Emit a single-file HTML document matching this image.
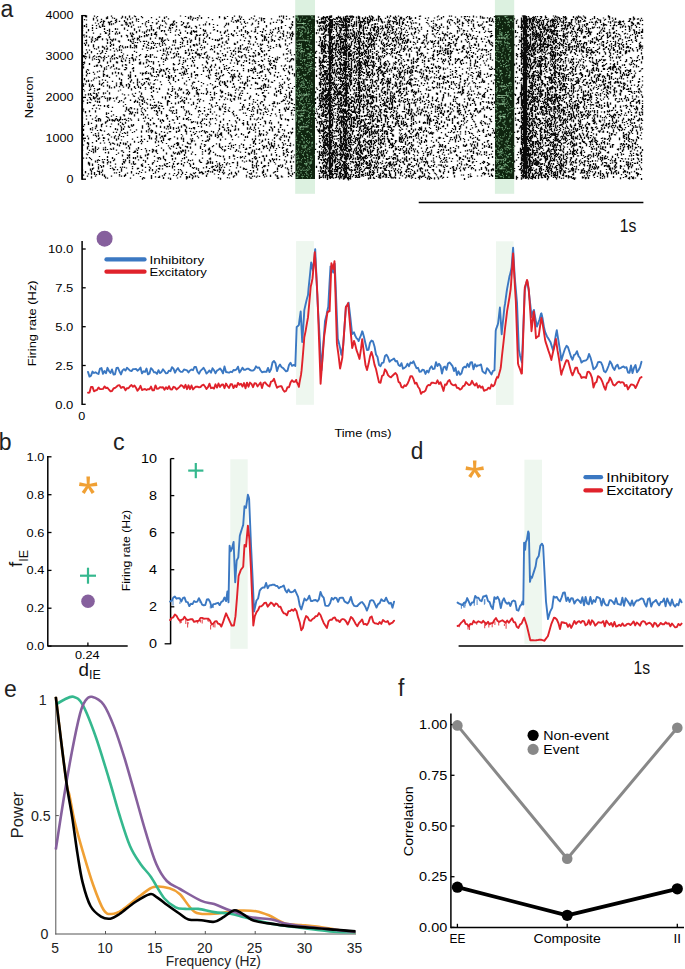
<!DOCTYPE html>
<html><head><meta charset="utf-8"><style>
html,body{margin:0;padding:0;background:#fff;width:685px;height:969px;overflow:hidden;position:relative}
text{font-family:"Liberation Sans",sans-serif}
</style></head><body>
<svg width="685" height="969" viewBox="0 0 685 969" style="position:absolute;left:0;top:0;font-family:'Liberation Sans', sans-serif">
<rect x="0" y="0" width="685" height="969" fill="#fff"/>
<text x="0.6" y="17" font-size="23" text-anchor="start" fill="#222">a</text>
<text x="-1.2" y="450.1" font-size="23" text-anchor="start" fill="#222">b</text>
<text x="113" y="450.4" font-size="23" text-anchor="start" fill="#222" textLength="11.6" lengthAdjust="spacingAndGlyphs">c</text>
<text x="410.8" y="459.3" font-size="23" text-anchor="start" fill="#222" textLength="12.6" lengthAdjust="spacingAndGlyphs">d</text>
<text x="4" y="696.7" font-size="23" text-anchor="start" fill="#222">e</text>
<text x="398" y="695.7" font-size="23" text-anchor="start" fill="#222">f</text>
<rect x="295.2" y="0" width="19.8" height="193.8" fill="#dcf1e0"/>
<rect x="494.9" y="0" width="19.3" height="193.8" fill="#dcf1e0"/>
<path d="M82 21.4v1.2m0 2.1v2.1m0 -0.2v1.2m0 -0.8v2.1m0 0.9v1.2m0 4.2v1.2m0 15v1.2m0 22v1.2m0 8.4v2.1m0 -0.6v1.2m0 10.8v1.2m0 3.4v1.2m0 5.5v1.2m0 7v1.2m0 31.2v1.2m0 18.5v1.2M83 34.5v1.2m0 19.3v1.2m0 5.9v1.2m0 0.7v1.2m0 1.1v2.1m0 14.8v1.2m0 0.3v2.1m0 2.1v1.2m0 10.5v1.2m0 6.8v1.2m0 0.6v1.2m0 14.2v1.2m0 1.8v2.1m0 2.9v2.1m0 2.4v1.2m0 4.9v1.2m0 11.9v1.2m0 15.9v1.2M84 19v1.2m0 4.7v2.1m0 7.4v1.2m0 0.8v1.2m0 5.1v1.2m0 11.7v2.1m0 3.9v2.1m0 14.4v2.1m0 10.2v1.2m0 32.5v1.2m0 15v1.2M85 16v1.2m0 22.7v1.2m0 2.9v2.1m0 7v1.2m0 -1v1.2m0 3.6v1.2m0 24.2v1.2m0 9.5v1.2m0 15.7v2.1m0 57.9v2.1M86 15.3v2.1m0 2v1.2m0 3.2v1.2m0 0.4v1.2m0 -0.4v1.2m0 4.4v1.2m0 -0.9v1.2m0 1.9v2.1m0 2.1v1.2m0 -0.8v1.2m0 0.6v2.1m0 5.5v1.2m0 5.9v1.2m0 13.1v1.2m0 -0v1.2m0 1.4v1.2m0 -1.1v2.1m0 3.6v2.1m0 32.9v1.2m0 2.1v1.2m0 33.7v1.2m0 2.9v1.2M87 51.6v1.2m0 -0.6v1.2m0 15.5v1.2m0 3v1.2m0 25.2v1.2m0 1.2v2.1m0 31.6v1.2m0 5.2v2.1m0 2.3v2.1m0 -1.2v2.1m0 -1v1.2m0 4.4v1.2m0 20.3v1.2M88 29.1v2.1m0 13.2v2.1m0 23v1.2m0 9.1v1.2m0 -0.3v1.2m0 11.3v2.1m0 -1.9v2.1m0 26.1v1.2m0 0v2.1m0 12.5v2.1m0 3.1v1.2m0 -0.1v1.2m0 0.5v1.2m0 -1v1.2m0 5.2v1.2m0 8.5v2.1m0 -0.6v1.2m0 8.9v1.2M89 36.6v1.2m0 11.8v1.2m0 3.6v1.2m0 0.6v1.2m0 0v1.2m0 4.3v2.1m0 7.8v1.2m0 9.4v1.2m0 -0.9v2.1m0 0v1.2m0 2.8v1.2m0 5.9v1.2m0 3.7v1.2m0 7.2v2.1m0 -1.6v1.2m0 37.8v1.2m0 6.2v1.2m0 4.1v1.2m0 -0.3v2.1m0 -0.8v1.2M90 87.4v1.2m0 0.3v1.2m0 3v2.1m0 2.4v2.1m0 -1v1.2m0 2.2v1.2m0 11.7v1.2m0 11.8v1.2m0 -0.1v1.2m0 27.6v1.2m0 9.4v1.2m0 -1.1v2.1M91 38.6v1.2m0 0.7v1.2m0 -0.1v1.2m0 8.3v2.1m0 27v1.2m0 4.2v1.2m0 7.9v1.2m0 3.4v1.2m0 22.3v1.2m0 7.9v1.2m0 17.7v1.2m0 7v1.2m0 10.1v2.1m0 0.3v2.1m0 1.5v2.1M92 24.7v1.2m0 1.2v2.1m0 0.7v1.2m0 5.3v2.1m0 1.1v1.2m0 16.6v1.2m0 0.7v1.2m0 23.5v2.1m0 -1.6v1.2m0 22.4v1.2m0 9.2v1.2m0 7.5v1.2m0 0.8v1.2m0 11.6v1.2m0 2.5v1.2m0 1.6v1.2m0 13.8v1.2m0 0.1v1.2m0 1.9v2.1M93 17.8v1.2m0 -0.7v2.1m0 12.2v1.2m0 10.5v2.1m0 -0.2v1.2m0 8.7v1.2m0 14.5v1.2m0 6.3v1.2m0 5.2v1.2m0 5.7v1.2m0 2.1v1.2m0 -0.4v2.1m0 -1v1.2m0 6v1.2m0 28.4v1.2m0 12.8v2.1m0 0.5v2.1m0 14.2v1.2M94 15.5v1.2m0 24.3v1.2m0 5.9v1.2m0 5.9v1.2m0 1.9v1.2m0 6.3v1.2m0 6.5v1.2m0 2.9v1.2m0 9.2v1.2m0 1v1.2m0 1.3v1.2m0 3.4v2.1m0 5.1v1.2m0 66.3v1.2m0 -0.6v2.1m0 -1v1.2M95 22.4v1.2m0 14.3v1.2m0 0.5v1.2m0 56.5v1.2m0 2v1.2m0 8.6v2.1m0 4.9v1.2m0 1.4v1.2m0 5.3v1.2m0 0.5v1.2m0 3.8v1.2m0 0.4v1.2m0 10.3v2.1m0 -0.9v2.1m0 0.2v1.2m0 0.2v1.2m0 -1.1v1.2m0 8v1.2m0 -1.1v2.1m0 12.9v1.2M96 17.3v1.2m0 6.6v1.2m0 1.5v1.2m0 10.2v1.2m0 8.2v1.2m0 6.7v1.2m0 1.2v1.2m0 4.6v2.1m0 10.6v1.2m0 14.5v2.1m0 0.3v2.1m0 9.9v1.2m0 6.8v1.2m0 3v2.1m0 2.7v2.1m0 -0.2v1.2m0 7.9v1.2m0 -0.6v1.2m0 2.7v2.1m0 31.9v1.2M97 15.9v1.2m0 2.3v2.1m0 15.4v1.2m0 0.1v2.1m0 -1.9v2.1m0 12.5v1.2m0 10.3v2.1m0 4.7v1.2m0 16.2v2.1m0 3.7v1.2m0 -0.3v1.2m0 1.6v1.2m0 1.3v2.1m0 27.1v1.2m0 17.8v1.2m0 9.6v1.2m0 0.6v1.2m0 7.8v1.2M98 23.3v1.2m0 -1.1v1.2m0 11.5v2.1m0 8.1v2.1m0 7.6v1.2m0 1.5v1.2m0 2.1v1.2m0 13v1.2m0 11.4v1.2m0 2.3v1.2m0 5.1v1.2m0 5v1.2m0 12.1v2.1m0 0.1v1.2m0 11v1.2m0 0.9v2.1m0 1.2v2.1m0 7.5v1.2m0 10.6v1.2m0 3.5v1.2m0 1v1.2m0 0.2v1.2m0 -0.4v1.2m0 1.3v1.2M99 25.4v2.1m0 8.3v2.1m0 12.6v1.2m0 4.1v1.2m0 2.5v1.2m0 -0.1v2.1m0 7.8v1.2m0 5.1v1.2m0 2.5v1.2m0 0.9v1.2m0 -1v2.1m0 3.1v2.1m0 7.3v2.1m0 1.3v2.1m0 5.3v1.2m0 8.6v1.2m0 18.3v1.2m0 17.2v1.2m0 2.8v1.2m0 9.7v2.1m0 0.1v2.1M100 21.7v1.2m0 3.8v1.2m0 5.6v1.2m0 1.4v1.2m0 15.8v1.2m0 1.9v1.2m0 7.3v1.2m0 39.1v1.2m0 12.6v2.1m0 -0.6v1.2m0 7.4v2.1m0 11.5v1.2m0 21.2v1.2M101 18.8v1.2m0 0.8v1.2m0 30.2v1.2m0 3.8v1.2m0 7v2.1m0 16.2v2.1m0 10.6v1.2m0 26.3v1.2m0 -0v2.1m0 2.8v1.2m0 34.7v2.1m0 3.7v1.2M102 23.7v2.1m0 -0.8v2.1m0 11.2v1.2m0 -0.5v1.2m0 5.5v2.1m0 2.1v2.1m0 -0.4v1.2m0 26.5v1.2m0 -1.2v1.2m0 2.6v1.2m0 11.6v1.2m0 26.4v1.2m0 9.8v1.2m0 23.3v1.2m0 1.2v1.2m0 7v2.1m0 -1.6v1.2m0 2.4v2.1M103 20.2v2.1m0 -1.4v1.2m0 -0.3v1.2m0 0.2v1.2m0 1v1.2m0 20v1.2m0 9.2v1.2m0 1.3v2.1m0 8.8v2.1m0 0.8v1.2m0 0v2.1m0 -0.7v1.2m0 5v1.2m0 2.3v1.2m0 5.5v2.1m0 42.5v2.1m0 1.1v1.2m0 6.1v1.2m0 0.4v1.2m0 -1.1v1.2m0 11v2.1m0 -1.8v1.2m0 2.2v2.1m0 -2v2.1M104 20.8v1.2m0 3.8v1.2m0 1.1v1.2m0 -0.4v1.2m0 0.8v1.2m0 15.2v2.1m0 6v2.1m0 0.8v1.2m0 7.7v1.2m0 -0.2v2.1m0 -1.8v1.2m0 4.3v1.2m0 21v1.2m0 7.6v2.1m0 23.5v1.2m0 5.8v1.2m0 3.6v1.2m0 15.3v1.2m0 14.5v2.1m0 -0.9v1.2M105 31.9v2.1m0 18.9v1.2m0 25.6v1.2m0 11.6v1.2m0 4.1v1.2m0 22.6v2.1m0 23.1v1.2m0 0.5v2.1m0 1.4v1.2m0 23.3v2.1m0 -1.9v1.2M106 17.2v2.1m0 13.3v1.2m0 4.6v1.2m0 5.9v1.2m0 1.8v1.2m0 -1.2v1.2m0 -1.1v1.2m0 1v1.2m0 4.9v1.2m0 8.1v1.2m0 1.2v1.2m0 5.5v1.2m0 35.8v1.2m0 -0.7v2.1m0 1.2v1.2m0 4v1.2m0 3.1v1.2M107 16.3v2.1m0 -0.6v1.2m0 10.9v1.2m0 8.1v2.1m0 0.6v2.1m0 3.5v1.2m0 -0.1v1.2m0 11.8v2.1m0 11v2.1m0 -1v1.2m0 4.6v1.2m0 1.7v2.1m0 3.9v1.2m0 5.9v2.1m0 0.6v1.2m0 3.7v2.1m0 9.4v1.2m0 1.8v2.1m0 12.1v1.2m0 13.8v1.2m0 5.9v2.1m0 0.9v2.1m0 1v1.2m0 0.1v1.2m0 12.9v1.2M108 21.5v1.2m0 -0.7v1.2m0 11.3v1.2m0 19.8v1.2m0 8.4v1.2m0 38.5v1.2m0 0.8v1.2m0 4.8v1.2m0 3.3v1.2m0 14.7v1.2m0 4.1v2.1m0 11v2.1m0 7.5v1.2M109 21.9v2.1m0 0.1v1.2m0 3.4v2.1m0 -0.6v2.1m0 0.4v2.1m0 1.4v2.1m0 38.5v1.2m0 7.4v2.1m0 -0.3v1.2m0 3.9v2.1m0 2.9v2.1m0 -1.1v1.2m0 -1v2.1m0 18.2v2.1m0 13.7v1.2m0 6v1.2M110 21.3v1.2m0 16.2v1.2m0 1.7v1.2m0 0v1.2m0 1v2.1m0 2.2v1.2m0 7.7v1.2m0 0.8v2.1m0 5.1v1.2m0 28.6v2.1m0 -1.5v1.2m0 27.1v1.2m0 15.9v2.1m0 2.9v1.2m0 11.8v2.1m0 1.9v1.2m0 1.5v1.2M111 15.6v1.2m0 4v1.2m0 1.2v2.1m0 14.3v1.2m0 3.3v1.2m0 11.3v1.2m0 8.4v1.2m0 19.9v1.2m0 22.2v1.2m0 3.7v1.2m0 2.6v1.2m0 2.8v1.2m0 11.8v1.2m0 11.2v1.2m0 25.5v1.2M112 17.2v1.2m0 12.5v1.2m0 7.5v2.1m0 13.2v2.1m0 1.3v1.2m0 12.8v2.1m0 6.3v1.2m0 24.9v1.2m0 11.1v1.2m0 -0.1v1.2m0 21.1v1.2m0 13.3v2.1m0 8.5v1.2M113 23.2v1.2m0 14.1v2.1m0 3.2v2.1m0 1.9v1.2m0 15.2v2.1m0 -0.6v1.2m0 30.9v1.2m0 15.3v1.2m0 4.2v1.2m0 10.8v1.2m0 9.8v1.2m0 3.7v2.1m0 10.3v1.2m0 7.2v2.1M114 17.8v1.2m0 31.6v1.2m0 1.9v2.1m0 1.8v1.2m0 -0.4v1.2m0 8.8v1.2m0 16.6v2.1m0 12.1v1.2m0 18.1v2.1m0 14.5v1.2m0 -0.8v2.1m0 4.8v1.2m0 13.7v2.1m0 -2.1v1.2m0 9.3v1.2m0 2.1v1.2M115 19.7v1.2m0 -0.9v1.2m0 0.9v1.2m0 4.7v2.1m0 2.6v2.1m0 3.6v2.1m0 -1.7v1.2m0 31.4v2.1m0 44.9v2.1m0 7.5v2.1m0 -1.4v1.2m0 5.3v1.2m0 27.1v1.2m0 1.8v1.2M116 18.7v1.2m0 0.4v2.1m0 8.8v1.2m0 -0.9v1.2m0 15.9v1.2m0 7.2v1.2m0 3v2.1m0 -1.3v1.2m0 4v2.1m0 -1.8v1.2m0 6.5v1.2m0 6.1v1.2m0 0.6v2.1m0 10.9v2.1m0 16.5v1.2m0 1v1.2m0 12.5v1.2m0 5.6v2.1m0 8.9v1.2m0 3.1v1.2m0 17.1v1.2M117 28.5v1.2m0 3.5v1.2m0 15.8v1.2m0 6.3v1.2m0 2.6v2.1m0 32.8v1.2m0 21.3v2.1m0 7.8v1.2m0 -0.8v1.2m0 13v1.2m0 -1v2.1m0 23.3v1.2M118 40.6v1.2m0 26.7v1.2m0 2.4v2.1m0 16.2v1.2m0 10.3v1.2m0 17.5v1.2m0 1.4v2.1m0 10.9v1.2m0 0.6v1.2m0 -1v1.2m0 13.2v1.2M119 20.8v1.2m0 9.8v2.1m0 -2.1v1.2m0 -0.4v1.2m0 6.6v1.2m0 -1v1.2m0 -0.4v1.2m0 3.4v1.2m0 -0.1v1.2m0 0.5v2.1m0 4.6v2.1m0 10.8v1.2m0 -1v1.2m0 7.9v2.1m0 -1.4v1.2m0 6.4v1.2m0 13v2.1m0 16.7v2.1m0 12.7v2.1m0 -1.4v1.2m0 8.8v2.1m0 25.2v1.2m0 0.9v1.2m0 0.2v1.2M120 45.1v1.2m0 9.7v1.2m0 24.7v2.1m0 -0.4v1.2m0 -0.5v1.2m0 3.9v1.2m0 25.9v2.1m0 -0.8v2.1m0 1.9v1.2m0 2.2v1.2m0 5v1.2m0 9.4v1.2m0 -0.5v1.2m0 22.9v1.2M121 17.5v1.2m0 5.8v1.2m0 9.5v2.1m0 12.2v1.2m0 1.1v1.2m0 5.4v1.2m0 0.3v2.1m0 10.6v2.1m0 -1.6v1.2m0 4.8v1.2m0 -0v1.2m0 0.5v1.2m0 0.1v2.1m0 -1.8v1.2m0 15.3v1.2m0 25.3v2.1m0 0.2v2.1m0 4.9v1.2m0 2.3v1.2m0 9.6v1.2m0 16.9v1.2m0 0.1v2.1m0 3.8v1.2M122 15.7v2.1m0 6.7v1.2m0 19.8v2.1m0 7.5v1.2m0 0.2v1.2m0 3.3v1.2m0 2.2v2.1m0 7.8v1.2m0 9.2v1.2m0 -0.8v1.2m0 7.1v1.2m0 24.5v1.2m0 2.4v2.1m0 8.1v1.2m0 16.1v1.2m0 3.1v2.1m0 6.3v2.1m0 1.6v1.2M123 47.4v1.2m0 4.8v1.2m0 3.7v1.2m0 27.1v1.2m0 13.8v1.2m0 2.7v1.2m0 7.5v1.2m0 8.6v1.2m0 2.8v2.1m0 5.9v1.2m0 5.2v2.1m0 -1v1.2m0 7.1v1.2m0 5.9v1.2m0 0.6v2.1M124 19.9v1.2m0 -0.3v1.2m0 5.6v2.1m0 39.4v1.2m0 23.9v1.2m0 3v1.2m0 14.9v2.1m0 2.2v1.2m0 -1.1v1.2m0 6.2v1.2m0 4.6v1.2m0 28v2.1m0 3.4v1.2m0 7v2.1M125 16.3v2.1m0 3.4v1.2m0 0.4v1.2m0 21.6v2.1m0 11.2v2.1m0 2.4v1.2m0 -1v1.2m0 1.5v1.2m0 1v1.2m0 26.9v1.2m0 -0.8v1.2m0 5.1v1.2m0 5.5v1.2m0 6.7v1.2m0 2v2.1m0 9v1.2m0 8.8v1.2m0 0.1v1.2m0 14v2.1m0 12.4v2.1M126 21.7v2.1m0 0.4v1.2m0 9.3v1.2m0 21.4v1.2m0 6v1.2m0 1.5v2.1m0 14.7v2.1m0 -0.7v1.2m0 20.2v1.2m0 -0.3v1.2m0 0.1v1.2m0 9.6v1.2m0 22.4v1.2m0 2.7v1.2m0 18.9v1.2M127 18.2v2.1m0 3.2v1.2m0 5v1.2m0 4.3v1.2m0 -0v1.2m0 8.3v2.1m0 6.8v1.2m0 75.5v2.1m0 -1.2v1.2m0 1.1v1.2m0 5.4v1.2m0 12.1v1.2m0 1.1v2.1m0 13.6v1.2M128 25v2.1m0 11.8v2.1m0 33.4v2.1m0 -1.4v1.2m0 1.8v1.2m0 4v1.2m0 2.2v2.1m0 5.6v1.2m0 13.2v2.1m0 6.8v1.2m0 1.3v1.2m0 4v2.1m0 17.5v2.1m0 8.2v1.2M129 15.6v2.1m0 4.5v1.2m0 34.7v1.2m0 0.6v1.2m0 0.3v2.1m0 13.1v1.2m0 6.3v2.1m0 -1.1v2.1m0 21.2v1.2m0 1.2v1.2m0 1.3v1.2m0 12.3v1.2m0 -1.2v1.2m0 18.7v1.2m0 -1.1v2.1m0 -1.4v2.1m0 -1.4v1.2m0 1.6v1.2m0 1.7v2.1m0 0.5v2.1m0 1.2v1.2m0 -1.1v1.2m0 0.1v2.1M130 18.6v1.2m0 2.7v2.1m0 7.9v2.1m0 4.9v1.2m0 -0v1.2m0 2.8v1.2m0 0.2v2.1m0 -1.6v1.2m0 23.6v2.1m0 0.8v2.1m0 -0.3v2.1m0 2.5v2.1m0 16.6v1.2m0 -0.8v1.2m0 6.1v1.2m0 2.9v1.2m0 0.1v1.2m0 4.6v1.2m0 9.9v1.2m0 12.8v2.1m0 32v1.2M131 25.7v2.1m0 7v2.1m0 4.4v1.2m0 14.7v1.2m0 20.9v1.2m0 -0.5v1.2m0 7.1v2.1m0 16.8v2.1m0 3.4v2.1m0 4.8v1.2m0 3.5v2.1m0 37v1.2m0 6.4v1.2m0 -0.7v2.1M132 17.4v1.2m0 2.6v2.1m0 9.2v2.1m0 0.9v2.1m0 1v1.2m0 2.9v1.2m0 3.1v1.2m0 5.9v2.1m0 0.9v2.1m0 4.7v1.2m0 2.9v1.2m0 24.4v1.2m0 16.7v2.1m0 11.8v1.2m0 -1.1v1.2m0 5.2v1.2m0 5.4v1.2m0 26.4v1.2m0 0.7v1.2M133 24.5v1.2m0 8.1v1.2m0 3.8v1.2m0 0.6v1.2m0 0.8v1.2m0 14.8v1.2m0 -0.4v2.1m0 5.5v2.1m0 0.6v2.1m0 10.5v1.2m0 11.7v1.2m0 27.6v2.1m0 25.8v1.2m0 3.9v2.1m0 1.9v1.2m0 0.1v2.1m0 10.2v1.2M134 15.6v1.2m0 11.4v1.2m0 0.1v1.2m0 7v1.2m0 5.6v2.1m0 -1.2v1.2m0 0.6v1.2m0 2.3v1.2m0 34.1v2.1m0 7.7v1.2m0 3.9v2.1m0 5.2v1.2m0 4.9v2.1m0 14.7v1.2m0 8.4v2.1m0 8v2.1m0 10.9v1.2M135 16.1v1.2m0 24.6v1.2m0 2.5v1.2m0 11.8v2.1m0 14.3v2.1m0 -1.4v1.2m0 10.9v1.2m0 3.8v1.2m0 5.8v2.1m0 10.1v1.2m0 37.3v2.1m0 4.5v2.1m0 4.1v1.2M136 18.2v1.2m0 -0.7v1.2m0 0.3v1.2m0 9.6v1.2m0 -0.2v1.2m0 11.8v2.1m0 -0v1.2m0 3.5v1.2m0 3.2v1.2m0 71.8v1.2m0 18v1.2m0 23.2v1.2M137 37.6v2.1m0 -0.4v1.2m0 1.6v1.2m0 35.3v1.2m0 -0.1v1.2m0 0.4v2.1m0 0.3v2.1m0 15v2.1m0 5.6v2.1m0 1v2.1m0 23.1v1.2m0 11.7v1.2m0 1v2.1m0 1.4v2.1m0 10.3v1.2m0 -0.6v1.2M138 18.7v1.2m0 1v1.2m0 4.5v1.2m0 10.2v1.2m0 46.6v2.1m0 9.6v1.2m0 19.7v1.2m0 0.2v1.2m0 20.8v1.2m0 4.1v2.1m0 10.1v1.2m0 -1.2v1.2m0 7.3v1.2m0 4.1v1.2M139 29.6v2.1m0 3.8v1.2m0 0v1.2m0 1.6v1.2m0 14.3v1.2m0 2.9v1.2m0 2v1.2m0 -0.3v1.2m0 17.2v1.2m0 8.5v1.2m0 6.5v1.2m0 2.1v1.2m0 0.8v1.2m0 65.5v1.2M140 26.2v1.2m0 13.7v1.2m0 11.8v1.2m0 6.3v2.1m0 -0.4v1.2m0 8.1v1.2m0 13v2.1m0 6.3v2.1m0 8.5v1.2m0 33.9v1.2m0 13.4v1.2m0 0.3v1.2m0 17.7v1.2M141 16v1.2m0 18.8v1.2m0 46.1v1.2m0 8.1v2.1m0 1.6v1.2m0 2v1.2m0 7.6v1.2m0 1.1v1.2m0 2.3v1.2m0 15.3v2.1m0 2.8v2.1m0 -1.4v1.2m0 1.5v1.2m0 -0.2v1.2m0 1.7v1.2m0 -1v1.2m0 4.7v1.2m0 6.9v1.2m0 -0.9v1.2m0 5.6v2.1m0 5.7v1.2M142 17v1.2m0 4.8v1.2m0 7.2v1.2m0 15.9v1.2m0 22.7v2.1m0 -1v2.1m0 3.1v1.2m0 4.8v1.2m0 10.3v1.2m0 2v2.1m0 -2.1v1.2m0 0.1v1.2m0 1v2.1m0 2.2v1.2m0 3.6v1.2m0 12.1v2.1m0 -0.7v2.1m0 12.3v1.2m0 21.1v1.2m0 0.4v2.1m0 2.4v1.2m0 7v2.1M143 40.7v1.2m0 3v1.2m0 -0.3v1.2m0 15.4v2.1m0 8.2v1.2m0 9.8v1.2m0 12.5v1.2m0 -0.1v1.2m0 13.7v2.1m0 2.3v1.2m0 40.8v1.2m0 16v1.2M144 31.6v2.1m0 -1v1.2m0 1.2v2.1m0 3.6v1.2m0 1v1.2m0 37.9v2.1m0 16v1.2m0 0.3v1.2m0 5.8v1.2m0 10.6v1.2m0 17.1v1.2m0 37.5v1.2M145 22.5v1.2m0 0.5v1.2m0 30.5v2.1m0 8.6v1.2m0 4.3v2.1m0 3.9v1.2m0 7.6v1.2m0 0.5v1.2m0 20.3v1.2m0 -1.1v1.2m0 4.9v2.1m0 29.7v1.2m0 5.1v2.1m0 3.7v1.2m0 0.2v1.2m0 4v1.2m0 3.5v1.2M146 21v1.2m0 3.8v1.2m0 3.2v2.1m0 1.5v2.1m0 -0.7v1.2m0 4.1v1.2m0 4.5v2.1m0 5.4v1.2m0 0.1v2.1m0 1.9v1.2m0 1.1v2.1m0 7.3v1.2m0 0.4v1.2m0 4.4v1.2m0 1.7v1.2m0 20v1.2m0 20v1.2m0 5.6v2.1m0 17.4v1.2m0 0.3v1.2M147 29.3v1.2m0 4.8v1.2m0 7.6v1.2m0 4.6v1.2m0 8.2v1.2m0 5.4v1.2m0 10.8v1.2m0 -0.4v1.2m0 18.8v1.2m0 3.6v1.2m0 2.9v1.2m0 5.4v1.2m0 6.8v1.2m0 17.4v1.2m0 11.7v2.1m0 1.4v2.1M148 20.1v1.2m0 0.5v1.2m0 -1.1v1.2m0 11v1.2m0 6.4v2.1m0 1.1v1.2m0 1.5v1.2m0 7v1.2m0 3.4v1.2m0 3.1v1.2m0 6.7v1.2m0 -1.1v1.2m0 3.5v2.1m0 3.1v2.1m0 33.1v1.2m0 3.7v1.2m0 -0.5v2.1m0 0.5v1.2m0 2v1.2m0 1v1.2m0 2.3v1.2m0 17.1v2.1m0 8.6v1.2M149 29.3v2.1m0 -1.5v1.2m0 29.9v1.2m0 17.1v1.2m0 3.7v1.2m0 42.3v1.2m0 -0.7v1.2m0 5.9v2.1m0 -0.6v1.2m0 -0.9v2.1m0 10.8v1.2m0 15.3v1.2m0 1.4v2.1M150 25v1.2m0 11.4v2.1m0 8.5v1.2m0 4.7v1.2m0 -0.6v1.2m0 0.1v2.1m0 7.8v1.2m0 5.5v2.1m0 -1.1v1.2m0 7.6v1.2m0 4.2v1.2m0 10.2v1.2m0 3.4v2.1m0 13.1v2.1m0 3.2v1.2m0 4.8v1.2m0 36v1.2M151 17.1v1.2m0 6.9v1.2m0 0.7v2.1m0 -0.1v1.2m0 2.8v1.2m0 -0.5v2.1m0 6.9v1.2m0 2.3v1.2m0 -0v1.2m0 12.4v1.2m0 5.9v1.2m0 5.1v2.1m0 9.5v2.1m0 0.1v1.2m0 2.2v1.2m0 2.1v1.2m0 11v2.1m0 20.3v2.1m0 0.4v1.2m0 4.2v2.1m0 35.3v2.1m0 -0.2v2.1M152 22v1.2m0 17.7v1.2m0 12.1v1.2m0 11.9v1.2m0 6.7v1.2m0 -1.1v1.2m0 19.2v2.1m0 -1.3v1.2m0 7.2v1.2m0 1.4v1.2m0 8.8v1.2m0 11.4v2.1m0 16.5v1.2m0 0.7v2.1m0 9.9v2.1m0 4.4v2.1M153 29.1v2.1m0 10.8v2.1m0 2.9v2.1m0 12.2v2.1m0 -0.1v1.2m0 3.3v2.1m0 0.3v1.2m0 0.3v1.2m0 10.7v1.2m0 1.6v1.2m0 -0.5v1.2m0 1.6v2.1m0 6.7v1.2m0 6.7v1.2m0 14.8v1.2m0 -0.5v1.2m0 24.8v2.1m0 10.6v1.2m0 9.7v1.2M154 33.6v1.2m0 -0.9v1.2m0 9.6v1.2m0 10.7v1.2m0 18.1v1.2m0 2.8v1.2m0 2.1v1.2m0 17.3v1.2m0 1.8v1.2m0 1.5v1.2m0 1.4v1.2m0 11.8v1.2m0 31.6v1.2m0 3.3v1.2M155 31.9v2.1m0 -0.1v1.2m0 2.4v1.2m0 4.4v1.2m0 34.7v1.2m0 24.6v1.2m0 0.8v1.2m0 23.5v1.2m0 -0.1v1.2m0 4.5v1.2m0 1.7v2.1m0 6.9v1.2m0 19.9v2.1m0 2.9v1.2M156 18.7v1.2m0 2.5v2.1m0 7v1.2m0 1v1.2m0 -1.1v1.2m0 0.3v1.2m0 10.3v1.2m0 8.8v1.2m0 12.9v2.1m0 3v1.2m0 10.8v1.2m0 15.4v2.1m0 3.2v2.1m0 1.5v1.2m0 10.4v1.2m0 -0.3v1.2m0 5.5v1.2m0 1.3v2.1m0 -0.8v2.1m0 0.9v1.2m0 5.2v1.2m0 2.5v2.1m0 -0.1v1.2m0 13v1.2m0 2.5v1.2M157 22.4v1.2m0 4v1.2m0 14.1v1.2m0 6.4v1.2m0 17.2v1.2m0 4v1.2m0 4.1v1.2m0 10.9v1.2m0 18.6v2.1m0 1.4v1.2m0 36.9v1.2m0 3.3v1.2m0 2.2v1.2M158 20.8v1.2m0 39.1v1.2m0 12v2.1m0 24.8v2.1m0 3.2v1.2m0 0.2v1.2m0 9.2v1.2m0 -1v1.2m0 21v1.2m0 -0.6v1.2m0 2.2v1.2m0 11.3v1.2m0 -1.1v2.1m0 8.6v1.2m0 1.8v1.2m0 4.5v1.2M159 16.5v1.2m0 8.4v2.1m0 0.1v1.2m0 7.8v2.1m0 3.3v1.2m0 0.4v1.2m0 18.8v2.1m0 -2v1.2m0 -0.2v1.2m0 4v1.2m0 0.2v1.2m0 14.5v1.2m0 0v1.2m0 14.8v1.2m0 1.6v1.2m0 0.7v1.2m0 -0.7v1.2m0 22.1v2.1m0 21.4v1.2m0 7v1.2m0 1.4v2.1m0 6v2.1M160 24.6v1.2m0 11.7v1.2m0 7.2v1.2m0 2.7v1.2m0 17.4v1.2m0 0.6v1.2m0 -0.6v1.2m0 9.2v1.2m0 20.2v1.2m0 15.6v2.1m0 -0.6v1.2m0 3.7v2.1m0 9.3v1.2m0 19.3v1.2m0 -1.2v2.1m0 5.6v1.2M161 29.9v2.1m0 6.5v2.1m0 0.1v1.2m0 15.3v2.1m0 9.8v2.1m0 12.9v1.2m0 17.6v1.2m0 1.5v1.2m0 4.2v2.1m0 0v1.2m0 7.9v1.2m0 7.6v1.2m0 3.6v1.2m0 3v2.1m0 5.5v1.2M162 19.8v1.2m0 -1v2.1m0 3v1.2m0 3.6v1.2m0 6v2.1m0 0.4v1.2m0 0.9v2.1m0 0.4v1.2m0 -0.5v1.2m0 8.7v1.2m0 18.8v2.1m0 19.6v1.2m0 -0.7v1.2m0 7.5v1.2m0 12v2.1m0 14.4v2.1m0 4.5v1.2m0 22.1v1.2m0 1.8v1.2m0 5.7v1.2M163 40.8v1.2m0 6.4v2.1m0 0.1v1.2m0 1.2v1.2m0 4.6v1.2m0 1.3v1.2m0 1.4v1.2m0 4.2v2.1m0 36.6v1.2m0 10.7v2.1m0 15.6v1.2m0 0v2.1m0 8.3v2.1m0 4.4v1.2m0 -0.2v2.1m0 18.2v2.1M164 16.8v2.1m0 1.7v1.2m0 8.1v1.2m0 -0v1.2m0 7.5v1.2m0 1.7v1.2m0 9.5v1.2m0 15.9v1.2m0 54.6v2.1m0 3.4v1.2m0 2v2.1m0 21.6v1.2m0 3.6v1.2m0 -0.1v1.2m0 7.9v1.2m0 -0.3v1.2M165 22.3v1.2m0 3v1.2m0 5.9v1.2m0 4.6v1.2m0 3.6v1.2m0 5v1.2m0 6.9v1.2m0 0.2v1.2m0 11.2v1.2m0 -0.5v2.1m0 21.1v2.1m0 -1.4v1.2m0 0.1v1.2m0 35v1.2m0 -0.1v1.2m0 22.4v2.1m0 3.7v1.2m0 6.7v1.2M166 16.2v1.2m0 6v1.2m0 9.6v1.2m0 12.2v2.1m0 4.8v1.2m0 1.1v2.1m0 9.2v2.1m0 6.5v1.2m0 36.4v1.2m0 -0.7v2.1m0 11.4v1.2m0 13.4v1.2m0 8.4v2.1m0 8.6v1.2m0 1.7v1.2M167 38.4v1.2m0 11.7v1.2m0 -0.9v2.1m0 4.7v1.2m0 8.1v1.2m0 23.4v2.1m0 -1.6v1.2m0 6.2v1.2m0 -0.5v2.1m0 -1.7v2.1m0 0.2v2.1m0 9.2v1.2m0 -1.2v1.2m0 1.4v2.1m0 5.8v2.1m0 5.1v1.2m0 29.3v1.2m0 1.8v1.2M168 18.2v1.2m0 10.2v1.2m0 8.9v1.2m0 7.1v1.2m0 4.8v1.2m0 15.5v1.2m0 3.2v1.2m0 -0.6v2.1m0 -0.4v1.2m0 1.1v1.2m0 7.5v2.1m0 -1.5v1.2m0 3v1.2m0 5.7v2.1m0 -2v1.2m0 24.6v1.2m0 1.2v1.2m0 9.2v1.2m0 5.2v1.2m0 31.1v1.2M169 26.8v2.1m0 17.6v1.2m0 21.2v1.2m0 2.5v1.2m0 2.1v1.2m0 -0.1v2.1m0 -1.1v1.2m0 2.5v1.2m0 13.2v2.1m0 2.7v1.2m0 7.4v1.2m0 10.1v1.2m0 1.6v2.1m0 5.4v1.2m0 6v2.1m0 6.8v1.2m0 13.5v1.2m0 2.6v1.2m0 6.4v1.2M170 24.2v2.1m0 -2.1v1.2m0 2.4v1.2m0 0.6v1.2m0 1v1.2m0 18.2v2.1m0 30v1.2m0 9.4v1.2m0 12.1v1.2m0 2v1.2m0 14.6v2.1m0 -0.5v1.2m0 2.1v1.2m0 5.7v1.2m0 9.1v1.2m0 -1.1v1.2m0 28.2v2.1M171 23.8v1.2m0 23.2v2.1m0 6.9v1.2m0 16.5v1.2m0 0.1v1.2m0 13.5v1.2m0 2.8v1.2m0 6.6v1.2m0 6.4v1.2m0 34.2v1.2m0 7.8v2.1M172 23.3v2.1m0 -0.7v1.2m0 1.1v1.2m0 16.4v1.2m0 40.1v1.2m0 0.6v1.2m0 0.4v2.1m0 15.2v1.2m0 3.8v2.1m0 -1.4v1.2m0 5.8v1.2m0 35.1v1.2m0 1.3v2.1m0 5.1v2.1m0 -0.1v1.2M173 20.7v1.2m0 0.2v1.2m0 1.2v1.2m0 14.3v1.2m0 -0.9v2.1m0 -2v1.2m0 11.5v1.2m0 2.9v1.2m0 4.7v2.1m0 2v1.2m0 -0.3v2.1m0 6.9v2.1m0 -0.2v2.1m0 25.4v1.2m0 2.3v1.2m0 8.4v1.2m0 6.1v2.1m0 -0.5v1.2m0 15.7v2.1m0 3.9v1.2m0 -0.4v1.2m0 9.3v2.1m0 -1.1v1.2m0 9.9v1.2M174 20.6v1.2m0 1.7v1.2m0 19.8v1.2m0 6.7v1.2m0 2.1v2.1m0 6.2v1.2m0 4.5v1.2m0 0.6v1.2m0 15.9v1.2m0 23.1v1.2m0 8.2v1.2m0 12.8v1.2m0 6.2v1.2m0 8.2v1.2m0 6.6v1.2m0 3.9v1.2m0 2v1.2m0 2.5v1.2M175 30.6v1.2m0 2.6v1.2m0 -1.1v1.2m0 3.9v2.1m0 0.3v1.2m0 4.3v2.1m0 19.7v1.2m0 4.5v2.1m0 3.9v1.2m0 9.2v2.1m0 -0.1v1.2m0 1.4v1.2m0 0.5v1.2m0 3.5v2.1m0 -2v1.2m0 48.6v1.2m0 3.9v1.2m0 -0.3v1.2M176 22v1.2m0 2.2v2.1m0 1.5v1.2m0 23.1v2.1m0 -0.2v1.2m0 52.9v2.1m0 0.6v1.2m0 -0.6v1.2m0 1.9v1.2m0 10.8v1.2m0 1.9v2.1m0 9.8v1.2m0 3.8v1.2m0 26.2v1.2M177 47.5v1.2m0 -1.1v1.2m0 2.2v1.2m0 16.9v1.2m0 23v2.1m0 0.8v1.2m0 19.6v2.1m0 -0.3v1.2m0 17.5v2.1m0 2.4v2.1m0 -0.9v2.1m0 -1.3v2.1m0 6.7v2.1m0 8v2.1m0 8.9v1.2m0 2.3v1.2M178 34.1v1.2m0 12.2v2.1m0 3.4v2.1m0 -1.4v1.2m0 1.3v1.2m0 6.4v1.2m0 13.9v2.1m0 8.6v1.2m0 4.4v1.2m0 5.2v2.1m0 22.9v2.1m0 2v1.2m0 10.7v1.2m0 -0.6v1.2m0 -0.2v1.2m0 6.1v2.1m0 9.2v1.2m0 5v1.2m0 1.2v1.2m0 0v1.2M179 29.6v1.2m0 4.1v1.2m0 23.3v2.1m0 1.3v1.2m0 8.8v1.2m0 13.2v2.1m0 26.7v1.2m0 5.6v1.2m0 5.3v2.1m0 15.1v1.2m0 4.9v2.1M180 15.4v1.2m0 15.2v2.1m0 7.9v1.2m0 0.9v1.2m0 1.1v2.1m0 7.9v2.1m0 14.4v1.2m0 15.4v1.2m0 7.3v1.2m0 2.1v1.2m0 44.7v2.1m0 1.4v1.2m0 17.4v1.2m0 5.9v1.2M181 21v1.2m0 2.4v1.2m0 11.8v1.2m0 29.4v1.2m0 5.1v1.2m0 12.5v2.1m0 6.1v1.2m0 2.7v1.2m0 4.5v2.1m0 17.3v1.2m0 -0.1v1.2m0 6.2v1.2m0 2.2v2.1m0 -1.9v1.2m0 12.4v2.1m0 7.1v1.2m0 -1.2v1.2m0 1.4v2.1m0 5.3v1.2m0 2.6v1.2M182 24v1.2m0 12.9v2.1m0 1.5v1.2m0 0.2v1.2m0 1.5v1.2m0 16.8v1.2m0 1.1v1.2m0 4.5v1.2m0 4.6v1.2m0 20.4v2.1m0 34.1v1.2m0 7.8v1.2m0 4v2.1m0 6.3v1.2m0 12.6v2.1m0 -1.3v1.2M183 22v2.1m0 15.9v1.2m0 16.3v1.2m0 1.3v1.2m0 0.9v1.2m0 3.1v2.1m0 4.2v1.2m0 0.3v1.2m0 16.3v2.1m0 7.5v1.2m0 3.6v1.2m0 0.1v1.2m0 9.2v2.1m0 4.5v1.2m0 12.1v1.2m0 -0.5v2.1m0 0.2v1.2m0 7.8v2.1m0 12.7v2.1M184 26v1.2m0 9.8v1.2m0 7.3v1.2m0 23.7v2.1m0 -0.3v2.1m0 8.2v2.1m0 12.4v1.2m0 1.9v1.2m0 0.5v2.1m0 5.4v1.2m0 13.4v2.1m0 -1.8v2.1m0 27.6v2.1m0 1.1v2.1m0 2.8v1.2M185 15.9v1.2m0 9.2v1.2m0 -0.4v1.2m0 2.3v1.2m0 4.9v1.2m0 12.1v1.2m0 0.6v2.1m0 5.9v1.2m0 -0.9v2.1m0 6v1.2m0 4.4v1.2m0 38.4v1.2m0 0.3v1.2m0 9.2v1.2m0 2.6v1.2m0 -0.5v1.2m0 -1.1v2.1m0 13.8v1.2m0 2.4v2.1m0 0.2v2.1m0 20.1v1.2M186 25.6v1.2m0 0.2v1.2m0 8.9v1.2m0 13.9v1.2m0 15.6v2.1m0 -0.1v1.2m0 8.3v1.2m0 2.7v1.2m0 3.7v1.2m0 -1.1v1.2m0 2.6v1.2m0 3.2v1.2m0 0v1.2m0 10.6v2.1m0 -1.5v2.1m0 4.6v2.1m0 6.5v2.1m0 2.1v2.1m0 0.5v1.2m0 11.8v1.2m0 9.1v1.2m0 14v1.2m0 2.9v2.1m0 -0.6v2.1M187 22.5v2.1m0 7.3v2.1m0 -1.4v1.2m0 6.5v2.1m0 -0.5v1.2m0 0.7v1.2m0 13.2v1.2m0 5.6v1.2m0 6.9v1.2m0 -1.2v1.2m0 15v1.2m0 1.4v2.1m0 24.1v1.2m0 22.4v2.1m0 2.3v2.1m0 13.3v1.2m0 13.7v2.1m0 -2v1.2M188 16.8v2.1m0 -1.5v1.2m0 3.7v1.2m0 3.3v1.2m0 20.7v1.2m0 0.2v1.2m0 3.6v1.2m0 11.8v1.2m0 7.8v1.2m0 12.6v1.2m0 2.2v1.2m0 6.9v1.2m0 7.1v2.1m0 4.3v1.2m0 1.2v1.2m0 22.6v1.2m0 6v1.2m0 7.7v1.2m0 -0.6v1.2M189 25.5v2.1m0 10.8v1.2m0 12.9v2.1m0 -0.5v1.2m0 23.8v1.2m0 11.7v2.1m0 18.6v2.1m0 13v1.2m0 14.4v1.2m0 18.5v1.2m0 11.5v2.1M190 15.7v2.1m0 0.5v1.2m0 12.7v2.1m0 -1.8v1.2m0 6.5v1.2m0 0.3v1.2m0 2.7v2.1m0 10.3v1.2m0 39.3v1.2m0 19.4v1.2m0 10.4v1.2m0 6.5v1.2m0 3.7v1.2m0 2.1v2.1m0 11.3v1.2m0 3.1v2.1m0 -1.6v2.1m0 6.7v1.2M191 16.4v1.2m0 9.9v1.2m0 1.9v1.2m0 0v1.2m0 0.3v1.2m0 -0.7v1.2m0 4.4v2.1m0 7.6v2.1m0 13.5v2.1m0 6v2.1m0 0.4v2.1m0 7.9v1.2m0 17.8v1.2m0 8.6v1.2m0 5.9v2.1m0 4.8v1.2m0 4.9v2.1m0 3.1v1.2m0 -0.2v2.1m0 10.8v1.2m0 -1v1.2m0 19.4v1.2m0 -0.9v1.2M192 18.7v2.1m0 32v1.2m0 1.9v2.1m0 1.9v2.1m0 20.4v2.1m0 2.9v2.1m0 32.3v1.2m0 14.9v1.2m0 0.4v2.1m0 10v1.2m0 6.8v1.2m0 6.3v1.2m0 6.7v1.2m0 1v2.1M193 17.5v1.2m0 11.2v2.1m0 12v2.1m0 3.8v1.2m0 6.6v1.2m0 3.2v1.2m0 18.3v1.2m0 3.8v1.2m0 13.9v1.2m0 0v2.1m0 16v1.2m0 4.8v1.2m0 -0.7v1.2m0 3v1.2m0 29.8v1.2m0 -0v1.2m0 2.7v1.2m0 3.6v1.2m0 2.4v1.2M194 30.7v2.1m0 -1.2v1.2m0 11.5v2.1m0 13.4v1.2m0 3.6v2.1m0 4.3v2.1m0 8.7v1.2m0 4.7v1.2m0 6.7v1.2m0 30.3v1.2m0 -0.9v2.1m0 4.2v1.2m0 5.5v1.2m0 25.3v1.2m0 4.9v1.2M195 17.7v1.2m0 6.9v1.2m0 4.1v1.2m0 4.2v2.1m0 -0.8v1.2m0 -0.3v1.2m0 11.8v2.1m0 2.5v1.2m0 17v1.2m0 -0.8v1.2m0 1.5v1.2m0 29.2v1.2m0 12.2v1.2m0 10.3v1.2m0 9.4v2.1m0 8.4v1.2m0 16.8v1.2m0 2v2.1M196 26.3v2.1m0 -1.5v1.2m0 2.4v2.1m0 1.5v2.1m0 -1.8v2.1m0 -2v1.2m0 7.8v2.1m0 5.8v1.2m0 0.2v1.2m0 20v1.2m0 11.7v2.1m0 1.1v1.2m0 0.3v1.2m0 0.5v1.2m0 11v2.1m0 23.4v1.2m0 35.4v2.1M197 17.1v1.2m0 1v1.2m0 14.3v1.2m0 8.6v1.2m0 2.9v2.1m0 2.6v2.1m0 11.5v2.1m0 5v2.1m0 12.8v1.2m0 1.6v2.1m0 -0.3v1.2m0 4.2v1.2m0 2.5v1.2m0 17.6v2.1m0 -0.5v1.2m0 11.4v1.2m0 38.5v1.2M198 17.4v1.2m0 34.7v2.1m0 25.4v1.2m0 11v2.1m0 0.3v1.2m0 2v1.2m0 10.5v2.1m0 4.1v1.2m0 8.2v1.2m0 10.2v1.2m0 29.8v1.2m0 0.2v1.2m0 -1.2v1.2m0 5.9v1.2M199 15.3v1.2m0 8v1.2m0 9.1v1.2m0 1.5v2.1m0 -2v1.2m0 0.7v2.1m0 0.9v2.1m0 8.8v1.2m0 -0.2v2.1m0 0.7v1.2m0 30.7v1.2m0 9.9v2.1m0 4.4v1.2m0 2v1.2m0 3.1v1.2m0 15.8v1.2m0 27.2v2.1m0 9.9v2.1M200 27.7v1.2m0 5.4v1.2m0 11.2v1.2m0 7.1v1.2m0 42.6v1.2m0 10.8v1.2m0 9.7v1.2m0 -0.4v1.2m0 22.1v1.2m0 -0.2v2.1m0 12.6v1.2m0 -1v1.2m0 9.1v1.2M201 16.9v2.1m0 25.7v1.2m0 3.2v1.2m0 2.9v1.2m0 -1.1v1.2m0 19.4v1.2m0 6.8v1.2m0 2.3v1.2m0 6.1v1.2m0 26.8v1.2m0 1.4v1.2m0 1.2v2.1m0 3v1.2m0 3.1v1.2m0 7v1.2m0 17.4v1.2m0 8.2v1.2m0 -1.1v1.2m0 -0.7v1.2M202 47.2v1.2m0 8.5v1.2m0 6.1v1.2m0 47.7v1.2m0 4.2v2.1m0 -0.9v1.2m0 9v1.2m0 8.8v1.2m0 -1.1v1.2m0 7.7v1.2m0 1.1v1.2m0 1.1v1.2m0 2.9v1.2m0 13v1.2m0 -0.6v2.1M203 24.2v1.2m0 3.5v1.2m0 0v1.2m0 2.5v2.1m0 3.5v2.1m0 0.2v1.2m0 14.4v1.2m0 8.8v1.2m0 1.3v2.1m0 11.2v1.2m0 8.8v1.2m0 5.9v1.2m0 65.9v1.2m0 4.6v1.2M204 30.5v1.2m0 -1.1v1.2m0 1v1.2m0 3.7v1.2m0 7.4v2.1m0 -1.9v1.2m0 5.1v2.1m0 52.2v1.2m0 1.6v1.2m0 -0.6v1.2m0 6.6v1.2m0 3.6v1.2m0 6v2.1m0 11.5v1.2m0 0.5v1.2m0 -0.9v1.2M205 23.3v1.2m0 -0.1v1.2m0 4.2v2.1m0 9v2.1m0 9.1v1.2m0 12.4v1.2m0 -0.3v1.2m0 46.6v1.2m0 16.2v1.2m0 -0.4v1.2m0 7v1.2m0 2.5v1.2m0 4.1v2.1m0 19.3v1.2M206 21.4v1.2m0 9.8v1.2m0 2.7v1.2m0 13.9v1.2m0 3.8v2.1m0 2.1v2.1m0 4.4v1.2m0 7.5v1.2m0 11v1.2m0 0.2v1.2m0 2.2v2.1m0 21v1.2m0 1.7v1.2m0 4v2.1m0 5v1.2m0 8.2v1.2m0 21.5v1.2m0 1.7v1.2m0 -0.2v1.2m0 6.5v2.1M207 34.3v2.1m0 -1.1v1.2m0 7v1.2m0 10v2.1m0 0.6v1.2m0 3.5v2.1m0 5.9v1.2m0 13.1v1.2m0 5.2v1.2m0 0v1.2m0 20.2v2.1m0 16.1v1.2m0 2.8v2.1m0 1.9v1.2m0 19.4v1.2m0 0.8v2.1m0 6.4v1.2m0 1.3v1.2M208 17v1.2m0 40.4v1.2m0 8.7v1.2m0 5.1v1.2m0 0.2v2.1m0 30.5v1.2m0 3.9v1.2m0 24.3v2.1m0 6.9v2.1m0 2.7v1.2m0 7.1v2.1m0 6.5v2.1M209 23.1v2.1m0 11.8v1.2m0 -0.3v1.2m0 17.4v1.2m0 12.3v2.1m0 -0.7v2.1m0 3.7v2.1m0 23.7v1.2m0 17.2v1.2m0 -0.6v1.2m0 2.2v1.2m0 7.1v1.2m0 1.4v1.2m0 0.5v2.1m0 7.4v1.2m0 0v1.2m0 1.9v1.2m0 -0.5v2.1m0 -1.4v1.2m0 3.8v1.2m0 8.5v1.2M210 32.5v1.2m0 15.4v1.2m0 15.7v2.1m0 6.2v1.2m0 -1.1v1.2m0 7.4v1.2m0 7.6v1.2m0 1v1.2m0 4.4v1.2m0 7.7v1.2m0 1.1v2.1m0 5.2v2.1m0 3.3v1.2m0 9.9v1.2m0 14.3v2.1m0 5.2v2.1m0 -1v1.2m0 1.1v2.1m0 -1.3v2.1m0 7.5v1.2M211 45.7v1.2m0 1.2v1.2m0 15.1v2.1m0 2.3v2.1m0 25.8v1.2m0 6.4v2.1m0 24.4v1.2m0 2.4v2.1m0 30v1.2M212 19.1v1.2m0 18.4v1.2m0 9.2v1.2m0 7.2v1.2m0 1.5v1.2m0 22.9v1.2m0 11.6v1.2m0 0.2v2.1m0 5.9v1.2m0 5.7v1.2m0 3.5v1.2m0 26.8v1.2m0 14.3v1.2m0 -0.9v2.1m0 1.7v1.2m0 0.2v1.2m0 2.4v2.1M213 23.9v1.2m0 1.6v1.2m0 1.5v1.2m0 29.1v1.2m0 26.5v2.1m0 41.5v1.2m0 -1v2.1m0 11.7v1.2m0 5.6v1.2m0 12.9v1.2m0 1.9v1.2M214 29.1v1.2m0 14.8v1.2m0 0.3v1.2m0 -0.4v1.2m0 2.1v2.1m0 13.7v1.2m0 19v1.2m0 3.9v1.2m0 0.1v1.2m0 -0.1v1.2m0 1.8v1.2m0 13v1.2m0 56.2v2.1m0 2.5v1.2M215 38.9v2.1m0 22.8v2.1m0 7.1v1.2m0 0.7v1.2m0 4.6v1.2m0 3.8v2.1m0 17.7v1.2m0 11.1v1.2m0 4.1v1.2m0 9.5v1.2m0 -0.1v2.1m0 16.5v2.1m0 9.4v1.2m0 3.5v1.2M216 57.7v1.2m0 10.5v1.2m0 1.6v2.1m0 1.3v1.2m0 1.5v1.2m0 13.4v1.2m0 7.8v2.1m0 10.5v1.2m0 3.7v1.2m0 22.7v1.2m0 16.6v1.2m0 4.4v1.2M217 24.7v1.2m0 4v2.1m0 7.2v2.1m0 5.4v1.2m0 4.5v2.1m0 3.7v1.2m0 18.6v1.2m0 6.7v1.2m0 17.8v1.2m0 26.3v1.2m0 1v1.2m0 1.2v1.2m0 16.8v1.2m0 7.2v1.2m0 0.7v1.2m0 -0.7v1.2m0 2.4v2.1M218 40.1v1.2m0 2.5v1.2m0 -0.4v1.2m0 7.4v1.2m0 2.2v1.2m0 14.7v2.1m0 4.4v1.2m0 50v1.2m0 3.9v2.1m0 36.5v1.2m0 2.1v1.2M219 16v2.1m0 -1.9v2.1m0 20.2v2.1m0 3.2v1.2m0 14.1v1.2m0 6.5v2.1m0 7.7v1.2m0 -0.1v1.2m0 2.9v1.2m0 -0.3v2.1m0 14.3v1.2m0 6.3v1.2m0 0.3v2.1m0 5.3v1.2m0 7.6v2.1m0 1.4v2.1m0 4v1.2m0 8.2v2.1m0 -1.1v1.2m0 -0.2v2.1m0 -1.5v1.2m0 8.1v1.2m0 6v2.1m0 -0.3v1.2m0 1.1v2.1m0 0.2v1.2m0 0.8v1.2m0 -0.5v1.2M220 31.2v2.1m0 16.9v1.2m0 5.6v1.2m0 2.3v2.1m0 13v1.2m0 3.8v1.2m0 2.9v1.2m0 3.6v2.1m0 4v1.2m0 11.5v2.1m0 10.4v1.2m0 -0.3v1.2m0 9.8v1.2m0 0.2v1.2m0 3.4v2.1m0 6v1.2m0 7.8v1.2m0 8v1.2m0 2.6v2.1m0 6.8v2.1M221 34.8v1.2m0 1.5v2.1m0 5.8v1.2m0 -1.1v2.1m0 22.4v1.2m0 -0.1v2.1m0 17.6v1.2m0 -0.5v2.1m0 3v1.2m0 34.4v2.1m0 -0.4v2.1m0 11.8v1.2m0 18v1.2M222 37.6v1.2m0 2.6v2.1m0 -0.9v1.2m0 9.3v1.2m0 4.6v2.1m0 14.1v1.2m0 4.9v2.1m0 7.4v2.1m0 -1v1.2m0 2.5v1.2m0 8.7v2.1m0 18.7v1.2m0 -0.9v1.2m0 8.7v1.2m0 8.7v1.2m0 1.6v1.2m0 13.6v1.2m0 0.3v1.2m0 5.1v1.2M223 55v1.2m0 7.9v1.2m0 8.6v1.2m0 -0.9v1.2m0 28.2v1.2m0 8.8v1.2m0 3.6v2.1m0 3.7v1.2m0 1.3v1.2m0 27.6v2.1m0 11.8v2.1m0 -1.9v1.2m0 2v1.2m0 -0.6v1.2M224 16.7v2.1m0 -1.4v2.1m0 6.7v1.2m0 4.4v2.1m0 10.5v1.2m0 2.6v1.2m0 9.3v1.2m0 6.2v1.2m0 0.5v2.1m0 11.2v2.1m0 -0.4v2.1m0 14.1v1.2m0 7.4v1.2m0 2.2v1.2m0 16.4v2.1m0 18.5v1.2m0 0.1v1.2m0 6.6v2.1m0 1.5v1.2m0 3.6v1.2m0 4.4v1.2M225 17.8v1.2m0 5.8v1.2m0 4.4v2.1m0 8.9v1.2m0 11.3v1.2m0 -0.4v2.1m0 -2v1.2m0 26.6v1.2m0 0.4v2.1m0 6.8v1.2m0 2.9v1.2m0 5.4v1.2m0 1.5v1.2m0 1.1v1.2m0 1.1v1.2m0 26.2v1.2m0 6v1.2m0 2.6v1.2M226 22.7v2.1m0 10.4v1.2m0 4.1v1.2m0 0.6v1.2m0 21.5v1.2m0 1.9v1.2m0 15.8v1.2m0 43.9v1.2m0 31.9v2.1M227 15.9v1.2m0 12.5v1.2m0 -0.6v1.2m0 11.3v1.2m0 3.7v1.2m0 2.8v1.2m0 5.9v1.2m0 10v1.2m0 9.1v2.1m0 3.6v2.1m0 10.5v1.2m0 23.3v1.2m0 0.2v1.2m0 1.7v1.2m0 33.8v1.2m0 13.6v1.2M228 22.7v1.2m0 0.2v1.2m0 8.4v1.2m0 1.1v1.2m0 1.1v2.1m0 27.3v1.2m0 3v1.2m0 19.2v1.2m0 0.5v2.1m0 13.3v2.1m0 -1.3v1.2m0 15.5v1.2m0 0.7v2.1m0 0.8v1.2m0 0.1v1.2m0 11.5v1.2m0 1v1.2m0 25.1v1.2M229 47.3v1.2m0 18.6v1.2m0 4.5v1.2m0 33.3v1.2m0 2.4v1.2m0 7.9v1.2m0 21.9v1.2m0 11.7v1.2m0 0.4v1.2m0 4.4v1.2m0 5.1v1.2m0 2.3v1.2m0 3.2v1.2M230 49.9v1.2m0 4.7v1.2m0 5.5v1.2m0 12.6v1.2m0 3.2v2.1m0 11v2.1m0 2.5v1.2m0 -0.1v1.2m0 29.1v2.1m0 -1.3v1.2m0 2.5v1.2m0 6.9v1.2m0 4.9v1.2m0 16.2v1.2M231 20.6v1.2m0 11.2v2.1m0 17.5v2.1m0 4.5v2.1m0 8.8v1.2m0 2.7v1.2m0 0.2v1.2m0 18v2.1m0 -2v1.2m0 4.8v1.2m0 22.5v1.2m0 9.7v2.1m0 7.4v2.1m0 -0.7v1.2m0 24.4v2.1m0 -1.4v2.1M232 17.1v1.2m0 0.3v1.2m0 14.9v1.2m0 20.9v1.2m0 11.4v1.2m0 5.1v1.2m0 -0.7v1.2m0 -0.4v2.1m0 -0.3v2.1m0 -0.9v1.2m0 5.6v1.2m0 24.1v1.2m0 12.5v1.2m0 12.1v1.2m0 21.8v1.2M233 21.5v1.2m0 11.5v2.1m0 -1.1v1.2m0 13.5v2.1m0 2.4v1.2m0 -0.7v1.2m0 9.8v1.2m0 7.2v1.2m0 1.1v2.1m0 4.3v2.1m0 13.1v1.2m0 11.4v1.2m0 1.2v2.1m0 29.5v1.2m0 1.1v1.2m0 6.3v2.1m0 5.3v1.2m0 12.5v2.1M234 15.6v1.2m0 13.3v1.2m0 -0.8v1.2m0 11.1v2.1m0 4.5v1.2m0 11.8v1.2m0 6.3v1.2m0 2.4v1.2m0 0.6v1.2m0 -0.7v1.2m0 8.7v2.1m0 7.8v1.2m0 1.1v1.2m0 -0.7v2.1m0 -1.2v1.2m0 14.9v1.2m0 13v1.2m0 24.7v1.2m0 1.5v1.2m0 15.8v1.2M235 20v1.2m0 22.3v1.2m0 2.8v1.2m0 2.4v1.2m0 0.9v1.2m0 3v1.2m0 17.7v1.2m0 12.2v1.2m0 1.3v1.2m0 2.8v1.2m0 22.8v1.2m0 -1.1v1.2m0 3.8v1.2m0 -0.1v1.2m0 0.7v2.1m0 4.4v1.2m0 8v1.2m0 5.6v1.2m0 19.7v2.1M236 20.7v2.1m0 9.8v1.2m0 25v2.1m0 27.3v1.2m0 25.4v1.2m0 5.5v2.1m0 10.1v1.2m0 14.1v2.1m0 16.1v1.2m0 4.6v1.2m0 -0.8v2.1M237 19.5v2.1m0 4.4v1.2m0 -0.2v2.1m0 5.8v1.2m0 5.1v2.1m0 17.3v2.1m0 0.2v2.1m0 5.1v1.2m0 -0.8v1.2m0 45.2v2.1m0 37.9v1.2m0 3.4v1.2m0 -0.1v2.1m0 0.3v1.2M238 19.6v2.1m0 25.6v2.1m0 1.2v2.1m0 -1v1.2m0 2.7v1.2m0 4.2v1.2m0 13v2.1m0 2.4v1.2m0 8.5v1.2m0 6.2v1.2m0 0.2v1.2m0 28.9v2.1m0 6v1.2m0 12.9v1.2m0 18.8v2.1m0 -1.7v1.2M239 15.6v2.1m0 12.9v1.2m0 18.9v1.2m0 4.7v1.2m0 2.4v1.2m0 11.4v2.1m0 1.7v1.2m0 8.6v2.1m0 5.2v2.1m0 13.6v1.2m0 8.1v2.1m0 24.4v1.2m0 1v1.2M240 18v2.1m0 1.4v1.2m0 16.8v1.2m0 -1.2v1.2m0 4.3v2.1m0 -1v1.2m0 0.3v2.1m0 1.5v1.2m0 25.9v1.2m0 2.7v1.2m0 3.3v1.2m0 4.6v1.2m0 3.5v1.2m0 -0.2v1.2m0 3.4v1.2m0 5.3v1.2m0 41v1.2m0 3.6v2.1m0 8.2v1.2M241 16.6v1.2m0 5.7v1.2m0 4.3v1.2m0 -0.8v2.1m0 2.4v2.1m0 15.7v1.2m0 2.9v1.2m0 -0.9v2.1m0 -1.7v1.2m0 6.5v2.1m0 9.5v1.2m0 13.4v1.2m0 3.3v1.2m0 36.8v2.1m0 8.6v1.2m0 12.1v1.2M242 44.3v1.2m0 9.7v1.2m0 25v2.1m0 -1.9v2.1m0 6.6v1.2m0 1.2v1.2m0 12v1.2m0 -0.8v2.1m0 0.4v1.2m0 12.8v1.2m0 32v1.2m0 3.1v1.2M243 18.9v1.2m0 6.3v2.1m0 5.6v1.2m0 0.8v1.2m0 11.2v1.2m0 12.2v1.2m0 1.9v1.2m0 1.9v1.2m0 0.7v1.2m0 15.9v1.2m0 15.8v2.1m0 6.3v1.2m0 6.2v1.2m0 1.1v1.2m0 -1v2.1m0 -0.1v1.2m0 8.7v1.2m0 8.5v2.1m0 0.7v1.2m0 19.6v2.1M244 20.8v2.1m0 17.2v1.2m0 7v1.2m0 4.5v1.2m0 5v1.2m0 21.6v2.1m0 -0.6v1.2m0 1.3v1.2m0 -0.6v1.2m0 -0.4v1.2m0 10.2v1.2m0 5.6v1.2m0 31.7v1.2m0 16.9v1.2m0 2.6v1.2m0 5.5v1.2M245 22.9v1.2m0 1.6v1.2m0 3.1v2.1m0 -1v1.2m0 -0.7v1.2m0 4.7v1.2m0 8.2v1.2m0 6.4v1.2m0 0.6v1.2m0 24.2v1.2m0 0.2v1.2m0 15.2v1.2m0 11.8v1.2m0 22.3v2.1m0 10.7v1.2m0 1.8v1.2m0 2.7v1.2m0 12v1.2M246 48.5v2.1m0 6.6v1.2m0 1.5v2.1m0 20.4v1.2m0 31.3v1.2m0 31.7v2.1m0 10.6v1.2m0 -1.2v1.2m0 7v1.2m0 4.9v1.2m0 0.3v1.2M247 22.3v1.2m0 7.4v1.2m0 0.2v2.1m0 12v2.1m0 27.8v2.1m0 0.6v2.1m0 -0.3v1.2m0 2.5v2.1m0 6.2v1.2m0 14.1v2.1m0 10.9v1.2m0 -1.1v2.1m0 -0.4v2.1m0 2.2v2.1m0 -0.7v1.2m0 6v2.1m0 33.6v1.2M248 32v1.2m0 7.3v1.2m0 -1.1v1.2m0 1.2v1.2m0 5.6v1.2m0 0.7v1.2m0 16v1.2m0 0v2.1m0 35.6v1.2m0 15.3v1.2m0 6.5v2.1m0 18.4v1.2m0 -0.9v1.2m0 -0.7v1.2m0 -1v1.2M249 18.7v1.2m0 15.7v1.2m0 3.6v2.1m0 3.9v1.2m0 7.7v1.2m0 2v2.1m0 1.3v2.1m0 11.8v1.2m0 3.2v1.2m0 15.9v2.1m0 3.7v1.2m0 0.4v1.2m0 4v1.2m0 17.3v1.2m0 1.3v2.1m0 13.9v1.2m0 -0.7v1.2m0 4.5v2.1m0 4.2v2.1m0 11.5v1.2m0 2v1.2M250 36.1v1.2m0 0.1v1.2m0 4.9v1.2m0 11v1.2m0 12.8v1.2m0 16.9v1.2m0 6.5v2.1m0 18.5v1.2m0 0.8v2.1m0 6.4v2.1m0 15.7v1.2m0 1.4v1.2m0 12.4v1.2m0 8.1v1.2m0 2.4v1.2m0 2.9v1.2M251 17.3v1.2m0 5.9v1.2m0 5v1.2m0 16.5v1.2m0 18.4v1.2m0 0.9v1.2m0 13v1.2m0 25.3v1.2m0 2.2v1.2m0 13.6v1.2m0 21.4v1.2m0 -1.1v2.1m0 18.9v2.1m0 2.9v1.2M252 22.7v2.1m0 30.7v1.2m0 3.5v1.2m0 2v1.2m0 4.6v2.1m0 5.6v2.1m0 24.6v1.2m0 2.5v1.2m0 -1.1v1.2m0 0.5v1.2m0 5.2v1.2m0 6.7v2.1m0 13.1v1.2m0 -0.8v1.2m0 9.4v2.1m0 6.4v1.2m0 1.5v2.1m0 0.9v1.2m0 -0.1v1.2m0 0.1v2.1m0 7.4v1.2M253 18.3v1.2m0 24.2v2.1m0 6.3v1.2m0 2.2v2.1m0 1.7v1.2m0 7.7v1.2m0 2.1v2.1m0 4.3v1.2m0 20v1.2m0 0.9v1.2m0 3.6v1.2m0 3.4v1.2m0 1.9v1.2m0 14.9v1.2m0 10.1v1.2m0 -0.4v2.1m0 1.8v1.2m0 20.3v1.2m0 1.4v2.1m0 -1.7v2.1M254 15.5v1.2m0 14.5v1.2m0 20.2v1.2m0 6.4v2.1m0 4.1v2.1m0 0.2v1.2m0 37.7v1.2m0 9.7v1.2m0 6.9v1.2m0 -1.1v2.1m0 11.3v2.1m0 -1v1.2m0 7.4v1.2m0 -0.1v1.2m0 -1v2.1m0 0.3v1.2m0 1.8v2.1m0 6.6v1.2m0 9.2v1.2M255 20.4v1.2m0 5.7v1.2m0 0.4v1.2m0 0.1v2.1m0 3.7v2.1m0 3.5v1.2m0 7.3v1.2m0 3.3v2.1m0 -1.3v1.2m0 4.6v1.2m0 -1.2v1.2m0 0.5v1.2m0 4.1v2.1m0 0.4v1.2m0 6v1.2m0 2.7v2.1m0 4.5v1.2m0 12.2v1.2m0 20.3v2.1m0 -1.4v2.1m0 3v1.2m0 1.2v1.2m0 2.9v1.2m0 1v2.1m0 3v2.1m0 -1.4v1.2m0 11.1v1.2m0 0.4v1.2m0 -0.2v1.2M256 19.4v1.2m0 17.3v2.1m0 42.5v1.2m0 9.3v2.1m0 24.3v1.2m0 28v1.2m0 3.4v1.2m0 2.8v2.1m0 3.3v2.1m0 0.4v1.2m0 -0.3v2.1m0 4.1v1.2m0 3.1v1.2M257 26.5v1.2m0 5.1v1.2m0 9.3v1.2m0 28v1.2m0 1.2v1.2m0 6.6v2.1m0 -1.4v1.2m0 3.5v1.2m0 10.5v1.2m0 2.7v1.2m0 4.3v1.2m0 -0.1v2.1m0 -0.8v2.1m0 4.8v1.2m0 40.6v2.1m0 5.9v1.2m0 -0.2v1.2m0 4.9v1.2M258 20.9v1.2m0 0.4v2.1m0 1.7v1.2m0 18.2v1.2m0 5.1v1.2m0 0.2v2.1m0 5.4v1.2m0 2.5v1.2m0 11.6v1.2m0 9.4v1.2m0 5.5v1.2m0 9.6v2.1m0 9.6v1.2m0 3.5v1.2m0 4.5v1.2m0 6.6v1.2m0 12.3v1.2m0 14.9v1.2M259 17.4v1.2m0 34.5v2.1m0 8.7v1.2m0 -0.7v1.2m0 6.7v1.2m0 3.5v2.1m0 8.6v1.2m0 19.7v1.2m0 20.2v2.1m0 0.3v1.2m0 -0.5v2.1m0 4v1.2m0 2.4v1.2m0 4.1v2.1m0 6.5v1.2m0 17.8v1.2m0 -1.1v1.2M260 30.9v1.2m0 11.3v2.1m0 1.9v1.2m0 0.1v1.2m0 15.8v1.2m0 4v1.2m0 -0.3v1.2m0 14.2v2.1m0 12.9v2.1m0 4.8v1.2m0 2.1v2.1m0 4.2v1.2m0 4.1v1.2m0 8.5v1.2m0 -1.1v2.1m0 -1.8v2.1m0 -1.9v1.2M261 17.5v2.1m0 -0.4v2.1m0 13v1.2m0 -0.7v1.2m0 8.6v1.2m0 1.9v1.2m0 1v2.1m0 4.1v1.2m0 2.4v1.2m0 4.1v2.1m0 -1.5v2.1m0 -0.1v1.2m0 2.5v1.2m0 2.7v1.2m0 9.1v1.2m0 1.4v2.1m0 10.9v1.2m0 7.3v1.2m0 22.5v1.2m0 6.9v1.2m0 8.8v1.2m0 9v1.2m0 -1v2.1M262 31v2.1m0 1.4v1.2m0 0.2v1.2m0 2.4v2.1m0 2.1v1.2m0 5.8v2.1m0 7.1v2.1m0 8.3v2.1m0 -1.1v1.2m0 7.6v1.2m0 10.6v2.1m0 7.3v1.2m0 14.2v2.1m0 21v2.1m0 2.8v1.2m0 9.6v1.2m0 10.4v1.2m0 2.9v2.1m0 -0.7v1.2M263 17.9v1.2m0 0.3v1.2m0 7.6v2.1m0 -1.6v1.2m0 34.4v1.2m0 12.4v1.2m0 5.4v2.1m0 0.1v2.1m0 3.3v1.2m0 1.7v1.2m0 7.9v2.1m0 6v1.2m0 0.6v1.2m0 10.4v1.2m0 3.2v1.2m0 2.6v2.1m0 10.2v1.2m0 0.3v1.2m0 -0.8v1.2m0 6v2.1m0 8.4v1.2m0 2.5v2.1m0 -0.5v2.1m0 0.8v2.1M264 18v1.2m0 1.7v2.1m0 12.4v1.2m0 0v2.1m0 0.1v2.1m0 9.3v1.2m0 2.7v2.1m0 2.3v1.2m0 6.5v1.2m0 1.3v1.2m0 13.4v2.1m0 -1.8v1.2m0 5.3v1.2m0 3.9v2.1m0 1.2v2.1m0 -2v2.1m0 -2v1.2m0 8.1v1.2m0 11.4v1.2m0 23.9v2.1m0 10v2.1m0 0.2v1.2m0 3.8v2.1m0 9v1.2M265 30v1.2m0 5.1v2.1m0 35.8v1.2m0 0.4v1.2m0 2v1.2m0 3.7v1.2m0 -0.5v1.2m0 -1v1.2m0 -0.3v2.1m0 7.9v2.1m0 8.8v1.2m0 0.7v1.2m0 1.4v1.2m0 8.5v1.2m0 0.1v2.1m0 14.3v2.1m0 24.6v1.2m0 7.1v1.2M266 25.1v2.1m0 -0.8v1.2m0 6.2v1.2m0 3.8v2.1m0 12.3v2.1m0 22.9v1.2m0 10.5v1.2m0 20.7v1.2m0 18.6v1.2m0 1.5v1.2m0 9.6v2.1m0 7.6v2.1m0 -1.2v1.2m0 18.6v1.2M267 44.9v1.2m0 22.1v1.2m0 -0.8v1.2m0 -0.7v1.2m0 16.5v1.2m0 20.5v1.2m0 4.2v1.2m0 17.4v1.2m0 14v1.2m0 20.1v1.2m0 -0v1.2M268 36.7v1.2m0 2.8v2.1m0 -0.6v1.2m0 3.2v1.2m0 2.3v1.2m0 6.7v1.2m0 1v1.2m0 8v2.1m0 8.1v1.2m0 -1v1.2m0 -0v1.2m0 2.3v1.2m0 0.9v1.2m0 4.7v1.2m0 16.8v1.2m0 27.1v1.2m0 1.2v1.2m0 0.1v1.2m0 18.5v1.2m0 -0.4v1.2m0 0.9v1.2M269 33.8v1.2m0 14.8v1.2m0 4.8v1.2m0 3.9v1.2m0 0.6v2.1m0 3.7v1.2m0 2v1.2m0 31.9v1.2m0 15.7v2.1m0 5.1v2.1m0 12.6v1.2m0 -0.8v1.2m0 4v2.1m0 8v1.2M270 22.4v2.1m0 5v1.2m0 1.1v1.2m0 12.8v1.2m0 0.8v1.2m0 10.8v1.2m0 0.4v1.2m0 1.2v2.1m0 6.5v1.2m0 -0.1v1.2m0 11.7v1.2m0 27.5v1.2m0 3.8v1.2m0 5.1v1.2m0 19v2.1m0 11.4v2.1m0 12.5v1.2m0 -0.2v1.2M271 18.3v1.2m0 13.4v1.2m0 2.1v1.2m0 1.1v1.2m0 0.8v1.2m0 21.4v1.2m0 2.6v1.2m0 13.5v1.2m0 30.3v1.2m0 8v2.1m0 2.4v1.2m0 -0.8v1.2m0 13.9v2.1m0 -0.1v2.1m0 7.2v2.1M272 31.2v1.2m0 -0.6v1.2m0 1.5v1.2m0 3.3v2.1m0 15.8v1.2m0 8.9v2.1m0 -1.3v1.2m0 12.7v1.2m0 20.1v1.2m0 4.4v2.1m0 17.5v2.1m0 -0v1.2m0 7.9v1.2m0 4.3v1.2m0 -1.1v2.1m0 10.8v2.1m0 -1.1v1.2M273 21.7v1.2m0 6.2v1.2m0 16.8v1.2m0 11.6v2.1m0 3v1.2m0 35.2v1.2m0 0.5v1.2m0 1.2v1.2m0 39v2.1m0 -0.6v1.2m0 11v2.1m0 10.8v1.2M274 40.1v1.2m0 -0.6v1.2m0 18.6v2.1m0 2.2v1.2m0 8.5v2.1m0 3.5v1.2m0 12v2.1m0 -0.8v1.2m0 5.4v1.2m0 -0.6v2.1m0 22.2v1.2m0 -0.5v1.2m0 6.5v1.2m0 1.3v2.1m0 1.6v1.2m0 0.8v2.1m0 0.4v1.2m0 12.4v1.2m0 1.9v1.2m0 8.5v1.2M275 27.5v1.2m0 -0.7v1.2m0 6.2v1.2m0 21.2v2.1m0 5.6v2.1m0 0.1v2.1m0 2v1.2m0 14.7v1.2m0 -0.7v1.2m0 16.9v1.2m0 6v1.2m0 19v1.2m0 15v1.2m0 0.8v1.2m0 10.3v1.2m0 6.5v1.2m0 1.9v1.2M276 21.8v1.2m0 20.9v1.2m0 0.5v1.2m0 12.6v1.2m0 1.2v1.2m0 27.7v1.2m0 -0.9v2.1m0 -1.3v1.2m0 1.6v2.1m0 18.7v1.2m0 18.6v1.2m0 11.6v1.2m0 4.9v2.1m0 -1.1v1.2m0 1.9v2.1m0 15.1v1.2M277 19.5v1.2m0 11.5v1.2m0 23.1v1.2m0 0.5v2.1m0 15.7v2.1m0 24.2v2.1m0 30.1v1.2m0 31.9v2.1m0 -0.5v1.2m0 0.5v1.2m0 3.2v2.1m0 0.3v1.2M278 26.9v2.1m0 -1v2.1m0 0.7v1.2m0 6.7v1.2m0 32.1v1.2m0 16.8v2.1m0 29.4v2.1m0 5.1v1.2m0 0.7v2.1m0 11.9v1.2m0 -0.4v1.2m0 18.4v2.1m0 10.5v1.2M279 15.8v1.2m0 -0.8v1.2m0 2v1.2m0 9.8v1.2m0 5.2v1.2m0 1.2v1.2m0 3.4v2.1m0 -0.4v1.2m0 10.3v1.2m0 24.2v1.2m0 1.6v1.2m0 0.5v1.2m0 14.7v1.2m0 5v2.1m0 0.6v1.2m0 18.6v1.2m0 5.5v1.2m0 7.5v1.2m0 7.6v1.2m0 2.1v1.2m0 5.4v1.2M280 32.4v1.2m0 2.6v2.1m0 7.3v2.1m0 27.9v1.2m0 7.4v1.2m0 3.6v1.2m0 0.5v1.2m0 0.2v2.1m0 -2.1v1.2m0 21v1.2m0 -0.8v2.1m0 0.4v1.2m0 5.7v2.1m0 0.5v1.2m0 8.6v1.2m0 0.8v2.1m0 23.9v1.2M281 15.5v1.2m0 3v1.2m0 0.4v2.1m0 2.6v1.2m0 -0.2v2.1m0 36.1v1.2m0 19.2v1.2m0 6.1v1.2m0 6.9v1.2m0 15.8v2.1m0 4.3v1.2m0 11v1.2m0 28.9v1.2m0 7.6v2.1M282 21v2.1m0 9.9v1.2m0 4.1v1.2m0 39.3v1.2m0 3.8v1.2m0 1.6v2.1m0 11.8v1.2m0 12.7v1.2m0 13.5v1.2m0 4.6v1.2m0 5.9v1.2m0 3.6v2.1m0 15.7v2.1m0 -1.9v2.1m0 9.5v1.2M283 15.6v2.1m0 -0.2v1.2m0 11.7v2.1m0 0.9v2.1m0 -0.7v1.2m0 -1.1v2.1m0 16.4v2.1m0 12.6v2.1m0 29v2.1m0 32v1.2m0 9.1v2.1m0 -1.7v1.2m0 1.7v1.2m0 2v1.2m0 0.9v2.1m0 0.3v1.2M284 65.6v1.2m0 3.2v1.2m0 10.4v1.2m0 -0.3v1.2m0 12.3v1.2m0 2.7v1.2m0 6.4v2.1m0 -1.1v1.2m0 19.7v1.2m0 -1.1v2.1m0 3.5v2.1m0 -0.9v1.2m0 2.5v1.2m0 12v1.2m0 5.2v1.2M285 24.9v1.2m0 13.4v2.1m0 1.7v2.1m0 12.9v1.2m0 5v1.2m0 9.2v1.2m0 17.6v1.2m0 3.3v1.2m0 3.8v1.2m0 4.9v1.2m0 0.1v1.2m0 6.5v1.2m0 -0.4v1.2m0 22.9v1.2m0 11.7v1.2m0 6.1v1.2m0 2.6v1.2M286 15.8v1.2m0 1.5v1.2m0 15.6v1.2m0 12.3v1.2m0 3.3v1.2m0 13.6v1.2m0 20.5v1.2m0 4.6v1.2m0 0.1v1.2m0 8.6v2.1m0 26.7v2.1m0 11.2v2.1m0 0.7v1.2m0 7.6v2.1m0 -0.6v1.2M287 31.6v2.1m0 3.7v1.2m0 6.7v1.2m0 1.4v1.2m0 4.2v1.2m0 3.1v1.2m0 1.7v1.2m0 15.6v1.2m0 -1.2v2.1m0 21.2v1.2m0 6.9v1.2m0 9v1.2m0 -0.7v1.2m0 4.2v1.2m0 18.9v1.2m0 2.4v1.2m0 1v1.2m0 2.2v1.2m0 -0.2v1.2m0 11.2v2.1M288 50.5v1.2m0 18.9v2.1m0 6.9v1.2m0 3.3v1.2m0 1.5v1.2m0 14.9v1.2m0 -0.9v1.2m0 3.4v2.1m0 9.2v2.1m0 10.7v2.1m0 4.9v2.1m0 -0.5v1.2m0 10.2v1.2m0 16.2v1.2m0 0.9v2.1m0 -0.3v1.2m0 1.6v1.2M289 18.3v1.2m0 7.3v1.2m0 4.4v1.2m0 3.4v1.2m0 5v1.2m0 16.6v1.2m0 3.2v2.1m0 -0.3v1.2m0 3.5v1.2m0 -0.6v2.1m0 3.9v1.2m0 7.8v1.2m0 3.1v2.1m0 0.2v1.2m0 0.3v1.2m0 -0.1v2.1m0 2.8v1.2m0 -0.8v1.2m0 3.2v1.2m0 28.6v2.1m0 6.6v1.2m0 27.1v1.2M290 27.5v2.1m0 4.5v1.2m0 -0.9v2.1m0 13.1v1.2m0 0.8v2.1m0 5.8v1.2m0 -0.4v1.2m0 21.4v1.2m0 10.6v1.2m0 35.5v1.2m0 10.2v1.2m0 0.4v2.1m0 -1.7v1.2m0 14.8v2.1m0 12v1.2M291 23.5v1.2m0 1.8v1.2m0 5.1v1.2m0 3.6v2.1m0 -1.5v2.1m0 1.8v1.2m0 11.1v1.2m0 2.6v2.1m0 5.3v2.1m0 22.5v1.2m0 0.2v1.2m0 -1v1.2m0 5.1v1.2m0 -0.7v2.1m0 2v1.2m0 6.1v1.2m0 0.8v2.1m0 0.3v1.2m0 16.5v1.2m0 -0.3v1.2m0 16.7v2.1m0 2.3v1.2m0 0.6v2.1m0 6v1.2m0 -1.1v2.1m0 0.6v1.2m0 1.2v1.2m0 3.9v1.2M292 20.9v2.1m0 0.8v2.1m0 5.3v1.2m0 0.1v2.1m0 0.2v2.1m0 21.2v1.2m0 9.2v2.1m0 2.4v1.2m0 13.6v1.2m0 10.2v1.2m0 2.6v1.2m0 5.4v1.2m0 8v1.2m0 7.7v2.1m0 2v1.2m0 17.3v1.2m0 21.3v2.1M293 16.3v1.2m0 16v1.2m0 23.7v2.1m0 46.4v1.2m0 6.3v1.2m0 28.8v1.2m0 10.8v1.2m0 3.7v1.2M294 54.1v1.2m0 18v2.1m0 -0.2v1.2m0 9.5v1.2m0 17v1.2m0 1.9v1.2m0 1.3v1.2m0 43.5v1.2m0 16.4v1.2M315 51.6v2.1m0 3.2v1.2m0 4.1v1.2m0 2.9v1.2m0 23.7v2.1m0 4.9v2.1m0 1.6v2.1m0 8.7v1.2m0 3.8v1.2m0 29.9v1.2M316 20.4v1.2m0 10.5v2.1m0 7.2v1.2m0 8.1v1.2m0 5.2v1.2m0 11.9v1.2m0 3.4v2.1m0 10.3v1.2m0 20.2v1.2m0 0.8v1.2m0 7.7v1.2m0 5.4v1.2m0 -0.8v1.2m0 15.7v1.2m0 21.2v2.1M317 20.3v1.2m0 -0.4v2.1m0 -0.7v1.2m0 5.8v1.2m0 58.1v1.2m0 6.7v2.1m0 13.6v2.1m0 -1.3v1.2m0 7v2.1m0 5.8v1.2m0 20.7v1.2M318 16.5v1.2m0 7.9v1.2m0 5.6v1.2m0 11.2v1.2m0 59.9v1.2m0 1.8v1.2m0 5.6v2.1m0 12v2.1m0 24.1v1.2m0 0.5v2.1m0 10.6v1.2M319 18.9v1.2m0 1.6v2.1m0 -0.7v1.2m0 1.8v1.2m0 1.2v1.2m0 -0.5v2.1m0 4.9v1.2m0 3.5v1.2m0 -1.1v1.2m0 1.2v1.2m0 0.4v1.2m0 6.2v1.2m0 3v1.2m0 0.8v1.2m0 -1.2v1.2m0 -0.5v2.1m0 -1.4v2.1m0 -0.9v2.1m0 1.6v1.2m0 -0.5v1.2m0 1.5v1.2m0 2.9v1.2m0 0.4v1.2m0 2.4v1.2m0 3.1v2.1m0 -0.5v2.1m0 4.4v1.2m0 2.4v1.2m0 -0.9v2.1m0 -1.7v1.2m0 -0.3v2.1m0 -2v2.1m0 -2.1v1.2m0 1.8v2.1m0 -0.4v1.2m0 1.6v1.2m0 -0.7v1.2m0 0.4v1.2m0 1.4v1.2m0 4.8v2.1m0 0.5v2.1m0 2.8v1.2m0 -0.8v1.2m0 -0.5v2.1m0 -1.4v1.2m0 -0.8v1.2m0 3.8v1.2m0 0.1v1.2m0 -1.1v2.1m0 -1.2v1.2m0 -1.2v1.2m0 -0.4v2.1m0 2.2v1.2m0 1.3v1.2m0 1.2v1.2m0 -0.3v1.2m0 3.3v2.1m0 2.7v1.2m0 -0.3v2.1m0 -0.2v2.1m0 -1.5v2.1m0 0.2v2.1m0 3.2v2.1m0 -1.2v1.2m0 9.2v1.2m0 0.8v2.1m0 -0.2v2.1M320 21.7v1.2m0 -0.3v1.2m0 1.1v1.2m0 -1.2v1.2m0 -0.8v1.2m0 1.3v1.2m0 7.8v1.2m0 -0.4v1.2m0 -0.6v1.2m0 -0.4v1.2m0 -1.2v2.1m0 5.1v1.2m0 10.2v1.2m0 1.6v1.2m0 -0.6v1.2m0 -1.2v1.2m0 0.4v1.2m0 -1.1v1.2m0 0.2v2.1m0 0.7v1.2m0 0.1v1.2m0 -0.8v1.2m0 0.5v1.2m0 0.9v1.2m0 -0v1.2m0 -0.3v1.2m0 2.7v2.1m0 0.2v1.2m0 0.3v1.2m0 -0.1v1.2m0 -0.7v2.1m0 -0.4v2.1m0 -2v1.2m0 -0.8v1.2m0 -0.4v1.2m0 1.5v1.2m0 -0.6v1.2m0 1.8v1.2m0 3.4v1.2m0 1.1v1.2m0 -0.4v2.1m0 -0.9v2.1m0 -2v2.1m0 0.4v2.1m0 -0.7v2.1m0 9.8v1.2m0 1.9v1.2m0 2v2.1m0 -1v2.1m0 3v1.2m0 1v1.2m0 4.3v1.2m0 3v1.2m0 1.6v1.2m0 7.9v1.2m0 -0.6v1.2m0 2.9v1.2m0 5.8v2.1m0 -0.8v1.2m0 1.2v2.1m0 -1.6v1.2m0 -0.5v1.2m0 4.8v1.2M321 17.4v1.2m0 -0.6v1.2m0 -0.4v1.2m0 0.5v2.1m0 -1.9v1.2m0 0.2v1.2m0 -1v1.2m0 4v2.1m0 -1.3v2.1m0 -1.8v2.1m0 2.9v1.2m0 6.9v1.2m0 -1v2.1m0 -0.6v2.1m0 -0.2v2.1m0 -1.8v1.2m0 0.9v2.1m0 -1.6v1.2m0 -0.2v2.1m0 -0.8v2.1m0 -1.7v1.2m0 0.9v1.2m0 7.3v2.1m0 1.3v1.2m0 2.1v1.2m0 2.3v2.1m0 3v1.2m0 0.9v1.2m0 1.2v1.2m0 1.1v1.2m0 7.4v2.1m0 -1.6v1.2m0 0.6v2.1m0 -1.8v1.2m0 0.1v1.2m0 0.2v2.1m0 0.6v1.2m0 -1.1v1.2m0 3.6v1.2m0 -0.8v1.2m0 -0.8v2.1m0 -0.8v1.2m0 1.2v1.2m0 -1v1.2m0 2.4v1.2m0 0.4v1.2m0 2.2v1.2m0 1v1.2m0 -0.2v2.1m0 -1v2.1m0 4.7v1.2m0 -0.1v1.2m0 3.2v1.2m0 9.7v1.2m0 1.3v1.2m0 1.6v2.1m0 -1.2v2.1m0 0.7v1.2m0 2.9v2.1m0 6.2v2.1m0 -1v1.2m0 1.7v2.1m0 3.3v1.2M322 17.2v2.1m0 1.7v1.2m0 -0.8v2.1m0 -1.4v1.2m0 2.1v1.2m0 -1v1.2m0 2.8v1.2m0 2.7v1.2m0 5.3v1.2m0 0.1v2.1m0 -0.9v1.2m0 -0.2v2.1m0 -0.7v2.1m0 -1.7v1.2m0 1.3v2.1m0 -1.4v2.1m0 -1.9v1.2m0 1.6v1.2m0 0.4v1.2m0 5v1.2m0 -0.2v1.2m0 -0.4v1.2m0 -0.4v1.2m0 1.1v1.2m0 -0.5v2.1m0 -1.6v1.2m0 -0.6v2.1m0 5.8v1.2m0 -0.4v2.1m0 -0.7v1.2m0 1.5v1.2m0 2.9v1.2m0 -0.8v1.2m0 2.9v1.2m0 -0.5v2.1m0 0.9v1.2m0 -0.1v1.2m0 0.2v1.2m0 0.5v2.1m0 0.8v1.2m0 -0.2v1.2m0 -0.8v1.2m0 0.5v1.2m0 1.3v1.2m0 -0.8v1.2m0 0.6v1.2m0 5v2.1m0 -0.5v1.2m0 0.2v1.2m0 -0.7v1.2m0 3.5v1.2m0 1.1v1.2m0 -0.4v1.2m0 4.8v1.2m0 -0.8v2.1m0 4.1v1.2m0 -1.1v2.1m0 1.2v2.1m0 5.3v1.2m0 3.4v1.2m0 0.6v1.2m0 -0.9v2.1m0 0.5v1.2m0 -0.3v1.2m0 4v1.2m0 -0.4v1.2m0 5.7v1.2m0 -0.7v1.2m0 -0.6v2.1m0 -1.5v1.2m0 2.5v1.2M323 16.1v2.1m0 -1.7v2.1m0 -0.9v2.1m0 0.9v2.1m0 -0.1v1.2m0 1.7v1.2m0 0.1v1.2m0 -0.3v1.2m0 -0.9v1.2m0 3.4v1.2m0 -0.9v1.2m0 -0.7v1.2m0 -0.9v1.2m0 1v1.2m0 -0.9v1.2m0 -1v1.2m0 -0.4v1.2m0 -1.1v1.2m0 6.5v2.1m0 -1.7v2.1m0 -0.9v1.2m0 1.1v2.1m0 -0.5v2.1m0 2v1.2m0 0v1.2m0 -1v2.1m0 -1.2v1.2m0 -0.9v1.2m0 -0.8v2.1m0 -1.9v1.2m0 -0.6v2.1m0 -1.4v2.1m0 -1.1v1.2m0 -0v1.2m0 2.4v1.2m0 -0.3v1.2m0 -0.3v1.2m0 -1.2v1.2m0 -0.8v1.2m0 -0v1.2m0 1.2v1.2m0 2.1v2.1m0 -0.2v1.2m0 1.3v1.2m0 0.4v1.2m0 -0.7v1.2m0 2.3v2.1m0 1.5v2.1m0 -1.1v1.2m0 -1.1v1.2m0 -0.3v1.2m0 0.4v2.1m0 -1.8v1.2m0 0v1.2m0 -0.7v1.2m0 2.1v1.2m0 0v1.2m0 -0.9v1.2m0 -0.8v2.1m0 0.6v1.2m0 0.6v1.2m0 -0.5v1.2m0 -0.8v1.2m0 1.8v1.2m0 0.4v1.2m0 -1.2v1.2m0 0v1.2m0 0v2.1m0 -0.5v1.2m0 0.4v2.1m0 -0.6v1.2m0 4.5v1.2m0 1.2v1.2m0 -0.5v1.2m0 -0.8v1.2m0 -0.3v1.2m0 -0.8v1.2m0 -0.3v2.1m0 -1.8v2.1m0 -2v1.2m0 -1v1.2m0 -0.1v2.1m0 0.1v1.2m0 -1.1v1.2m0 0.6v2.1m0 -0.1v1.2m0 -0.4v2.1m0 -0.6v2.1m0 2.3v1.2m0 0.3v1.2m0 -1v2.1m0 -0.9v1.2m0 -0.7v1.2m0 -1.1v1.2m0 -0.7v2.1m0 -1.9v2.1m0 1.3v2.1m0 -2.1v2.1m0 -0.7v1.2m0 -0.5v1.2m0 0.1v1.2m0 -1v1.2m0 -0.7v1.2m0 -1.2v1.2m0 0.5v1.2m0 0.1v1.2m0 1v1.2m0 -1.1v1.2m0 -0.8v1.2m0 -0.5v1.2m0 -1v1.2m0 0.7v1.2m0 1.7v2.1m0 -0.1v2.1m0 1v2.1m0 -1.4v1.2m0 -0.8v1.2m0 -1v1.2m0 0.6v1.2m0 -0.2v2.1m0 0.2v1.2m0 -0.9v1.2m0 -0.8v1.2M324 16.8v1.2m0 2.6v1.2m0 -0.2v1.2m0 -1.1v2.1m0 -1.6v1.2m0 -1.1v2.1m0 3.6v1.2m0 -0.7v2.1m0 0.7v1.2m0 -1.1v2.1m0 2.2v1.2m0 1.2v1.2m0 -0.5v1.2m0 0.4v1.2m0 -0.5v1.2m0 0.2v2.1m0 -1.1v1.2m0 -0.3v1.2m0 0.2v1.2m0 0.3v2.1m0 -1.9v1.2m0 0.9v2.1m0 -0.5v1.2m0 2.1v2.1m0 0.5v1.2m0 2.4v1.2m0 -0.1v1.2m0 3.1v1.2m0 2.6v1.2m0 -1v1.2m0 0.3v2.1m0 0.4v1.2m0 2v1.2m0 -0.2v2.1m0 -1v1.2m0 2v2.1m0 4.8v2.1m0 -0.5v1.2m0 2.6v1.2m0 1.6v1.2m0 0.2v1.2m0 -1.2v1.2m0 -0.7v1.2m0 2.9v2.1m0 -1.6v1.2m0 -0.5v2.1m0 4.5v1.2m0 1.6v1.2m0 3.8v1.2m0 0.4v1.2m0 -1v1.2m0 -0.9v1.2m0 3.8v2.1m0 -0.4v1.2m0 0.2v1.2m0 1.3v1.2m0 -0.5v1.2m0 -0.8v1.2m0 1.9v1.2m0 -0.8v1.2m0 -1.2v1.2m0 -0.9v1.2m0 1.2v1.2m0 -1.1v1.2m0 -0.5v2.1m0 -0.1v1.2m0 0.1v1.2m0 -1.1v1.2m0 0.2v1.2m0 -0v2.1m0 -1v2.1m0 2.1v1.2m0 -0v1.2m0 -0.4v1.2m0 4.4v2.1m0 -0.2v1.2m0 2.5v1.2m0 -0.3v1.2m0 4.5v1.2m0 0.4v1.2m0 -1.1v1.2M325 17.1v1.2m0 -0.9v2.1m0 -2v1.2m0 -0.8v1.2m0 -0.4v2.1m0 0.2v1.2m0 0.1v1.2m0 1.6v1.2m0 -0.8v2.1m0 -0.1v1.2m0 0.2v1.2m0 -0.1v2.1m0 -1.8v1.2m0 3v2.1m0 -0.9v1.2m0 -0.2v1.2m0 -0.5v1.2m0 1.1v2.1m0 1.9v1.2m0 -1v1.2m0 -0.5v2.1m0 -1.9v2.1m0 -0.2v2.1m0 -1.3v1.2m0 -0.9v1.2m0 1.7v1.2m0 -0v1.2m0 -0.6v1.2m0 1.3v2.1m0 -0.6v1.2m0 3.1v1.2m0 4v1.2m0 2.7v1.2m0 -0.6v2.1m0 -1.9v2.1m0 -0.2v1.2m0 -1.1v2.1m0 -1.3v2.1m0 -1.3v1.2m0 1.7v1.2m0 -1v1.2m0 1.7v1.2m0 -0.1v1.2m0 0.8v1.2m0 -0.9v2.1m0 -2v1.2m0 -1.1v1.2m0 1v1.2m0 -0.3v2.1m0 -0.9v1.2m0 -1.1v1.2m0 -0.4v1.2m0 -0.3v2.1m0 -0.7v1.2m0 1.7v2.1m0 -1.9v1.2m0 -0.5v2.1m0 -2v1.2m0 -0.5v1.2m0 -0.6v2.1m0 -1v2.1m0 0.7v1.2m0 -1.2v1.2m0 -0.7v2.1m0 0.5v1.2m0 -0.1v2.1m0 0.2v2.1m0 -2v1.2m0 -1.1v2.1m0 -1.5v1.2m0 1.1v2.1m0 1.9v1.2m0 -1.1v1.2m0 0v1.2m0 -0.8v2.1m0 -1v1.2m0 0.9v1.2m0 -1.2v1.2m0 0.6v1.2m0 2.8v1.2m0 1.2v2.1m0 -0.9v1.2m0 1.4v2.1m0 -2v2.1m0 -1.6v1.2m0 2.3v1.2m0 -0.9v1.2m0 1.3v1.2m0 0.2v2.1m0 0.3v2.1m0 -1.4v1.2m0 0.2v1.2m0 -0.3v1.2m0 1.4v1.2m0 -0.9v1.2m0 0v2.1m0 -0.7v1.2m0 0.8v2.1m0 -1.6v1.2m0 -0.9v1.2m0 0.5v2.1m0 1.1v2.1m0 -2v1.2m0 2.1v2.1m0 -1.9v1.2m0 -1v1.2m0 2.4v1.2m0 -0.6v1.2m0 -0.3v1.2m0 0.4v1.2m0 0.1v1.2m0 -1v1.2m0 -0.3v1.2m0 -1.2v1.2m0 -0.9v1.2m0 -0.6v2.1m0 -0.8v1.2m0 0.7v1.2m0 -0.9v1.2m0 -0.5v1.2m0 -0.1v1.2m0 -1.1v1.2M326 16.2v2.1m0 1.4v1.2m0 -1v1.2m0 3v1.2m0 -0.6v1.2m0 0.7v2.1m0 0.2v2.1m0 -1v1.2m0 3v1.2m0 5v1.2m0 2v1.2m0 7.9v1.2m0 -1.2v1.2m0 1.5v2.1m0 1.7v1.2m0 -1.1v1.2m0 -1.2v1.2m0 1.3v1.2m0 4.2v1.2m0 1.7v1.2m0 -0.4v1.2m0 0.3v2.1m0 0.8v2.1m0 -1.6v2.1m0 -0.6v1.2m0 -0.6v1.2m0 -0.3v1.2m0 -0.9v1.2m0 2v2.1m0 3.4v2.1m0 -0.7v1.2m0 -0.5v1.2m0 2.8v2.1m0 -2.1v1.2m0 -1v2.1m0 -0.1v1.2m0 -0.3v1.2m0 -0.4v1.2m0 0.4v2.1m0 -1.1v2.1m0 -1.7v1.2m0 0.8v1.2m0 -1.1v2.1m0 2.1v2.1m0 -1.6v1.2m0 -0.6v1.2m0 1.3v1.2m0 1.9v2.1m0 0.6v2.1m0 -1.4v1.2m0 1.1v1.2m0 0.2v2.1m0 -2v1.2m0 -0.8v1.2m0 -0.6v1.2m0 -1.1v2.1m0 2v2.1m0 -2.1v1.2m0 -0.2v2.1m0 -1.4v1.2m0 3v1.2m0 0.8v2.1m0 -1.2v2.1m0 0.2v2.1m0 -1.3v1.2m0 -0.6v2.1m0 1.7v2.1m0 -0.6v2.1m0 2.9v1.2m0 -0.8v1.2m0 1v1.2m0 -0.9v1.2m0 0.3v1.2m0 4.6v1.2m0 1.7v2.1m0 -0.2v1.2m0 -0.3v2.1m0 0.5v1.2m0 -0.6v1.2m0 2.3v2.1m0 -1.5v1.2m0 0.8v1.2m0 -0.9v1.2M327 16.1v2.1m0 2.6v1.2m0 3.2v1.2m0 -0.6v1.2m0 7.5v1.2m0 8.5v2.1m0 4.4v1.2m0 9v1.2m0 1.9v1.2m0 -1v1.2m0 4.3v1.2m0 -0v1.2m0 0.3v1.2m0 0.7v1.2m0 -1v1.2m0 -0.8v1.2m0 -0.7v1.2m0 -0.2v2.1m0 -1.8v1.2m0 -0.6v2.1m0 -2.1v2.1m0 -1.3v1.2m0 -0.5v1.2m0 2.3v2.1m0 -0.8v1.2m0 -1v1.2m0 0.8v1.2m0 2.7v1.2m0 1.7v2.1m0 -1.7v1.2m0 -0.1v2.1m0 -1.3v1.2m0 -0.5v1.2m0 -1.1v2.1m0 -1.3v2.1m0 0.4v1.2m0 0.5v1.2m0 2.1v1.2m0 1.1v1.2m0 -0.8v1.2m0 -1v2.1m0 -0.6v1.2m0 2.9v2.1m0 -0.9v1.2m0 2.4v1.2m0 1.3v1.2m0 -1v1.2m0 -0.7v1.2m0 3.3v1.2m0 -0.5v2.1m0 4.6v1.2m0 -0.8v1.2m0 -0.9v1.2m0 -0.6v1.2m0 0.2v1.2m0 -1.1v1.2m0 -0.6v1.2m0 1v1.2m0 0.1v1.2m0 -0.6v2.1m0 -1v1.2m0 -0.4v1.2m0 -1v1.2m0 -0.4v1.2m0 0.1v2.1m0 0.1v1.2m0 3.1v1.2m0 -1.1v1.2m0 -1.1v1.2m0 1.4v1.2m0 -0.1v1.2m0 2.5v2.1m0 0v2.1m0 -2v2.1m0 -1.4v1.2m0 -0.6v1.2m0 0.3v1.2m0 2.1v1.2m0 0.7v1.2m0 4.7v1.2m0 -0.5v2.1m0 -1v1.2m0 -0.9v1.2m0 -0v1.2m0 -1v2.1M328 17.9v2.1m0 3.3v1.2m0 -0.7v2.1m0 2v2.1m0 0.2v1.2m0 0.1v2.1m0 0.6v1.2m0 -0.9v1.2m0 5.5v1.2m0 3.4v1.2m0 -1.2v1.2m0 0v1.2m0 -0.3v1.2m0 0.2v1.2m0 0.6v1.2m0 0.3v1.2m0 2.1v1.2m0 -0.9v1.2m0 0.4v1.2m0 2.3v1.2m0 1.6v1.2m0 -0.9v1.2m0 1.8v1.2m0 -0.1v1.2m0 3.1v1.2m0 -0.1v1.2m0 4.1v1.2m0 -1.1v2.1m0 0.7v2.1m0 3.9v1.2m0 -0.8v1.2m0 -0.1v2.1m0 -1.6v1.2m0 0.4v1.2m0 0v2.1m0 -0.7v1.2m0 -1v2.1m0 -1.1v1.2m0 0.7v2.1m0 -0.6v2.1m0 1.6v2.1m0 -1v2.1m0 -0.3v1.2m0 2.7v1.2m0 -0.3v2.1m0 -1.6v1.2m0 0.6v1.2m0 6.7v1.2m0 3.9v1.2m0 0.1v1.2m0 -0.4v2.1m0 0.3v1.2m0 1.3v1.2m0 -1.1v2.1m0 1.6v1.2m0 3.5v1.2m0 -1.2v1.2m0 1.4v1.2m0 -0.9v1.2m0 -1.2v2.1m0 -0.6v1.2m0 0.6v2.1m0 -1.2v1.2m0 -1.1v1.2m0 3.1v2.1m0 2.4v1.2m0 -1v2.1m0 0.9v1.2m0 6v1.2m0 1.1v2.1m0 3v1.2M329 15.7v1.2m0 -1.2v2.1m0 -0.7v1.2m0 -1.1v1.2m0 -1.1v1.2m0 -0.3v1.2m0 -0.8v1.2m0 -1.2v1.2m0 -0.9v1.2m0 -1.2v2.1m0 -1.8v1.2m0 -0.4v1.2m0 -1.1v1.2m0 0.4v1.2m0 -0.7v1.2m0 -1.1v1.2m0 -0.9v2.1m0 -2.1v1.2m0 -0.9v2.1m0 -1.3v2.1m0 -2v2.1m0 -2v1.2m0 -1.1v1.2m0 -1.2v2.1m0 -1.9v1.2m0 -1.1v1.2m0 -0.5v1.2m0 -0.3v2.1m0 -2.1v1.2m0 -0.9v1.2m0 -1v1.2m0 0.1v1.2m0 -0.8v1.2m0 -0.9v1.2m0 -1.1v2.1m0 -1.7v1.2m0 -0.9v1.2m0 -0.9v1.2m0 0v2.1m0 -2v1.2m0 -1.2v1.2m0 -1.1v1.2m0 -0.7v1.2m0 -1.2v1.2m0 -0.9v1.2m0 -0.9v1.2m0 -0.7v1.2m0 -1.2v1.2m0 -1.2v1.2m0 -1.1v2.1m0 -1.7v1.2m0 -0.7v2.1m0 -1.7v2.1m0 -1.8v2.1m0 -2.1v1.2m0 -1v2.1m0 -1v1.2m0 -0.3v1.2m0 -0.5v1.2m0 -1v1.2m0 -0.5v2.1m0 -1.9v1.2m0 -0.5v1.2m0 -0.4v1.2m0 -0.8v1.2m0 0.1v2.1m0 -2v1.2m0 -0.5v2.1m0 -1.9v1.2m0 -0.9v1.2m0 -0.8v1.2m0 -1.1v1.2m0 -0.7v1.2m0 -0.8v1.2m0 -0.6v2.1m0 -1.8v2.1m0 -2.1v1.2m0 -0.8v1.2m0 -0.9v1.2m0 -0.1v1.2m0 -1.2v1.2m0 -0.8v1.2m0 -1.1v1.2m0 -0.9v2.1m0 -1.9v2.1m0 0v1.2m0 -0.6v2.1m0 -1.5v1.2m0 -0.8v1.2m0 -0.9v1.2m0 -0.9v1.2m0 -0.4v1.2m0 -0.3v1.2m0 -0.1v1.2m0 -1.1v1.2m0 -0.2v2.1m0 -1.2v1.2m0 -1.2v1.2m0 -1v2.1m0 -1.3v2.1m0 -1.5v2.1m0 -1.6v2.1m0 -2v1.2m0 -1v1.2m0 -0.1v1.2m0 -1v1.2m0 -0.8v1.2m0 -0.6v2.1m0 -1.7v1.2m0 -0.9v2.1m0 -1.9v1.2m0 -1.1v1.2m0 -0.3v2.1m0 -1v1.2m0 -1.2v2.1m0 -1.7v1.2m0 0v1.2m0 -0.7v1.2m0 -1.1v1.2m0 -1.1v2.1m0 -1.9v2.1m0 -1.9v2.1m0 -1.5v1.2m0 -1.1v1.2m0 -0.6v1.2m0 -1.1v2.1m0 -2v1.2m0 -0.5v2.1m0 -2v2.1m0 -2v1.2m0 -0.3v1.2m0 -0.9v1.2m0 -1v1.2m0 -0.9v1.2m0 -1v2.1m0 -1.8v1.2m0 -1.2v1.2m0 -0.4v1.2m0 -1v2.1m0 -2.1v1.2m0 -0.8v1.2m0 -0.1v1.2m0 -1.2v1.2m0 -1v2.1m0 -2v1.2m0 -1.1v1.2m0 -1.1v2.1m0 -1.8v1.2m0 -0.9v1.2m0 -0.9v2.1m0 -1.5v1.2m0 -1v1.2m0 -0.5v1.2m0 -1.2v1.2m0 -0.7v1.2m0 -0.8v1.2m0 -1.2v2.1m0 -1.8v1.2m0 -1v2.1m0 -2.1v1.2m0 -0.4v1.2m0 -0.7v1.2m0 -0.9v1.2m0 -1.1v1.2m0 -0.8v1.2m0 -1v1.2m0 -1v2.1m0 -2v1.2m0 -1.2v1.2m0 -0.8v1.2m0 -1v1.2m0 -0.7v1.2m0 -1v1.2m0 -1.1v1.2m0 -1.1v2.1m0 -2.1v1.2m0 -1.1v2.1m0 -0.6v2.1m0 -1.8v1.2m0 -1.2v1.2m0 -1.1v1.2m0 -1.1v2.1m0 -1.4v1.2m0 -1.1v2.1m0 -1v2.1m0 -1.9v2.1m0 -1.9v1.2m0 -1.1v2.1m0 -1.8v1.2m0 -0.4v1.2m0 -0.6v1.2m0 -1v2.1m0 -1.8v2.1m0 -1.9v1.2m0 -0.9v1.2m0 -1.2v1.2m0 -0.6v1.2m0 -1.1v2.1m0 -2v1.2m0 -1.2v2.1m0 -1.8v1.2m0 -0.4v1.2m0 -1v1.2m0 -0.8v1.2m0 -1v2.1m0 -1.8v1.2m0 -0.2v2.1m0 -1.6v1.2m0 -1v1.2m0 0.5v1.2m0 -0.7v1.2m0 -1.2v2.1m0 -2v1.2m0 -1v1.2m0 0v1.2m0 0v1.2m0 -1.2v1.2m0 -0.8v2.1m0 -1.5v2.1m0 -1.8v1.2m0 -1v1.2m0 -0.6v1.2m0 -1.2v1.2m0 -0.8v1.2m0 -0.2v1.2m0 -0.9v1.2m0 -1.1v1.2m0 -1.1v2.1m0 -2.1v1.2m0 -0.6v2.1m0 -1.8v1.2m0 -0.9v1.2m0 -1v2.1m0 -1.9v1.2m0 -0.7v1.2m0 -1v1.2m0 -0.5v2.1m0 -1.6v1.2m0 -1.2v1.2m0 -1.1v2.1m0 -2v2.1m0 -1.9v1.2m0 -1.1v2.1m0 -2v2.1m0 -1.5v1.2m0 -0.2v1.2m0 -0.9v1.2m0 -0.4v1.2m0 -0.3v1.2m0 -0.9v1.2m0 -1v2.1m0 -2.1v1.2m0 -0.9v1.2m0 -1.1v1.2m0 -1v1.2m0 -0v1.2m0 -1.2v1.2m0 -1.1v1.2m0 -1.1v1.2m0 0.1v2.1m0 -2.1v1.2m0 -0.8v1.2m0 -1.2v2.1m0 -1.8v1.2m0 -0.5v1.2m0 -1v1.2m0 -1.1v1.2m0 -1.1v2.1m0 -2v2.1m0 -1.4v2.1m0 -0.9v2.1m0 -2v1.2m0 -1.1v1.2m0 -1v1.2m0 -0.9v1.2m0 -1.2v1.2m0 -0.6v1.2m0 -1.1v1.2m0 -1.1v1.2m0 -0.8v1.2m0 -0.5v1.2m0 -0.9v1.2m0 -0.9v2.1m0 -1.2v1.2m0 -0.9v2.1m0 -2v2.1m0 -1.6v1.2m0 -1.1v1.2m0 -1v1.2m0 -1.2v1.2m0 -0.2v1.2m0 -1v1.2m0 -0.7v1.2m0 -0.8v1.2m0 -1v1.2m0 -1.1v1.2m0 -1.1v2.1m0 -1.9v1.2m0 -1.1v1.2m0 -1v2.1m0 -2.1v1.2m0 -1.2v1.2m0 -1v1.2m0 -1.1v1.2m0 -1.2v2.1m0 -1.9v1.2m0 -1v2.1m0 -2.1v1.2m0 -0.4v2.1m0 -1.6v1.2m0 -0.4v1.2m0 -0.6v1.2m0 -1v1.2m0 -1.1v2.1m0 -1.9v1.2m0 -0.8v2.1m0 -1.2v2.1m0 -2.1v2.1m0 -1.6v1.2m0 -1v1.2m0 -0.2v2.1m0 -1.5v1.2m0 0.1v1.2m0 -0.9v1.2m0 -1.2v1.2m0 -1.1v1.2m0 -1v1.2m0 -1.1v1.2m0 -0.8v1.2m0 -1.1v1.2m0 -1.1v2.1m0 -1.9v2.1m0 -1.4v1.2m0 -0.9v1.2m0 -1.1v1.2m0 -1.1v1.2m0 -0.9v1.2m0 0.1v1.2m0 -0.5v1.2m0 -0.4v1.2m0 -1.1v1.2m0 -0.3v2.1m0 -0.5v2.1m0 -1.5v1.2m0 -0.9v1.2m0 -1.1v1.2m0 -1v1.2m0 -0.9v1.2m0 -1.2v1.2m0 -0.9v1.2m0 -0.6v1.2m0 -0.9v1.2m0 -0.8v1.2m0 -0.4v1.2m0 -1v1.2m0 -1v1.2m0 -1.2v1.2m0 -0.5v1.2m0 -1.1v2.1m0 -1.9v1.2m0 -1v2.1m0 -1.5v1.2m0 -1.1v2.1m0 -1.5v2.1m0 -2v1.2m0 -1.2v2.1m0 -1.9v1.2m0 -0.7v1.2m0 -0.8v1.2m0 -1.2v1.2m0 -0.9v1.2m0 -0.2v2.1m0 -1.2v2.1m0 -1.2v1.2m0 -0.5v2.1m0 -2v1.2m0 -0.6v1.2m0 -1v1.2m0 -0.9v1.2m0 -1.1v2.1m0 -1.8v1.2m0 -1.1v1.2m0 -0.9v2.1m0 -2.1v1.2m0 -1.1v2.1m0 -1.7v1.2m0 -0.9v1.2m0 -0.9v1.2m0 -1.1v2.1m0 -2.1v1.2m0 -0.3v2.1m0 -1.9v1.2m0 -1.1v1.2m0 -0.8v1.2m0 -1v1.2m0 -1.2v1.2m0 -0.8v2.1m0 -2v1.2m0 -1.1v1.2m0 -1v1.2m0 -0.5v1.2m0 -1.1v1.2m0 -1.1v1.2m0 -0.9v2.1m0 -0.7v1.2m0 -1v1.2m0 -0.5v1.2m0 -1.1v1.2m0 -0.4v2.1m0 -1.9v1.2m0 -1v1.2m0 -0.9v1.2m0 -1v1.2m0 -0.8v1.2m0 -0.8v1.2m0 -1.2v1.2m0 -0.7v1.2m0 -0.6v1.2m0 -0.8v1.2m0 -1.1v1.2m0 0.2v1.2m0 -1v1.2m0 -0.1v2.1m0 -2.1v2.1m0 -0.6v1.2m0 -1.1v1.2m0 -0.8v1.2m0 -0.8v2.1m0 -1.5v1.2m0 -0.6v2.1m0 -2.1v1.2m0 -1.2v2.1m0 -1.7v1.2m0 -1.2v1.2m0 -1.1v2.1M330 15.5v2.1m0 -2v1.2m0 -1.1v2.1m0 -2v1.2m0 -1v1.2m0 -0.5v1.2m0 1.1v1.2m0 -0.9v1.2m0 -1.2v1.2m0 -0.5v1.2m0 -0.9v1.2m0 -0.8v1.2m0 -0.5v1.2m0 -0.8v2.1m0 -1.5v2.1m0 -1v2.1m0 -1.6v2.1m0 -1.7v1.2m0 -1.1v1.2m0 -1.1v2.1m0 -0.5v2.1m0 -1.4v1.2m0 0.8v1.2m0 -1.1v1.2m0 -1v1.2m0 -0.8v1.2m0 -0.1v2.1m0 -1.5v1.2m0 -1.1v1.2m0 -0.8v1.2m0 -0.4v1.2m0 -1.2v1.2m0 0v1.2m0 -0.7v2.1m0 -1.9v2.1m0 -1.8v1.2m0 0.6v2.1m0 -0.1v2.1m0 1.1v1.2m0 -0.7v2.1m0 -2v2.1m0 -1.8v1.2m0 0.2v2.1m0 -1.4v1.2m0 -0.8v2.1m0 -1v2.1m0 -1.8v1.2m0 -0.9v1.2m0 0.3v1.2m0 0.2v2.1m0 -2v1.2m0 -0.9v1.2m0 -1.2v1.2m0 -1.1v2.1m0 -1.9v1.2m0 -1.2v1.2m0 -0.1v2.1m0 -1.7v1.2m0 -0.2v2.1m0 -2v1.2m0 1.4v2.1m0 -1.7v1.2m0 -0.5v2.1m0 -2.1v1.2m0 -0.6v1.2m0 -0.9v1.2m0 -0.9v1.2m0 -1.1v1.2m0 -1.1v1.2m0 -0.7v2.1m0 -1.9v2.1m0 -1.2v2.1m0 -2.1v1.2m0 -0.8v1.2m0 -0.7v1.2m0 -0.9v1.2m0 -0.9v1.2m0 -1.1v2.1m0 -1.8v2.1m0 -2v1.2m0 -1v1.2m0 0.4v1.2m0 -1v2.1m0 -1.6v1.2m0 -0.8v1.2m0 -1v1.2m0 -0.3v1.2m0 -0.6v2.1m0 -1.4v1.2m0 -0.7v2.1m0 -1.2v2.1m0 -0.7v1.2m0 -0.9v1.2m0 -1.1v1.2m0 0.9v1.2m0 -1.2v1.2m0 -1.1v2.1m0 -0.8v1.2m0 0.1v1.2m0 -1.2v2.1m0 -2v1.2m0 -0.9v1.2m0 -1v1.2m0 0.6v1.2m0 -0.9v1.2m0 -0.7v2.1m0 -1.8v1.2m0 -0.9v2.1m0 -1.9v1.2m0 -0.9v1.2m0 -0.4v1.2m0 -1.1v2.1m0 -2.1v1.2m0 0.4v1.2m0 -1v1.2m0 -0.9v1.2m0 -1.1v1.2m0 -0.9v1.2m0 -1.2v1.2m0 -1.2v1.2m0 -1.1v1.2m0 0.4v1.2m0 -0.6v2.1m0 -2v1.2m0 -1v1.2m0 -1.1v2.1m0 -2v2.1m0 -2v1.2m0 -0.2v1.2m0 -0.3v1.2m0 -0.8v1.2m0 -0.7v1.2m0 -1.1v1.2m0 0.1v1.2m0 0.4v1.2m0 -1.1v1.2m0 -0.9v1.2m0 0.3v1.2m0 -1.1v1.2m0 -1v2.1m0 -1v1.2m0 -0.7v1.2m0 -0.8v1.2m0 0.1v1.2m0 -0.5v1.2m0 -1.1v2.1m0 -1.3v1.2m0 -0.2v2.1m0 -1.5v2.1m0 -1.5v1.2m0 -0.7v1.2m0 -0.9v1.2m0 0.2v1.2m0 -0.6v1.2m0 -1.1v2.1m0 -1.6v1.2m0 -1v1.2m0 -1.1v1.2m0 -0.8v1.2m0 -0.9v1.2m0 -1.1v1.2m0 -0.7v1.2m0 0v1.2m0 -0.3v1.2m0 -1.1v1.2m0 -1.2v1.2m0 -0.9v1.2m0 -1.1v1.2m0 -1.2v2.1m0 -0.8v1.2m0 -0.6v1.2m0 -0.9v1.2m0 -0.9v1.2m0 0.5v1.2m0 -1.2v1.2m0 -0.3v1.2m0 -0.8v1.2m0 -0.8v2.1m0 -1.1v2.1m0 -1.7v1.2m0 -1v1.2m0 -0.6v1.2m0 -0.8v1.2m0 -0.8v2.1m0 0.7v1.2m0 -0.5v2.1m0 -0.7v2.1m0 -1.8v2.1m0 -1.6v1.2m0 -1v1.2m0 -1.1v2.1m0 -1.9v1.2m0 0.1v1.2m0 -1.2v1.2m0 -0.6v1.2m0 -1.2v1.2m0 -1v1.2m0 -1.1v2.1m0 -2.1v1.2m0 0.5v1.2m0 1.3v2.1m0 -2v2.1m0 -1.9v1.2m0 -0.7v1.2m0 -0.2v1.2m0 -0.8v1.2m0 0.7v1.2m0 -0.3v1.2m0 0.6v1.2m0 0.3v1.2m0 0.2v1.2m0 -0.2v2.1m0 -2v1.2m0 -1.1v1.2m0 0.6v2.1m0 -1.4v1.2m0 0.1v1.2m0 -0.7v2.1m0 -1.6v2.1m0 -1.7v2.1m0 -0.3v1.2m0 -1.1v2.1m0 -2v1.2m0 -0.7v1.2m0 -0.9v1.2m0 0.2v1.2m0 0.5v1.2m0 -1.1v2.1m0 1.1v2.1m0 -1v2.1m0 -1v2.1m0 -1.9v1.2m0 -1v2.1m0 -1.8v1.2m0 -1.2v2.1m0 -0.4v1.2m0 -0.9v1.2m0 -1.1v1.2m0 -0.5v1.2m0 -0.9v1.2m0 -0v2.1m0 -1.9v1.2m0 -0.7v1.2m0 -1.1v2.1m0 -2.1v1.2m0 -1.1v1.2m0 0.2v1.2m0 -1.2v2.1m0 -1.9v1.2m0 -0.7v1.2m0 -0.7v1.2m0 -0.5v2.1m0 -1.8v2.1m0 -1.9v1.2m0 -1.1v1.2m0 -0.6v1.2m0 0.6v1.2m0 -0.5v1.2m0 -1v1.2m0 -0.9v1.2m0 -0.6v1.2m0 -0.6v2.1m0 -0.9v1.2m0 -0.9v1.2m0 -1.1v1.2m0 -1.2v1.2m0 -0.9v1.2m0 -1.2v1.2m0 -1.2v1.2m0 0.6v1.2m0 -0.4v1.2m0 -0.7v1.2m0 -0.6v1.2m0 -1v1.2M331 15.3v2.1m0 -1.4v1.2m0 -0.6v1.2m0 1.4v2.1m0 -0.2v1.2m0 -0.5v2.1m0 0.3v1.2m0 0v2.1m0 -0.4v1.2m0 0.2v1.2m0 -0.1v1.2m0 -0.2v1.2m0 -0.7v2.1m0 -1.4v1.2m0 3v2.1m0 -0.9v1.2m0 -0.8v2.1m0 -1.5v1.2m0 -0.1v2.1m0 -0.3v1.2m0 -0.7v2.1m0 2.1v1.2m0 1.7v1.2m0 -1.1v2.1m0 -1.7v1.2m0 0.4v1.2m0 0.1v2.1m0 -1.1v1.2m0 0.5v1.2m0 -0.7v1.2m0 -0.4v2.1m0 -1.2v1.2m0 -0.1v1.2m0 -1v1.2m0 -1v1.2m0 -0.9v2.1m0 1v2.1m0 -1.5v2.1m0 0.9v1.2m0 0.9v1.2m0 3.4v1.2m0 1.4v2.1m0 -1.4v1.2m0 -0.8v1.2m0 -0.4v1.2m0 1.4v1.2m0 -0.7v1.2m0 0.7v1.2m0 -0.3v1.2m0 0.8v2.1m0 -1.8v1.2m0 -0.5v1.2m0 0.6v1.2m0 -0.6v1.2m0 -0v1.2m0 3.3v1.2m0 0.9v1.2m0 -0.6v1.2m0 -0.2v1.2m0 -0.9v1.2m0 -1v1.2m0 1.6v2.1m0 1.6v1.2m0 -0.4v1.2m0 0.4v1.2m0 -1.2v1.2m0 1.4v1.2m0 -0.2v1.2m0 0.5v1.2m0 -1v1.2m0 -0.2v1.2m0 -0.8v1.2m0 1v2.1m0 1.3v1.2m0 -1v1.2m0 3.3v2.1m0 -0.3v1.2m0 -0.8v1.2m0 -0.4v1.2m0 3.6v2.1m0 -1.9v1.2m0 -0.9v1.2m0 -1.1v1.2m0 0.6v1.2m0 -1v1.2m0 -1.1v1.2m0 0.9v1.2m0 -0.9v1.2m0 1.5v2.1m0 0.1v1.2m0 0.5v1.2m0 0.7v1.2m0 -0.3v2.1m0 -0v1.2m0 2.9v1.2m0 -0.1v2.1m0 -0.4v1.2m0 0.6v2.1m0 3.6v2.1m0 -1.1v2.1m0 -2.1v2.1m0 -1.6v1.2m0 -0.6v1.2m0 -0.9v1.2m0 0.2v1.2m0 2v2.1m0 -1.8v2.1m0 -0.5v1.2m0 -0.6v1.2m0 0v1.2m0 -1v1.2m0 0.5v1.2m0 0.1v1.2m0 -1v1.2M332 19.1v1.2m0 -1.1v1.2m0 -0.4v2.1m0 -0.5v2.1m0 -1.8v1.2m0 -0.9v1.2m0 -0.2v2.1m0 -0.3v2.1m0 -2v2.1m0 -2.1v1.2m0 -0.1v2.1m0 -1.3v1.2m0 1.1v1.2m0 5.2v2.1m0 -1.3v1.2m0 0.3v1.2m0 -1.2v2.1m0 3.2v1.2m0 0.1v1.2m0 -0.9v1.2m0 -0.3v1.2m0 -0.4v2.1m0 -2v1.2m0 -0.7v1.2m0 -0.5v1.2m0 -1.1v1.2m0 -0.2v1.2m0 -0.7v2.1m0 -0.3v1.2m0 1.6v2.1m0 -2.1v2.1m0 -1.6v2.1m0 -0.7v1.2m0 -0.4v1.2m0 -0.9v2.1m0 -0.5v1.2m0 -0v2.1m0 -1.4v1.2m0 -1v1.2m0 -0.3v1.2m0 1v2.1m0 -1.5v1.2m0 1v1.2m0 0.7v2.1m0 -0.3v2.1m0 -0.6v1.2m0 3.6v1.2m0 -0.8v1.2m0 -0.3v2.1m0 -1.3v1.2m0 2.1v1.2m0 -0.6v2.1m0 -1.9v1.2m0 -0.5v1.2m0 2.2v1.2m0 -1v1.2m0 10v1.2m0 -0.1v1.2m0 0.9v2.1m0 1.4v1.2m0 1.2v1.2m0 0.4v1.2m0 -0.4v1.2m0 2v1.2m0 -0.7v1.2m0 0v1.2m0 2.2v1.2m0 -1.1v1.2m0 -1.1v2.1m0 -0.6v1.2m0 -0.7v2.1m0 -1.7v1.2m0 0.1v2.1m0 -1.1v2.1m0 -2.1v1.2m0 -0.3v1.2m0 0.1v1.2m0 2.3v1.2m0 -0.1v1.2m0 0.7v1.2m0 -1.1v1.2m0 0.3v1.2m0 0.4v1.2m0 0v2.1m0 -2.1v1.2m0 -0.9v2.1m0 -2v2.1m0 -1.8v1.2m0 0v1.2m0 -1.1v1.2m0 -1.1v1.2m0 0.4v1.2m0 4.3v1.2m0 3.6v1.2m0 0.6v1.2m0 -0.9v2.1m0 -2v2.1m0 -1.3v2.1m0 -2v1.2m0 -1.1v1.2m0 0.3v2.1m0 -1.9v1.2m0 1.1v1.2m0 -0.2v1.2m0 -0.4v1.2m0 -0.5v1.2m0 -1.2v1.2m0 -1.2v1.2m0 -0.9v1.2m0 -0.6v2.1m0 -1.4v1.2m0 0.2v1.2m0 -1v1.2m0 -0.2v1.2m0 -0.3v1.2m0 -0.8v1.2m0 1.5v1.2m0 -0.1v1.2m0 0.6v1.2m0 0.8v2.1m0 -1.8v1.2m0 -1.1v1.2m0 -1.1v2.1m0 -1.5v1.2m0 0.3v1.2m0 -0.7v2.1M333 18.3v1.2m0 4.8v1.2m0 5.4v1.2m0 1.8v1.2m0 1.6v2.1m0 4.3v2.1m0 -1.5v1.2m0 -0.9v1.2m0 3.1v1.2m0 2.5v1.2m0 1.8v1.2m0 1v2.1m0 4.8v1.2m0 -0.7v1.2m0 -0.7v1.2m0 5.8v2.1m0 -1.4v1.2m0 7.4v2.1m0 0.3v1.2m0 -0.6v1.2m0 -1v1.2m0 2.9v1.2m0 -0.6v1.2m0 2.7v1.2m0 -0.7v1.2m0 -0.8v1.2m0 1.7v1.2m0 0.9v1.2m0 -0.1v1.2m0 3.5v1.2m0 -0.4v1.2m0 4.6v1.2m0 1.9v1.2m0 0.4v2.1m0 -1.2v1.2m0 -0.3v1.2m0 10.8v1.2m0 4.9v1.2m0 3.7v1.2m0 -0.8v2.1m0 -1.1v1.2m0 -0.7v1.2m0 1v1.2m0 3.4v1.2m0 -0.1v2.1m0 -0.9v1.2m0 -0.3v2.1m0 1.6v1.2m0 2.4v1.2m0 -1.2v1.2m0 12.7v1.2m0 2.1v1.2m0 -1.1v1.2M334 18.7v1.2m0 1.1v1.2m0 1.9v1.2m0 -0.3v1.2m0 0.7v1.2m0 -0.5v1.2m0 7.2v1.2m0 -0.6v2.1m0 1.7v1.2m0 0.6v2.1m0 -1.2v1.2m0 3.8v2.1m0 6.8v1.2m0 5.4v1.2m0 -0.4v1.2m0 1.8v1.2m0 0.5v2.1m0 -0.4v1.2m0 -0.9v1.2m0 -0.3v1.2m0 4.3v1.2m0 0.7v2.1m0 1v1.2m0 -0.9v2.1m0 -1.8v1.2m0 1.7v1.2m0 -1v1.2m0 -0.5v1.2m0 1.9v2.1m0 -0.8v1.2m0 -0.2v1.2m0 0v1.2m0 0.8v1.2m0 1.1v1.2m0 1.1v1.2m0 1.5v1.2m0 1.2v1.2m0 2v1.2m0 -0.8v1.2m0 8.6v1.2m0 1.5v1.2m0 8.1v1.2m0 -1.2v1.2m0 0.7v1.2m0 1.8v1.2m0 1.8v1.2m0 4.3v1.2m0 1.2v2.1m0 1.7v1.2m0 -0.7v1.2m0 0.2v1.2m0 0.9v1.2m0 -0.4v1.2m0 2.6v1.2m0 -0.3v1.2m0 -0.2v1.2m0 0v1.2m0 -0.7v1.2m0 5.4v1.2m0 -1v1.2m0 0.3v1.2m0 0.8v1.2M335 18.8v1.2m0 2.2v1.2m0 -0.3v1.2m0 4.6v1.2m0 14.3v2.1m0 -2v2.1m0 0.5v2.1m0 0.5v1.2m0 0.7v1.2m0 -0.9v1.2m0 -0.2v2.1m0 -1.4v1.2m0 -1.1v1.2m0 0.6v1.2m0 2.7v2.1m0 -1.8v1.2m0 1.6v1.2m0 8.8v1.2m0 0.4v1.2m0 -0.3v1.2m0 8.1v2.1m0 0.8v1.2m0 -0.4v1.2m0 1.7v1.2m0 -0.2v1.2m0 0.4v1.2m0 1.3v1.2m0 0.4v1.2m0 -0.3v1.2m0 3.7v2.1m0 2.4v1.2m0 3.3v1.2m0 1.2v1.2m0 11.8v1.2m0 1.1v1.2m0 4.3v1.2m0 5.2v2.1m0 0.1v2.1m0 -0.4v1.2m0 -0.6v1.2m0 1.4v1.2m0 2.2v1.2m0 -0.7v1.2m0 1.4v1.2m0 0.3v2.1m0 -0.3v1.2m0 -0.6v1.2m0 -0.4v1.2m0 -0.2v1.2m0 2v1.2m0 -0.2v1.2m0 -0.6v1.2m0 -0.1v1.2m0 -0.8v1.2m0 -0.7v2.1m0 0.8v1.2m0 -1.2v1.2m0 0.8v1.2m0 2.9v1.2M336 16.9v2.1m0 1.8v1.2m0 1v1.2m0 -1.1v1.2m0 -0.8v1.2m0 0.9v1.2m0 -0.9v1.2m0 -1.2v2.1m0 -1.5v1.2m0 0.4v1.2m0 -0.4v1.2m0 0v1.2m0 -0.2v1.2m0 2v2.1m0 3.2v1.2m0 -0.5v2.1m0 0.6v1.2m0 0v1.2m0 -0.1v1.2m0 -0.9v2.1m0 0.9v1.2m0 -0.6v1.2m0 4v1.2m0 0.3v1.2m0 4.9v1.2m0 -0.1v2.1m0 0.2v1.2m0 3v1.2m0 -0.4v1.2m0 -0.9v1.2m0 0.6v1.2m0 2v2.1m0 1.8v1.2m0 3v1.2m0 1.1v1.2m0 -0.2v2.1m0 -1.3v2.1m0 -0.8v1.2m0 1v1.2m0 1.4v2.1m0 -1.5v1.2m0 7.7v2.1m0 13v1.2m0 1.4v2.1m0 -0.9v1.2m0 1.1v1.2m0 -0.9v1.2m0 -0v1.2m0 -0.7v1.2m0 -1v1.2m0 1.4v2.1m0 -0.5v1.2m0 3.3v1.2m0 1.6v1.2m0 2.7v1.2m0 -0.6v1.2m0 -0.3v1.2m0 -0.7v1.2m0 3.6v2.1m0 -0.4v2.1m0 0.7v1.2m0 0.1v1.2m0 1.1v1.2m0 5.4v1.2m0 0.9v1.2m0 -1.1v2.1m0 -1.4v1.2m0 1.1v1.2m0 -0.3v1.2m0 -0.4v1.2m0 -1.1v1.2m0 1.2v1.2m0 0.1v1.2m0 -0.9v2.1m0 -1v2.1M337 17.3v2.1m0 -1.7v1.2m0 -1.2v2.1m0 -2v1.2m0 -0.5v1.2m0 1.5v1.2m0 0.8v1.2m0 -0.3v1.2m0 6.9v2.1m0 0.6v1.2m0 1.4v1.2m0 1.3v2.1m0 0.3v1.2m0 -1.1v2.1m0 6.4v1.2m0 -1.1v1.2m0 -0.9v1.2m0 -0.8v1.2m0 2.4v2.1m0 -2v1.2m0 2.9v1.2m0 3.9v1.2m0 -0.1v1.2m0 1.1v2.1m0 1.7v1.2m0 0.4v1.2m0 10.1v1.2m0 3.5v1.2m0 -1v1.2m0 -0.7v1.2m0 -1.1v1.2m0 -0.8v1.2m0 0.5v1.2m0 0v2.1m0 -1.2v1.2m0 0.3v1.2m0 -0.9v1.2m0 -0.9v1.2m0 -0.1v1.2m0 2.9v1.2m0 0.5v1.2m0 3.5v1.2m0 -0.8v1.2m0 0.6v2.1m0 -1.2v1.2m0 0.4v1.2m0 1.7v2.1m0 1.1v1.2m0 0.5v1.2m0 1.3v2.1m0 -1.3v2.1m0 1.6v1.2m0 1.5v1.2m0 -0.8v1.2m0 6.3v1.2m0 5.5v2.1m0 0.6v2.1m0 1.8v1.2m0 0.4v1.2m0 0.1v2.1m0 1.9v2.1m0 0.3v1.2m0 1v1.2m0 1.6v1.2m0 -0.1v2.1m0 -0.3v2.1m0 -0.6v1.2m0 -1.1v2.1m0 -1.6v1.2m0 1.5v1.2M338 15.8v2.1m0 3v1.2m0 1.2v1.2m0 1v1.2m0 7.4v2.1m0 -1.9v2.1m0 -0v1.2m0 2.5v1.2m0 1.9v2.1m0 0.3v1.2m0 0.1v1.2m0 0.6v1.2m0 -0v1.2m0 1.5v1.2m0 -1.1v1.2m0 4v2.1m0 -1.4v1.2m0 -1.2v2.1m0 6.8v1.2m0 -0.8v1.2m0 2.2v1.2m0 -1.2v1.2m0 -0.9v2.1m0 -1.3v1.2m0 3v1.2m0 -0.1v1.2m0 1v1.2m0 2.4v1.2m0 3.5v1.2m0 1.8v1.2m0 -1.1v1.2m0 -0v1.2m0 -0.4v2.1m0 -1.6v1.2m0 3.1v1.2m0 0.2v2.1m0 -0.9v1.2m0 -1v1.2m0 -0.9v1.2m0 1.1v2.1m0 0.2v1.2m0 -1v2.1m0 -1.4v2.1m0 0.3v1.2m0 3.4v2.1m0 -2.1v1.2m0 0.5v1.2m0 0.9v2.1m0 -1.8v1.2m0 -1v2.1m0 -1.2v2.1m0 8.5v1.2m0 -1v1.2m0 -0.1v1.2m0 -0v1.2m0 1.6v1.2m0 1.9v1.2m0 1.2v1.2m0 4.3v1.2m0 6.9v1.2m0 4.2v1.2m0 1.6v1.2m0 2.7v1.2m0 0.8v1.2m0 -0.8v1.2m0 6.1v2.1M339 17v1.2m0 -1v1.2m0 -1.2v1.2m0 1.6v1.2m0 0.1v1.2m0 1.6v1.2m0 1.4v1.2m0 -0.3v1.2m0 1.4v1.2m0 1.1v1.2m0 0.2v1.2m0 -0.9v1.2m0 0.7v2.1m0 -0.3v2.1m0 5.7v1.2m0 2.6v1.2m0 0.3v2.1m0 -1.3v1.2m0 1.1v1.2m0 2.2v1.2m0 0.2v1.2m0 1.2v2.1m0 0.6v1.2m0 2.9v1.2m0 -0.9v1.2m0 2.3v1.2m0 -0.7v1.2m0 0v1.2m0 2.5v1.2m0 0.2v1.2m0 7v1.2m0 -0.1v1.2m0 1v2.1m0 -0.6v1.2m0 -0v1.2m0 -0.9v1.2m0 -0.4v1.2m0 5.9v1.2m0 1.8v1.2m0 1.1v1.2m0 0.2v1.2m0 1.8v1.2m0 -0.1v1.2m0 3.4v2.1m0 0.7v1.2m0 -0.9v1.2m0 1.2v1.2m0 -0.7v2.1m0 1.8v1.2m0 0.5v2.1m0 -1.2v1.2m0 3.5v1.2m0 3.5v1.2m0 4.2v1.2m0 -1.2v2.1m0 1.2v1.2m0 2.2v1.2m0 1.9v1.2m0 -0.4v1.2m0 3.6v1.2m0 0.9v2.1m0 0.9v1.2m0 -0.9v1.2m0 -1.1v1.2m0 -1v1.2m0 0.8v1.2m0 -0.3v1.2m0 2.8v2.1m0 -1.6v2.1m0 -0.9v1.2m0 0.6v1.2m0 0.8v2.1m0 -2.1v2.1M340 16.4v2.1m0 -1.9v1.2m0 -0.1v2.1m0 0.9v2.1m0 -1.3v1.2m0 1.6v1.2m0 1.8v1.2m0 -1.1v1.2m0 -0.8v1.2m0 -0.5v1.2m0 -0.1v2.1m0 -1.6v2.1m0 -1.5v2.1m0 -2v1.2m0 0.1v1.2m0 2.1v1.2m0 -0.7v1.2m0 -0.4v1.2m0 0.9v2.1m0 -1.4v1.2m0 -0.9v1.2m0 0.1v1.2m0 -0.1v2.1m0 -1.4v1.2m0 -0.4v1.2m0 0.3v1.2m0 0.2v1.2m0 0.1v1.2m0 -0.7v1.2m0 -1.1v1.2m0 -1.1v1.2m0 -0.7v1.2m0 1.3v1.2m0 -1v2.1m0 -0.3v1.2m0 -0.6v1.2m0 0.7v1.2m0 0.8v1.2m0 2.6v2.1m0 -0v1.2m0 -1.1v1.2m0 -1.1v1.2m0 -0.3v1.2m0 -0.1v1.2m0 -0.9v1.2m0 -1.1v2.1m0 -1.7v1.2m0 -0.5v2.1m0 -1.2v1.2m0 -0.7v1.2m0 -0.8v1.2m0 -1v2.1m0 -1.2v2.1m0 1.3v1.2m0 1.1v1.2m0 -0.7v1.2m0 0.2v1.2m0 0v1.2m0 -0.4v2.1m0 1.5v1.2m0 1.1v1.2m0 -0.4v1.2m0 -0.9v2.1m0 -1.7v1.2m0 1.6v1.2m0 -0v2.1m0 0.1v1.2m0 1.7v1.2m0 -0.8v1.2m0 -0.3v1.2m0 -0.5v1.2m0 -1v2.1m0 -1v1.2m0 1.2v2.1m0 -1.5v1.2m0 0.3v2.1m0 -1.7v1.2m0 2.2v1.2m0 -0.6v1.2m0 -1v1.2m0 -0.4v2.1m0 0.4v1.2m0 1.8v2.1m0 3.1v1.2m0 -0.3v2.1m0 4.6v1.2m0 0.6v2.1m0 -0.9v2.1m0 -1.7v1.2m0 0.8v1.2m0 -1.1v2.1m0 -0.9v1.2m0 -1.1v2.1m0 -1.9v2.1m0 -0.9v2.1m0 -2v2.1m0 -1.2v1.2m0 -0.6v2.1m0 -0.2v1.2m0 -0.4v1.2m0 -0.5v1.2m0 -0.4v1.2m0 1.2v1.2m0 -0.6v2.1m0 -0.6v2.1m0 -0.4v1.2m0 -0.3v1.2m0 1.7v2.1m0 -1.7v1.2m0 -1.1v1.2m0 0.1v1.2m0 -0.1v1.2m0 0.6v2.1m0 -2.1v2.1m0 -0.7v2.1m0 -1.7v1.2m0 -0.9v1.2m0 2.2v1.2m0 -0.9v1.2m0 -0.3v1.2m0 -0.6v1.2m0 1.8v2.1m0 1.1v2.1m0 -0.4v2.1m0 -0.9v1.2m0 -0.5v1.2m0 -0.8v2.1m0 -0.9v2.1m0 -1.8v1.2m0 -0.9v2.1M341 18.1v2.1m0 -2v1.2m0 -0.6v2.1m0 0.7v1.2m0 1v1.2m0 -0.7v2.1m0 1.1v1.2m0 -0.1v1.2m0 -0.3v1.2m0 2.7v1.2m0 1.1v1.2m0 -0.7v1.2m0 0.7v2.1m0 0.8v1.2m0 -0.6v1.2m0 -1.1v1.2m0 -0.6v1.2m0 4v1.2m0 -0.8v1.2m0 -0.9v2.1m0 -0.1v1.2m0 0.9v1.2m0 1.8v2.1m0 -0.9v1.2m0 -1v1.2m0 1v1.2m0 -0.3v1.2m0 -0.9v1.2m0 1.9v1.2m0 -0.8v1.2m0 -0.4v1.2m0 2.4v1.2m0 -0.3v2.1m0 2.5v1.2m0 2.2v2.1m0 -1.7v1.2m0 1.5v1.2m0 -0.6v1.2m0 2.4v1.2m0 -0.9v2.1m0 -1.2v2.1m0 -1.3v1.2m0 4v1.2m0 -0.1v1.2m0 0.4v1.2m0 -0.5v1.2m0 1.1v1.2m0 0.1v2.1m0 -0.8v1.2m0 0.6v1.2m0 -0.4v1.2m0 -1.1v1.2m0 -0.9v1.2m0 -1v1.2m0 0.7v2.1m0 -0.6v1.2m0 0.5v1.2m0 1.1v1.2m0 -0.6v2.1m0 -1.5v1.2m0 -0.7v1.2m0 2.2v1.2m0 -0.3v1.2m0 -0.2v1.2m0 -0.2v1.2m0 -0.9v2.1m0 -1.2v1.2m0 -0.1v1.2m0 -0.9v1.2m0 -0.7v2.1m0 -1.3v2.1m0 -0.6v1.2m0 -1v1.2m0 -0.1v1.2m0 -0.6v1.2m0 4.4v1.2m0 -0.9v2.1m0 2.5v1.2m0 -0.4v1.2m0 -0.5v1.2m0 -0.2v1.2m0 0.5v2.1m0 0.4v1.2m0 -0.7v1.2m0 0.6v2.1m0 -1.5v2.1m0 -0.6v1.2m0 0v1.2m0 -0.9v1.2m0 -0.5v2.1m0 1.9v1.2m0 -0.5v1.2m0 0.5v1.2m0 -0.3v1.2m0 -0.5v2.1m0 -2v1.2m0 1.3v1.2m0 4.4v2.1m0 -1.1v1.2m0 -0.7v1.2m0 0.8v1.2m0 -0.6v1.2m0 -0.6v1.2m0 1.4v1.2m0 2v1.2m0 0.1v1.2m0 -1.2v1.2M342 20.8v2.1m0 -1.3v1.2m0 1.3v1.2m0 -0.6v2.1m0 -1.6v1.2m0 0.5v1.2m0 8.2v1.2m0 0.5v2.1m0 1.1v2.1m0 1.4v1.2m0 0.1v2.1m0 -0.5v2.1m0 2.1v1.2m0 -0.9v1.2m0 10.6v1.2m0 -0.9v2.1m0 -1.5v1.2m0 4.7v1.2m0 0.9v1.2m0 0.3v1.2m0 -0.2v1.2m0 1.2v1.2m0 2.1v2.1m0 -0.8v1.2m0 -0.5v1.2m0 -0.6v1.2m0 -0v1.2m0 2.5v1.2m0 1.4v1.2m0 -1.2v1.2m0 -0.9v1.2m0 1.9v1.2m0 -0.5v1.2m0 7.8v2.1m0 2.6v2.1m0 0.3v2.1m0 2.4v1.2m0 -0.2v1.2m0 -0.6v1.2m0 1.6v1.2m0 0.2v1.2m0 1.4v1.2m0 1.1v1.2m0 8.8v1.2m0 5.3v2.1m0 0v1.2m0 -0.3v1.2m0 1.8v2.1m0 0.1v1.2m0 1.3v1.2m0 -0v2.1m0 -0.6v1.2m0 3.1v1.2m0 2.2v1.2m0 -1.2v2.1m0 1.1v1.2m0 5.3v1.2m0 -0.8v2.1M343 16.6v1.2m0 -1.1v1.2m0 -0.5v1.2m0 -0.5v2.1m0 -0.7v1.2m0 1.1v1.2m0 -0.2v1.2m0 -1v2.1m0 -2v2.1m0 -2v2.1m0 -1.5v2.1m0 0.2v2.1m0 -1.9v1.2m0 -0.4v1.2m0 1.7v1.2m0 2v1.2m0 -0.2v1.2m0 3v1.2m0 -0.5v1.2m0 0.6v1.2m0 -0.8v1.2m0 -0.8v2.1m0 -1.4v1.2m0 -0.7v1.2m0 -0.5v2.1m0 -0.3v1.2m0 0.3v2.1m0 -1.8v1.2m0 -0.7v1.2m0 -1.1v2.1m0 1.6v2.1m0 -1.5v1.2m0 0.1v2.1m0 -1.8v1.2m0 0v1.2m0 0.8v1.2m0 -1.1v1.2m0 -0.8v1.2m0 1.2v1.2m0 1.2v1.2m0 0.3v1.2m0 -0.6v1.2m0 -1v1.2m0 -1.2v1.2m0 1.1v2.1m0 -0.1v1.2m0 -0.9v1.2m0 -0.3v1.2m0 0.9v2.1m0 -1.1v1.2m0 2.9v2.1m0 -1.9v1.2m0 1.3v1.2m0 -0.2v1.2m0 0.8v1.2m0 -0.3v1.2m0 0.7v1.2m0 0.5v1.2m0 -0.6v1.2m0 -0.3v1.2m0 -0.8v1.2m0 -0.7v1.2m0 3.6v1.2m0 -0.7v1.2m0 -0.3v1.2m0 -0.1v2.1m0 1.7v2.1m0 0.3v1.2m0 -0.5v1.2m0 3v2.1m0 -0.4v2.1m0 -1.8v1.2m0 -0.6v1.2m0 0.7v1.2m0 -1.1v1.2m0 -0.6v1.2m0 -0.3v2.1m0 -0.7v1.2m0 -0.9v2.1m0 -0.2v2.1m0 -1.1v1.2m0 -1v1.2m0 0.5v1.2m0 -0.1v1.2m0 -0v1.2m0 -0.2v2.1m0 -1.4v1.2m0 0.5v1.2m0 0.3v2.1m0 -1.4v1.2m0 -1.1v2.1m0 -0.7v1.2m0 -0.9v2.1m0 -1.8v1.2m0 1.2v2.1m0 -0.8v1.2m0 -1v1.2m0 -0.1v1.2m0 0.9v1.2m0 -0.7v1.2m0 -0.5v1.2m0 0.2v1.2m0 -0.2v2.1m0 -1.4v1.2m0 -0.9v1.2m0 -0.6v1.2m0 -0.6v1.2m0 2.3v2.1m0 -1.3v1.2m0 -0.1v1.2m0 1v2.1m0 -1.4v2.1m0 -0.9v1.2m0 -0.4v1.2m0 -0.9v1.2m0 5.7v1.2m0 -0.1v1.2m0 -1.1v1.2m0 -1v2.1m0 0.5v1.2m0 -0.8v1.2m0 0.7v1.2m0 0.1v1.2m0 0.1v1.2m0 2.8v1.2m0 1v1.2m0 -1.1v1.2m0 0.1v2.1M344 18.3v1.2m0 0v1.2m0 -0.1v1.2m0 2.9v1.2m0 -0.9v1.2m0 0.7v1.2m0 1.1v2.1m0 -1.5v1.2m0 1.4v1.2m0 -0.9v1.2m0 0.9v1.2m0 0.4v1.2m0 1.3v1.2m0 -0.5v1.2m0 -0.8v2.1m0 -1.6v1.2m0 -1.1v1.2m0 3.9v2.1m0 -1.8v2.1m0 -1.9v1.2m0 -0.7v1.2m0 -1v1.2m0 0.1v2.1m0 -0.6v1.2m0 -0.1v2.1m0 -1.4v1.2m0 -0.3v2.1m0 -0.3v1.2m0 -1.1v1.2m0 -0.9v1.2m0 1.5v1.2m0 1.8v1.2m0 0.1v1.2m0 -1.2v2.1m0 -0.9v1.2m0 -0.7v1.2m0 -0.7v1.2m0 -0.8v1.2m0 -0v1.2m0 0.3v1.2m0 -1.1v1.2m0 -0.4v1.2m0 -0.9v1.2m0 -0.8v2.1m0 -0.6v2.1m0 -1.7v1.2m0 2.5v1.2m0 -1.1v1.2m0 0.6v1.2m0 -0.3v1.2m0 -0.9v1.2m0 -0.5v1.2m0 3.3v2.1m0 0.6v1.2m0 0.7v1.2m0 -0.5v2.1m0 -1.3v1.2m0 2.7v1.2m0 -1v1.2m0 -0.6v1.2m0 0.6v1.2m0 -0.6v1.2m0 1.7v2.1m0 -1.4v1.2m0 0.2v1.2m0 -0.6v1.2m0 2.2v2.1m0 2.4v1.2m0 -0.5v1.2m0 -0.8v1.2m0 -0.1v1.2m0 -1.1v1.2m0 -1.2v1.2m0 -0.2v1.2m0 2.5v1.2m0 0.3v1.2m0 -1.2v1.2m0 -0.3v2.1m0 0.7v2.1m0 -0.9v2.1m0 2v1.2m0 -0.5v1.2m0 0.1v1.2m0 -0.4v1.2m0 0.2v1.2m0 -1.1v2.1m0 -1.5v2.1m0 -1.9v1.2m0 -0.9v2.1m0 0.6v2.1m0 -0.2v2.1m0 0.2v1.2m0 -0.1v1.2m0 1.9v1.2m0 0.2v1.2m0 -1v1.2m0 -1.1v1.2m0 -1v1.2m0 -0.3v1.2m0 -0.6v1.2m0 1.1v1.2m0 -0.3v1.2m0 2.8v2.1m0 -1v1.2m0 -0.7v1.2m0 -1.1v1.2m0 0.5v1.2m0 -0.8v2.1m0 1.4v2.1m0 -1.3v2.1m0 -1.6v1.2m0 -0.2v2.1m0 -0.5v2.1m0 -0.2v2.1m0 0.4v1.2m0 -1.1v1.2m0 -0.5v1.2m0 -0.8v1.2m0 0.1v1.2m0 -1v1.2m0 0.2v1.2m0 0.7v1.2m0 -0.2v2.1m0 -0.4v1.2M345 15.9v2.1m0 -2v1.2m0 -0.6v2.1m0 -1.9v2.1m0 -1.7v2.1m0 -1.7v1.2m0 -0.7v1.2m0 -0.3v1.2m0 -0.5v1.2m0 -0.3v1.2m0 -0.6v1.2m0 -0.4v1.2m0 -0.6v1.2m0 -0.2v1.2m0 -0.3v1.2m0 0.1v1.2m0 -0.1v1.2m0 -1.1v1.2m0 0.3v1.2m0 -0.4v1.2m0 -1.1v1.2m0 -1.1v2.1m0 2.2v1.2m0 -0.6v1.2m0 -0.6v1.2m0 -0.6v1.2m0 -0.9v1.2m0 -0.6v1.2m0 0.3v1.2m0 -0.8v1.2m0 -0.4v1.2m0 -0.2v1.2m0 -1v2.1m0 -0.6v1.2m0 -0.7v1.2m0 -1v1.2m0 -0.2v2.1m0 -1.1v1.2m0 0.4v2.1m0 -1.9v1.2m0 0.4v1.2m0 -1.1v1.2m0 0.8v1.2m0 -0.5v1.2m0 -0.8v2.1m0 -1.7v1.2m0 -1.1v1.2m0 -0.8v1.2m0 -1.1v2.1m0 -1.5v2.1m0 -1.5v1.2m0 -0.7v1.2m0 -1.2v2.1m0 -1.3v1.2m0 1.8v1.2m0 -0.9v2.1m0 -2v2.1m0 -2v1.2m0 -1.2v1.2m0 1.3v2.1m0 -1.7v1.2m0 -1v1.2m0 -0.5v1.2m0 0.1v1.2m0 -0.8v2.1m0 -1.5v1.2m0 -0.8v1.2m0 -1.2v1.2m0 -0.8v1.2m0 -0.8v1.2m0 -0.4v2.1m0 -1.2v2.1m0 -0.7v1.2m0 -1.1v1.2m0 -0.9v1.2m0 -1.1v1.2m0 -1.1v2.1m0 -1.4v2.1m0 -0.1v1.2m0 -0.5v2.1m0 -1.8v1.2m0 0.2v1.2m0 -0.1v1.2m0 -1v1.2m0 0.5v1.2m0 -1.1v2.1m0 -1.7v2.1m0 -0.9v1.2m0 0.5v1.2m0 -1v1.2m0 -1.2v1.2m0 -1.1v1.2m0 -0.9v2.1m0 -2v2.1m0 -1.5v1.2m0 -0.9v1.2m0 0.4v1.2m0 -1v2.1m0 -0.7v1.2m0 0.6v1.2m0 -0.9v2.1m0 -1.6v1.2m0 -1.2v1.2m0 -0.4v2.1m0 -0.9v1.2m0 0.1v2.1m0 -1.9v1.2m0 -0.6v2.1m0 -1.3v1.2m0 -0.9v2.1m0 0v1.2m0 1v1.2m0 -0.4v2.1m0 -1.8v1.2m0 -0.2v1.2m0 -1v1.2m0 -1.1v2.1m0 -2v1.2m0 0.4v2.1m0 -0.5v1.2m0 -1v1.2m0 -1.1v1.2m0 -1.1v1.2m0 -0.9v1.2m0 -0.2v2.1m0 -1.6v1.2m0 -0.9v1.2m0 1.5v1.2m0 -1.2v1.2m0 -0.1v2.1m0 -2.1v1.2m0 0v1.2m0 -0.5v1.2m0 -1.1v1.2m0 -1v2.1m0 2v1.2m0 -0.5v1.2m0 1.3v1.2m0 -1v2.1m0 -1.7v2.1m0 1.3v1.2m0 -1v2.1m0 -1.9v1.2m0 -0.8v2.1m0 -1.9v1.2m0 -0.8v2.1m0 1.3v1.2m0 -0.8v1.2m0 -1.2v2.1m0 -1.4v2.1m0 -2.1v1.2m0 -1v1.2m0 -0.6v1.2m0 -0.4v2.1m0 -1.6v2.1m0 -1.5v1.2m0 -0.6v1.2m0 -0.4v1.2m0 -0.2v1.2m0 0v1.2m0 -0.3v2.1m0 -1.5v1.2m0 -0.4v1.2m0 0.3v1.2m0 0v1.2m0 -0.6v2.1m0 -1.9v2.1m0 0.2v2.1m0 -1.5v1.2m0 -0.3v2.1m0 -0.9v2.1m0 -1.6v1.2m0 -1.2v1.2m0 -0.8v2.1m0 -0.4v2.1m0 -1.9v1.2m0 2.3v2.1m0 -2v1.2m0 1.2v1.2m0 -0.6v2.1m0 -2.1v2.1m0 -1v1.2m0 -0.3v1.2m0 -0.9v1.2m0 -1v2.1m0 -1.3v1.2m0 -0.7v1.2m0 0.8v2.1m0 -1.7v1.2m0 1v1.2m0 -0.7v1.2m0 -1.1v1.2m0 -0.9v1.2m0 -0.4v1.2m0 0.1v1.2m0 -1.1v1.2m0 0v1.2m0 -0.5v1.2m0 0.3v1.2m0 -0.8v1.2m0 -1.2v1.2m0 -0.1v2.1m0 -1.7v2.1m0 -1.7v1.2m0 0v1.2m0 -1.2v1.2m0 -1v2.1m0 -0.8v2.1m0 -1.7v2.1m0 -1.8v2.1m0 -1.7v1.2M346 15.5v2.1m0 -1.9v1.2m0 1.3v1.2m0 0.1v1.2m0 -0.8v2.1m0 -2.1v2.1m0 -1.1v1.2m0 0.7v2.1m0 -1.5v1.2m0 -0.3v2.1m0 -1.5v2.1m0 -1.8v1.2m0 0.4v1.2m0 -0.4v1.2m0 -0.3v2.1m0 -2v1.2m0 -0.7v1.2m0 -0.9v1.2m0 -0.5v1.2m0 -0.2v2.1m0 -0.4v1.2m0 -0.4v2.1m0 -1.8v2.1m0 -2v2.1m0 -0.6v2.1m0 -1.5v1.2m0 -1.2v1.2m0 1.4v2.1m0 -1.9v2.1m0 -1.8v2.1m0 -1.6v1.2m0 -0.7v1.2m0 -0.5v1.2m0 1.9v1.2m0 -1v1.2m0 0.2v1.2m0 -1v1.2m0 -1v1.2m0 -0.4v1.2m0 -0.4v1.2m0 -1v1.2m0 -0.4v2.1m0 -1.2v1.2m0 -0.9v1.2m0 -0.5v1.2m0 -0.5v1.2m0 0.3v1.2m0 -1v1.2m0 -1.1v1.2m0 -0.7v1.2m0 -0.3v1.2m0 -0v2.1m0 0.2v2.1m0 -1.9v2.1m0 -1.8v1.2m0 1.3v1.2m0 -0.8v1.2m0 -0.7v2.1m0 -1v1.2m0 -0.7v2.1m0 -1.9v1.2m0 -0.4v1.2m0 -1.1v1.2m0 1v1.2m0 -0.8v1.2m0 -1.2v1.2m0 0.1v1.2m0 -0.5v1.2m0 0.8v1.2m0 2v2.1m0 0.3v2.1m0 -2v1.2m0 2.3v1.2m0 0.7v1.2m0 -0.8v1.2m0 -0.5v2.1m0 -0v1.2m0 -0.5v1.2m0 -1.1v2.1m0 -1.2v1.2m0 -0.6v2.1m0 -1.9v1.2m0 -1.2v1.2m0 -0.9v2.1m0 -0.9v1.2m0 -0.5v2.1m0 -2v1.2m0 -0.4v1.2m0 -0.5v2.1m0 -1v1.2m0 -0.9v2.1m0 -1.8v1.2m0 -0.7v1.2m0 -1v1.2m0 -1.1v2.1m0 -1.8v1.2m0 -0.5v1.2m0 -0.5v1.2m0 -1.2v1.2m0 -1.1v1.2m0 -1.1v1.2m0 -0.5v2.1m0 -1.9v1.2m0 -0v1.2m0 -0.8v2.1m0 0.3v1.2m0 -0.4v2.1m0 -1.5v1.2m0 -0.9v1.2m0 -0.9v2.1m0 -2v1.2m0 0.5v1.2m0 -0.8v1.2m0 4.3v1.2m0 -0.6v2.1m0 -1.7v1.2m0 -1v1.2m0 -0.6v1.2m0 -0.5v1.2m0 -1.1v1.2m0 -0.6v1.2m0 -0.8v1.2m0 -0.4v1.2m0 -0.4v1.2m0 -0.3v1.2m0 1.9v2.1m0 -0.9v1.2m0 -0.4v1.2m0 -0.6v2.1m0 -0.3v1.2m0 0.9v2.1m0 -1.9v1.2m0 -0.5v1.2m0 -0.4v1.2m0 -0.6v1.2m0 -0.5v2.1m0 -0.4v1.2m0 0.3v2.1m0 -1.6v1.2m0 3.1v1.2m0 0.7v2.1m0 -1.8v2.1m0 -1.2v1.2m0 0.2v1.2m0 -0.1v2.1m0 -0.5v1.2m0 -0.5v1.2m0 0.3v1.2m0 -0.2v1.2m0 0.6v1.2m0 -0.3v1.2m0 1.8v2.1m0 0.2v2.1m0 -0.6v1.2m0 -0.3v2.1m0 -1.6v1.2m0 0.6v1.2m0 1.3v1.2m0 0.7v2.1m0 -2v1.2m0 0.4v2.1m0 -2.1v1.2m0 1v1.2m0 -1.2v2.1m0 -0.2v1.2m0 0.3v2.1m0 -1.7v2.1m0 -2v1.2m0 -1.2v2.1m0 -0.8v1.2m0 -0.7v1.2m0 -1v1.2m0 -1v2.1m0 -0.5v1.2M347 15.5v2.1m0 0.3v1.2m0 1.5v2.1m0 2.8v1.2m0 0.5v1.2m0 0.4v1.2m0 -1.1v2.1m0 2.8v1.2m0 -0.4v1.2m0 0.4v1.2m0 -1.2v1.2m0 -0v1.2m0 -1.2v1.2m0 3.8v1.2m0 -1v1.2m0 1.6v1.2m0 0.5v1.2m0 0.9v2.1m0 -1.4v1.2m0 10v1.2m0 3.5v2.1m0 6v2.1m0 -0.4v1.2m0 0.6v2.1m0 -2v1.2m0 0.1v1.2m0 3.1v1.2m0 -0.9v1.2m0 0.5v1.2m0 -0.8v1.2m0 0.6v2.1m0 -2v1.2m0 -0.5v1.2m0 0.4v1.2m0 -0.7v1.2m0 -0.3v2.1m0 -1.4v2.1m0 3.2v1.2m0 1.5v1.2m0 0.6v1.2m0 0.3v1.2m0 5.5v1.2m0 -0.3v1.2m0 1.4v1.2m0 1.8v1.2m0 1v1.2m0 -0.5v1.2m0 -0.2v1.2m0 3.1v2.1m0 -2v1.2m0 0.2v1.2m0 3.2v1.2m0 0.5v1.2m0 0.1v1.2m0 0.6v1.2m0 1.6v2.1m0 4.3v1.2m0 1.4v1.2m0 -0.5v1.2m0 -1.1v1.2m0 2.1v1.2m0 0.6v2.1m0 -0v2.1m0 -1.4v1.2m0 0.5v2.1m0 4.2v1.2m0 1.9v2.1m0 -1.9v1.2m0 3.9v2.1m0 2.8v2.1m0 -2v2.1M348 17.7v1.2m0 -0.4v1.2m0 -0.6v1.2m0 0.7v2.1m0 -1.8v1.2m0 -1.1v1.2m0 1.3v2.1m0 -2.1v2.1m0 0.2v1.2m0 1.8v2.1m0 -1.8v1.2m0 -0.3v1.2m0 0.8v2.1m0 1.2v1.2m0 -0.8v1.2m0 -0.8v2.1m0 -1.5v1.2m0 6.1v1.2m0 0.1v1.2m0 1v2.1m0 -2v1.2m0 2.5v2.1m0 -2.1v2.1m0 -1.4v1.2m0 0.2v1.2m0 0.1v1.2m0 -0.9v1.2m0 -0.1v1.2m0 0.3v1.2m0 -0.1v1.2m0 0.7v1.2m0 -0.6v1.2m0 0.4v1.2m0 -0.9v2.1m0 -1v2.1m0 0.8v1.2m0 -1v2.1m0 -1.8v2.1m0 1.1v2.1m0 2v1.2m0 5.8v1.2m0 -0.9v2.1m0 -0v1.2m0 -0.3v1.2m0 5.5v1.2m0 -0.7v1.2m0 2v1.2m0 -0.1v1.2m0 1.4v1.2m0 -0.4v1.2m0 1.7v2.1m0 -0.1v1.2m0 -0.2v2.1m0 0.5v2.1m0 -1.3v1.2m0 1v1.2m0 -0.5v1.2m0 -0.5v2.1m0 1.1v1.2m0 -0.1v1.2m0 0.1v1.2m0 6.9v1.2m0 -0.6v1.2m0 1.8v2.1m0 4v2.1m0 -2v1.2m0 1.7v1.2m0 -0.2v1.2m0 -0.7v1.2m0 -0.7v1.2m0 -1v2.1m0 -2.1v1.2m0 2v1.2m0 2.3v1.2m0 -0.3v1.2m0 -0.2v1.2m0 1.9v1.2m0 -0.6v1.2m0 -0.6v1.2m0 -0.3v1.2m0 -1v1.2m0 -1.1v1.2m0 -1v1.2m0 5.3v1.2m0 0.9v1.2m0 0.1v1.2m0 -1.1v2.1m0 -1.1v2.1m0 4.3v2.1m0 0.7v1.2m0 -0.2v2.1m0 -1.3v2.1M349 15.8v1.2m0 1.3v2.1m0 -1.5v1.2m0 0.3v1.2m0 -0.8v1.2m0 -0v1.2m0 1.3v1.2m0 -0.8v1.2m0 -1.1v1.2m0 -0.7v1.2m0 7.7v1.2m0 1.3v1.2m0 1v1.2m0 -1v1.2m0 -1.1v1.2m0 2.9v1.2m0 0.7v2.1m0 -1.9v1.2m0 -0.3v1.2m0 0.1v2.1m0 1.3v1.2m0 -0.3v1.2m0 -1.1v1.2m0 -0.9v1.2m0 -0.5v1.2m0 -0.4v2.1m0 -1.2v2.1m0 2.8v1.2m0 2.4v1.2m0 1.1v1.2m0 1v1.2m0 -0.2v1.2m0 0.8v1.2m0 1.2v2.1m0 -2v1.2m0 1.5v1.2m0 1.1v1.2m0 -0.9v2.1m0 -1.9v1.2m0 0.5v1.2m0 4v1.2m0 -0.6v1.2m0 -1v1.2m0 -0.7v2.1m0 8.7v1.2m0 -0.6v1.2m0 2.7v1.2m0 0.5v2.1m0 0.3v1.2m0 -1v1.2m0 -1.1v1.2m0 0.4v1.2m0 -0.3v1.2m0 2.3v1.2m0 1.4v1.2m0 -0.9v1.2m0 0.9v2.1m0 0.9v1.2m0 -1.2v1.2m0 0.3v1.2m0 0.2v1.2m0 2.3v1.2m0 4.6v1.2m0 0.8v1.2m0 0.5v2.1m0 -1.7v2.1m0 -1.7v1.2m0 3.4v1.2m0 0.4v1.2m0 0.8v1.2m0 2.2v2.1m0 -0.3v1.2m0 0.2v1.2m0 4.6v2.1m0 8.4v2.1m0 5.4v1.2m0 0.6v1.2M350 15.5v2.1m0 -1.5v2.1m0 10.9v2.1m0 1.4v1.2m0 2v2.1m0 -0.4v1.2m0 -0.6v1.2m0 5.9v2.1m0 -1.4v1.2m0 -1.2v2.1m0 1.5v1.2m0 0.2v1.2m0 1v1.2m0 -1.1v2.1m0 -0.6v2.1m0 1.2v1.2m0 9v1.2m0 -0.2v1.2m0 -0.9v2.1m0 -1.2v1.2m0 0.6v1.2m0 0.7v1.2m0 -0.9v1.2m0 -0.4v1.2m0 -0.9v1.2m0 -0.7v1.2m0 -0.4v2.1m0 0.6v1.2m0 -0.9v1.2m0 -0.5v2.1m0 -1.2v2.1m0 0.2v2.1m0 3.5v2.1m0 -1.8v1.2m0 3.2v1.2m0 3.5v1.2m0 2.1v2.1m0 5.8v1.2m0 2.3v1.2m0 0v1.2m0 0.1v2.1m0 -1v1.2m0 6.3v2.1m0 -1.7v1.2m0 -0.4v1.2m0 0.3v1.2m0 0.1v1.2m0 0.6v1.2m0 2.3v1.2m0 -0.1v1.2m0 0.4v1.2m0 -0.9v2.1m0 0.1v2.1m0 -0.1v2.1m0 -1.7v1.2m0 1.5v1.2m0 0.2v1.2m0 0v1.2m0 0.7v1.2m0 -0.7v1.2m0 -0.7v1.2m0 -1.1v1.2m0 -1.1v1.2m0 2.6v1.2m0 -0.6v1.2m0 -0.8v2.1m0 -1.9v1.2m0 -1v2.1m0 -0.2v1.2m0 -0.2v1.2m0 1.8v1.2m0 -1.1v1.2m0 1.1v1.2m0 5.1v1.2m0 3.4v2.1m0 -2v1.2m0 0.8v2.1m0 -0.1v1.2M351 15.6v2.1m0 1.9v2.1m0 1.2v1.2m0 -1.1v1.2m0 -0.9v1.2m0 0.6v1.2m0 6.2v2.1m0 3.7v1.2m0 1.7v1.2m0 -0.1v1.2m0 0.1v2.1m0 -1.9v1.2m0 5.3v1.2m0 2.3v1.2m0 0.1v1.2m0 1.5v2.1m0 -0.9v1.2m0 0.6v2.1m0 0v2.1m0 -0.1v1.2m0 -0.8v2.1m0 -1.6v2.1m0 0.3v1.2m0 -0.2v1.2m0 -0.5v1.2m0 0.9v1.2m0 -1.1v1.2m0 -0.3v1.2m0 -0.6v1.2m0 0.4v2.1m0 2.1v1.2m0 -0.6v1.2m0 0.3v2.1m0 -0.6v2.1m0 11.1v2.1m0 -1v1.2m0 1.2v2.1m0 -0v1.2m0 -1.2v2.1m0 -1.2v1.2m0 1.8v1.2m0 -1.1v2.1m0 -2v2.1m0 1.3v1.2m0 0.2v1.2m0 1.9v2.1m0 1.7v1.2m0 -0.1v2.1m0 -0.6v1.2m0 -0.5v1.2m0 -0.5v1.2m0 0v2.1m0 -1.5v2.1m0 -0v1.2m0 1v2.1m0 0v1.2m0 4.7v2.1m0 1.6v1.2m0 -1.2v1.2m0 1.3v1.2m0 0.5v1.2m0 2.9v1.2m0 -0.5v1.2m0 -0.9v1.2m0 0.7v1.2m0 2.6v1.2m0 0.3v2.1m0 3.2v1.2m0 4.4v1.2m0 1.1v1.2m0 -1v1.2m0 0.2v2.1m0 0.8v1.2M352 15.6v2.1m0 -1.7v1.2m0 1v1.2m0 -0.5v1.2m0 5.3v1.2m0 -0.2v1.2m0 1.6v1.2m0 3.1v1.2m0 0.3v2.1m0 3.7v1.2m0 10.5v1.2m0 6.1v1.2m0 -1.2v1.2m0 -1.1v1.2m0 7.2v1.2m0 18.1v1.2m0 7.7v1.2m0 2.3v2.1m0 3.8v1.2m0 3.9v2.1m0 3.8v1.2m0 7.6v1.2m0 3.7v1.2m0 -0.4v2.1m0 -0.8v2.1m0 5v1.2m0 3.4v1.2m0 8.6v1.2m0 3.3v1.2m0 0.8v1.2m0 -0.3v1.2m0 6.9v1.2m0 5.1v1.2M353 15.9v2.1m0 6.2v1.2m0 -0.5v2.1m0 1.1v1.2m0 0.9v2.1m0 -1.6v2.1m0 1.5v1.2m0 -0.2v1.2m0 2.7v1.2m0 7.7v1.2m0 2.2v1.2m0 2.3v2.1m0 -0.2v1.2m0 0.3v1.2m0 -0.5v1.2m0 9.9v2.1m0 -1.9v2.1m0 -2v1.2m0 -0.9v1.2m0 -0v1.2m0 4.4v1.2m0 0.7v1.2m0 4.9v1.2m0 -1.1v1.2m0 2.4v1.2m0 3.1v1.2m0 2.4v1.2m0 2.4v1.2m0 1.6v1.2m0 -0.1v2.1m0 -1.7v1.2m0 -0.6v1.2m0 -0.8v1.2m0 3.3v2.1m0 -0.9v1.2m0 3.8v1.2m0 -0.7v1.2m0 -1.1v1.2m0 -0.8v2.1m0 -1.6v2.1m0 0.9v1.2m0 -1.1v1.2m0 -1v2.1m0 -1.5v2.1m0 0.8v2.1m0 -1.8v1.2m0 0.2v1.2m0 1.8v1.2m0 -0.3v1.2m0 6v1.2m0 2.4v1.2m0 1.4v1.2m0 5.4v2.1m0 -0.5v1.2m0 -0.6v1.2m0 1.1v1.2m0 1v2.1m0 1.9v2.1m0 10.6v1.2m0 -0.6v1.2M354 21.2v1.2m0 -1.1v2.1m0 -0.7v2.1m0 -2v2.1m0 0.5v1.2m0 4.7v2.1m0 -0.1v2.1m0 -1.2v1.2m0 0.4v1.2m0 -0.1v2.1m0 2.7v2.1m0 -1.9v1.2m0 1.6v2.1m0 0.6v2.1m0 2.1v1.2m0 -0.4v1.2m0 -1.1v1.2m0 0.3v1.2m0 3.3v1.2m0 0.7v1.2m0 -0.6v1.2m0 -0.2v1.2m0 2v2.1m0 -0.2v1.2m0 1.5v1.2m0 3.9v1.2m0 2.6v1.2m0 -0.9v1.2m0 2.8v1.2m0 0.8v2.1m0 2.4v1.2m0 -0.7v1.2m0 1.1v1.2m0 4.7v1.2m0 -1v2.1m0 0.3v2.1m0 3.4v1.2m0 -1.2v1.2m0 -0.2v2.1m0 -1.9v2.1m0 -1.5v2.1m0 -0.6v2.1m0 -0.8v2.1m0 3.6v1.2m0 0v2.1m0 -0.7v2.1m0 1.1v1.2m0 1.9v2.1m0 7.6v1.2m0 -0.6v1.2m0 -0.9v1.2m0 -1.1v1.2m0 3.8v2.1m0 -1.9v1.2m0 6v1.2m0 -0.6v1.2m0 -0.8v1.2m0 14.4v1.2m0 2.4v1.2m0 -0.2v1.2M355 36.6v1.2m0 0.1v1.2m0 -0.1v1.2m0 -0.2v1.2m0 0.1v1.2m0 -0.7v1.2m0 3.1v1.2m0 3.6v1.2m0 7.4v1.2m0 3.7v2.1m0 -0.1v1.2m0 4v2.1m0 4v1.2m0 2.2v1.2m0 0.2v1.2m0 8.8v1.2m0 0.5v2.1m0 -0.1v1.2m0 5.2v1.2m0 4.8v1.2m0 0.6v1.2m0 0.2v2.1m0 5.1v1.2m0 -0.5v1.2m0 2.3v1.2m0 13.4v2.1m0 -1.2v1.2m0 -0v1.2m0 -0.3v1.2m0 -1v1.2m0 0.7v1.2m0 3.4v1.2m0 1.9v1.2m0 0.6v1.2m0 4v2.1m0 1.1v1.2m0 -0.2v1.2m0 1.3v1.2m0 0.9v1.2m0 -0.6v1.2m0 0.5v2.1m0 1v2.1m0 -1.5v1.2m0 1.5v1.2m0 0.4v1.2M356 16.5v2.1m0 0.8v1.2m0 0.3v1.2m0 -0.4v2.1m0 -0.2v2.1m0 -1.1v2.1m0 1.4v1.2m0 3v2.1m0 -2v1.2m0 0.7v2.1m0 -2v1.2m0 1.4v1.2m0 5.4v1.2m0 1.9v1.2m0 1.1v1.2m0 2.4v1.2m0 -0.1v1.2m0 1.9v2.1m0 2.3v1.2m0 4.2v1.2m0 -0.5v1.2m0 -0.1v1.2m0 -0.7v1.2m0 0.2v1.2m0 -0.5v2.1m0 -1.9v1.2m0 2.2v1.2m0 2.6v2.1m0 -2v1.2m0 0.1v1.2m0 6v1.2m0 -0.1v2.1m0 -0.7v1.2m0 1.3v1.2m0 0.5v2.1m0 -1.6v1.2m0 0.4v1.2m0 1.9v2.1m0 -1.4v2.1m0 -1.1v2.1m0 3.5v1.2m0 -0.3v1.2m0 -0.7v1.2m0 2.6v1.2m0 1.3v2.1m0 -0.7v2.1m0 -0.3v2.1m0 7.6v1.2m0 2v1.2m0 5.7v1.2m0 0.7v1.2m0 6.5v2.1m0 -1.8v2.1m0 -0.1v2.1m0 0.8v1.2m0 -0.4v1.2m0 -0.7v2.1m0 6.7v2.1m0 -1.2v2.1m0 -0.7v2.1m0 0.2v1.2m0 3.3v1.2m0 -0.9v1.2m0 2.4v1.2m0 -0.4v1.2m0 -0.6v1.2M357 30.3v1.2m0 4.1v1.2m0 2v1.2m0 0.7v1.2m0 5.5v2.1m0 -0.3v1.2m0 -1.2v2.1m0 -1.5v1.2m0 2v1.2m0 2.4v2.1m0 1.8v1.2m0 1.4v2.1m0 0v1.2m0 3.2v1.2m0 11.1v1.2m0 0.1v1.2m0 -0.9v1.2m0 -0.7v1.2m0 10.7v1.2m0 -0.8v1.2m0 0.7v2.1m0 3.7v1.2m0 -1.1v2.1m0 5.6v1.2m0 2.2v2.1m0 0.2v1.2m0 2v1.2m0 -1.1v2.1m0 0.4v2.1m0 -1v1.2m0 -0.5v2.1m0 -1.9v1.2m0 7.5v2.1m0 1.7v1.2m0 0.1v2.1m0 -2.1v1.2m0 4.1v2.1m0 4.7v1.2m0 -0.8v1.2m0 -0.2v2.1m0 1v2.1m0 -1.1v2.1m0 0.1v1.2m0 3.6v1.2m0 0.2v1.2m0 1v2.1m0 -1.2v2.1m0 -1.9v1.2m0 2.2v1.2m0 3.7v1.2M358 15.8v1.2m0 -1.1v1.2m0 -0.1v2.1m0 1.3v1.2m0 0.4v1.2m0 7.9v2.1m0 -0.9v1.2m0 -0.8v1.2m0 -0.8v1.2m0 -0.7v1.2m0 2.3v1.2m0 -0.3v1.2m0 0.9v2.1m0 -1.7v2.1m0 -0v1.2m0 -0.2v1.2m0 1.8v1.2m0 -0.9v2.1m0 -1.1v1.2m0 1.6v1.2m0 -0.2v1.2m0 0.3v1.2m0 1.9v1.2m0 2.6v1.2m0 0.4v1.2m0 -1.2v1.2m0 0.6v1.2m0 0.6v1.2m0 1.1v1.2m0 -1.2v2.1m0 1.7v2.1m0 -1.2v1.2m0 0.4v1.2m0 0.2v1.2m0 0.4v2.1m0 -1.9v1.2m0 1.2v2.1m0 0.2v1.2m0 -0.2v1.2m0 -1.1v1.2m0 -0.4v2.1m0 0.3v2.1m0 -1.4v1.2m0 -0.8v2.1m0 0.2v1.2m0 -0.8v1.2m0 1v1.2m0 0.7v1.2m0 -0.2v2.1m0 1.3v1.2m0 -0.4v2.1m0 -0.2v1.2m0 -0.6v1.2m0 5.4v1.2m0 -0.5v1.2m0 0.8v1.2m0 0.5v1.2m0 3.9v1.2m0 -1.1v1.2m0 1.1v2.1m0 -2v2.1m0 -1.8v1.2m0 1.2v1.2m0 6.6v1.2m0 1.5v2.1m0 -1.4v2.1m0 1.2v2.1m0 1.7v2.1m0 -1.3v1.2m0 -0.5v2.1m0 2.3v1.2m0 -0.7v1.2m0 2.2v1.2m0 0.4v1.2m0 -1v2.1m0 -1.8v2.1m0 1.9v2.1m0 -1.7v1.2m0 -0.2v1.2m0 -0.7v1.2m0 0.6v1.2m0 1.9v2.1m0 -0.1v1.2m0 -1.1v1.2m0 4.1v1.2m0 1.5v1.2m0 -0.2v1.2m0 -1.2v1.2m0 0.5v1.2M359 16.2v1.2m0 -1.2v1.2m0 -0.8v1.2m0 -1.1v1.2m0 -0.7v2.1m0 -1v2.1m0 -1.9v2.1m0 -0.9v1.2m0 -1.2v1.2m0 0.7v1.2m0 0.9v2.1m0 -1.2v1.2m0 -0.5v1.2m0 -0.3v2.1m0 -0.6v1.2m0 -0v1.2m0 0.2v2.1m0 2.4v1.2m0 -0.9v1.2m0 -1.2v1.2m0 0.3v2.1m0 -1.3v1.2m0 -0.5v1.2m0 1.3v1.2m0 0.3v1.2m0 -1v1.2m0 -0.9v1.2m0 -0.3v1.2m0 -0.5v1.2m0 -1.1v2.1m0 -0.3v1.2m0 0v2.1m0 -1.8v1.2m0 -0.8v1.2m0 0.5v1.2m0 -0.1v1.2m0 -0.3v1.2m0 -0.9v1.2m0 -0.5v1.2m0 -0.2v1.2m0 -0.7v2.1m0 1.6v1.2m0 -0.3v2.1m0 -0.4v1.2m0 -0v1.2m0 -0.8v2.1m0 0v2.1m0 -1.9v2.1m0 -1.7v1.2m0 1v1.2m0 -0.8v2.1m0 -1.2v1.2m0 -0.7v2.1m0 -2v2.1m0 -2.1v1.2m0 -0.7v1.2m0 0.2v2.1m0 -1.2v2.1m0 -1.6v1.2m0 -0.4v1.2m0 -0.9v2.1m0 -1.6v1.2m0 -0.5v1.2m0 -0.8v2.1m0 -1.2v1.2m0 0.7v1.2m0 2.4v1.2m0 -0.9v2.1m0 -1.7v1.2m0 0v1.2m0 -0.4v2.1m0 -0.7v2.1m0 -1.6v1.2m0 -0.9v2.1m0 -2.1v1.2m0 0.8v1.2m0 0.7v2.1m0 -1.5v1.2m0 -1v1.2m0 0v2.1m0 0.5v2.1m0 -1.6v1.2m0 -0.9v1.2m0 -0.7v1.2m0 -0.9v1.2m0 -1.1v2.1m0 -1.8v1.2m0 -0.4v2.1m0 -1.7v1.2m0 2.9v1.2m0 -0.7v1.2m0 -0.2v2.1m0 -1.9v2.1m0 -1.6v1.2m0 0.2v1.2m0 -0.5v2.1m0 -1.7v2.1m0 -1.4v2.1m0 -1.8v1.2m0 -0.4v2.1m0 -1.9v2.1m0 -1.8v1.2m0 -1.2v1.2m0 0.8v2.1m0 -1.3v1.2m0 -1.1v2.1m0 0.7v1.2m0 -1v2.1m0 -0.8v1.2m0 -1v1.2m0 0.5v1.2m0 0.4v1.2m0 2.6v1.2m0 1.9v1.2m0 -0.9v1.2m0 0.2v1.2m0 -1v2.1m0 -2v1.2m0 -0.5v1.2m0 -0.6v1.2m0 -1.2v1.2m0 1.1v1.2m0 3.8v1.2m0 -0.7v1.2m0 0.3v2.1m0 -1.9v2.1m0 -2v2.1m0 -1.6v2.1m0 -1v1.2m0 -1v2.1m0 -1.4v1.2m0 -1.2v1.2m0 -1.1v1.2m0 -0v1.2m0 -1.2v2.1m0 -1.8v2.1m0 -1.6v2.1m0 -2v1.2m0 -1v1.2m0 3.3v2.1m0 3.2v2.1m0 0.4v2.1m0 2.2v2.1m0 -1.9v1.2m0 0.2v2.1m0 0.4v1.2m0 1.1v2.1m0 0.4v1.2m0 0.2v1.2m0 -1.1v2.1m0 -0.9v2.1m0 -1.5v1.2m0 -1.2v1.2m0 1v1.2m0 -0.6v2.1m0 -1.4v1.2M360 20.7v2.1m0 -0.2v2.1m0 -1.7v1.2m0 0.9v1.2m0 -0.2v2.1m0 3.6v1.2m0 -0v2.1m0 3v1.2m0 -0.4v2.1m0 -1.1v1.2m0 -0.1v1.2m0 4.5v1.2m0 -1.1v1.2m0 0.1v1.2m0 3.6v1.2m0 1.6v1.2m0 1v1.2m0 2.5v2.1m0 -0.4v1.2m0 -0.7v2.1m0 -1.3v1.2m0 0.3v2.1m0 -0.8v1.2m0 -1.1v1.2m0 1.4v1.2m0 0.7v1.2m0 -0.9v1.2m0 1.3v1.2m0 1.2v2.1m0 -1.9v2.1m0 -1.2v1.2m0 6.9v2.1m0 0.2v1.2m0 -0.6v1.2m0 -1v2.1m0 3.9v2.1m0 -1.7v1.2m0 2.4v1.2m0 -1v2.1m0 -0.7v2.1m0 -1v1.2m0 -1v1.2m0 1.9v1.2m0 2.8v1.2m0 -0.4v1.2m0 9.2v1.2m0 -0.1v1.2m0 0v1.2m0 -0.9v1.2m0 1.1v1.2m0 -1v1.2m0 0.3v2.1m0 4.9v2.1m0 -0.8v2.1m0 -0.5v1.2m0 3.2v1.2m0 1.8v1.2m0 -0.9v1.2m0 -0.3v2.1m0 -1v2.1m0 -1.8v2.1m0 0.2v1.2m0 -0.3v1.2m0 -0.5v1.2m0 -0.3v1.2m0 1.3v1.2m0 -0.1v1.2m0 -0.5v2.1m0 -1.2v1.2m0 -0.9v1.2m0 0.8v1.2m0 6.1v1.2m0 0.9v1.2m0 -0.8v1.2M361 21.1v1.2m0 -0.7v1.2m0 1.8v1.2m0 -0.2v1.2m0 -0.9v1.2m0 0.3v1.2m0 3.4v2.1m0 1.8v1.2m0 4.5v1.2m0 1.9v1.2m0 2.6v1.2m0 2v1.2m0 -0.9v1.2m0 0.2v1.2m0 -1v2.1m0 -0.9v1.2m0 5v2.1m0 1.4v1.2m0 -0.4v1.2m0 -1v1.2m0 0.9v2.1m0 1.1v1.2m0 1.9v1.2m0 -0.8v1.2m0 5.6v2.1m0 1.7v1.2m0 3.7v1.2m0 -1.1v2.1m0 2.6v1.2m0 -1.1v1.2m0 -0.1v1.2m0 0.9v1.2m0 0.1v1.2m0 -0.7v1.2m0 -0.3v1.2m0 2v1.2m0 10.5v1.2m0 -0.7v1.2m0 1.8v1.2m0 -0.1v2.1m0 -1.2v2.1m0 2.4v1.2m0 3.1v2.1m0 2.6v1.2m0 8.6v1.2m0 0.7v1.2m0 2v1.2m0 -1.1v2.1m0 -0.1v2.1m0 -0.8v1.2m0 2v1.2m0 1.2v1.2m0 -0.3v1.2m0 2.1v1.2m0 -0v2.1m0 2.6v1.2m0 -1.1v1.2m0 1.1v1.2m0 1.9v1.2m0 0.2v1.2M362 17.2v2.1m0 1.8v2.1m0 6.3v1.2m0 12.2v1.2m0 -0.8v2.1m0 6.8v2.1m0 -1.8v1.2m0 -0.1v1.2m0 -0.1v1.2m0 1.4v2.1m0 -1.1v1.2m0 3.1v1.2m0 3.5v1.2m0 2.5v2.1m0 5.3v1.2m0 3.4v1.2m0 3.4v1.2m0 -0v1.2m0 16v2.1m0 7.7v1.2m0 2.6v1.2m0 4.4v1.2m0 9.1v2.1m0 7.3v2.1m0 5.6v2.1m0 2.4v2.1m0 3.9v1.2m0 6.7v2.1m0 0.7v1.2m0 -0.8v2.1m0 -1.3v1.2M363 19.1v1.2m0 -0.3v2.1m0 -1.9v1.2m0 3.6v1.2m0 0.4v1.2m0 -0.6v2.1m0 -0.1v2.1m0 -1.4v1.2m0 -1v2.1m0 -1.7v1.2m0 -0.4v1.2m0 -0.9v1.2m0 -0.3v1.2m0 0.1v1.2m0 1.1v1.2m0 -0.9v1.2m0 3v2.1m0 0.4v1.2m0 0.7v2.1m0 -2v2.1m0 -0.1v1.2m0 -0.3v1.2m0 2.6v1.2m0 6.6v1.2m0 2.8v1.2m0 4.1v1.2m0 2.2v1.2m0 1.6v1.2m0 3v1.2m0 -0.6v2.1m0 -0.7v2.1m0 -0.2v1.2m0 1.5v1.2m0 2.3v1.2m0 -1v1.2m0 2.8v2.1m0 -0.2v1.2m0 -0.1v1.2m0 -0.3v1.2m0 1v1.2m0 2.9v1.2m0 0.2v1.2m0 0v2.1m0 -1.8v1.2m0 0v1.2m0 -0.4v1.2m0 0.6v2.1m0 -1.5v2.1m0 -1.5v1.2m0 6.4v2.1m0 3.6v2.1m0 1.4v2.1m0 0.4v1.2m0 0.5v1.2m0 -0.9v1.2m0 -0.9v2.1m0 4.6v2.1m0 -0.1v1.2m0 4.7v2.1m0 -1.4v2.1m0 -0.2v1.2m0 4.9v2.1m0 -0.2v2.1m0 -1.2v1.2m0 -0.2v1.2m0 0.3v1.2m0 0.4v1.2m0 1.3v1.2m0 3.1v1.2m0 2.2v1.2m0 0.6v1.2M364 18v1.2m0 0.5v2.1m0 0.6v1.2m0 -0.4v1.2m0 -0.7v1.2m0 8.4v2.1m0 1.4v2.1m0 3.7v1.2m0 5.8v2.1m0 -1.8v1.2m0 1.9v2.1m0 1.1v1.2m0 3.3v2.1m0 -1.8v2.1m0 -1.3v1.2m0 -0.3v1.2m0 -0.4v1.2m0 -0.6v1.2m0 6.6v2.1m0 -2v1.2m0 6v1.2m0 1v1.2m0 1v1.2m0 0.4v2.1m0 2.7v1.2m0 4.1v1.2m0 4.7v1.2m0 1.3v1.2m0 0.7v1.2m0 8.1v2.1m0 4.5v2.1m0 -2v1.2m0 0.9v2.1m0 0.8v1.2m0 -0v1.2m0 3.8v1.2m0 4.3v1.2m0 0.5v1.2m0 3.3v1.2m0 2v1.2m0 -0.7v1.2m0 -0.6v1.2m0 6.3v1.2m0 -0.7v1.2m0 -0.8v1.2m0 1.6v1.2m0 -0.4v1.2m0 6.7v2.1M365 16.4v1.2m0 -0.6v2.1m0 -1.7v1.2m0 2.4v1.2m0 0.6v1.2m0 2.5v1.2m0 0.1v1.2m0 15.2v1.2m0 -1.1v2.1m0 -0.9v1.2m0 3.3v1.2m0 -1.1v2.1m0 -1.6v1.2m0 0.4v1.2m0 1.7v1.2m0 2.8v2.1m0 -1.1v1.2m0 0.7v1.2m0 -1v2.1m0 -0.2v1.2m0 -1v2.1m0 0.2v1.2m0 10.8v1.2m0 5.4v2.1m0 -0.8v1.2m0 0.3v1.2m0 -0.1v1.2m0 5.4v2.1m0 -1.9v1.2m0 -0.7v2.1m0 6.6v1.2m0 8.8v1.2m0 2v2.1m0 2.8v2.1m0 0.3v1.2m0 0.1v1.2m0 -0.6v1.2m0 1.4v1.2m0 -0.4v2.1m0 0.1v1.2m0 -0.5v1.2m0 4.3v1.2m0 0.5v1.2m0 1.3v1.2m0 -0.5v1.2m0 -1.2v1.2m0 0.8v1.2m0 0.8v1.2m0 -0.3v1.2m0 -0.8v1.2m0 4.3v1.2m0 -0.3v1.2m0 -0.2v1.2m0 -0v1.2m0 3.3v1.2m0 3.9v1.2m0 3.5v2.1m0 0.4v1.2M366 30v1.2m0 2.4v1.2m0 2.9v1.2m0 1v1.2m0 -0.2v1.2m0 3v2.1m0 1.9v1.2m0 0.8v1.2m0 0.3v1.2m0 -0.7v1.2m0 2v1.2m0 2.2v1.2m0 0.2v1.2m0 -0.9v1.2m0 -1.1v2.1m0 1.3v1.2m0 2.5v2.1m0 -0.2v2.1m0 1.2v1.2m0 -1.1v1.2m0 1.4v1.2m0 1v2.1m0 10.5v2.1m0 -0.2v1.2m0 5v1.2m0 -0.4v1.2m0 -0.8v1.2m0 1.7v1.2m0 2.7v2.1m0 4.9v2.1m0 2.2v1.2m0 5.1v1.2m0 1.4v1.2m0 0.6v1.2m0 0.9v2.1m0 -2v1.2m0 -0.8v2.1m0 7.6v1.2m0 3.5v1.2m0 7.2v2.1m0 1v1.2m0 1.9v2.1m0 -0.1v2.1m0 1.5v2.1M367 17v1.2m0 -1.1v2.1m0 0.1v1.2m0 0.2v1.2m0 -0.5v1.2m0 -0.9v1.2m0 -0.3v1.2m0 3v2.1m0 -1.2v1.2m0 5.3v1.2m0 1.7v2.1m0 3.2v1.2m0 -1.2v1.2m0 2.9v1.2m0 -0.5v1.2m0 0.2v1.2m0 5.7v2.1m0 -1.4v1.2m0 -0.5v2.1m0 2.2v2.1m0 -1.5v2.1m0 -1.6v1.2m0 0.2v1.2m0 -1.1v2.1m0 -0.9v1.2m0 -0.9v1.2m0 -0.7v1.2m0 5v1.2m0 -0.8v2.1m0 0.2v1.2m0 0.6v1.2m0 1.6v1.2m0 3.5v2.1m0 1.3v1.2m0 0.3v1.2m0 -1v1.2m0 -0.7v1.2m0 3v1.2m0 -0.3v1.2m0 0.4v1.2m0 -0.9v1.2m0 1.6v1.2m0 -0.4v1.2m0 0.4v2.1m0 -0v1.2m0 0.3v2.1m0 -1.5v1.2m0 1.5v2.1m0 -1.9v1.2m0 1.6v2.1m0 0.1v1.2m0 0.2v1.2m0 6.6v1.2m0 2.5v2.1m0 -1v1.2m0 -0.3v1.2m0 0.8v1.2m0 -1v2.1m0 2.3v2.1m0 3.7v1.2m0 -1.1v2.1m0 -0.9v1.2m0 2.8v1.2m0 1v2.1m0 -0.9v2.1m0 -0.9v1.2m0 4.7v1.2m0 3.8v1.2m0 -0.7v1.2m0 -0.4v1.2m0 0.6v1.2m0 0.7v1.2m0 -1.2v2.1m0 3.1v1.2m0 -0.7v2.1m0 -0.9v1.2m0 -0.6v1.2M368 19v1.2m0 1.2v2.1m0 -0.3v1.2m0 -0.4v2.1m0 6.2v2.1m0 4.4v1.2m0 0.1v1.2m0 -0v1.2m0 1.3v1.2m0 1v2.1m0 1.7v2.1m0 -1v1.2m0 -0v2.1m0 -0.6v1.2m0 -1.2v1.2m0 0.9v1.2m0 -0v2.1m0 -0.6v1.2m0 0.5v2.1m0 -2v1.2m0 3.5v1.2m0 0.6v1.2m0 -0.9v1.2m0 3.2v1.2m0 -1v2.1m0 0.3v2.1m0 10.2v1.2m0 1.5v1.2m0 -0.5v1.2m0 4.6v1.2m0 2.7v2.1m0 -0.2v1.2m0 -0.8v2.1m0 5.2v1.2m0 1.3v1.2m0 3.2v1.2m0 1.8v1.2m0 1.9v2.1m0 2.1v1.2m0 1.2v2.1m0 -1.8v2.1m0 -1.2v1.2m0 9.2v2.1m0 -1.7v1.2m0 1.3v1.2m0 -0.5v1.2m0 5.8v2.1m0 -1.3v1.2m0 0.2v1.2m0 0.8v1.2m0 8.5v1.2m0 1.1v1.2m0 -0.1v1.2m0 5.6v1.2m0 1.3v2.1M369 15.6v2.1m0 2.5v2.1m0 -0.5v1.2m0 9.1v1.2m0 -1v1.2m0 -0.4v2.1m0 2v2.1m0 -1.2v2.1m0 3.4v1.2m0 -0.9v1.2m0 -0.9v2.1m0 -0.6v1.2m0 8.2v1.2m0 2v1.2m0 5.2v1.2m0 2.2v1.2m0 -0.9v1.2m0 1.3v2.1m0 2.3v1.2m0 -0.9v1.2m0 -0.5v1.2m0 -0.4v1.2m0 7v1.2m0 1.3v1.2m0 -0.3v2.1m0 -1v2.1m0 -1.4v2.1m0 1.4v1.2m0 0.5v1.2m0 6v1.2m0 -1.1v1.2m0 6v1.2m0 -0.7v1.2m0 1.7v1.2m0 1v2.1m0 -0.6v1.2m0 4.1v2.1m0 4.1v1.2m0 0.9v2.1m0 -0.5v2.1m0 -0.4v2.1m0 0.2v1.2m0 2v1.2m0 2.5v2.1m0 0.9v1.2m0 -0.6v1.2m0 -0.3v1.2m0 5.8v1.2m0 3.8v2.1m0 -2v1.2m0 1.4v2.1m0 -1.8v1.2m0 0.7v1.2m0 0.4v1.2m0 -0.6v2.1m0 1.2v2.1m0 -0.6v2.1m0 -2v1.2m0 0.1v2.1m0 -1v1.2m0 1.9v1.2M370 17.6v2.1m0 -0.8v1.2m0 -0.5v2.1m0 -1.1v1.2m0 6.5v2.1m0 -0v1.2m0 1.3v1.2m0 -0.8v1.2m0 0.5v1.2m0 -0v2.1m0 -1.2v1.2m0 0.1v1.2m0 3.1v1.2m0 0.3v1.2m0 -1.1v1.2m0 3.4v1.2m0 -0.2v1.2m0 -0.6v1.2m0 -0.6v1.2m0 -0.8v1.2m0 2.8v1.2m0 0.3v1.2m0 3.9v1.2m0 -1.2v1.2m0 1.2v1.2m0 8.2v1.2m0 -0.4v1.2m0 3.3v2.1m0 -1.6v1.2m0 1.1v1.2m0 3.8v1.2m0 5.6v1.2m0 -0.8v1.2m0 0.5v1.2m0 -0.3v1.2m0 0.1v1.2m0 3.1v1.2m0 -1v1.2m0 -1v1.2m0 -1.1v1.2m0 -0.7v1.2m0 -1.1v1.2m0 0.5v1.2m0 -1.1v2.1m0 -1.6v1.2m0 7.4v1.2m0 -1.1v1.2m0 -0.1v2.1m0 1.1v1.2m0 -0.7v1.2m0 -1.1v1.2m0 0.8v1.2m0 -0.4v1.2m0 -0.5v1.2m0 4v1.2m0 5.3v1.2m0 4.2v1.2m0 -0.2v2.1m0 2.5v2.1m0 1.6v2.1m0 -0.1v2.1m0 -1.1v1.2m0 -0.5v2.1m0 1.4v1.2m0 4.6v2.1m0 -0v1.2m0 0.7v1.2m0 -0.6v1.2m0 0.3v1.2m0 -0.7v1.2m0 0.6v2.1m0 -0.9v1.2m0 2v1.2m0 -0.9v2.1m0 -0.7v2.1M371 15.5v1.2m0 2v1.2m0 4.7v1.2m0 0.8v1.2m0 4.3v1.2m0 0.5v1.2m0 2.4v2.1m0 -0.8v2.1m0 0.2v2.1m0 0.6v1.2m0 0v2.1m0 -0.3v1.2m0 11.9v1.2m0 0v1.2m0 2.4v1.2m0 3.5v1.2m0 2.3v1.2m0 4.7v1.2m0 4.7v1.2m0 -1v2.1m0 -0.1v1.2m0 -0.1v1.2m0 6.5v2.1m0 -1.3v2.1m0 -1.8v1.2m0 3.4v1.2m0 -0.7v2.1m0 -1.9v1.2m0 -0.9v1.2m0 -1.2v2.1m0 -2v1.2m0 2.5v1.2m0 3.5v2.1m0 -2.1v1.2m0 1.2v1.2m0 0.8v1.2m0 -0.7v1.2m0 8.9v2.1m0 -0.9v1.2m0 -0.2v1.2m0 0.2v1.2m0 -0.1v1.2m0 -0.3v2.1m0 -1.9v2.1m0 0.2v1.2m0 -1v1.2m0 4.1v2.1m0 -1.1v1.2m0 -0.2v2.1m0 -0.6v1.2m0 -0.1v1.2m0 0.8v1.2m0 4.4v1.2m0 1.3v1.2m0 0.3v1.2m0 1.9v1.2m0 -0.8v2.1m0 -0.9v1.2m0 2.8v2.1m0 -1.9v2.1m0 -1.2v1.2m0 7.2v1.2M372 16v2.1m0 -0.2v2.1m0 -1.5v1.2m0 0.3v1.2m0 2.7v1.2m0 -1.1v1.2m0 1.9v1.2m0 6.6v1.2m0 -1.2v1.2m0 2.8v2.1m0 -1.7v2.1m0 2.7v1.2m0 3.3v1.2m0 1.2v1.2m0 0.8v2.1m0 -1.9v1.2m0 1.4v2.1m0 -1.9v1.2m0 0.3v1.2m0 2.5v1.2m0 -0.9v1.2m0 2.2v2.1m0 -1.4v2.1m0 -1.9v1.2m0 -0.6v1.2m0 1.6v1.2m0 -0.1v1.2m0 0v2.1m0 -0.7v1.2m0 -0.6v1.2m0 -0.9v1.2m0 1.3v1.2m0 1.7v2.1m0 -1v1.2m0 -1.1v2.1m0 -0.6v1.2m0 -1v2.1m0 6.1v2.1m0 -0.6v1.2m0 1.9v1.2m0 0v2.1m0 -0.6v2.1m0 -0.1v1.2m0 1.2v2.1m0 2.4v2.1m0 -1.7v2.1m0 -0.6v1.2m0 1.2v1.2m0 3.1v1.2m0 -0.9v1.2m0 0.4v1.2m0 -0.5v1.2m0 0.4v2.1m0 -1.6v1.2m0 -0v1.2m0 1.2v1.2m0 0.9v2.1m0 3.6v1.2m0 0.8v1.2m0 1.3v1.2m0 0.6v1.2m0 11v1.2m0 -0.4v1.2m0 -0.7v1.2m0 2.6v1.2m0 -1.2v1.2m0 4.8v1.2m0 -0.7v1.2m0 -0.7v1.2m0 7v1.2m0 0.6v1.2m0 1v2.1M373 17.2v1.2m0 9.2v1.2m0 -1.1v1.2m0 0.1v2.1m0 -1.6v1.2m0 5.1v2.1m0 -1.7v1.2m0 -0.9v1.2m0 -0.9v2.1m0 -1.8v1.2m0 -1v2.1m0 -1.7v1.2m0 0.8v1.2m0 -0.3v1.2m0 1.1v2.1m0 0.2v1.2m0 -0.9v1.2m0 9.2v2.1m0 -1.8v1.2m0 -0.6v1.2m0 -0.3v1.2m0 1.8v2.1m0 -0.5v1.2m0 -0v2.1m0 0.1v1.2m0 -0.3v2.1m0 6.1v1.2m0 8.4v2.1m0 5.8v1.2m0 1.7v2.1m0 -0.6v1.2m0 1.7v1.2m0 -1.1v2.1m0 -0.5v1.2m0 3.7v1.2m0 5v2.1m0 -0.8v1.2m0 -0.3v1.2m0 0v1.2m0 2.5v1.2m0 0v1.2m0 2.9v1.2m0 -0.2v1.2m0 4.6v1.2m0 -1v2.1m0 3.4v1.2m0 1.5v1.2m0 2.1v1.2m0 -0.1v1.2m0 0.7v2.1m0 -0.5v1.2m0 0.6v1.2m0 6.4v1.2m0 8.4v1.2m0 -0.4v1.2m0 1.8v2.1m0 -0.7v2.1m0 -1.5v1.2m0 -0.9v2.1m0 1.6v2.1M374 19.7v1.2m0 2.6v1.2m0 0.8v1.2m0 -0.8v1.2m0 -0.3v1.2m0 0.1v2.1m0 -1.5v2.1m0 -1.5v2.1m0 -1.4v1.2m0 2.1v1.2m0 -0.4v1.2m0 1.6v2.1m0 2.6v1.2m0 0.4v2.1m0 -1v1.2m0 1.1v2.1m0 -2v2.1m0 -0.3v1.2m0 -0.9v1.2m0 2.2v1.2m0 8v1.2m0 2v1.2m0 -1.1v2.1m0 -1.9v1.2m0 -1v1.2m0 6.5v1.2m0 0.1v1.2m0 5.9v1.2m0 3v1.2m0 -0.7v1.2m0 3.6v1.2m0 -1.2v1.2m0 4.8v1.2m0 -0.9v1.2m0 7.3v2.1m0 -0.5v1.2m0 0.4v1.2m0 9.3v1.2m0 -0.9v1.2m0 5.7v1.2m0 1.9v2.1m0 -2v2.1m0 -1.8v1.2m0 -0v1.2m0 1.1v1.2m0 1.2v1.2m0 3.9v2.1m0 -0.2v1.2m0 4.1v1.2m0 4.8v1.2m0 -1v1.2m0 1.9v1.2m0 3.2v1.2m0 1.3v1.2m0 -0.1v2.1m0 1.9v1.2m0 1.7v1.2m0 4.2v1.2M375 23v2.1m0 0.9v2.1m0 5.3v1.2m0 0.3v1.2m0 3.9v1.2m0 21.9v1.2m0 16v1.2m0 0.1v1.2m0 5.3v1.2m0 7.1v1.2m0 7.1v1.2m0 4.6v1.2m0 1.6v1.2m0 3.6v1.2m0 4.2v1.2m0 4.7v1.2m0 0.7v2.1m0 -0.9v1.2m0 2v1.2m0 2.7v1.2m0 1.1v1.2m0 1.6v1.2m0 9.2v1.2m0 4.1v1.2m0 0.7v1.2m0 2.9v1.2m0 -0.3v1.2M376 18.7v2.1m0 9.3v2.1m0 -1.3v2.1m0 0.4v1.2m0 2.6v2.1m0 -1.8v1.2m0 1.1v1.2m0 2.6v1.2m0 6v1.2m0 1.1v2.1m0 -0.4v1.2m0 1.2v1.2m0 0.1v1.2m0 6.2v1.2m0 2.1v2.1m0 8.4v1.2m0 1.7v2.1m0 2.8v1.2m0 -0.3v1.2m0 0.6v1.2m0 -1.2v1.2m0 2.3v1.2m0 1.7v1.2m0 -0.6v1.2m0 0.1v2.1m0 -0.4v2.1m0 -1.3v1.2m0 3.1v1.2m0 -0.9v1.2m0 2.9v2.1m0 -1.7v2.1m0 3.5v1.2m0 7.4v1.2m0 0.4v2.1m0 3.2v1.2m0 0.5v1.2m0 -1.1v1.2m0 5.2v1.2m0 -0.7v2.1m0 12.5v1.2m0 1.4v2.1m0 -1.1v1.2m0 3.4v2.1m0 1.3v1.2m0 -0.8v1.2m0 -0.5v1.2m0 7.3v1.2M377 23.3v1.2m0 1.5v1.2m0 0.2v1.2m0 0.3v1.2m0 1.5v1.2m0 1.5v2.1m0 -1.6v1.2m0 -0.9v1.2m0 -0.5v1.2m0 13.4v1.2m0 1.9v1.2m0 14.3v1.2m0 1.5v1.2m0 -0.9v1.2m0 -1v2.1m0 1.8v1.2m0 2.9v1.2m0 4.1v1.2m0 18.8v1.2m0 9.3v1.2m0 -0.7v1.2m0 0.6v2.1m0 -1.1v1.2m0 0.1v2.1m0 2.4v2.1m0 -1v1.2m0 3.1v1.2m0 -1.1v1.2m0 -0.5v2.1m0 13.4v1.2m0 0.8v2.1m0 0v2.1m0 0.4v1.2m0 -0.6v2.1m0 -0.8v1.2m0 4.1v1.2m0 -0.8v2.1m0 2.2v1.2m0 1.9v1.2m0 -1v2.1m0 -0.3v1.2m0 0.2v1.2M378 15.6v2.1m0 -0.3v2.1m0 -0.4v1.2m0 0.2v1.2m0 5.2v2.1m0 -2v2.1m0 0.1v1.2m0 -0.6v2.1m0 0.7v1.2m0 -0.5v1.2m0 11v1.2m0 -1.2v1.2m0 5.1v1.2m0 2.5v2.1m0 -1.6v1.2m0 1.1v2.1m0 -1v1.2m0 0.2v1.2m0 5v1.2m0 -0.5v2.1m0 -0.6v1.2m0 0.7v1.2m0 1.5v2.1m0 -0.5v1.2m0 0.7v1.2m0 -0.2v2.1m0 -1.1v1.2m0 4.8v1.2m0 -0.7v1.2m0 0.4v1.2m0 -0v1.2m0 16.4v2.1m0 3.9v1.2m0 0.6v1.2m0 4.4v2.1m0 3.4v1.2m0 0.2v1.2m0 -1.1v1.2m0 1.3v1.2m0 -0.1v1.2m0 1.8v1.2m0 0.4v1.2m0 0.6v1.2m0 -0.5v2.1m0 -1.3v1.2m0 0.2v2.1m0 0.9v2.1m0 3.6v1.2m0 -0.4v1.2m0 3v1.2m0 1.8v2.1m0 -0.5v2.1m0 2.5v2.1m0 -2v1.2m0 3.3v1.2m0 -1.2v1.2m0 6v1.2m0 1.2v1.2M379 15.9v1.2m0 -0.9v1.2m0 18.3v1.2m0 2.3v2.1m0 15.2v1.2m0 -0v1.2m0 7.4v2.1m0 -0.4v1.2m0 0.7v1.2m0 22.1v2.1m0 0.2v2.1m0 1.9v1.2m0 7.9v1.2m0 0.8v1.2m0 2.9v1.2m0 4.2v2.1m0 16.1v1.2m0 4.4v1.2m0 6.1v1.2m0 3.4v1.2m0 -0.6v1.2m0 -0.8v2.1m0 -1.6v1.2m0 16.2v1.2m0 -0v1.2m0 -0.8v2.1M380 18.1v2.1m0 -2.1v2.1m0 5.3v1.2m0 1.9v1.2m0 3.3v1.2m0 2v1.2m0 -0.5v1.2m0 9.1v1.2m0 -0.3v1.2m0 6.4v1.2m0 1.6v2.1m0 -1.9v1.2m0 1.6v1.2m0 -0.2v2.1m0 -0.6v1.2m0 0.9v2.1m0 0.6v1.2m0 -0.1v1.2m0 1.4v1.2m0 8.1v2.1m0 11.4v1.2m0 5.2v1.2m0 0.9v2.1m0 3.3v2.1m0 0.2v1.2m0 0.8v1.2m0 0.3v2.1m0 0.2v1.2m0 10.6v1.2m0 0.5v1.2m0 4.3v1.2m0 1.4v2.1m0 0.3v2.1m0 -0.7v1.2m0 0.5v1.2m0 0.7v2.1m0 -1.9v1.2m0 4.4v1.2m0 8.6v1.2m0 3.7v1.2m0 -0.2v1.2m0 3.6v1.2m0 -0.8v1.2m0 -0.4v1.2m0 -0v1.2m0 0.4v2.1M381 19.2v1.2m0 -0.5v1.2m0 -0.9v1.2m0 0v1.2m0 5.1v1.2m0 2.5v1.2m0 8.1v1.2m0 -0.5v2.1m0 -0.5v1.2m0 12.1v1.2m0 7.7v1.2m0 0v1.2m0 2.8v1.2m0 -0.2v2.1m0 -2v1.2m0 6.2v1.2m0 0.3v2.1m0 -1.5v1.2m0 -0.7v1.2m0 6.9v1.2m0 -0.8v1.2m0 0.2v1.2m0 4.8v2.1m0 6.5v1.2m0 1.8v1.2m0 2v1.2m0 4.4v2.1m0 -0v1.2m0 0.7v1.2m0 1.8v1.2m0 4v1.2m0 3.8v1.2m0 3.3v1.2m0 0.5v2.1m0 -1.8v2.1m0 2.6v1.2m0 -0.7v1.2m0 2.3v1.2m0 -1.1v2.1m0 -0.9v1.2m0 0.9v2.1m0 -1.6v2.1m0 7.2v1.2m0 2.7v1.2M382 21.3v2.1m0 2.2v2.1m0 -1v2.1m0 -1.4v1.2m0 0.9v1.2m0 8.7v1.2m0 3.2v1.2m0 2.5v2.1m0 0.9v1.2m0 -0.5v2.1m0 -1.8v1.2m0 2.5v1.2m0 14.2v2.1m0 -1.9v1.2m0 1.7v2.1m0 2.1v2.1m0 -1.6v1.2m0 -0.3v2.1m0 -1.9v2.1m0 2v2.1m0 1.9v1.2m0 -0.3v1.2m0 1.9v1.2m0 1.9v1.2m0 4v1.2m0 2.5v1.2m0 21.9v2.1m0 -1.1v1.2m0 -0.4v1.2m0 -0.1v2.1m0 1.2v1.2m0 -1.2v2.1m0 0.8v1.2m0 0.9v2.1m0 3.1v1.2m0 10v2.1m0 4.2v1.2m0 0.9v1.2m0 6.7v1.2m0 0.7v1.2m0 -0.8v1.2m0 2.1v1.2M383 28v1.2m0 4.6v1.2m0 -0.6v1.2m0 -0.6v1.2m0 6.1v1.2m0 -0.7v1.2m0 1.1v1.2m0 1.6v1.2m0 0.3v2.1m0 5.6v1.2m0 5.2v1.2m0 2.5v1.2m0 4.2v2.1m0 -0.5v2.1m0 -0.5v1.2m0 0.9v1.2m0 2.8v1.2m0 -0.6v2.1m0 2.6v1.2m0 4.5v1.2m0 5v2.1m0 1.9v1.2m0 -1v1.2m0 0.6v1.2m0 7.9v1.2m0 8.4v1.2m0 -1v1.2m0 -1.2v1.2m0 -0.1v1.2m0 0v1.2m0 10.2v1.2m0 3.6v1.2m0 0v1.2m0 5.2v2.1m0 0.3v2.1m0 2.8v1.2m0 7.1v1.2m0 0.7v1.2m0 2.6v2.1m0 1.8v1.2m0 -0.5v1.2M384 21.5v1.2m0 8.8v1.2m0 -0.2v2.1m0 -1.6v1.2m0 -0.6v2.1m0 -2.1v2.1m0 2v1.2m0 5.1v1.2m0 -0.7v1.2m0 -0.5v1.2m0 -0.9v2.1m0 1.7v1.2m0 0v1.2m0 1.2v1.2m0 0.8v2.1m0 4.9v2.1m0 -0.8v1.2m0 -1.1v1.2m0 0.3v1.2m0 0.8v1.2m0 -0.6v1.2m0 -0.9v1.2m0 2.5v1.2m0 0.1v1.2m0 2.4v1.2m0 1.8v1.2m0 6.3v1.2m0 2.7v1.2m0 0v2.1m0 3.1v1.2m0 3v2.1m0 0.2v1.2m0 -0.8v2.1m0 3.3v2.1m0 -1v2.1m0 1.8v2.1m0 7v2.1m0 0.3v1.2m0 3.4v2.1m0 -0.9v1.2m0 -0.7v2.1m0 1.5v1.2m0 0.6v2.1m0 0.5v2.1m0 12.4v1.2m0 -0.9v2.1m0 8.2v1.2m0 1.2v2.1m0 -1.1v2.1m0 -1.8v1.2m0 3.1v1.2m0 -0.8v1.2M385 17.7v1.2m0 5.6v2.1m0 -0.6v2.1m0 5.7v1.2m0 2v1.2m0 -1.1v1.2m0 -0v1.2m0 10.9v1.2m0 9.3v1.2m0 0.5v2.1m0 0.6v1.2m0 4.4v1.2m0 0.6v1.2m0 8.8v1.2m0 7v2.1m0 0.4v2.1m0 7v1.2m0 0.8v2.1m0 1.4v1.2m0 -0.4v1.2m0 0.8v1.2m0 3.1v2.1m0 0.3v1.2m0 0.1v1.2m0 -0.3v1.2m0 -0.4v2.1m0 7.6v1.2m0 -0.3v1.2m0 11.1v1.2m0 0.8v1.2m0 -1.1v1.2m0 2.1v2.1m0 11.6v1.2m0 4.1v2.1m0 -0.2v1.2m0 2.9v1.2m0 -0.5v1.2m0 0.9v1.2M386 26.8v1.2m0 -0.8v1.2m0 5.1v1.2m0 0.6v1.2m0 2.5v1.2m0 2.9v2.1m0 0.7v1.2m0 1.4v1.2m0 2.4v1.2m0 0.8v1.2m0 8.1v2.1m0 3.8v2.1m0 -1.1v1.2m0 8.9v2.1m0 16.3v2.1m0 -0.8v1.2m0 0.2v1.2m0 2v2.1m0 1.6v1.2m0 1.1v2.1m0 -1.9v2.1m0 1.5v1.2m0 -0.9v1.2m0 -1v2.1m0 13.2v2.1m0 0.6v2.1m0 16.9v1.2m0 -0.7v1.2m0 4.2v2.1m0 1.8v1.2m0 2.2v1.2m0 -0.5v2.1m0 -2.1v1.2m0 2.6v1.2m0 2.9v2.1m0 -0.2v2.1M387 15.7v1.2m0 -0.2v1.2m0 3.5v1.2m0 1v1.2m0 -0.6v1.2m0 0.8v2.1m0 1.4v1.2m0 0.3v2.1m0 -1.5v1.2m0 2.4v1.2m0 -1.2v1.2m0 1v1.2m0 -1v1.2m0 -1.1v1.2m0 3.4v1.2m0 1v1.2m0 2.6v1.2m0 2.8v1.2m0 -0.6v1.2m0 5.9v1.2m0 6v2.1m0 -1.8v2.1m0 0.6v2.1m0 5.3v2.1m0 0.7v1.2m0 -0.6v1.2m0 -1.1v1.2m0 0.8v2.1m0 0v2.1m0 -1.6v1.2m0 1.4v1.2m0 0.5v1.2m0 0.6v1.2m0 0.1v1.2m0 1.9v1.2m0 -0.7v2.1m0 2v2.1m0 2.3v2.1m0 4.1v1.2m0 4v2.1m0 2.6v2.1m0 -0.9v1.2m0 0.1v1.2m0 1.1v1.2m0 3.8v1.2m0 -0.1v2.1m0 -0.6v1.2m0 0.6v1.2m0 0.5v2.1m0 11v1.2m0 6.9v1.2m0 -1.1v1.2m0 4.7v1.2M388 19.4v2.1m0 0.5v1.2m0 4.9v2.1m0 1.3v1.2m0 3.6v1.2m0 2v1.2m0 -0.7v2.1m0 2.8v1.2m0 15.2v1.2m0 3.2v1.2m0 11.3v1.2m0 0.6v2.1m0 -0.4v1.2m0 0.2v1.2m0 4.2v1.2m0 -0.9v1.2m0 -0.9v1.2m0 7.8v1.2m0 1.2v1.2m0 5.7v1.2m0 -1v1.2m0 10v1.2m0 1.1v1.2m0 3.3v2.1m0 1v1.2m0 8.6v1.2m0 -0.5v1.2m0 0.1v2.1m0 15.5v1.2m0 3.2v1.2m0 -0.6v1.2m0 5.6v1.2m0 5.8v1.2M389 17.2v1.2m0 2v1.2m0 -0.3v2.1m0 0.5v1.2m0 0.8v1.2m0 -0.3v1.2m0 4.1v1.2m0 0.8v1.2m0 8.8v1.2m0 0.5v1.2m0 5.9v1.2m0 9v2.1m0 4.3v2.1m0 2.1v1.2m0 6.1v2.1m0 0v1.2m0 1.4v2.1m0 1.4v1.2m0 12.6v1.2m0 -0.2v1.2m0 1.6v2.1m0 -1.1v2.1m0 16.1v2.1m0 11.7v2.1m0 -0.2v1.2m0 2.1v1.2m0 0.9v1.2m0 7.9v1.2m0 0.5v1.2m0 2.7v1.2m0 -0.8v2.1m0 -1.3v2.1m0 -0.6v1.2m0 0.4v1.2m0 3.3v1.2m0 -0.6v1.2m0 0.1v2.1m0 -1.5v1.2m0 0.5v1.2M390 15.3v1.2m0 -0.6v1.2m0 3.2v1.2m0 2.7v1.2m0 4.8v1.2m0 5.3v2.1m0 5v1.2m0 3.8v1.2m0 4.2v1.2m0 12.9v1.2m0 8.3v2.1m0 0v1.2m0 0.4v2.1m0 -1.5v1.2m0 8.1v1.2m0 0.1v1.2m0 0.3v2.1m0 -1.9v2.1m0 0.3v2.1m0 -0.9v2.1m0 -1.4v1.2m0 -0.7v2.1m0 -0.2v1.2m0 6.1v1.2m0 2.4v1.2m0 2.3v1.2m0 -0.1v1.2m0 7.3v1.2m0 0.5v1.2m0 1.9v1.2m0 1.6v1.2m0 8.8v2.1m0 -1.1v1.2m0 16.4v2.1m0 -0.1v2.1m0 -0.9v1.2m0 7.8v1.2m0 -0.6v2.1m0 -0.7v2.1M391 25.6v1.2m0 0.6v1.2m0 4.2v1.2m0 8.8v1.2m0 4.1v1.2m0 1.4v2.1m0 0.3v1.2m0 15.5v1.2m0 0.4v1.2m0 18.7v1.2m0 2.9v1.2m0 1.7v1.2m0 2.2v1.2m0 0v1.2m0 -0.6v1.2m0 2.2v1.2m0 -0.1v2.1m0 0.8v1.2m0 2.5v1.2m0 11.8v2.1m0 -1.5v2.1m0 -1.1v1.2m0 0.5v1.2m0 0.7v1.2m0 4v2.1m0 3.4v2.1m0 -1v1.2m0 1.2v1.2m0 -1v1.2m0 7.8v1.2m0 6.8v2.1m0 1.1v1.2m0 1.5v1.2m0 5.1v2.1M392 20.7v1.2m0 4.6v1.2m0 0.2v2.1m0 -1.4v1.2m0 -0.6v1.2m0 -0.7v1.2m0 0.8v1.2m0 -1.2v1.2m0 -0.4v1.2m0 4.2v2.1m0 -0.6v2.1m0 3.2v1.2m0 2.1v2.1m0 -0.9v2.1m0 0.8v1.2m0 2.1v2.1m0 9v2.1m0 -0.7v1.2m0 14.6v1.2m0 2.4v2.1m0 3.2v1.2m0 1.7v1.2m0 0.4v1.2m0 0.6v2.1m0 -0.2v2.1m0 0.3v1.2m0 -0.8v2.1m0 -0.3v1.2m0 -0.3v2.1m0 -1v1.2m0 5.5v1.2m0 0.3v1.2m0 4.5v2.1m0 6.1v2.1m0 2.2v2.1m0 -0.5v1.2m0 2.1v1.2m0 2.7v2.1m0 -0.8v2.1m0 -0.1v2.1m0 10v1.2m0 4.4v1.2m0 1.6v1.2m0 9.6v1.2M393 16.7v2.1m0 -1.9v1.2m0 3.2v2.1m0 -0.4v1.2m0 1.8v1.2m0 1.7v1.2m0 1.4v1.2m0 5.1v1.2m0 1.1v2.1m0 20.2v1.2m0 0.8v1.2m0 7.8v2.1m0 0.4v1.2m0 -0.3v1.2m0 8.4v1.2m0 6.9v1.2m0 0.6v1.2m0 0.3v1.2m0 10.5v1.2m0 1.3v1.2m0 1.9v1.2m0 0.8v2.1m0 6.8v1.2m0 2.1v1.2m0 4.1v2.1m0 -1.8v1.2m0 8.7v2.1m0 3.4v1.2m0 -0.2v1.2m0 1.9v1.2m0 1.5v2.1m0 -1.3v2.1m0 1.6v1.2m0 -0.6v1.2m0 1v1.2m0 2.6v1.2m0 7.9v1.2M394 17.6v1.2m0 -0.6v1.2m0 1.7v1.2m0 11v1.2m0 2.6v1.2m0 5.6v1.2m0 -0.2v2.1m0 -0.9v1.2m0 1.3v1.2m0 0.1v1.2m0 1.6v1.2m0 8.9v1.2m0 2.7v1.2m0 -0v1.2m0 -0.2v1.2m0 4.6v1.2m0 8.7v1.2m0 7v2.1m0 0.9v2.1m0 2.2v2.1m0 -1.4v1.2m0 4.7v2.1m0 -0.9v1.2m0 1.1v2.1m0 13.8v1.2m0 15.8v1.2m0 8.8v2.1m0 -1.3v1.2m0 1.9v1.2m0 6v1.2m0 -0.2v1.2m0 3.7v1.2m0 -0.4v1.2m0 4.4v1.2M395 15.7v2.1m0 1v1.2m0 1.2v1.2m0 8.7v1.2m0 -0.6v1.2m0 1.5v2.1m0 -1.3v1.2m0 -1.2v1.2m0 2.3v1.2m0 -1v1.2m0 -0.1v1.2m0 3.5v1.2m0 -0.8v1.2m0 1.2v1.2m0 7.6v1.2m0 -1.1v1.2m0 -0.8v2.1m0 2.3v2.1m0 0.5v1.2m0 1.7v2.1m0 -1.9v1.2m0 0.5v1.2m0 8.5v1.2m0 2.1v2.1m0 0.8v1.2m0 -0.8v2.1m0 11v1.2m0 1.8v2.1m0 -2.1v1.2m0 5v1.2m0 9.3v2.1m0 2.8v2.1m0 -0v1.2m0 14.1v2.1m0 -0.6v1.2m0 -0.9v1.2m0 3.2v1.2m0 -1.1v1.2m0 0.5v1.2m0 -0.9v2.1m0 2.9v2.1m0 1.9v2.1m0 2v1.2m0 1.4v1.2m0 2.9v1.2m0 -0.2v1.2m0 1.7v2.1m0 -0.2v2.1m0 -1.6v1.2m0 -0.6v1.2m0 0.9v1.2m0 -0.8v1.2M396 17.3v1.2m0 1v2.1m0 0.6v1.2m0 0.4v1.2m0 3.2v1.2m0 0.2v1.2m0 2.8v1.2m0 2.3v1.2m0 2.2v1.2m0 -1v2.1m0 0.6v1.2m0 7.5v2.1m0 3.6v1.2m0 3.1v1.2m0 10.9v2.1m0 -0.2v1.2m0 5.3v2.1m0 -0.2v2.1m0 4.2v2.1m0 -2.1v1.2m0 18.6v1.2m0 1v1.2m0 -0.6v1.2m0 -0.6v1.2m0 0.4v2.1m0 1.2v1.2m0 1.2v1.2m0 0.8v1.2m0 15.7v1.2m0 6.4v2.1m0 -2v1.2m0 6.3v1.2m0 4.6v1.2m0 0.5v2.1M397 22v2.1m0 -1.8v1.2m0 -0.6v1.2m0 -1.1v1.2m0 -1v1.2m0 11.9v2.1m0 -0.4v1.2m0 -1.1v1.2m0 11.6v2.1m0 -1.2v1.2m0 14.6v1.2m0 2v1.2m0 4.7v1.2m0 1.1v1.2m0 6.4v2.1m0 2.4v1.2m0 12.9v2.1m0 0.8v1.2m0 2.9v1.2m0 2.3v1.2m0 -0.9v1.2m0 0.4v1.2m0 0.8v2.1m0 -1.5v1.2m0 -1.1v1.2m0 0.7v1.2m0 31.5v2.1m0 -0.6v1.2m0 0.7v1.2m0 -0.5v1.2m0 -0v1.2m0 8.6v1.2M398 15.5v1.2m0 10.5v1.2m0 4.6v1.2m0 4.7v1.2m0 -0.6v1.2m0 0.9v2.1m0 2.8v1.2m0 6.4v1.2m0 3.9v2.1m0 -1.6v2.1m0 7.5v1.2m0 2v1.2m0 4.5v1.2m0 10.3v2.1m0 2.9v1.2m0 -0.6v1.2m0 4v1.2m0 14.1v1.2m0 3v1.2m0 -0.3v1.2m0 0.6v2.1m0 0.4v1.2m0 19.7v1.2m0 -1v1.2m0 1.5v1.2m0 9.3v1.2m0 7.8v1.2m0 1.5v1.2m0 -0.9v2.1M399 18.8v2.1m0 -1.8v2.1m0 -0.1v1.2m0 -0.5v2.1m0 0.3v1.2m0 -0.6v1.2m0 5.2v1.2m0 5v1.2m0 4.9v2.1m0 5.2v2.1m0 -1.5v1.2m0 1.7v1.2m0 3.4v1.2m0 3.3v2.1m0 5.3v1.2m0 0.2v1.2m0 -0.2v1.2m0 -0.3v2.1m0 -0.5v2.1m0 4.5v2.1m0 1.5v1.2m0 1.5v2.1m0 0.9v2.1m0 5v1.2m0 0.3v2.1m0 1.5v1.2m0 -0.7v1.2m0 -0.4v1.2m0 8.1v2.1m0 -2v2.1m0 -1.1v1.2m0 -0.7v1.2m0 -0.9v1.2m0 0.4v1.2m0 -1.2v1.2m0 5.8v1.2m0 -0.2v1.2m0 2.2v1.2m0 1.9v1.2m0 3v1.2m0 -0.9v2.1m0 -0.3v1.2m0 -0.1v1.2m0 -0.1v1.2m0 7.8v1.2m0 1.7v1.2m0 6.7v1.2m0 2.5v2.1m0 -0.6v1.2m0 10.4v1.2M400 16.7v1.2m0 0.2v1.2m0 8.2v1.2m0 4.3v1.2m0 -0.7v1.2m0 -0.5v1.2m0 -0.8v2.1m0 -0.2v2.1m0 0.4v1.2m0 3v1.2m0 5.1v1.2m0 4.1v1.2m0 0.4v1.2m0 4.8v1.2m0 3.4v1.2m0 -0.2v1.2m0 2.5v2.1m0 -0.3v2.1m0 1.2v1.2m0 2.5v2.1m0 -1.2v1.2m0 -1v1.2m0 0.4v1.2m0 0.5v2.1m0 0.7v2.1m0 1.3v2.1m0 2v1.2m0 5v1.2m0 24.3v1.2m0 2v1.2m0 3v1.2m0 1.4v2.1m0 0.1v1.2m0 1.2v1.2m0 5.2v1.2m0 -0.5v2.1m0 8.5v1.2m0 1.3v1.2m0 6.4v1.2m0 1.4v1.2m0 -0.1v1.2m0 0.4v1.2M401 16.8v1.2m0 -0.2v1.2m0 -0.7v1.2m0 6.2v1.2m0 1.3v1.2m0 0.1v1.2m0 0.9v1.2m0 -0.8v2.1m0 -1.7v2.1m0 3.2v2.1m0 5.3v1.2m0 0.2v1.2m0 0.5v1.2m0 5.5v1.2m0 1.5v1.2m0 1.6v1.2m0 0.7v2.1m0 7.1v1.2m0 -1v1.2m0 3.4v1.2m0 3v1.2m0 11.5v2.1m0 2v1.2m0 1.5v1.2m0 14.6v1.2m0 3.5v1.2m0 -0.3v1.2m0 -1v1.2m0 -0.9v1.2m0 -1.1v2.1m0 -0.4v1.2m0 3.5v1.2m0 3.5v1.2m0 1.9v1.2m0 0.8v1.2m0 -0.1v1.2m0 0.2v2.1m0 3.1v1.2m0 19.9v1.2m0 2.9v2.1m0 -1.9v1.2M402 21.3v2.1m0 -0.6v2.1m0 14.2v1.2m0 0.6v2.1m0 -0.5v1.2m0 21.4v1.2m0 3.4v2.1m0 5.3v2.1m0 -2v2.1m0 3.4v1.2m0 0.4v1.2m0 7.4v1.2m0 3v1.2m0 12.8v1.2m0 5.1v2.1m0 3.9v1.2m0 4.1v1.2m0 5.3v1.2m0 0.5v1.2m0 -0.2v1.2m0 2.3v1.2m0 -0.9v1.2m0 5.4v1.2m0 8v1.2m0 2.5v1.2m0 12.9v1.2m0 -1.2v1.2M403 18.2v1.2m0 0.5v1.2m0 0.8v2.1m0 4.9v1.2m0 4.3v2.1m0 1.5v1.2m0 0.8v1.2m0 6.7v2.1m0 0.7v1.2m0 7.2v1.2m0 5.8v2.1m0 7.9v1.2m0 10.5v1.2m0 -0.3v1.2m0 1.2v1.2m0 8v2.1m0 8.6v1.2m0 5.7v1.2m0 1.3v1.2m0 -1v2.1m0 -0.2v2.1m0 0.7v1.2m0 12.7v2.1m0 4.6v2.1m0 2v1.2m0 0.9v1.2m0 7.7v2.1m0 -0.7v1.2M404 18.4v1.2m0 -0.9v1.2m0 -0.9v1.2m0 7.3v1.2m0 5.4v1.2m0 1.6v2.1m0 -1.4v1.2m0 3.2v2.1m0 2.2v2.1m0 -1.9v2.1m0 0.1v2.1m0 10v1.2m0 2.7v1.2m0 4.3v1.2m0 0.6v1.2m0 -0.7v1.2m0 0.5v1.2m0 2.1v1.2m0 0.5v1.2m0 -0.9v1.2m0 2.8v1.2m0 3.1v1.2m0 0.2v1.2m0 4.6v1.2m0 2.4v1.2m0 2.2v1.2m0 1.2v1.2m0 0.6v1.2m0 -0.6v2.1m0 -1.3v2.1m0 1.3v1.2m0 11.8v1.2m0 -0.9v1.2m0 -0.6v1.2m0 7.8v1.2m0 3v1.2m0 6.7v1.2m0 4.1v2.1m0 0.6v1.2m0 2.2v1.2m0 0.1v2.1m0 -1.3v1.2m0 2.7v1.2m0 -0.9v1.2m0 8.6v1.2M405 24.2v1.2m0 6.1v1.2m0 7v2.1m0 3.1v1.2m0 2.2v1.2m0 19.6v1.2m0 1.4v1.2m0 21.7v1.2m0 2.9v1.2m0 1.1v1.2m0 11.8v1.2m0 -0.3v2.1m0 -0.6v2.1m0 3.2v1.2m0 1v1.2m0 7.6v2.1m0 0.6v1.2m0 -1.2v1.2m0 -0.1v1.2m0 3.6v1.2m0 -0.2v2.1m0 -1.4v2.1m0 5.4v1.2m0 6.7v1.2m0 11.2v1.2m0 5.2v1.2M406 17.1v1.2m0 6.6v1.2m0 3.6v1.2m0 4.3v1.2m0 5v1.2m0 -0.1v1.2m0 9.6v2.1m0 8.6v1.2m0 17.5v2.1m0 2v1.2m0 -0.1v1.2m0 -1v2.1m0 1.2v2.1m0 -1.5v1.2m0 -1.1v1.2m0 0.2v1.2m0 13.9v1.2m0 -0.7v1.2m0 1.9v1.2m0 9.6v2.1m0 0.5v1.2m0 -1.2v1.2m0 1.6v1.2m0 4.9v2.1m0 11.1v1.2m0 -0.5v1.2m0 -0.3v2.1m0 0.7v1.2m0 -0.6v1.2m0 2.2v2.1m0 0.2v2.1m0 -0.8v2.1m0 7.5v2.1m0 0.1v1.2m0 2.2v1.2m0 0.2v1.2m0 -1.1v1.2M407 15.9v1.2m0 3.8v2.1m0 -1.3v1.2m0 8.9v1.2m0 2.2v1.2m0 2.3v2.1m0 -0.1v1.2m0 -1v2.1m0 2.6v2.1m0 11.5v2.1m0 6.5v1.2m0 0.7v2.1m0 0v1.2m0 0.1v1.2m0 6.8v1.2m0 -0.6v2.1m0 -1.4v1.2m0 10v1.2m0 3.3v1.2m0 -0.6v1.2m0 -0.8v2.1m0 2.6v1.2m0 8v1.2m0 4.5v1.2m0 5.3v2.1m0 9.4v1.2m0 0.2v1.2m0 0.7v1.2m0 3.4v1.2m0 14.8v1.2m0 3.4v1.2m0 -0.4v2.1m0 0.4v1.2M408 25.3v1.2m0 7.4v1.2m0 3.6v1.2m0 0.1v1.2m0 8.2v2.1m0 -1.7v1.2m0 8.2v2.1m0 4.5v1.2m0 0.5v1.2m0 11.6v1.2m0 1.4v1.2m0 6.7v1.2m0 9.3v1.2m0 0.2v1.2m0 5.1v1.2m0 -0.2v1.2m0 -1.1v2.1m0 -0.3v1.2m0 -1.1v2.1m0 -0.8v1.2m0 4v1.2m0 10.9v1.2m0 -1.1v1.2m0 11.4v1.2m0 5.7v1.2m0 0.1v2.1m0 9.8v2.1m0 2.4v1.2m0 -0.5v1.2m0 1.3v1.2m0 2.2v1.2m0 -0.8v2.1M409 16v1.2m0 -1.1v1.2m0 -0.9v2.1m0 -0v1.2m0 7.8v2.1m0 18.7v1.2m0 3.9v2.1m0 -0.2v1.2m0 -0.2v1.2m0 9.6v1.2m0 -1.1v1.2m0 2.4v2.1m0 3.6v1.2m0 1.1v1.2m0 1.9v2.1m0 -0.2v1.2m0 14v1.2m0 2.8v1.2m0 0.1v2.1m0 0.1v1.2m0 -0.4v1.2m0 0.8v2.1m0 3.5v1.2m0 13.9v2.1m0 -1.6v1.2m0 -0.1v1.2m0 3.3v2.1m0 3.8v1.2m0 -1.2v2.1m0 3.6v2.1m0 2.5v2.1m0 3.7v2.1m0 3.4v2.1m0 2.6v1.2m0 5.5v1.2m0 -0.5v1.2m0 -0.7v1.2M410 17.7v2.1m0 1.7v1.2m0 18.1v2.1m0 5v2.1m0 19.6v1.2m0 0.4v1.2m0 0.4v1.2m0 1.3v1.2m0 2.1v2.1m0 0.8v1.2m0 0.1v1.2m0 -0.6v1.2m0 -0.2v1.2m0 27.2v2.1m0 -0.8v1.2m0 9.7v1.2m0 6.8v1.2m0 1.9v1.2m0 8.8v1.2m0 16.4v1.2m0 6.4v1.2m0 0.6v1.2M411 17.6v1.2m0 3.7v2.1m0 1.2v1.2m0 0.4v1.2m0 4v2.1m0 12.1v1.2m0 2.6v1.2m0 7.7v2.1m0 0.5v2.1m0 2.3v1.2m0 1v1.2m0 0.5v1.2m0 0.7v1.2m0 0.9v1.2m0 2.7v2.1m0 3v1.2m0 0.5v2.1m0 -1.7v1.2m0 3.1v1.2m0 0.3v1.2m0 9.7v1.2m0 5.1v1.2m0 -1.2v2.1m0 0.1v2.1m0 0.4v1.2m0 1.9v2.1m0 0.2v1.2m0 0.8v1.2m0 1.3v2.1m0 0.3v1.2m0 1.1v1.2m0 -1v2.1m0 3.3v1.2m0 1.5v2.1m0 3.9v1.2m0 0.4v2.1m0 1.1v2.1m0 0.7v1.2m0 -0.8v1.2m0 6v1.2m0 3.3v1.2m0 2.9v1.2m0 1.8v1.2m0 5.2v1.2m0 -1v1.2m0 0.8v1.2M412 20v1.2m0 7.1v1.2m0 4.9v1.2m0 29.9v1.2m0 -0.2v1.2m0 2.1v2.1m0 0v1.2m0 1.5v1.2m0 3.3v1.2m0 8.8v2.1m0 -0.6v1.2m0 6.7v2.1m0 8.8v1.2m0 4.2v1.2m0 0.1v1.2m0 14.5v1.2m0 11.6v2.1m0 18.8v1.2m0 3.2v1.2m0 3.3v1.2m0 1.2v1.2M413 22.5v1.2m0 12.6v1.2m0 0.4v1.2m0 2.5v1.2m0 1.2v1.2m0 12.3v2.1m0 -0.7v1.2m0 0.5v2.1m0 -0.7v2.1m0 1.5v2.1m0 0.2v1.2m0 15.4v1.2m0 6v1.2m0 1.3v2.1m0 6.2v1.2m0 8.7v1.2m0 2.7v1.2m0 0.8v1.2m0 -0.6v2.1m0 1.1v1.2m0 -0.3v2.1m0 4.3v1.2m0 -1v2.1m0 4.1v1.2m0 1.8v1.2m0 -0.5v2.1m0 -1.7v1.2m0 3.5v1.2m0 2.4v1.2m0 -0.3v1.2m0 3.6v1.2m0 3.1v1.2m0 6.9v1.2m0 5.9v2.1M414 27.3v1.2m0 3.6v2.1m0 -1.7v2.1m0 7.3v1.2m0 4.5v1.2m0 28.7v1.2m0 5.5v1.2m0 5.4v1.2m0 0.4v1.2m0 2.6v1.2m0 2.7v1.2m0 0.4v2.1m0 9.5v2.1m0 34.9v2.1m0 2.8v1.2m0 1.3v1.2m0 0v2.1m0 3.9v1.2m0 4.7v2.1m0 -0.1v1.2M415 17v2.1m0 3.1v1.2m0 4.7v2.1m0 0.8v2.1m0 10.2v1.2m0 16.5v1.2m0 7.9v1.2m0 -0.5v1.2m0 6.4v1.2m0 1.5v1.2m0 1.7v1.2m0 6.5v2.1m0 -1v2.1m0 4v1.2m0 2.1v1.2m0 0.7v2.1m0 -0.8v1.2m0 7.8v1.2m0 5.4v1.2m0 6.2v2.1m0 -1.3v1.2m0 3.8v1.2m0 -0.4v1.2m0 -0.7v1.2m0 11.8v1.2m0 10.2v1.2m0 11.6v1.2m0 3.8v1.2M416 22.4v1.2m0 12.8v2.1m0 -1.4v1.2m0 8.4v2.1m0 2.7v1.2m0 6.5v1.2m0 1.3v1.2m0 3.6v2.1m0 1.6v1.2m0 6.8v1.2m0 12v2.1m0 7.9v1.2m0 8.9v1.2m0 2.3v1.2m0 6.4v1.2m0 8.9v1.2m0 -0.8v2.1m0 -1.4v2.1m0 -1.1v1.2m0 1.6v1.2m0 24.3v2.1M417 27.1v1.2m0 12v1.2m0 0.3v1.2m0 4.5v1.2m0 2.9v2.1m0 -0.3v2.1m0 -0.4v1.2m0 1.7v2.1m0 0.4v1.2m0 3.4v1.2m0 4.9v1.2m0 11.6v2.1m0 12.1v2.1m0 -1.7v2.1m0 -1.6v1.2m0 7.2v2.1m0 -1v1.2m0 0.4v1.2m0 20.4v2.1m0 7.5v1.2m0 7.7v2.1m0 2.4v1.2m0 2.8v2.1m0 0.1v1.2m0 7.4v2.1M418 29.5v1.2m0 1.7v1.2m0 4.7v1.2m0 10v1.2m0 7v2.1m0 5.2v1.2m0 14.1v1.2m0 -1.1v1.2m0 6.6v1.2m0 0.5v2.1m0 -0.6v1.2m0 17.8v1.2m0 1.1v2.1m0 14.2v1.2m0 3v1.2m0 -1.2v2.1m0 0.3v1.2m0 0.7v1.2m0 7v1.2m0 5.4v1.2m0 10.7v1.2m0 -0.6v2.1m0 -0.9v1.2m0 9.5v1.2M419 15.8v1.2m0 1.6v1.2m0 3.5v2.1m0 5.1v1.2m0 6.2v2.1m0 8.2v2.1m0 -0.1v1.2m0 2.5v1.2m0 16.1v2.1m0 12.2v1.2m0 10.7v1.2m0 1.2v1.2m0 5.4v1.2m0 1.1v1.2m0 10.9v2.1m0 4.1v2.1m0 0.4v1.2m0 8.6v1.2m0 1.7v1.2m0 19.2v1.2m0 4.5v1.2m0 5.9v2.1m0 -1.3v1.2m0 -0.5v1.2m0 -0.8v2.1M420 15.6v1.2m0 29.4v2.1m0 4.8v1.2m0 2v1.2m0 11.8v1.2m0 1v1.2m0 3.1v1.2m0 14.1v1.2m0 4.1v1.2m0 0.5v2.1m0 1.5v1.2m0 -0.7v1.2m0 9.2v1.2m0 -0.4v2.1m0 12v1.2m0 -0.7v2.1m0 1.8v1.2m0 10.1v1.2m0 -0.9v1.2m0 12.6v2.1m0 8.2v2.1m0 -0.2v2.1m0 3.9v1.2M421 26.7v1.2m0 0.6v1.2m0 12.9v1.2m0 8.7v2.1m0 -0.1v1.2m0 13.1v1.2m0 -0.6v1.2m0 1.8v1.2m0 -0.8v1.2m0 -0.8v1.2m0 3.2v1.2m0 3.4v2.1m0 -1.9v1.2m0 9.9v1.2m0 14.8v1.2m0 0.8v2.1m0 -1.9v1.2m0 13.7v1.2m0 0.1v2.1m0 -1.4v2.1m0 6.1v2.1m0 1.2v2.1m0 -1.8v1.2m0 -0.6v1.2m0 -0.4v1.2m0 4.5v1.2m0 10.4v1.2m0 1.1v1.2m0 4.7v1.2m0 -0.8v1.2m0 2.5v1.2m0 3.6v1.2m0 -0.5v1.2M422 41.8v2.1m0 8.9v1.2m0 5.6v1.2m0 -1.1v1.2m0 0.8v1.2m0 12.9v2.1m0 -2.1v1.2m0 23.2v2.1m0 6.2v1.2m0 -0.2v1.2m0 40v1.2m0 4.8v2.1m0 0.4v1.2m0 7.8v1.2m0 1.9v1.2m0 -0.4v2.1m0 1.5v1.2M423 34.7v1.2m0 4.4v1.2m0 0.6v1.2m0 11.2v2.1m0 13.8v1.2m0 1.1v1.2m0 -0.5v2.1m0 9.4v1.2m0 9.6v2.1m0 -0.5v1.2m0 12.3v1.2m0 9.9v2.1m0 6.7v2.1m0 1.7v1.2m0 17v1.2m0 0.8v1.2m0 5.4v1.2m0 13v1.2M424 35.6v1.2m0 -0.2v1.2m0 1.4v1.2m0 3v1.2m0 2.1v1.2m0 9.7v1.2m0 1.3v2.1m0 1.3v1.2m0 1v1.2m0 -0.9v1.2m0 10.1v1.2m0 0.9v1.2m0 2.5v1.2m0 16.6v1.2m0 -1.1v1.2m0 1.7v1.2m0 1.1v2.1m0 -1.1v1.2m0 5.8v2.1m0 5.3v1.2m0 -0.4v1.2m0 6.4v1.2m0 9.9v1.2m0 -0.6v1.2m0 18v1.2m0 2v2.1m0 -1.6v1.2m0 7.4v1.2m0 -0.2v2.1M425 17.8v1.2m0 26.4v2.1m0 8.4v2.1m0 -1.8v1.2m0 11.9v1.2m0 9.7v1.2m0 11.6v1.2m0 8.7v1.2m0 -0.9v1.2m0 6.1v2.1m0 9.5v1.2m0 -0.8v1.2m0 3.9v1.2m0 -0.3v1.2m0 9.3v2.1m0 10.1v1.2m0 5.2v1.2m0 -0.1v1.2m0 1.5v1.2m0 -1.1v2.1m0 5.8v2.1m0 5.3v1.2M426 21.9v1.2m0 11.5v2.1m0 0.2v1.2m0 -0.6v2.1m0 0.6v1.2m0 25.6v1.2m0 1.6v1.2m0 -0.7v1.2m0 -0.8v1.2m0 3.1v2.1m0 -0.2v2.1m0 -2v2.1m0 -1.6v2.1m0 8.7v1.2m0 -0.3v1.2m0 9.1v1.2m0 10v1.2m0 2.3v1.2m0 14.6v2.1m0 2.7v2.1m0 -1.8v2.1m0 2.9v2.1m0 2.5v1.2m0 2.5v2.1m0 -1v1.2m0 9.9v2.1M427 19.7v1.2m0 1.5v1.2m0 6.4v2.1m0 1.2v1.2m0 7.9v2.1m0 4v1.2m0 2.9v1.2m0 12.2v2.1m0 7.3v2.1m0 0.9v1.2m0 2.6v2.1m0 12.4v1.2m0 8.4v2.1m0 6.7v1.2m0 -0.4v1.2m0 0.5v1.2m0 0.2v2.1m0 0.1v2.1m0 -0.2v1.2m0 22.7v2.1m0 -1.2v1.2m0 2.8v1.2m0 0.5v2.1m0 -0.2v1.2m0 4.6v1.2m0 -0.1v2.1m0 -1.4v1.2m0 4.9v2.1m0 6.2v2.1M428 17.2v1.2m0 -1.2v1.2m0 5v1.2m0 16.9v1.2m0 6.2v1.2m0 8.1v1.2m0 0.5v2.1m0 5v2.1m0 -1.8v1.2m0 9.9v2.1m0 6.1v1.2m0 1.7v1.2m0 2.8v2.1m0 -0.5v2.1m0 2.8v1.2m0 0.7v1.2m0 1.2v1.2m0 6.7v1.2m0 2.8v1.2m0 0v2.1m0 12.1v1.2m0 19.3v1.2m0 0.8v1.2m0 9.6v2.1m0 5v1.2m0 -1.2v1.2m0 2.4v1.2m0 -0.6v1.2M429 25.4v1.2m0 33.8v1.2m0 8.1v2.1m0 0.8v1.2m0 15.9v1.2m0 10.4v1.2m0 12v2.1m0 2.4v2.1m0 0.2v2.1m0 -0.1v2.1m0 -1.8v1.2m0 2.1v1.2m0 5v1.2m0 16.9v1.2m0 14.2v1.2m0 5.3v1.2m0 2v1.2m0 0.5v2.1M430 40.2v1.2m0 16.1v1.2m0 12.2v1.2m0 5.2v1.2m0 11v1.2m0 16.7v1.2m0 9.1v2.1m0 -0.2v2.1m0 -2v2.1m0 6.1v1.2m0 2.8v1.2m0 -1.2v2.1m0 12.8v1.2m0 5.1v2.1m0 11.6v1.2m0 9.1v1.2M431 20.8v1.2m0 4.3v1.2m0 13.5v2.1m0 4.7v1.2m0 14.5v1.2m0 -1v1.2m0 2.8v1.2m0 7.5v1.2m0 25.4v2.1m0 -0.6v1.2m0 5v1.2m0 0.8v1.2m0 6.6v1.2m0 9.8v1.2m0 0.3v1.2m0 6.1v1.2m0 8.1v2.1m0 0.6v1.2m0 7.1v1.2m0 3.3v1.2m0 11.4v1.2M432 27.6v1.2m0 1v2.1m0 1.7v1.2m0 5.8v1.2m0 -0v1.2m0 11.7v1.2m0 1.2v2.1m0 -1.6v1.2m0 8.1v2.1m0 1.6v2.1m0 9.3v2.1m0 2.4v1.2m0 8.9v2.1m0 -1.2v1.2m0 -0.4v1.2m0 0.5v1.2m0 4.6v2.1m0 24.4v2.1m0 -0.8v1.2m0 2v1.2m0 8.5v1.2m0 21.4v1.2M433 20.2v1.2m0 1.3v1.2m0 1.5v1.2m0 0.3v2.1m0 4.5v1.2m0 8.7v2.1m0 0.8v1.2m0 3.5v1.2m0 1.2v2.1m0 -0.3v2.1m0 1.1v2.1m0 -1.9v1.2m0 3.7v1.2m0 -0.2v1.2m0 14.9v1.2m0 5.3v2.1m0 14.6v1.2m0 14v2.1m0 11.1v1.2m0 8.3v1.2m0 2.4v1.2m0 8.2v1.2m0 1.7v1.2m0 0.7v1.2m0 0.8v1.2m0 2.3v2.1m0 1.9v1.2m0 0v1.2M434 17.4v1.2m0 10.3v1.2m0 5.1v1.2m0 4.5v1.2m0 0.7v1.2m0 5.6v2.1m0 7v1.2m0 13.1v1.2m0 2.2v1.2m0 -0.4v1.2m0 2.7v1.2m0 4.8v1.2m0 27.4v1.2m0 8v1.2m0 18.7v1.2m0 -0.6v1.2m0 14.9v1.2m0 1.1v1.2m0 7.4v1.2m0 3.7v2.1M435 23.5v1.2m0 0.7v1.2m0 2.6v1.2m0 6v1.2m0 2.5v1.2m0 4.5v1.2m0 18.7v2.1m0 32.1v1.2m0 4.4v2.1m0 1v1.2m0 0.8v2.1m0 3.1v1.2m0 5.2v2.1m0 48.8v1.2M436 24.1v2.1m0 6.8v1.2m0 32.5v1.2m0 -0.3v1.2m0 2v1.2m0 2.5v1.2m0 1.3v1.2m0 8.1v1.2m0 4.9v2.1m0 4.6v1.2m0 -1.1v1.2m0 0.1v1.2m0 14.7v1.2m0 2.2v1.2m0 0.9v1.2m0 2.3v1.2m0 0.1v1.2m0 1.1v1.2m0 9.1v2.1m0 -1.7v1.2m0 15.2v1.2m0 9.1v1.2m0 6.6v1.2M437 16.2v1.2m0 2v1.2m0 6.4v1.2m0 1.7v1.2m0 0.8v1.2m0 9.4v1.2m0 6.4v2.1m0 -1.2v2.1m0 1v2.1m0 4.6v1.2m0 20.3v2.1m0 -1.2v2.1m0 -1v1.2m0 1.8v1.2m0 4.3v2.1m0 2.3v2.1m0 -1.2v1.2m0 7v2.1m0 0.5v1.2m0 0.7v1.2m0 5.8v1.2m0 1.7v2.1m0 -0.2v1.2m0 6.6v1.2m0 20.1v1.2m0 23.5v1.2M438 15.4v1.2m0 13.4v1.2m0 5.9v1.2m0 2.1v1.2m0 -0.5v1.2m0 -0v1.2m0 -1.1v2.1m0 1.3v1.2m0 -1.2v1.2m0 6.8v1.2m0 3.1v1.2m0 6.2v2.1m0 -1.9v2.1m0 2.1v1.2m0 0.1v2.1m0 3.8v1.2m0 22.7v1.2m0 2.1v1.2m0 1.3v2.1m0 4.4v2.1m0 0.5v1.2m0 1.1v1.2m0 7.1v1.2m0 -0.2v1.2m0 -0.7v2.1m0 7.3v1.2m0 3.2v1.2m0 5.9v1.2m0 0.9v1.2m0 0v1.2m0 11v1.2m0 11.9v1.2m0 -1.2v2.1M439 18.7v1.2m0 5.8v1.2m0 0.5v2.1m0 4.2v1.2m0 15.6v1.2m0 -0.4v1.2m0 0.4v1.2m0 11.8v1.2m0 0.9v1.2m0 7.1v1.2m0 0.4v2.1m0 -1.9v1.2m0 3.5v2.1m0 0.3v1.2m0 0.6v1.2m0 16.1v1.2m0 0.9v2.1m0 1.9v1.2m0 11.4v2.1m0 11.7v2.1m0 4.6v1.2m0 0.7v2.1m0 7.8v1.2m0 0.2v1.2m0 6.5v1.2m0 3.6v2.1m0 -0.7v1.2M440 26.9v1.2m0 9.1v2.1m0 -0.5v2.1m0 4.7v2.1m0 -1.4v2.1m0 1.4v2.1m0 14.8v2.1m0 6v2.1m0 13.4v2.1m0 15.8v1.2m0 2.3v2.1m0 -2v2.1m0 13.9v1.2m0 8.2v1.2m0 5.8v1.2m0 0.1v1.2m0 3.6v1.2m0 6.6v1.2m0 2v1.2m0 2v1.2m0 4.8v2.1m0 3.6v1.2M441 17.1v2.1m0 4.3v1.2m0 -1.1v2.1m0 -1.4v1.2m0 -0.7v1.2m0 27v1.2m0 3.5v2.1m0 23.1v1.2m0 18.5v2.1m0 0.4v1.2m0 3.7v1.2m0 0.4v2.1m0 2.9v1.2m0 2.7v1.2m0 0v1.2m0 9.2v1.2m0 12.4v1.2m0 2v1.2m0 -0.8v1.2m0 9.5v1.2m0 3.1v2.1m0 8.6v2.1m0 -2.1v2.1M442 31.4v1.2m0 0.2v1.2m0 4.7v1.2m0 0.1v1.2m0 6.3v1.2m0 0.8v1.2m0 10v2.1m0 14.7v2.1m0 6.7v2.1m0 9.1v1.2m0 0.4v2.1m0 -1.1v1.2m0 5.8v2.1m0 4.3v1.2m0 11.4v1.2m0 16.7v2.1m0 0.2v1.2m0 -1.1v1.2m0 6v1.2m0 7v1.2m0 14.6v1.2M443 16v1.2m0 -0.9v1.2m0 9v1.2m0 5.3v1.2m0 3.1v1.2m0 4.3v1.2m0 7.6v1.2m0 1.3v1.2m0 3.6v2.1m0 2.1v1.2m0 3.1v2.1m0 -0.5v1.2m0 5.5v1.2m0 0.4v2.1m0 1.9v2.1m0 -0.3v1.2m0 9.7v2.1m0 -0.3v1.2m0 -0.5v2.1m0 -1.4v1.2m0 -1v1.2m0 14.3v1.2m0 -0.3v2.1m0 9.2v2.1m0 10.5v1.2m0 9.9v1.2m0 -0.5v1.2m0 1.1v1.2m0 5.8v1.2m0 5.5v2.1m0 4.2v1.2m0 -0v1.2m0 2.6v1.2M444 34.3v2.1m0 1v1.2m0 11.1v1.2m0 3.7v1.2m0 4.9v1.2m0 10.6v1.2m0 2.2v2.1m0 -1.9v2.1m0 -1.8v1.2m0 1.7v1.2m0 11.8v1.2m0 11.1v1.2m0 4.8v2.1m0 8.8v2.1m0 -1.3v1.2m0 17.4v1.2m0 4.1v1.2m0 7.2v1.2m0 1.2v2.1m0 2.5v1.2m0 4.3v1.2m0 0.6v1.2m0 0.4v1.2M445 33.2v2.1m0 3.7v2.1m0 3.5v1.2m0 -0.5v1.2m0 1.5v2.1m0 0.2v1.2m0 0.4v2.1m0 4.5v1.2m0 -0.1v1.2m0 7.7v1.2m0 7v1.2m0 4.1v1.2m0 4.4v2.1m0 2.8v1.2m0 9.7v1.2m0 -0.2v2.1m0 21.6v1.2m0 4.1v2.1m0 9.4v1.2m0 -0.2v1.2m0 0v1.2m0 11.4v1.2m0 3.6v1.2M446 34.2v1.2m0 13.1v1.2m0 32.5v1.2m0 33.6v1.2m0 0.4v1.2m0 15.7v1.2m0 13.1v1.2m0 6.1v1.2m0 1v1.2m0 0.7v1.2m0 3.5v1.2M447 20.6v2.1m0 3v2.1m0 0.5v1.2m0 2.1v1.2m0 1.6v2.1m0 8.7v1.2m0 1.8v1.2m0 0.9v2.1m0 0.2v2.1m0 12.7v1.2m0 6.8v2.1m0 2.5v2.1m0 28.2v2.1m0 -2v2.1m0 6.9v1.2m0 3.2v2.1m0 -0.5v1.2m0 9.1v1.2m0 24.5v1.2m0 3v1.2m0 10v1.2M448 19.2v1.2m0 -1.2v1.2m0 7.4v1.2m0 12.9v1.2m0 0.3v2.1m0 -0.5v1.2m0 1.8v1.2m0 1.2v1.2m0 1v2.1m0 1.3v1.2m0 3.2v2.1m0 13.3v1.2m0 4v2.1m0 -1.2v1.2m0 5.8v1.2m0 2.7v2.1m0 0.4v1.2m0 9.9v1.2m0 2.4v2.1m0 3.5v2.1m0 1.7v1.2m0 11.1v1.2m0 9.8v1.2m0 5v1.2m0 -0.4v1.2m0 2.7v1.2m0 16v2.1M449 15.5v1.2m0 4.8v2.1m0 -0.8v1.2m0 9.4v1.2m0 2.5v2.1m0 2.8v1.2m0 0.2v1.2m0 -0.9v1.2m0 12.9v1.2m0 3.7v2.1m0 -0.8v1.2m0 19.7v2.1m0 -0.3v1.2m0 25.9v1.2m0 3.8v2.1m0 19.6v1.2m0 15.8v1.2M450 19.1v1.2m0 4.1v1.2m0 6.9v1.2m0 9.2v1.2m0 1.1v1.2m0 -0.2v2.1m0 1.7v2.1m0 0.5v2.1m0 0.8v1.2m0 -0.9v2.1m0 1.1v2.1m0 7.8v1.2m0 1.3v1.2m0 1.8v1.2m0 -0.7v1.2m0 1.5v1.2m0 16.5v1.2m0 6v2.1m0 -0.5v1.2m0 2v2.1m0 3.1v2.1m0 -1.1v1.2m0 17.2v1.2m0 4.1v1.2m0 0.7v1.2m0 7v1.2m0 -0.4v1.2m0 1.2v1.2m0 0.6v1.2m0 14.3v1.2M451 15.5v1.2m0 2.5v1.2m0 12.5v1.2m0 5v1.2m0 2.6v1.2m0 7.2v2.1m0 -0.8v1.2m0 27.5v2.1m0 0.3v1.2m0 2.8v1.2m0 22.3v1.2m0 17.5v2.1m0 4.9v1.2m0 14.1v1.2m0 7.4v1.2M452 20.1v1.2m0 14.3v1.2m0 0.1v1.2m0 12.7v1.2m0 11.7v1.2m0 -0.9v1.2m0 5.5v1.2m0 1.4v2.1m0 28.6v2.1m0 2.4v1.2m0 8.3v1.2m0 0.1v2.1m0 -1.6v1.2m0 0.7v1.2m0 0v1.2m0 3.8v1.2m0 9.9v1.2m0 17.8v1.2m0 7.2v1.2m0 -0.6v1.2M453 41.3v2.1m0 4.8v1.2m0 27.2v1.2m0 -0.9v1.2m0 3v2.1m0 5.4v1.2m0 8.9v2.1m0 0.1v1.2m0 8.2v1.2m0 17.4v1.2m0 1.9v1.2m0 -1.1v1.2m0 13.6v1.2m0 2.3v1.2m0 14.5v1.2m0 0.1v2.1m0 -0.3v2.1m0 0.4v1.2m0 0.1v1.2M454 22v1.2m0 11.6v2.1m0 7.5v1.2m0 37.7v1.2m0 7.7v1.2m0 2.4v2.1m0 8.1v1.2m0 8.2v1.2m0 -0.3v2.1m0 6.5v2.1m0 4.6v1.2m0 3.8v2.1m0 11.7v2.1m0 17.1v1.2m0 1.4v1.2m0 1.8v1.2m0 -0.2v1.2M455 16.5v1.2m0 5.6v1.2m0 14.1v1.2m0 3.5v1.2m0 0.1v2.1m0 11.3v2.1m0 0.3v1.2m0 0.4v2.1m0 2.9v1.2m0 1.7v1.2m0 0.6v1.2m0 -1.1v1.2m0 3v2.1m0 -1.2v1.2m0 6.5v1.2m0 12.7v1.2m0 1v1.2m0 14.6v1.2m0 8.6v1.2m0 -1.1v1.2m0 -0.6v2.1m0 -0v1.2m0 8.8v2.1m0 0.1v1.2m0 5.6v1.2m0 0.5v2.1m0 18v1.2M456 38.8v1.2m0 0v1.2m0 -1v1.2m0 1.4v1.2m0 4.8v1.2m0 -0.7v1.2m0 10.4v1.2m0 7.8v2.1m0 1.4v1.2m0 8.3v1.2m0 2.7v1.2m0 9v1.2m0 4.4v1.2m0 30.8v2.1m0 -0.1v2.1m0 6.5v1.2m0 7.6v2.1m0 11.1v1.2m0 0.1v1.2M457 18.2v2.1m0 0.5v1.2m0 0v1.2m0 2.6v1.2m0 2.9v2.1m0 0.2v1.2m0 4.3v2.1m0 9.2v2.1m0 7.8v2.1m0 15.8v1.2m0 14.4v1.2m0 3.5v1.2m0 4.9v1.2m0 1.9v1.2m0 -0.3v2.1m0 1v2.1m0 4.9v1.2m0 3.4v2.1m0 7.1v1.2m0 22.9v1.2m0 4v1.2m0 2.7v2.1M458 21.4v1.2m0 3.9v2.1m0 7.4v2.1m0 14.5v1.2m0 4.1v1.2m0 -1v1.2m0 -0.4v1.2m0 24.3v1.2m0 2.4v1.2m0 2v1.2m0 -0.4v1.2m0 10.8v1.2m0 4.5v1.2m0 -0.3v2.1m0 0.7v1.2m0 6.9v1.2m0 0.6v1.2m0 9.9v1.2m0 5.1v1.2m0 4.1v1.2m0 0.2v1.2M459 19.6v2.1m0 2.1v1.2m0 3.2v1.2m0 0.8v1.2m0 17.3v1.2m0 8.7v1.2m0 6.9v1.2m0 6.9v1.2m0 6.4v1.2m0 0.6v1.2m0 -0v1.2m0 0.1v2.1m0 3.3v1.2m0 9.9v1.2m0 0.2v2.1m0 -1.2v1.2m0 1.2v1.2m0 0.3v2.1m0 1.7v2.1m0 10.6v1.2m0 0.8v2.1m0 5.7v2.1m0 18.9v2.1m0 -1v1.2m0 0.1v1.2m0 2.4v1.2m0 3.9v1.2M460 60.6v2.1m0 -1.6v2.1m0 -0.8v1.2m0 11.5v2.1m0 0.9v2.1m0 1.1v1.2m0 8.6v2.1m0 16.8v1.2m0 0.7v1.2m0 -0.7v1.2m0 11.6v2.1m0 0.1v1.2m0 2.7v1.2m0 0.9v1.2m0 3.2v1.2m0 -0.5v2.1m0 11.2v1.2m0 3.9v2.1m0 7.4v1.2m0 1.9v2.1M461 16.3v1.2m0 10.7v1.2m0 4.3v2.1m0 4.6v2.1m0 8.7v1.2m0 7.5v1.2m0 1.8v2.1m0 28.4v2.1m0 18.6v1.2m0 4.9v1.2m0 -0.7v1.2m0 2.1v1.2m0 36.1v1.2m0 0.8v2.1m0 9v1.2M462 21.8v1.2m0 0.1v1.2m0 0.2v2.1m0 6.6v1.2m0 12.2v2.1m0 1.5v2.1m0 6.8v2.1m0 7.4v1.2m0 3.4v1.2m0 11.8v2.1m0 0.3v2.1m0 -2v2.1m0 -0.8v2.1m0 0.2v1.2m0 -0.4v1.2m0 10.3v1.2m0 53v1.2M463 22.8v1.2m0 5.7v1.2m0 0.5v1.2m0 12.4v2.1m0 -0.4v1.2m0 0.4v1.2m0 13.3v1.2m0 24.9v1.2m0 -0.4v1.2m0 0.6v2.1m0 -1.5v1.2m0 -0.9v1.2m0 12.1v2.1m0 6.8v1.2m0 -0.4v1.2m0 1.2v1.2m0 1.6v1.2m0 2.6v1.2m0 12.3v1.2m0 5.2v2.1m0 9.2v1.2m0 2.3v1.2m0 7.1v2.1m0 5v1.2M464 16v1.2m0 0.5v1.2m0 11.1v1.2m0 2.5v1.2m0 10.4v1.2m0 2.2v1.2m0 7.1v1.2m0 21.5v2.1m0 1.3v1.2m0 -0.7v1.2m0 1v1.2m0 11.5v1.2m0 1.6v1.2m0 6v1.2m0 -0.6v1.2m0 7v1.2m0 -0.3v2.1m0 2.2v1.2m0 15.4v1.2m0 0.7v1.2m0 3.3v1.2m0 17.7v1.2m0 3v2.1m0 7.3v2.1M465 16.1v1.2m0 2v1.2m0 18.6v1.2m0 15.9v1.2m0 22.6v1.2m0 1.1v1.2m0 22.2v1.2m0 3.8v2.1m0 -1.3v2.1m0 17.1v2.1m0 0.7v1.2m0 10.3v2.1m0 3.2v1.2m0 4.1v2.1m0 9.6v1.2M466 19.6v1.2m0 12.1v1.2m0 -0.3v2.1m0 4.5v1.2m0 9v2.1m0 -1v1.2m0 2.3v2.1m0 -1.6v1.2m0 5.3v1.2m0 7.9v2.1m0 32.7v2.1m0 7.9v1.2m0 4.2v1.2m0 3.9v1.2m0 -0.5v1.2m0 15.3v2.1m0 17.4v2.1M467 15.9v1.2m0 3.9v1.2m0 8.3v1.2m0 3.6v2.1m0 0v1.2m0 3.1v1.2m0 4.6v1.2m0 3.5v2.1m0 2.1v2.1m0 9.2v1.2m0 9v2.1m0 -0.9v1.2m0 -0.7v1.2m0 4.6v1.2m0 6.1v1.2m0 1.3v1.2m0 5.8v1.2m0 -1v2.1m0 0.1v1.2m0 8.1v1.2m0 5v1.2m0 28.5v1.2m0 -0.7v1.2m0 1.7v1.2m0 2.8v2.1m0 4.8v1.2M468 19.1v2.1m0 -0.9v1.2m0 1v1.2m0 1.4v1.2m0 9.4v1.2m0 1.9v1.2m0 0.9v1.2m0 8.8v2.1m0 20.3v1.2m0 1.7v1.2m0 -1.1v1.2m0 6v1.2m0 6v1.2m0 -0.5v1.2m0 1.9v1.2m0 1.8v2.1m0 10.6v1.2m0 19.5v1.2m0 7.5v1.2m0 19.1v2.1m0 4.8v1.2m0 6v1.2m0 1.4v1.2M469 16.3v1.2m0 2.1v1.2m0 12.8v1.2m0 7.8v1.2m0 0.6v1.2m0 0.6v1.2m0 6.8v1.2m0 1.7v1.2m0 -0.5v1.2m0 8.4v1.2m0 0.8v1.2m0 11.8v1.2m0 9.9v1.2m0 3.7v1.2m0 -0.6v2.1m0 8.6v1.2m0 21.2v1.2m0 -0.5v1.2m0 15.3v1.2m0 7v1.2m0 1v1.2m0 -0v1.2m0 3.2v1.2M470 34.3v1.2m0 -1v2.1m0 10.4v2.1m0 0.7v1.2m0 8.6v2.1m0 0.9v2.1m0 0.3v1.2m0 8.3v1.2m0 10.7v1.2m0 1v1.2m0 7.6v1.2m0 5.2v2.1m0 6.7v2.1m0 14v1.2m0 6.3v2.1m0 4.9v1.2m0 6.6v1.2m0 12.8v1.2m0 7.2v1.2m0 0.6v2.1M471 20.8v1.2m0 0.4v1.2m0 4.5v1.2m0 -0.6v1.2m0 8.9v1.2m0 5.1v1.2m0 5.6v1.2m0 2.6v1.2m0 10.6v1.2m0 3.2v1.2m0 1.3v1.2m0 14.9v1.2m0 2.3v2.1m0 17.7v1.2m0 1.5v1.2m0 -0.7v1.2m0 6.7v1.2m0 6.7v1.2m0 10.6v2.1m0 2.8v1.2m0 0.2v1.2m0 2.9v1.2m0 -0.5v2.1m0 9.5v2.1m0 6.5v1.2M472 19.1v1.2m0 -0.9v1.2m0 9.6v1.2m0 5.2v1.2m0 -0.8v2.1m0 16v1.2m0 -0.5v2.1m0 -1.7v1.2m0 14.5v1.2m0 2.7v1.2m0 0.7v1.2m0 1.6v1.2m0 18.1v1.2m0 1.9v1.2m0 11v1.2m0 -1.1v2.1m0 1.5v1.2m0 7.2v1.2m0 4.9v1.2m0 3.5v1.2m0 4.4v1.2m0 10.2v1.2m0 1.3v2.1m0 -1.3v1.2m0 2v2.1m0 3.3v1.2M473 15.4v2.1m0 2.8v1.2m0 1.9v2.1m0 -0.4v2.1m0 7.7v1.2m0 10.8v1.2m0 3.8v2.1m0 18.9v1.2m0 8.1v1.2m0 7.1v1.2m0 6.9v1.2m0 -0.7v2.1m0 12.2v1.2m0 5.9v1.2m0 13.2v1.2m0 1.3v1.2m0 2.3v2.1m0 4.3v2.1m0 1.4v1.2m0 0.1v1.2m0 -0.5v1.2m0 7.2v1.2m0 5.6v1.2M474 27.7v1.2m0 8.5v1.2m0 4.9v1.2m0 -0.5v1.2m0 18v1.2m0 0.1v2.1m0 15.1v1.2m0 10.2v1.2m0 6.6v1.2m0 0.3v1.2m0 6.1v2.1m0 -1.8v1.2m0 -0.7v1.2m0 9.4v1.2m0 21.8v2.1m0 1.2v1.2m0 9.9v1.2m0 5v1.2M475 38.2v1.2m0 4.4v2.1m0 -1.5v1.2m0 8v1.2m0 4.7v1.2m0 -0.3v2.1m0 -0v1.2m0 4.3v1.2m0 13.9v1.2m0 1.2v2.1m0 16.2v2.1m0 2.1v2.1m0 -1.5v2.1m0 4.4v1.2m0 7.1v2.1m0 0.9v1.2m0 9.2v1.2m0 3.2v1.2m0 4.2v1.2m0 21.4v2.1M476 16.4v1.2m0 13.3v1.2m0 5.6v2.1m0 0.9v2.1m0 4.9v1.2m0 16.5v1.2m0 -0.8v1.2m0 4.7v1.2m0 4.9v1.2m0 -0.5v1.2m0 17.2v1.2m0 9.9v1.2m0 -1.1v2.1m0 15.8v1.2m0 20.5v1.2m0 3.7v1.2m0 7.1v1.2M477 21.6v1.2m0 13v1.2m0 13.7v1.2m0 4.2v2.1m0 -2v2.1m0 2.6v2.1m0 3.1v1.2m0 7.9v2.1m0 8.7v1.2m0 0.9v1.2m0 4.9v1.2m0 15.1v2.1m0 18.8v1.2m0 4.9v2.1m0 -0.8v1.2m0 2.6v1.2m0 -0.6v1.2m0 0v2.1m0 6.1v2.1m0 -0.4v1.2m0 19.9v1.2M478 24.1v2.1m0 17.2v2.1m0 0v1.2m0 2.7v1.2m0 20.7v1.2m0 1.1v2.1m0 -1v2.1m0 14.9v2.1m0 3.4v1.2m0 14v1.2m0 15.6v2.1m0 -2.1v2.1m0 8.3v1.2m0 9v1.2M479 25.5v1.2m0 4.5v2.1m0 15.2v1.2m0 9.2v1.2m0 7.2v1.2m0 3.7v1.2m0 -1.2v1.2m0 1.9v2.1m0 -0.9v1.2m0 4.3v1.2m0 3.1v1.2m0 -0.9v1.2m0 5.7v1.2m0 16v2.1m0 17.9v1.2m0 3v1.2m0 3.4v1.2m0 12.5v1.2m0 14.9v1.2M480 15.7v1.2m0 0.3v1.2m0 6.1v1.2m0 29.7v1.2m0 1.1v1.2m0 5.5v1.2m0 4.7v1.2m0 0.6v1.2m0 0v2.1m0 1.1v1.2m0 8.7v1.2m0 6v1.2m0 7.1v2.1m0 -0v1.2m0 4.7v1.2m0 -0v1.2m0 9.4v1.2m0 -0.6v1.2m0 27.7v1.2m0 10.6v1.2M481 24.6v1.2m0 12v2.1m0 9.7v1.2m0 2.3v1.2m0 27.2v1.2m0 15.7v1.2m0 8.8v1.2m0 10.6v1.2m0 1.1v2.1m0 29.7v1.2m0 11.6v2.1m0 -1.2v1.2m0 -0.4v1.2m0 5.3v1.2M482 16.4v1.2m0 -0v1.2m0 4.4v1.2m0 2.4v1.2m0 13.1v1.2m0 6.3v2.1m0 5.1v2.1m0 20.7v2.1m0 -1v2.1m0 13.3v2.1m0 3.7v1.2m0 6.1v1.2m0 15.5v1.2m0 4.1v1.2m0 11.8v2.1m0 2.4v1.2m0 13v1.2m0 10v1.2M483 17.6v1.2m0 2.6v1.2m0 4.7v2.1m0 -0.7v1.2m0 24.6v1.2m0 4.5v1.2m0 18.9v1.2m0 0.3v1.2m0 10.9v1.2m0 0.4v2.1m0 -2v1.2m0 4.5v1.2m0 3.8v1.2m0 0.2v1.2m0 12v1.2m0 6.7v2.1m0 0.4v1.2m0 -0.6v1.2m0 27.7v1.2m0 0.5v1.2m0 -1v1.2m0 8.1v1.2m0 -0.8v1.2M484 17.4v1.2m0 7.7v1.2m0 4.4v1.2m0 5.3v1.2m0 9.4v1.2m0 12.4v1.2m0 9.9v1.2m0 5.7v2.1m0 10v2.1m0 -0.6v1.2m0 0.4v2.1m0 11.3v1.2m0 4v2.1m0 0.1v1.2m0 4.4v1.2m0 18.4v1.2m0 2v1.2m0 -0.5v2.1m0 3.4v2.1m0 0.5v1.2m0 6v2.1m0 9.3v2.1m0 -0.4v1.2M485 30.6v1.2m0 4.1v1.2m0 7.6v2.1m0 2.6v1.2m0 14v1.2m0 22.3v1.2m0 2.6v1.2m0 29.4v2.1m0 11.2v1.2m0 -1.1v1.2m0 29.3v2.1m0 4.5v1.2M486 20.9v2.1m0 18.7v1.2m0 6v1.2m0 -0.4v1.2m0 0.6v1.2m0 1.8v1.2m0 4.5v1.2m0 15.4v1.2m0 23.5v1.2m0 4.5v1.2m0 7.5v2.1m0 16.3v1.2m0 0.2v1.2m0 8.6v1.2m0 4.6v2.1m0 1.4v1.2m0 11.4v1.2m0 -1v1.2m0 -0.4v1.2m0 -0.9v2.1M487 17.3v1.2m0 2.9v1.2m0 13.9v1.2m0 20.8v1.2m0 13v2.1m0 14.6v1.2m0 -0.8v2.1m0 13.8v1.2m0 -0.2v2.1m0 14.7v1.2m0 5.3v1.2m0 9.1v2.1m0 19.6v1.2m0 1.7v1.2M488 28.4v1.2m0 1.1v1.2m0 7.7v2.1m0 9.3v1.2m0 1.6v1.2m0 9.5v2.1m0 9.2v1.2m0 6.3v1.2m0 2.3v1.2m0 9.2v1.2m0 2.6v1.2m0 -0.5v2.1m0 -1.3v1.2m0 22.1v2.1m0 5.4v1.2m0 -0.7v1.2m0 5.1v1.2m0 2.3v1.2m0 1.8v1.2m0 9.2v2.1m0 3.9v2.1m0 -0.9v1.2m0 4.2v2.1m0 1v2.1M489 17.9v2.1m0 -0.3v2.1m0 2.5v1.2m0 5.7v1.2m0 7.8v2.1m0 -0.8v2.1m0 24.7v1.2m0 32.9v1.2m0 3.3v2.1m0 9.2v1.2m0 3.9v1.2m0 10.3v1.2m0 8.9v2.1m0 -0.2v1.2m0 6v1.2m0 8.3v1.2m0 11.1v1.2M490 17.3v1.2m0 5.9v1.2m0 -1.1v1.2m0 5.3v1.2m0 3.2v2.1m0 6.1v1.2m0 5v1.2m0 2.2v1.2m0 0.8v1.2m0 0.6v1.2m0 0.4v1.2m0 9v1.2m0 4.5v1.2m0 -0.2v1.2m0 12.1v1.2m0 4v1.2m0 13.9v1.2m0 8.4v1.2m0 0.4v1.2m0 12.3v2.1m0 -0.8v1.2M491 20.7v1.2m0 2.9v1.2m0 4.7v1.2m0 1.1v1.2m0 0.7v2.1m0 4.8v1.2m0 1.2v1.2m0 3.6v1.2m0 16.3v1.2m0 -1.1v1.2m0 0.9v1.2m0 4.1v1.2m0 5.3v1.2m0 7.3v1.2m0 11.4v2.1m0 5v1.2m0 5.8v1.2m0 4.1v1.2m0 20.8v2.1m0 1.5v2.1m0 4.8v1.2m0 14.4v2.1m0 2.3v1.2m0 -0.8v2.1M492 18.3v2.1m0 -1.2v2.1m0 13.6v1.2m0 6.5v1.2m0 0.9v2.1m0 12.8v1.2m0 7.2v1.2m0 28.2v1.2m0 -0.3v1.2m0 2.6v1.2m0 0.8v1.2m0 22.6v1.2m0 3.1v1.2m0 17.4v1.2m0 4v2.1m0 10.1v2.1m0 4.7v2.1M493 21.2v1.2m0 59.8v2.1m0 9.7v1.2m0 11.7v1.2m0 21.4v2.1m0 32.6v1.2m0 3.2v2.1M494 16v1.2m0 51.5v1.2m0 4.6v1.2m0 3.7v1.2m0 20.7v1.2m0 0.1v1.2m0 28v2.1m0 2.8v1.2M514 18.3v1.2m0 24.7v1.2m0 18.2v1.2m0 -1.1v2.1m0 27.7v1.2m0 13v1.2m0 22.8v1.2m0 12.6v1.2m0 13.8v2.1m0 5.3v1.2m0 1.1v1.2M515 30.1v2.1m0 -1.2v2.1m0 3.3v1.2m0 39.3v1.2m0 2.3v2.1m0 11.4v2.1m0 17v2.1m0 2.5v1.2m0 0.8v1.2M516 20.5v2.1m0 0.2v1.2m0 11.8v1.2m0 8.2v1.2m0 6.6v1.2m0 0.3v1.2m0 -0.8v1.2m0 2.4v1.2m0 2.8v2.1m0 6.5v2.1m0 13.9v2.1m0 13.9v1.2m0 19.4v2.1m0 11.1v1.2m0 21.5v1.2m0 14.9v2.1m0 -0.2v2.1M517 19.4v1.2m0 11.4v1.2m0 20.7v1.2m0 0.3v1.2m0 -0.6v1.2m0 10.1v1.2m0 8.2v1.2m0 4.3v2.1m0 -1.9v1.2m0 14.6v2.1m0 1.7v1.2m0 4.6v1.2m0 10.3v1.2m0 10v2.1m0 -1v1.2m0 4.8v2.1m0 1.9v1.2m0 11.3v1.2m0 21.8v1.2M518 25.6v2.1m0 16.3v1.2m0 2.8v2.1m0 47v1.2m0 -0.9v2.1m0 -0.3v1.2m0 -0.6v2.1m0 -0.8v1.2m0 -0.7v2.1m0 -1.2v1.2m0 9.1v1.2m0 5v2.1m0 9.4v1.2m0 6.3v1.2m0 -0.5v1.2m0 11.9v1.2m0 4v1.2m0 7.7v1.2M519 36.4v1.2m0 2v1.2m0 0.7v1.2m0 22.3v2.1m0 1.3v2.1m0 -1.7v2.1m0 11.5v1.2m0 12.9v1.2m0 13.9v1.2m0 -1v2.1m0 7v1.2m0 5.4v1.2m0 8.6v1.2m0 30.5v1.2M520 26.7v1.2m0 12v2.1m0 11v1.2m0 1.9v1.2m0 22.5v1.2m0 10.9v1.2m0 -0.3v2.1m0 0.5v1.2m0 10.6v1.2m0 17.2v2.1m0 20v2.1m0 -0v2.1m0 0.4v2.1m0 8.6v2.1m0 -1.8v1.2m0 3.8v2.1M521 17.4v2.1m0 -1.5v2.1m0 -1.9v2.1m0 -1.5v1.2m0 -1.2v2.1m0 -1.7v2.1m0 -2v1.2m0 -1.2v1.2m0 -0.6v1.2m0 -0.4v1.2m0 -1.1v1.2m0 -1.2v2.1m0 -2v1.2m0 -1.1v1.2m0 -0.7v2.1m0 -1.9v2.1m0 -1.1v2.1m0 -1.3v1.2m0 -0.9v1.2m0 -0.8v1.2m0 -0.6v1.2m0 0.1v1.2m0 -0.9v1.2m0 -1.1v1.2m0 -1.2v1.2m0 -1.1v1.2m0 -0.1v1.2m0 -0.9v2.1m0 -2.1v1.2m0 1.9v1.2m0 0.9v1.2m0 -0.3v2.1m0 0.4v1.2m0 -0.8v2.1m0 -1.6v1.2m0 -1v2.1m0 -1.9v2.1m0 -1.9v1.2m0 -0.8v1.2m0 -0.9v1.2m0 -0v2.1m0 -1.7v1.2m0 0.6v1.2m0 0.5v2.1m0 -1.7v2.1m0 -2.1v1.2m0 -0.3v1.2m0 -0.4v1.2m0 -1.1v1.2m0 -1.2v1.2m0 -1.1v1.2m0 -1.1v1.2m0 -0.6v1.2m0 0.4v2.1m0 -1.7v1.2m0 0.4v1.2m0 -1.2v1.2m0 0.1v1.2m0 -1.1v2.1m0 -1.9v1.2m0 -0v1.2m0 -0.1v1.2m0 -0.4v1.2m0 -0.2v2.1m0 -1.7v1.2m0 -1.1v1.2m0 -0.6v1.2m0 0.2v2.1m0 -1.3v1.2m0 -0.3v1.2m0 -1.1v1.2m0 0.4v1.2m0 -0.4v1.2m0 -0.3v1.2m0 2.8v1.2m0 -0.4v1.2m0 -0.9v1.2m0 -1.1v2.1m0 -2v1.2m0 -0.6v1.2m0 -0.2v1.2m0 0.7v1.2m0 -1.2v1.2m0 -1.1v1.2m0 3.6v2.1m0 0v1.2m0 1.6v1.2m0 0.4v2.1m0 -1.2v1.2m0 -0.1v1.2m0 -0.3v1.2m0 -0.8v1.2m0 -0.8v1.2m0 -0.9v1.2m0 -0.5v1.2m0 -1.1v1.2m0 -1.1v1.2m0 -0.2v1.2m0 -0.5v1.2m0 -1.2v1.2m0 -0.3v1.2m0 -0.7v1.2m0 -0.6v1.2m0 0.1v1.2m0 -0.8v1.2m0 -0.6v1.2m0 -0.6v1.2m0 -1v2.1m0 -1.6v2.1m0 -1.8v1.2m0 -0.8v2.1m0 -1.5v2.1m0 -1.5v1.2m0 -0.3v2.1m0 -1.9v1.2m0 -0v1.2m0 -1v1.2m0 -1.2v1.2m0 -0.9v1.2m0 -1v1.2m0 -0.8v2.1m0 -0.7v1.2m0 -1.1v1.2m0 -0.7v1.2m0 -1v1.2m0 0.2v1.2m0 1.2v1.2m0 0.3v1.2m0 -1.2v1.2m0 -1.1v1.2m0 1.3v1.2m0 -1.1v2.1m0 -2v1.2m0 -1v1.2m0 -0.7v1.2m0 -0.6v1.2m0 0.5v1.2m0 -1.1v1.2m0 -0.6v1.2m0 -1.1v1.2m0 -1.1v1.2m0 -0.1v1.2m0 -0.5v1.2m0 -0.6v1.2m0 -1.1v1.2m0 1v1.2m0 -0.7v1.2m0 -0.9v2.1m0 -1.9v1.2m0 -0.9v1.2m0 2v2.1m0 -0.7v1.2m0 -0.1v1.2m0 -0.1v2.1m0 -1.9v1.2m0 -1.2v1.2m0 -0.5v2.1m0 -1.8v1.2m0 0.2v1.2m0 -1.1v2.1m0 -1.3v2.1m0 0.3v1.2m0 -1.1v1.2m0 -0.8v1.2m0 -0.8v1.2m0 -0.6v1.2m0 -0.8v1.2m0 -0.8v1.2m0 0v1.2m0 -0.9v1.2m0 -1.1v1.2m0 -0.1v1.2m0 0.3v2.1m0 -2v2.1m0 -2v1.2m0 -0.8v1.2m0 -0.8v1.2m0 -0.3v2.1m0 -1.7v1.2m0 4.5v2.1m0 -1v1.2m0 -0.8v2.1m0 -1.4v1.2m0 -1.1v1.2m0 -0.9v2.1m0 -1.4v1.2m0 -1.2v1.2m0 -0.6v1.2m0 0.6v1.2m0 0.5v2.1m0 -1.5v1.2m0 -0.8v1.2m0 -1.1v2.1m0 -0.5v1.2m0 -0.9v2.1m0 -1.7v1.2m0 1.1v1.2m0 -0.7v1.2m0 -0.1v1.2m0 0.8v2.1m0 -1.4v1.2m0 -1v1.2m0 -0.9v1.2m0 -0.6v1.2m0 -1v1.2m0 -1.2v1.2m0 -1.1v1.2m0 0.8v1.2m0 0.3v1.2m0 -0.7v1.2m0 -0.2v1.2m0 1.2v1.2m0 0.9v1.2m0 -0.7v2.1M522 15.4v1.2m0 3.7v2.1m0 1.8v1.2m0 -0.7v1.2m0 -1.1v1.2m0 -0.6v1.2m0 -0.1v2.1m0 2v1.2m0 5.6v2.1m0 -1.7v1.2m0 -0.4v1.2m0 3.1v1.2m0 -0.7v1.2m0 2.4v1.2m0 1.8v1.2m0 -0.8v1.2m0 0.2v1.2m0 -0.5v1.2m0 0.6v2.1m0 -1v2.1m0 0.5v1.2m0 4.1v1.2m0 1.8v1.2m0 -0.7v1.2m0 5.3v2.1m0 -1.6v1.2m0 2.7v1.2m0 6.3v1.2m0 0.3v1.2m0 -0.5v1.2m0 -0.6v1.2m0 -0.7v2.1m0 -1.2v1.2m0 2.5v1.2m0 0v1.2m0 -1.2v1.2m0 -0.8v1.2m0 3.4v2.1m0 0.2v1.2m0 -0.8v2.1m0 -1.8v2.1m0 0.2v1.2m0 -0.2v2.1m0 -1.4v1.2m0 -0.2v1.2m0 2.3v2.1m0 2v1.2m0 0.8v2.1m0 -0.5v1.2m0 -0.2v1.2m0 1.3v2.1m0 -1v2.1m0 -1.9v1.2m0 0.3v1.2m0 0.2v1.2m0 0.2v1.2m0 -1v2.1m0 3.8v1.2m0 1v1.2m0 -1.2v1.2m0 1v1.2m0 -0.5v2.1m0 -1.9v2.1m0 0.3v1.2m0 -0.8v1.2m0 0.3v1.2m0 -0.6v1.2m0 -0.3v2.1m0 -0v1.2m0 -0.9v1.2m0 -0.1v1.2m0 -0.7v1.2m0 1.9v1.2m0 0.9v1.2m0 -0.8v2.1m0 -1.2v2.1m0 0.4v1.2m0 -1.1v2.1m0 -1v2.1m0 -0.9v1.2m0 1v1.2m0 1.5v1.2m0 3v1.2m0 -0.6v2.1m0 -0.6v1.2m0 1.7v2.1m0 -0.7v1.2m0 0.5v1.2M523 15.3v1.2m0 -0.5v2.1m0 -1.7v1.2m0 -0.9v1.2m0 -0.5v2.1m0 -1.5v1.2m0 0v1.2m0 -0.5v2.1m0 -1.9v2.1m0 -0.1v2.1m0 -0.6v1.2m0 1.6v2.1m0 -1.8v1.2m0 -1.2v1.2m0 -0.3v2.1m0 -1.9v1.2m0 -0.9v1.2m0 -1.2v1.2m0 -1v1.2m0 -1.2v1.2m0 -0.7v1.2m0 -1.2v2.1m0 -2v2.1m0 -0.3v1.2m0 -1.1v2.1m0 -0.8v1.2m0 -1v1.2m0 -1.2v1.2m0 -0.6v1.2m0 -1.2v1.2m0 -1.2v1.2m0 -1v1.2m0 -0.8v1.2m0 -1v2.1m0 -1.9v1.2m0 -0.3v2.1m0 -1.8v1.2m0 -1v2.1m0 -1.8v2.1m0 -1.9v1.2m0 -0.3v1.2m0 -0.2v2.1m0 -1.6v1.2m0 -0.6v2.1m0 -2.1v1.2m0 -1.2v2.1m0 -1.9v2.1m0 -1.4v1.2m0 -0.3v1.2m0 0.5v1.2m0 -0.9v1.2m0 -1v1.2m0 -0.9v2.1m0 -1.9v1.2m0 -1.2v1.2m0 -0.8v1.2m0 -1v2.1m0 -1.8v2.1m0 -1.6v1.2m0 -0.7v2.1m0 -1.3v1.2m0 0.2v2.1m0 -1.7v1.2m0 -0.9v2.1m0 -1v1.2m0 1.1v1.2m0 -0.5v1.2m0 -1.2v1.2m0 -0.9v1.2m0 -1.1v2.1m0 -1.2v1.2m0 -1v1.2m0 -1.2v1.2m0 -0.9v1.2m0 -1.2v2.1m0 -0.9v1.2m0 -0.8v1.2m0 -0.7v1.2m0 -0.7v1.2m0 -0.9v2.1m0 -2v1.2m0 -0.4v1.2m0 -1.2v2.1m0 -1.8v1.2m0 -0.5v1.2m0 -0.8v2.1m0 -1.7v1.2m0 -0.8v2.1m0 -2v1.2m0 -1v2.1m0 -1.4v1.2m0 -1v1.2m0 -0.8v2.1m0 -2.1v1.2m0 -0.6v2.1m0 -1.7v1.2m0 -1.2v1.2m0 -0.2v2.1m0 -2v2.1m0 -1.5v1.2m0 -0.8v2.1m0 -1.5v1.2m0 -1.2v2.1m0 -1.4v1.2m0 -1v1.2m0 -0.5v1.2m0 0.1v1.2m0 -1.1v1.2m0 -0.1v1.2m0 -1.1v1.2m0 -0.8v2.1m0 -2.1v1.2m0 -0.5v2.1m0 -1.6v1.2m0 -1.2v1.2m0 -0.3v1.2m0 -0.5v2.1m0 -1.9v1.2m0 -0.8v1.2m0 -0.5v2.1m0 -2v2.1m0 -2.1v2.1m0 -1.7v1.2m0 -0.9v1.2m0 -1v1.2m0 -1.1v1.2m0 -0.9v1.2m0 -0.5v1.2m0 -0.8v1.2m0 -0.7v1.2m0 -0.4v1.2m0 -0.9v1.2m0 -1v1.2m0 -1v2.1m0 -2.1v1.2m0 -1v1.2m0 -1v1.2m0 0.5v2.1m0 -1.7v1.2m0 -0.8v1.2m0 0v1.2m0 -1.1v2.1m0 -0.4v1.2m0 -0.3v2.1m0 -1.9v1.2m0 -0.2v1.2m0 -0.3v2.1m0 -1.5v1.2m0 -1v1.2m0 -1.1v1.2m0 -0.1v1.2m0 -0.4v1.2m0 -0.1v1.2m0 -1v1.2m0 -1.1v1.2m0 -1v1.2m0 -0.4v1.2m0 -0.3v1.2m0 -1v1.2m0 -0.9v1.2m0 -1.1v1.2m0 0.3v1.2m0 -0.9v1.2m0 -0.3v1.2m0 -0.7v1.2m0 -1.1v1.2m0 -1.2v1.2m0 -1.2v1.2m0 -1.2v2.1m0 -2v1.2m0 -0.7v1.2m0 -1.2v2.1m0 -2.1v1.2m0 0.3v1.2m0 -0.9v1.2m0 -0.5v1.2m0 0.1v2.1m0 -1.5v1.2m0 0.8v2.1m0 -1.8v2.1m0 -2.1v2.1m0 -2.1v2.1m0 -1.9v2.1m0 -0.5v1.2m0 -1.1v1.2m0 -0.3v1.2m0 -0.5v1.2m0 -1v1.2m0 -0.9v1.2m0 -0.8v2.1m0 -1.8v2.1m0 -1.8v1.2m0 -1.1v1.2m0 -0.5v2.1m0 -2.1v1.2m0 -0.9v1.2m0 -0.8v2.1m0 -1.9v1.2m0 -1.2v2.1m0 -1.5v1.2m0 -0.6v1.2m0 -1.2v1.2m0 -0.3v2.1m0 -1.6v2.1m0 -1.5v1.2m0 -1v1.2m0 -0.6v1.2m0 -1v1.2m0 -0.9v2.1m0 -1.5v1.2m0 -1.2v1.2m0 0.2v1.2m0 -0.8v1.2m0 -0.1v2.1m0 -2v1.2m0 -0.9v2.1m0 -2v1.2m0 -0.6v2.1m0 -2v1.2m0 -1v1.2m0 -0.5v1.2m0 -1v1.2m0 -0.6v1.2m0 -1.1v1.2m0 -1.1v1.2m0 -0.8v1.2m0 -1.1v1.2m0 -0.5v1.2m0 -0.6v1.2m0 -1.2v1.2m0 -0.4v1.2m0 -0.2v1.2m0 -1.1v1.2m0 -1.1v2.1m0 -1v1.2m0 -1v1.2m0 -1.1v1.2m0 -1.1v2.1m0 -2v1.2m0 -1.1v2.1m0 -2v1.2m0 -1v2.1m0 -1.7v1.2m0 -1v2.1m0 -2v2.1m0 -2v1.2m0 -1.1v1.2m0 -0.4v1.2m0 -1.2v1.2m0 -0.8v1.2m0 -0.6v2.1m0 -1.6v1.2m0 -0.3v1.2m0 -0.9v1.2m0 -0.9v1.2m0 -1.2v2.1m0 -1.8v1.2m0 -0.6v1.2m0 -1.1v1.2m0 -1.1v1.2m0 -1.1v1.2m0 -0.8v1.2m0 -0.6v2.1m0 -2v1.2m0 -0.7v1.2m0 -0.9v2.1m0 -1.7v1.2m0 -0.1v2.1m0 -1.3v2.1m0 -2v2.1m0 -1.3v1.2m0 -0.9v1.2m0 -1.2v2.1m0 -1.9v1.2m0 -0.5v1.2m0 -0.3v1.2m0 -1.2v2.1m0 -1.7v1.2m0 0v1.2m0 2.8v1.2m0 -0.1v1.2m0 -0.9v2.1m0 -0.9v2.1m0 -2v1.2m0 -1.1v2.1m0 -1.5v1.2m0 -1.1v1.2m0 -1.2v1.2m0 -1.1v1.2m0 -1.1v1.2m0 -0.5v2.1m0 -1.9v1.2m0 -1v2.1m0 -2v2.1m0 -1.2v1.2m0 -0.7v2.1m0 -2v2.1m0 -2v2.1m0 -2.1v1.2m0 -0.7v1.2m0 -1v1.2m0 -1v1.2m0 -0.4v2.1m0 -2.1v1.2m0 -1v2.1m0 -2.1v1.2m0 -1v2.1m0 -1.8v1.2m0 -0v1.2m0 -0.8v1.2m0 -1v1.2m0 -0.6v1.2m0 -0.1v1.2m0 -0.6v1.2m0 -1v2.1m0 -1.8v2.1m0 -1.4v1.2m0 0.5v1.2m0 -1.1v1.2m0 -0.2v2.1m0 -1.5v1.2m0 -0.8v1.2m0 -0.7v2.1m0 -2v1.2m0 -0.9v1.2m0 -0.9v1.2m0 -0.6v1.2m0 -0.6v1.2m0 -0.8v1.2m0 -1.1v1.2m0 -0.9v1.2m0 0.4v1.2m0 -0.9v2.1m0 -1.7v2.1m0 -1.3v1.2m0 -1.2v1.2m0 -0.7v1.2m0 -1v1.2m0 -1v2.1m0 -2.1v1.2m0 -0.2v1.2m0 0.1v1.2m0 -0.7v1.2m0 -0.9v1.2m0 -0.3v2.1m0 -2v1.2m0 -0.2v1.2M524 15.3v1.2m0 -0.7v1.2m0 -0.9v1.2m0 -0.3v2.1m0 -0.1v2.1m0 -1.7v1.2m0 -1.1v1.2m0 -1v2.1m0 -2.1v1.2m0 -0.8v1.2m0 -0.9v1.2m0 -0.9v1.2m0 -1.2v1.2m0 -0.7v1.2m0 -0.9v2.1m0 -1.6v2.1m0 -2v1.2m0 -0.4v2.1m0 -1.7v2.1m0 -1.9v1.2m0 -1.2v1.2m0 -0.8v1.2m0 -0.5v1.2m0 -0.8v1.2m0 -1.2v1.2m0 -1v1.2m0 -1v2.1m0 -1.8v1.2m0 0.1v1.2m0 -1.2v1.2m0 -0.9v1.2m0 -1.2v1.2m0 -0.7v1.2m0 -1.1v1.2m0 -0.9v2.1m0 -1.6v1.2m0 -1.1v1.2m0 -1v1.2m0 -0.9v1.2m0 -1.1v1.2m0 -1.2v1.2m0 -0.3v1.2m0 -0.8v1.2m0 -1v2.1m0 -1.9v1.2m0 -0.4v1.2m0 -1v1.2m0 -0.9v2.1m0 -2v2.1m0 -1.4v1.2m0 -0.8v1.2m0 -0.8v1.2m0 -1v1.2m0 1.4v1.2m0 -1v1.2m0 -1.1v2.1m0 -2v1.2m0 -1.2v2.1m0 -1.9v2.1m0 -2.1v2.1m0 -1.6v1.2m0 -1.2v1.2m0 -1.1v1.2m0 -0.5v1.2m0 -1.1v1.2m0 -1v2.1m0 -2v1.2m0 -0.4v2.1m0 -1.8v2.1m0 -1.6v1.2m0 -1.1v1.2m0 -1.1v2.1m0 -1.3v1.2m0 -1.1v1.2m0 -0.7v1.2m0 -0.2v1.2m0 -0.6v2.1m0 -2.1v2.1m0 -1.6v1.2m0 -1.1v2.1m0 -1.5v1.2m0 -1.2v1.2m0 -1v1.2m0 0.2v1.2m0 -1.2v1.2m0 -1.1v1.2m0 -0.2v1.2m0 -1.1v1.2m0 -1.2v1.2m0 -0.5v1.2m0 -0.7v1.2m0 -1.2v1.2m0 -1.1v1.2m0 -0.6v1.2m0 -0.9v1.2m0 -0.9v1.2m0 -0.8v1.2m0 -0.5v2.1m0 -1.2v1.2m0 -0.5v1.2m0 -1.1v2.1m0 -1.8v1.2m0 -1.2v1.2m0 -0.9v1.2m0 -0.6v1.2m0 -0.8v1.2m0 -1v1.2m0 -1v1.2m0 -1v1.2m0 -1v1.2m0 -1v1.2m0 -1.1v1.2m0 -0.5v1.2m0 -0.8v1.2m0 -0.7v1.2m0 -0.9v2.1m0 -2v2.1m0 -1.7v2.1m0 -0.8v1.2m0 -0.5v1.2m0 -0.3v1.2m0 -1.1v1.2m0 -0.6v1.2m0 -1.1v2.1m0 -1.7v1.2m0 -1.1v1.2m0 -1.1v1.2m0 -0.7v1.2m0 -0.6v1.2m0 -0.8v1.2m0 -1.1v2.1m0 -1.3v1.2m0 -0.7v1.2m0 -0.3v1.2m0 -0.3v1.2m0 -1.2v1.2m0 -0.4v2.1m0 -1.6v2.1m0 -1.5v1.2m0 -0.7v1.2m0 0.5v1.2m0 -1v2.1m0 -1.6v1.2m0 -1.1v1.2m0 -1.1v1.2m0 -1.1v1.2m0 -1.2v2.1m0 -1.7v1.2m0 -0.7v1.2m0 -0.4v1.2m0 -0.8v1.2m0 -1v1.2m0 -0.9v2.1m0 -2.1v1.2m0 -0.7v2.1m0 -1.9v2.1m0 -1.7v2.1m0 -1.8v1.2m0 -1v1.2m0 -1.1v1.2m0 -1.2v2.1m0 -1.7v1.2m0 -1.1v1.2m0 -0.9v1.2m0 -1.1v1.2m0 -0.5v1.2m0 -1v1.2m0 -1.2v1.2m0 -0.5v1.2m0 -0.2v1.2m0 -0.7v1.2m0 -1.2v1.2m0 -1v1.2m0 -0.7v1.2m0 -1v1.2m0 -0.3v1.2m0 0v2.1m0 -1.9v1.2m0 -0.4v2.1m0 -2v1.2m0 -1.1v1.2m0 -1.1v2.1m0 -2.1v1.2m0 -1.2v2.1m0 -1.6v1.2m0 -0.7v1.2m0 -0.8v1.2m0 -1v1.2m0 -1.1v1.2m0 -0.9v2.1m0 -1.6v1.2m0 -1v1.2m0 -0.9v1.2m0 -1.1v1.2m0 -0.6v1.2m0 -0.8v1.2m0 -0.9v1.2m0 -1v1.2m0 0.2v1.2m0 -1.1v1.2m0 -0.4v1.2m0 -1v1.2m0 -1.2v1.2m0 -0.7v1.2m0 -1v2.1m0 -1.9v1.2m0 -0.8v1.2m0 -1.1v1.2m0 -1v1.2m0 -0v1.2m0 -1v1.2m0 -0.9v1.2m0 -1.1v2.1m0 -1.7v1.2m0 -0.8v2.1m0 -2v1.2m0 0.1v1.2m0 -0.5v1.2m0 -1.1v1.2m0 -1.1v1.2m0 -1v1.2m0 -0.9v2.1m0 -2.1v1.2m0 -1.1v2.1m0 -2v2.1m0 -2v1.2m0 -0.8v1.2m0 -1.1v1.2m0 -0.6v2.1m0 -1.8v1.2m0 -0.6v2.1m0 -2v1.2m0 0.1v1.2m0 -1.2v1.2m0 -0.6v2.1m0 -0.1v1.2m0 -0.5v1.2m0 -0.7v2.1m0 -1.8v1.2m0 -0.2v1.2m0 -0.8v1.2m0 -1.2v1.2m0 -1.1v1.2m0 -1.1v1.2m0 -0.9v1.2m0 -0.4v1.2m0 -1v1.2m0 -1v1.2m0 -0.8v2.1m0 -2.1v1.2m0 -1v1.2m0 -1.2v1.2m0 -1.1v1.2m0 -0.7v1.2m0 -0.6v1.2m0 -1.1v1.2m0 -0.8v2.1m0 -1.2v1.2m0 -0.6v2.1m0 -2v1.2m0 -0.9v1.2m0 -1.1v1.2m0 -1.2v1.2m0 -0.8v2.1m0 -1.9v2.1m0 -1.9v1.2m0 -1.1v1.2m0 -1.2v1.2m0 -0.8v1.2m0 0.2v2.1m0 -1.8v1.2m0 -1.2v1.2m0 -1.2v1.2m0 -1.1v1.2m0 -0.2v2.1m0 -1.5v1.2m0 -0.5v1.2m0 -1v1.2m0 -1.1v1.2m0 -0.9v2.1m0 -2v1.2m0 -0.9v1.2m0 -0.8v1.2m0 0.3v1.2m0 -0.7v2.1m0 -1.7v2.1m0 -0.8v1.2m0 -1.2v1.2m0 -0.7v1.2m0 -1.1v1.2m0 -1.2v2.1m0 -1.9v2.1m0 -1v1.2m0 -0.6v1.2m0 -1.1v2.1m0 -2.1v1.2m0 -1.1v1.2m0 -1.1v1.2m0 -1.2v1.2m0 -0.3v1.2m0 -1.2v1.2m0 -0.8v1.2m0 -0.9v1.2m0 -0.5v1.2m0 -0.8v1.2m0 -0.6v1.2m0 -1.1v2.1m0 -1.5v2.1m0 -2v1.2m0 -0.8v1.2m0 -0.8v1.2m0 -0.9v1.2m0 -0.4v1.2m0 -0.4v1.2m0 -0.9v1.2m0 -0.9v2.1m0 -2v2.1m0 -2v1.2m0 -1v1.2m0 -0.7v1.2m0 -1.2v1.2m0 -1.1v2.1m0 -2v1.2m0 -0.5v1.2m0 -0.9v1.2m0 -0.9v2.1m0 -1v1.2m0 -1.1v2.1m0 -2.1v1.2m0 -1.2v2.1m0 -2v2.1m0 -1.9v2.1m0 -1.9v1.2m0 -1v1.2m0 -1.1v1.2m0 -1.1v1.2m0 -1v1.2m0 -1.1v1.2m0 -1.2v2.1m0 -2.1v1.2m0 -1.1v2.1m0 -2v1.2m0 -0.7v2.1m0 -2v2.1m0 -2.1v1.2m0 -0.9v1.2m0 -0.9v1.2m0 -0.1v1.2m0 -0.6v2.1m0 -1.3v1.2m0 -0.5v2.1m0 -1.9v1.2m0 -1v2.1m0 -2v1.2m0 0.2v1.2m0 -0.5v1.2m0 -1.2v1.2m0 -0.5v1.2m0 -0.3v2.1m0 -2.1v2.1m0 -1.8v1.2m0 -0.7v1.2m0 -0.6v2.1m0 -1.8v1.2m0 -1v2.1m0 -1.4v1.2m0 -1.2v1.2m0 -0.9v1.2m0 -1.2v1.2m0 0.1v1.2m0 -1v1.2m0 -0.7v1.2m0 -1v1.2m0 -0.8v1.2m0 -0.6v2.1m0 -1.8v1.2m0 -1.1v2.1m0 -1.8v1.2m0 -0.7v2.1m0 -2v1.2m0 -1.1v1.2m0 -0.8v1.2m0 -0.8v1.2m0 -1.2v2.1m0 -1.9v2.1m0 -1.9v1.2m0 -1.2v2.1m0 -2v1.2m0 -0.8v2.1m0 -1.5v2.1m0 -1.9v1.2m0 -0.9v1.2m0 -0.2v1.2m0 -1v1.2m0 -1.2v1.2m0 -0.8v1.2m0 -1.1v2.1m0 -1.3v1.2m0 -1.1v1.2m0 -0.3v1.2m0 -0.4v1.2m0 -0.8v2.1m0 -1.8v2.1m0 -1.2v1.2m0 -1.1v2.1m0 -1.6v1.2m0 -1.1v2.1m0 -1.8v1.2m0 -0.8v1.2m0 -0.5v1.2m0 -0.6v1.2m0 -1v1.2m0 -1.2v1.2m0 -0.7v1.2m0 -1.1v1.2m0 -1.1v1.2m0 -1v2.1m0 -1.9v2.1m0 -1.9v1.2m0 -1.1v1.2m0 -1v2.1m0 -2v2.1m0 -2v2.1m0 -2.1v1.2m0 -1v2.1m0 -1.3v2.1m0 -1.3v2.1m0 -1.8v1.2m0 -0.6v1.2m0 -0.6v1.2m0 -1.1v1.2m0 0.6v2.1m0 -1.2v1.2m0 -0.7v1.2m0 -1.2v1.2M525 15.4v2.1m0 -1.8v1.2m0 -0.6v1.2m0 -0.9v2.1m0 -1.8v2.1m0 -1.8v1.2m0 -1v1.2m0 0.6v1.2m0 -1.2v1.2m0 -1.1v1.2m0 -0.7v2.1m0 -2.1v1.2m0 -0.7v1.2m0 -0.5v2.1m0 -1.9v1.2m0 -0.8v1.2m0 -1.1v1.2m0 -0.9v1.2m0 -1v1.2m0 -0.5v2.1m0 -1.5v1.2m0 -1.2v1.2m0 -1.1v1.2m0 -1.2v1.2m0 -0.2v1.2m0 -0.5v1.2m0 -1.1v1.2m0 -1.1v1.2m0 -1.1v1.2m0 -0.9v1.2m0 -1.2v1.2m0 -0.4v1.2m0 -0.9v1.2m0 -0.9v1.2m0 -0.5v1.2m0 -0.8v1.2m0 -0.4v1.2m0 -1.1v1.2m0 -1v1.2m0 -0.7v2.1m0 -2v2.1m0 -1.8v1.2m0 -1.1v1.2m0 -0.8v1.2m0 -0.4v2.1m0 -2v1.2m0 -0.7v2.1m0 -1.9v1.2m0 -0.8v1.2m0 -1.1v1.2m0 -1.2v1.2m0 -1.2v1.2m0 -1.1v1.2m0 -0.6v1.2m0 -0.1v1.2m0 -0.6v1.2m0 -0.6v2.1m0 -1.3v1.2m0 -1.1v1.2m0 -1.1v1.2m0 -0.5v2.1m0 -1.6v1.2m0 0.5v1.2m0 -1v1.2m0 -1v1.2m0 -0.7v2.1m0 -1.7v1.2m0 -0.6v1.2m0 -0.9v2.1m0 -2v1.2m0 -1v1.2m0 -0.9v2.1m0 -2v1.2m0 -0.6v1.2m0 -0.8v1.2m0 -0.8v2.1m0 -1.5v1.2m0 -0.6v1.2m0 -1v1.2m0 0.1v1.2m0 -1.1v1.2m0 -0.8v1.2m0 -0.9v1.2m0 -1.1v2.1m0 -0.7v2.1m0 -2v1.2m0 -1.1v2.1m0 -1.7v2.1m0 -2v1.2m0 -1v1.2m0 -0.8v1.2m0 0.1v1.2m0 -1.1v1.2m0 -0.7v1.2m0 -0.6v2.1m0 -2.1v1.2m0 -0.5v1.2m0 -1.1v1.2m0 -1v1.2m0 -1v1.2m0 -0.8v1.2m0 -1.1v1.2m0 -1.1v1.2m0 -0.5v2.1m0 -1.9v1.2m0 -0.9v1.2m0 -0.5v1.2m0 -0.9v2.1m0 -2v1.2m0 -1.1v1.2m0 -1.2v1.2m0 -1.1v2.1m0 -2v1.2m0 -1.2v2.1m0 -1.6v1.2m0 -0.5v1.2m0 -0.2v1.2m0 -0.8v1.2m0 -0.3v2.1m0 -2v1.2m0 -0.6v1.2m0 -1v2.1m0 -1.7v1.2m0 -0.5v1.2m0 -0.8v1.2m0 -0.8v1.2m0 -1v2.1m0 -1.8v1.2m0 -1.1v2.1m0 -1.4v1.2m0 -1.2v1.2m0 -1.1v1.2m0 -0.4v1.2m0 -1.1v1.2m0 -1.2v2.1m0 -1.1v2.1m0 -2v2.1m0 -1.4v1.2m0 -0.7v1.2m0 -1v1.2m0 -1.1v1.2m0 -0.9v2.1m0 -1.7v1.2m0 -0.8v2.1m0 -1.9v1.2m0 -0.6v1.2m0 -0.8v1.2m0 -1.2v1.2m0 -1v1.2m0 -1v1.2m0 -1.1v1.2m0 -1v2.1m0 -1.6v1.2m0 -1.1v2.1m0 -2v2.1m0 -1.2v1.2m0 -0.6v2.1m0 -1.8v2.1m0 -1.5v2.1m0 -1.9v1.2m0 -1.1v1.2m0 -1.1v2.1m0 -0.9v2.1m0 -1.9v1.2m0 -1v2.1m0 -1.6v1.2m0 -0.9v2.1m0 -2v1.2m0 -0.5v1.2m0 -1v2.1m0 -1.9v2.1m0 -1.9v1.2m0 -1v1.2m0 -1.1v1.2m0 -1v1.2m0 -0.8v1.2m0 -0.8v1.2m0 -0.7v2.1m0 -1.4v1.2m0 -1.1v1.2m0 -0.5v1.2m0 -0.8v2.1m0 -2v1.2m0 -1v1.2m0 -0.6v1.2m0 -0.9v1.2m0 -0.4v1.2m0 -1.1v2.1m0 -2v2.1m0 -1.6v1.2m0 -0.4v1.2m0 -1.1v2.1m0 -1.9v1.2m0 -1.1v1.2m0 -1v1.2m0 -0.4v2.1m0 -1.9v1.2m0 -0.8v1.2m0 -0.6v1.2m0 -0.4v2.1m0 -1.8v1.2m0 -0.9v1.2m0 -1.1v2.1m0 -1.7v1.2m0 -1.2v1.2m0 -0.7v2.1m0 -1.6v1.2m0 -0.3v2.1m0 -1.8v1.2m0 -0.8v2.1m0 -1.2v1.2m0 -1.1v2.1m0 -1.6v2.1m0 -2v1.2m0 -0.1v1.2m0 -0.9v2.1m0 -1.4v1.2m0 -0.2v1.2m0 -1.1v1.2m0 -1.1v1.2m0 -0.4v1.2m0 -1.1v1.2m0 -1.1v1.2m0 -1v1.2m0 -0.3v2.1m0 -1.5v1.2m0 -0.6v1.2m0 -1v1.2m0 -0.7v1.2m0 -1.1v1.2m0 0v1.2m0 -1.1v1.2m0 -1.1v1.2m0 -1.1v1.2m0 0.1v1.2m0 -0.9v2.1m0 -2v1.2m0 0v1.2m0 -0.9v1.2m0 -0.7v1.2m0 -0.5v1.2m0 -1.1v1.2m0 -1.1v1.2m0 -1.2v2.1m0 -1.9v1.2m0 -1.2v2.1m0 -2v1.2m0 -1v1.2m0 0v2.1m0 -1.5v2.1m0 -2v1.2m0 -1.1v1.2m0 -1v1.2m0 -0.1v2.1m0 -1.9v1.2m0 -1.1v2.1m0 -1.9v1.2m0 -1.2v1.2m0 -0.7v2.1m0 -2.1v1.2m0 -1v1.2m0 -1v2.1m0 -2v1.2m0 -0.8v1.2m0 -1v1.2m0 -0.8v1.2m0 -0.5v2.1m0 -1.7v1.2m0 -0.9v2.1m0 -1.4v2.1m0 -2v2.1m0 -1.7v1.2m0 -0.7v1.2m0 -1.1v1.2m0 -0.5v1.2m0 -0.3v1.2m0 -0.7v2.1m0 -2v2.1m0 -1.6v1.2m0 -0.9v1.2m0 -0.5v2.1m0 -0.8v1.2m0 -1.2v1.2m0 -1.1v1.2m0 -1.1v1.2m0 -1v1.2m0 -0.9v1.2m0 -1v1.2m0 -1.2v1.2m0 -0.2v1.2m0 -1v1.2m0 -0v2.1m0 -1.8v1.2m0 -1.1v1.2m0 -0.8v2.1m0 -1.6v1.2m0 -0.8v1.2m0 -0.9v1.2m0 -1v1.2m0 -0.9v2.1m0 -2v1.2m0 -1v1.2m0 -0.7v1.2m0 -0.6v1.2m0 -1v1.2m0 -1.2v1.2m0 -1v1.2m0 -0.9v1.2m0 -0.7v2.1m0 -1.7v1.2m0 -0.9v1.2m0 -1v1.2m0 -1.1v2.1m0 -1.4v1.2m0 -1.1v1.2m0 -0.9v2.1m0 -2.1v2.1m0 -1.7v1.2m0 -0.8v2.1m0 -1.9v1.2m0 -1.2v1.2m0 -0.1v1.2m0 -1.1v2.1m0 -0.9v1.2m0 -1.1v2.1m0 -1.1v1.2m0 -0.5v1.2m0 -0.5v1.2m0 -0.9v1.2m0 -1.1v1.2m0 -0.8v2.1m0 -1.8v2.1m0 -1.7v1.2m0 -0.8v1.2m0 -1v1.2m0 -1.1v2.1m0 -1.9v1.2m0 -0.4v1.2m0 -0.8v1.2m0 -1.2v1.2m0 -1.2v1.2m0 -0.9v1.2m0 -0.7v2.1m0 -1.3v1.2m0 -0.7v1.2m0 -0.8v1.2m0 -1.2v1.2m0 -1v1.2m0 -0.9v2.1m0 -2v1.2m0 -0.8v2.1m0 -1.9v1.2m0 -1.2v2.1m0 -1.7v1.2m0 -0.9v2.1m0 -1.5v1.2m0 -1.2v1.2m0 -0.6v1.2m0 -1v1.2m0 -0.8v1.2m0 -1.1v1.2m0 -0.9v2.1m0 -1.3v1.2m0 -1v2.1m0 -1.9v1.2m0 -1v1.2m0 -0.8v1.2m0 -0.9v1.2m0 -0.7v1.2m0 -0.7v1.2m0 -1.1v1.2m0 -0.8v1.2m0 -0.8v2.1m0 -2v1.2m0 -0.4v2.1m0 -1.9v1.2m0 -1.1v1.2m0 -0.7v1.2m0 -0.1v1.2m0 -1.2v1.2m0 -0.6v1.2m0 -1.1v1.2m0 -1.2v1.2m0 -0.7v1.2m0 -1.2v1.2m0 -1.1v1.2m0 -1.1v2.1m0 -1.6v2.1m0 -1.1v1.2m0 -1v1.2m0 -0.4v1.2m0 -1v1.2m0 -0.6v1.2m0 -1.1v1.2m0 -1.1v1.2m0 -1v2.1m0 -1.7v1.2m0 -0.8v1.2m0 -1.1v2.1m0 -2v1.2m0 -1.1v1.2m0 -0.8v1.2m0 -0.6v1.2m0 -1.1v1.2m0 -1.2v2.1m0 -1.9v1.2m0 -1.1v1.2m0 -0.7v2.1m0 -1.9v1.2m0 -1.2v1.2m0 -1.1v1.2m0 -0.4v1.2m0 -1v2.1m0 -0.9v1.2m0 -0.9v1.2m0 -1.1v2.1m0 1.2v2.1m0 -1.9v1.2m0 -1v2.1m0 -0.9v1.2m0 -0.5v1.2m0 -0.9v2.1m0 -2v2.1m0 -1.5v2.1m0 -1.8v1.2m0 -1.1v1.2m0 -1.1v1.2m0 -0.7v1.2m0 -1v1.2m0 -1.2v1.2m0 -0.1v2.1m0 -1.5v1.2m0 -1v2.1m0 -2v1.2M526 16.1v2.1m0 -1.1v1.2m0 -1.1v1.2m0 0.2v1.2m0 -1.1v1.2m0 -0.8v1.2m0 -1.1v2.1m0 -2.1v1.2m0 -0.9v1.2m0 -1.2v1.2m0 -1v1.2m0 -0.9v2.1m0 -1.3v1.2m0 -0.7v1.2m0 -0.6v1.2m0 -0.8v2.1m0 -2.1v2.1m0 -2v1.2m0 -0.8v1.2m0 -0.3v1.2m0 -0.4v2.1m0 -1.7v1.2m0 -1v2.1m0 -1.8v1.2m0 -1.1v2.1m0 -2v1.2m0 -1.1v1.2m0 -0.7v1.2m0 -0.7v1.2m0 1.4v1.2m0 -1.1v1.2m0 -0.4v1.2m0 -1v1.2m0 -1.2v1.2m0 -1.1v1.2m0 -1.1v1.2m0 -1v1.2m0 -1v1.2m0 -1.2v1.2m0 -1.2v2.1m0 -1.9v1.2m0 -1v1.2m0 -1.1v1.2m0 -0.8v1.2m0 -1v1.2m0 -1.1v1.2m0 -1.2v2.1m0 -1.3v1.2m0 -0.9v1.2m0 -1.1v2.1m0 -1.7v2.1m0 -1.8v1.2m0 -1v1.2m0 -1v1.2m0 -0.8v1.2m0 -1.1v1.2m0 -0.3v1.2m0 -0.8v2.1m0 -2v1.2m0 -1.2v1.2m0 -0.8v1.2m0 -1.2v2.1m0 -2.1v1.2m0 -1v1.2m0 -1.2v1.2m0 -0.8v1.2m0 -1.2v2.1m0 -1v1.2m0 -1.2v1.2m0 -1.1v2.1m0 -1.9v1.2m0 -1.2v1.2m0 -0.6v1.2m0 -0.7v1.2m0 -0.9v2.1m0 -1.9v1.2m0 -1.2v1.2m0 -0.5v2.1m0 -1.3v2.1m0 -2v1.2m0 -0.8v1.2m0 -1.1v1.2m0 0.2v1.2m0 -1.1v1.2m0 -0.2v2.1m0 -2.1v1.2m0 -1.1v1.2m0 -1.2v1.2m0 -1v1.2m0 -1v1.2m0 -0.8v1.2m0 -0.8v1.2m0 -0.8v1.2m0 -0.9v1.2m0 -1.2v2.1m0 -1.8v1.2m0 -0.9v1.2m0 -1.1v1.2m0 -1.1v1.2m0 -1.1v2.1m0 -2.1v2.1m0 -0.9v1.2m0 -1.1v1.2m0 -1.1v2.1m0 -1.2v1.2m0 -0.9v2.1m0 -1.9v2.1m0 -2v1.2m0 -1.2v2.1m0 -2.1v1.2m0 -0.7v1.2m0 -0.5v1.2m0 -0.8v1.2m0 0.8v2.1m0 -1.7v1.2m0 -0.5v2.1m0 -0.8v1.2m0 0.3v1.2m0 -1.1v2.1m0 -1.5v2.1m0 -1.9v1.2m0 -0.6v1.2m0 -1.2v2.1m0 -1.9v1.2m0 -1.2v1.2m0 -1.1v1.2m0 -0.9v1.2m0 -0.8v2.1m0 -2.1v1.2m0 -1.1v2.1m0 -1.9v2.1m0 -1.9v1.2m0 -0.7v2.1m0 -1.9v1.2m0 -0.7v1.2m0 0.2v1.2m0 -1.1v1.2m0 -0.8v1.2m0 -0.8v2.1m0 -1.3v2.1m0 -1.4v2.1m0 -1.9v2.1m0 -2v2.1m0 -2v1.2m0 -0.1v1.2m0 -0.8v1.2m0 -0.8v1.2m0 -0.5v1.2m0 -1.2v1.2m0 -1.2v1.2m0 -1.2v1.2m0 -1.1v1.2m0 -1v1.2m0 -1.2v1.2m0 -1v1.2m0 -0.9v1.2m0 0.6v1.2m0 -1.1v1.2m0 -1v1.2m0 -1.1v1.2m0 -0.6v2.1m0 -1v1.2m0 -1v1.2m0 -1.1v1.2m0 -1.1v1.2m0 -1v1.2m0 -1v1.2m0 -1v2.1m0 -1.9v1.2m0 -1.1v1.2m0 -0.7v1.2m0 -1.1v1.2m0 -0.9v1.2m0 -1.1v1.2m0 -1.1v2.1m0 -1.6v1.2m0 -1v1.2m0 -0.5v2.1m0 -2v1.2m0 -1.1v1.2m0 -0.7v1.2m0 -0.9v2.1m0 -0.7v1.2m0 -1.2v1.2m0 -0.9v1.2m0 -0.7v1.2m0 -0.8v2.1m0 -1.9v1.2m0 -1.1v1.2m0 -1.1v1.2m0 -0.6v1.2m0 -0.1v1.2m0 -0.9v1.2m0 -0.9v1.2m0 -1.1v1.2m0 -1.1v1.2m0 0v1.2m0 -0.9v2.1m0 -1.7v1.2m0 -1v1.2m0 -0.9v1.2m0 -0.9v1.2m0 -1.2v1.2m0 -1v1.2m0 -0.9v2.1m0 -1.8v1.2m0 -1.1v2.1m0 -2v1.2m0 -0.8v1.2m0 -1.1v1.2m0 -0.3v1.2m0 -1v1.2m0 -1.1v1.2m0 -1v2.1m0 -2v1.2m0 -1v1.2m0 -0.5v1.2m0 -1.1v2.1m0 -2.1v1.2m0 0.4v1.2m0 -0.9v1.2m0 -0.8v1.2m0 -1.1v1.2m0 -0.5v1.2m0 -0.9v1.2m0 -0.4v2.1m0 -1.8v2.1m0 -1.8v1.2m0 -1.1v1.2m0 -1.1v1.2m0 -0.7v1.2m0 -0.8v2.1m0 -1.4v1.2m0 -0.1v1.2m0 -0.8v1.2m0 -0.8v2.1m0 -2v2.1m0 -1.8v2.1m0 -1.4v1.2m0 -0.9v1.2m0 -0.7v2.1m0 -1.8v1.2m0 -0.6v1.2m0 -1.1v2.1m0 -1.3v2.1m0 -1.5v1.2m0 -1v2.1m0 -2v1.2m0 -1v2.1m0 -2v1.2m0 -0.6v1.2m0 -1v1.2m0 -0.3v2.1m0 -1.8v1.2m0 -1.1v2.1m0 -1.9v1.2m0 -0.8v1.2m0 -0.7v1.2m0 -0.9v1.2m0 0.4v1.2m0 -0.1v2.1m0 -1.7v1.2m0 -1.1v1.2m0 -0.9v1.2m0 -1.2v1.2m0 -0.7v1.2m0 -0.9v1.2m0 -0.9v1.2m0 -0.7v2.1m0 -1.5v2.1m0 -1.8v2.1m0 -2.1v1.2m0 -0.8v1.2m0 -1v1.2m0 -0.8v2.1m0 -1.4v2.1m0 -1.6v1.2m0 -0.1v1.2m0 -0.4v1.2m0 -0.6v2.1m0 -1.9v1.2m0 -0.7v1.2m0 -1.2v1.2m0 -1v2.1m0 -2v1.2m0 -0.4v1.2m0 -0.8v2.1m0 -1.5v1.2m0 -0.7v1.2m0 -1.2v1.2m0 -1.1v1.2m0 -1v1.2m0 -1.2v1.2m0 -1.2v2.1m0 -1.6v1.2m0 -1.2v1.2m0 -0.8v1.2m0 -0.6v1.2m0 -0.6v1.2m0 -1.2v1.2m0 -1v1.2m0 -0.7v1.2m0 0.2v1.2m0 -1.1v1.2m0 -1.1v1.2m0 -0.3v2.1m0 -2v2.1m0 -1.7v1.2m0 -1v1.2m0 -0.6v1.2m0 -1v1.2m0 0v1.2m0 -0.9v2.1m0 -1.8v1.2m0 -1.1v2.1m0 -1.9v2.1m0 -2v1.2m0 -1.1v2.1m0 -1.7v1.2m0 -0.9v2.1m0 -1.4v1.2m0 -1.2v1.2m0 -1v1.2m0 -0v1.2m0 -1.2v1.2m0 0.5v1.2m0 -0.7v1.2m0 -1.1v2.1m0 -2v1.2m0 -1.1v1.2m0 -0.8v1.2m0 -0.4v1.2m0 -1.1v1.2m0 -1.1v1.2m0 -0.7v2.1m0 -1.7v1.2m0 -0.8v2.1m0 -1.7v2.1m0 -1.1v2.1m0 -2.1v1.2m0 -0.8v1.2m0 -1.1v1.2m0 -0.4v2.1m0 -1.7v1.2m0 -1.1v1.2m0 -0.9v1.2m0 -0.9v1.2m0 -1v2.1m0 -1.8v2.1m0 -1.6v2.1m0 -1.8v2.1m0 -1.4v1.2m0 -0.7v1.2m0 -1.2v1.2m0 -1.1v1.2m0 -0.9v1.2m0 -0.1v1.2m0 -0.8v1.2m0 -1v2.1m0 -1.4v1.2m0 -1.1v1.2m0 -1v1.2m0 -0.5v2.1m0 -1.3v1.2m0 -1.1v1.2m0 -1.2v1.2m0 -0.2v2.1m0 -1.2v1.2m0 -1.1v1.2m0 -1v1.2m0 -0.2v1.2m0 -1v2.1m0 -1.9v1.2m0 -1.2v1.2m0 -1.2v1.2m0 -1.2v2.1m0 -1.9v2.1m0 -1.6v1.2m0 -0.9v1.2m0 -1.1v1.2m0 0.2v1.2m0 -1.1v1.2m0 -1v1.2m0 -0.8v1.2m0 -0.6v1.2m0 -0.8v1.2m0 -1.2v1.2m0 -0.7v2.1m0 -1.9v1.2m0 -0.9v2.1m0 -1.9v1.2m0 -1.2v2.1m0 -1.7v1.2m0 -1.2v1.2m0 -1.2v1.2m0 -1.1v2.1m0 -1.4v1.2m0 -0.4v1.2m0 -0.2v2.1m0 -2v1.2m0 -0.8v1.2m0 -0.6v1.2m0 -1.1v1.2m0 -1.1v1.2m0 -0.7v1.2m0 -1.1v1.2m0 -0.8v1.2m0 -0.7v1.2m0 -1.1v1.2m0 -0.7v1.2m0 -1.1v2.1m0 -0.9v1.2m0 -0.8v2.1m0 -1.8v2.1m0 -1.8v1.2m0 -0.9v2.1m0 -1.9v2.1m0 -2v1.2m0 -1.1v1.2m0 -0.6v1.2m0 -0.7v1.2m0 -0.9v1.2m0 -0.9v1.2m0 -0.9v1.2m0 -1.1v1.2m0 -1v1.2m0 -0.7v2.1m0 -1.1v1.2m0 -1.1v1.2m0 -0.6v1.2m0 -0.8v1.2m0 -0.2v1.2m0 -0v2.1m0 -1.8v1.2m0 -0.7v2.1M527 18.4v2.1m0 0.1v1.2m0 0.9v1.2m0 -0.5v1.2m0 0.7v2.1m0 -0.5v1.2m0 -0.1v1.2m0 4.6v1.2m0 -1.2v2.1m0 -0.7v1.2m0 -0.5v1.2m0 2.6v1.2m0 0.4v1.2m0 0.5v1.2m0 -0.1v1.2m0 -0.5v1.2m0 -0.5v2.1m0 -1v2.1m0 -1.5v1.2m0 0.6v1.2m0 -0.9v2.1m0 -1.7v1.2m0 -1.1v1.2m0 0.9v1.2m0 0.9v1.2m0 1.5v1.2m0 -0.7v1.2m0 -0.8v2.1m0 -1.6v1.2m0 3.1v1.2m0 -0.5v2.1m0 -1.7v2.1m0 -0v1.2m0 -0.4v1.2m0 2.4v1.2m0 -1.1v1.2m0 -0.7v1.2m0 -1.1v1.2m0 -0.8v1.2m0 0.4v1.2m0 -0.6v1.2m0 1v2.1m0 -1.9v1.2m0 -1v1.2m0 1.2v1.2m0 11.5v1.2m0 3v1.2m0 2v1.2m0 -0.6v1.2m0 -0.3v1.2m0 1.1v2.1m0 3.4v1.2m0 0.2v1.2m0 2.2v2.1m0 -1.5v1.2m0 -0.4v1.2m0 1.1v1.2m0 -1.1v1.2m0 0.3v2.1m0 0.6v2.1m0 0.4v2.1m0 -1.8v2.1m0 2.3v1.2m0 -0.9v1.2m0 1.9v1.2m0 3.4v2.1m0 -1.7v1.2m0 -0.8v2.1m0 -1.3v2.1m0 -1.5v2.1m0 2.7v1.2m0 1v1.2m0 0.3v1.2m0 -0v1.2m0 -0.6v1.2m0 0.1v1.2m0 -0.7v2.1m0 -1.7v1.2m0 1.3v2.1m0 -0.9v2.1m0 0.4v1.2m0 0.6v1.2m0 1v1.2m0 -0.9v1.2m0 -0.4v1.2m0 -1v2.1m0 -1.5v1.2m0 -0.3v1.2m0 0.1v2.1m0 -1.4v2.1m0 -1v1.2m0 -1.1v2.1m0 3.3v1.2m0 3.3v1.2m0 -0.9v1.2M528 16.1v1.2m0 1.2v1.2m0 6.2v1.2m0 -0.4v1.2m0 3v1.2m0 -1v1.2m0 1.7v1.2m0 -1v2.1m0 -1.9v1.2m0 -0.4v1.2m0 5.4v2.1m0 1.3v1.2m0 0.2v2.1m0 -0.7v2.1m0 1.4v1.2m0 -1.2v1.2m0 0.2v1.2m0 -0.5v1.2m0 -0.9v1.2m0 4.1v2.1m0 -1.6v2.1m0 -1v1.2m0 -0.6v1.2m0 1.2v1.2m0 1.4v2.1m0 4.6v1.2m0 -0.3v1.2m0 0.5v2.1m0 8.1v1.2m0 2.2v1.2m0 -0.9v2.1m0 -1.7v1.2m0 -0.9v1.2m0 0.5v1.2m0 1.1v2.1m0 -0.1v2.1m0 -2v1.2m0 1.7v1.2m0 3.4v2.1m0 -0.5v2.1m0 0.2v1.2m0 -0.5v1.2m0 4.6v1.2m0 0.4v1.2m0 3.6v2.1m0 1.8v1.2m0 -1.1v2.1m0 -1.3v1.2m0 1.2v1.2m0 -1.2v2.1m0 -2.1v2.1m0 3v2.1m0 0.1v1.2m0 -0.7v1.2m0 1.9v2.1m0 -2v2.1m0 -1v1.2m0 -1.2v2.1m0 4.6v1.2m0 -0.7v1.2m0 -1.2v2.1m0 0v1.2m0 -0.2v2.1m0 -1.6v2.1m0 -1v1.2m0 -1.2v1.2m0 -0.6v1.2m0 -0.3v2.1m0 -1.1v1.2m0 -0.9v1.2m0 -1.1v1.2m0 -0.5v1.2m0 1.6v2.1m0 -1.2v1.2m0 5v1.2m0 -0.5v1.2m0 -0.1v1.2m0 0.6v1.2m0 -0.8v1.2m0 -0.1v2.1m0 -1.7v1.2m0 0.4v1.2m0 0.6v2.1m0 -1.5v1.2m0 1.4v2.1m0 -2v1.2M529 17.5v1.2m0 -0.2v2.1m0 -0.7v1.2m0 -1.2v1.2m0 -0.3v1.2m0 -1v1.2m0 0.1v2.1m0 -1.6v1.2m0 -0.8v1.2m0 0.7v1.2m0 1.6v1.2m0 -0.6v1.2m0 -0.4v1.2m0 4.1v1.2m0 1.5v1.2m0 5.6v1.2m0 -1v1.2m0 -0.5v1.2m0 -0.8v1.2m0 -0.1v1.2m0 -0.6v1.2m0 -0.3v1.2m0 0.9v1.2m0 1.9v1.2m0 0.2v1.2m0 0.9v2.1m0 -1.4v1.2m0 -0.1v1.2m0 -0.8v1.2m0 3.3v2.1m0 -0.4v1.2m0 4.4v1.2m0 0.2v1.2m0 1.4v2.1m0 -1v1.2m0 -0.7v1.2m0 0.4v1.2m0 0.4v1.2m0 -0.1v1.2m0 -0.4v2.1m0 2.5v1.2m0 -0.8v1.2m0 2.6v2.1m0 -0.2v1.2m0 -1.2v2.1m0 1.5v2.1m0 -1.3v1.2m0 3.7v2.1m0 -1v1.2m0 -1.2v1.2m0 -0.9v2.1m0 7.4v1.2m0 -1v1.2m0 -0.6v1.2m0 -0.8v2.1m0 -1.3v1.2m0 1.5v1.2m0 -0.5v1.2m0 -0.8v1.2m0 -0.2v2.1m0 -1.5v1.2m0 -1.1v1.2m0 -1.2v1.2m0 1.4v2.1m0 0.6v1.2m0 -0.7v1.2m0 -0.9v1.2m0 -0.1v1.2m0 0.7v1.2m0 -0.6v2.1m0 0.6v1.2m0 -1v2.1m0 -1v1.2m0 2.3v2.1m0 0.8v1.2m0 0.5v2.1m0 1.2v1.2m0 1.4v2.1m0 -1.4v1.2m0 -0.2v1.2m0 2.8v2.1m0 -0.3v1.2m0 -1v1.2m0 -1.2v2.1m0 -0.3v1.2m0 -0.1v1.2m0 -0.4v1.2m0 -0.2v2.1m0 -1.6v1.2m0 -0.7v2.1m0 -0.3v2.1m0 -0.7v1.2m0 -0.2v1.2m0 -0.4v1.2m0 0.8v1.2m0 -0.8v2.1m0 -0.3v1.2m0 1.7v1.2m0 -1.1v1.2m0 -1v1.2m0 -0.2v2.1m0 -0.7v1.2m0 -0.1v1.2M530 18.3v1.2m0 -0.5v2.1m0 -0.5v2.1m0 3.7v1.2m0 1.5v1.2m0 -1.1v2.1m0 -1.8v1.2m0 2.5v1.2m0 -1.1v2.1m0 -1.9v1.2m0 1.4v2.1m0 -1.4v1.2m0 -0.9v1.2m0 -0.6v2.1m0 -0.2v1.2m0 -0.6v1.2m0 -0.5v2.1m0 -0.4v2.1m0 -0.7v1.2m0 0.2v1.2m0 -1.1v1.2m0 3.3v1.2m0 -0.8v2.1m0 -1.1v1.2m0 1.6v1.2m0 3v2.1m0 -1.2v2.1m0 -1.7v1.2m0 -0.3v2.1m0 2v1.2m0 -1v2.1m0 -1.9v2.1m0 -0.8v1.2m0 -1v1.2m0 -0.2v1.2m0 -0.6v1.2m0 -0.6v1.2m0 0.2v1.2m0 6.3v1.2m0 3.3v1.2m0 1.3v1.2m0 -0.7v1.2m0 -0.9v1.2m0 0.3v1.2m0 -0.9v2.1m0 -2v2.1m0 1.2v1.2m0 1.1v1.2m0 1.4v1.2m0 2.9v2.1m0 0.5v1.2m0 -0.1v1.2m0 -0.6v1.2m0 2.2v1.2m0 0.2v1.2m0 -0.6v1.2m0 0.1v1.2m0 6.3v2.1m0 4.5v1.2m0 -1.1v1.2m0 -1.1v1.2m0 -0.8v1.2m0 3.3v2.1m0 -1.2v1.2m0 -1.1v1.2m0 -0.6v2.1m0 -2v2.1m0 -1.5v1.2m0 -1.1v1.2m0 2.5v1.2m0 -1.2v1.2m0 -1v1.2m0 -0.2v1.2m0 -0.4v1.2m0 -0.8v2.1m0 -2v2.1m0 -1.2v2.1m0 -1.8v2.1m0 1.8v2.1m0 0.4v1.2m0 1.7v1.2m0 -0.8v1.2m0 -0.8v1.2m0 1.5v2.1m0 -0v1.2m0 -0.9v1.2m0 0.2v1.2m0 2v2.1m0 -0.6v1.2m0 -0.7v1.2m0 0.5v1.2m0 -1.1v1.2m0 1.1v2.1m0 -1.6v1.2m0 0.2v1.2m0 -0.7v2.1m0 -1.3v2.1m0 -1.6v2.1m0 -0.6v1.2m0 -0.7v2.1m0 4.1v1.2M531 18v1.2m0 3.4v1.2m0 -0.5v2.1m0 1.4v1.2m0 -0.9v2.1m0 -1.9v1.2m0 16.9v1.2m0 0.2v2.1m0 -0v1.2m0 -0.9v1.2m0 2.4v1.2m0 -0.8v2.1m0 -1.7v2.1m0 -1.2v1.2m0 -0.9v2.1m0 6.2v1.2m0 -0.2v1.2m0 -1.1v1.2m0 1.8v2.1m0 5.4v2.1m0 -1.1v2.1m0 3.7v1.2m0 -1v1.2m0 -0.4v1.2m0 -0.3v1.2m0 0.1v2.1m0 -1.7v1.2m0 0.6v1.2m0 -0.5v1.2m0 -0.6v1.2m0 1.7v1.2m0 0.7v1.2m0 -0.1v1.2m0 1.5v1.2m0 0.7v1.2m0 0.8v2.1m0 -1.1v1.2m0 4.1v1.2m0 0.1v1.2m0 -1v1.2m0 -0v2.1m0 -0.3v1.2m0 0.4v1.2m0 0.8v1.2m0 -0.7v1.2m0 1.3v1.2m0 2.2v1.2m0 -0.7v2.1m0 -1.2v2.1m0 -1.3v2.1m0 4.7v1.2m0 3.2v2.1m0 0.3v1.2m0 -0.3v1.2m0 0.9v1.2m0 -0.9v1.2m0 2v1.2m0 -1v1.2m0 0.5v2.1m0 6.2v1.2m0 1.5v1.2m0 2.8v1.2m0 -0.9v1.2m0 1.1v1.2m0 0.5v1.2m0 0.9v1.2m0 0.1v1.2m0 0.1v1.2m0 -1.1v1.2m0 5.1v1.2m0 0.4v1.2M532 17.1v1.2m0 0.8v1.2m0 -0.9v2.1m0 -0.2v1.2m0 0.7v2.1m0 -0.5v2.1m0 -1.9v1.2m0 0.1v2.1m0 -2v1.2m0 0.1v1.2m0 -0.3v1.2m0 -0.9v1.2m0 0.9v2.1m0 -0.6v1.2m0 -0.1v1.2m0 -0.9v1.2m0 0.2v1.2m0 0.9v2.1m0 -1.9v1.2m0 -0.1v2.1m0 2.7v1.2m0 -0.8v1.2m0 -0.4v1.2m0 0.7v1.2m0 -1v1.2m0 0.1v2.1m0 -2v1.2m0 1v1.2m0 3.3v2.1m0 5.3v1.2m0 2.5v1.2m0 0.1v1.2m0 -0.1v1.2m0 3.4v1.2m0 0.4v2.1m0 0.8v2.1m0 -1.3v1.2m0 0.3v1.2m0 1.3v1.2m0 -0.3v1.2m0 -0.8v1.2m0 -0.6v1.2m0 0.1v2.1m0 -1.7v1.2m0 -1v2.1m0 -1.3v1.2m0 -0.7v2.1m0 0.2v1.2m0 1.7v1.2m0 0.2v2.1m0 -1.6v1.2m0 0.4v2.1m0 -1.3v1.2m0 -0.2v1.2m0 1v1.2m0 0.3v1.2m0 1.4v1.2m0 -0.3v2.1m0 -1.9v1.2m0 -1.2v1.2m0 -1.1v1.2m0 -0.6v2.1m0 -2v2.1m0 -2.1v1.2m0 -1.1v1.2m0 -1.1v1.2m0 -0.9v2.1m0 -1.5v1.2m0 -1.2v1.2m0 -0.9v1.2m0 -0.6v1.2m0 -0.4v1.2m0 -0.2v1.2m0 1.2v2.1m0 -1.6v1.2m0 0.6v1.2m0 -1v1.2m0 -0.7v2.1m0 1.1v1.2m0 0.5v1.2m0 -0.9v1.2m0 1.1v1.2m0 -1.2v1.2m0 -0.2v1.2m0 -0.9v1.2m0 0v1.2m0 1.1v1.2m0 -1.2v2.1m0 -1.8v1.2m0 -0.5v1.2m0 0.1v1.2m0 0.7v2.1m0 -2v2.1m0 -2v1.2m0 1.3v2.1m0 -0.5v1.2m0 -0.5v1.2m0 -0.9v1.2m0 2.7v1.2m0 -0.1v1.2m0 -0.6v1.2m0 -1.1v1.2m0 -0.1v1.2m0 -0.7v1.2m0 -0.8v1.2m0 2.2v2.1m0 -0.7v1.2m0 0v1.2m0 -0v2.1m0 -0.1v1.2m0 1.3v2.1m0 -1.3v1.2m0 -1v1.2m0 3v1.2m0 -0.2v1.2m0 -0.4v2.1m0 -1.6v2.1m0 2.9v2.1m0 1.7v1.2m0 -0.4v2.1m0 -2v1.2m0 -0.3v1.2m0 -0v2.1m0 -1.5v1.2m0 -0.4v1.2m0 -1.1v1.2m0 -0.4v1.2m0 -1.1v1.2M533 16.3v1.2m0 -0.7v2.1m0 -0.8v1.2m0 -0.5v2.1m0 -1.7v1.2m0 -1.2v1.2m0 -0.6v2.1m0 0.7v1.2m0 -1v1.2m0 -0.9v1.2m0 2.2v2.1m0 -1.2v1.2m0 0.9v2.1m0 0.4v1.2m0 0.2v1.2m0 -1.1v1.2m0 -0.7v1.2m0 0.5v1.2m0 0.6v1.2m0 -1.1v1.2m0 4v1.2m0 -0.6v2.1m0 -0.3v2.1m0 -0.9v1.2m0 1.2v2.1m0 0.7v2.1m0 -1.7v1.2m0 -0.3v1.2m0 0.1v1.2m0 1v1.2m0 1.8v1.2m0 0.6v2.1m0 1.9v2.1m0 3.8v1.2m0 -0.4v1.2m0 0v1.2m0 -1.1v1.2m0 0.3v2.1m0 -0.9v2.1m0 -0.4v2.1m0 -1.5v1.2m0 -1v2.1m0 -2.1v1.2m0 1.3v1.2m0 3.2v1.2m0 4.4v2.1m0 -1.6v2.1m0 -1.9v2.1m0 -0.2v1.2m0 1.5v1.2m0 0v1.2m0 0.2v1.2m0 0.2v2.1m0 -1.5v1.2m0 -0.8v1.2m0 2.2v1.2m0 12.1v1.2m0 0.5v1.2m0 0.3v1.2m0 4.2v1.2m0 -0.4v1.2m0 0.5v1.2m0 0.1v1.2m0 2.8v1.2m0 5.6v2.1m0 -1.4v2.1m0 -1v1.2m0 0.2v1.2m0 -0.1v2.1m0 -1.9v1.2m0 -0.1v1.2m0 1.8v1.2m0 0.3v2.1m0 5.6v2.1m0 -0.1v1.2m0 0.1v1.2m0 4v1.2m0 5.6v2.1m0 -1.2v2.1m0 -1.4v2.1M534 16.9v1.2m0 0.1v1.2m0 -0.7v2.1m0 3.2v1.2m0 0.5v2.1m0 -1.7v1.2m0 5.2v2.1m0 -1.9v1.2m0 0.9v1.2m0 -0.8v1.2m0 2.6v1.2m0 1.2v1.2m0 0.3v1.2m0 0.3v2.1m0 0.8v1.2m0 -1.2v1.2m0 -0.4v2.1m0 1.4v1.2m0 -0.1v2.1m0 -1.3v2.1m0 -1.6v1.2m0 2.1v1.2m0 0.4v1.2m0 -0.9v2.1m0 -1.5v2.1m0 0.2v1.2m0 0.9v1.2m0 5.7v1.2m0 -0.9v1.2m0 2v1.2m0 -0.7v2.1m0 5.4v1.2m0 -0.4v1.2m0 -0.5v2.1m0 2.8v1.2m0 6.2v2.1m0 -1.4v2.1m0 -1.1v2.1m0 0.1v2.1m0 0.5v2.1m0 0.6v1.2m0 -0.9v1.2m0 3v1.2m0 -0.4v1.2m0 5.9v1.2m0 -0.9v1.2m0 0.9v1.2m0 -0.1v1.2m0 -1v2.1m0 1v1.2m0 5.8v1.2m0 2.1v2.1m0 12.7v1.2m0 1.4v2.1m0 -0.5v2.1m0 -1.5v1.2m0 4v1.2m0 -0.8v1.2m0 1.1v2.1m0 -1.3v1.2m0 -0.9v1.2m0 5.1v1.2m0 2v1.2m0 -1.1v1.2m0 2.6v1.2M535 15.9v1.2m0 0.3v1.2m0 2.7v1.2m0 4.1v2.1m0 -1.3v1.2m0 0.7v1.2m0 0.7v1.2m0 1.3v1.2m0 -1.2v1.2m0 0.6v2.1m0 -2.1v1.2m0 0.6v1.2m0 -0.9v2.1m0 -0.7v1.2m0 1.1v2.1m0 0.1v1.2m0 -1.1v1.2m0 2.2v1.2m0 0.1v1.2m0 -1.1v1.2m0 0.1v1.2m0 -1.1v1.2m0 -0.5v1.2m0 2.1v1.2m0 1.8v2.1m0 -1.6v1.2m0 -0.1v2.1m0 0.6v1.2m0 -1v2.1m0 -0.3v1.2m0 2.9v1.2m0 -0.7v1.2m0 1.3v2.1m0 2.1v1.2m0 2.9v2.1m0 0.3v2.1m0 -1.8v1.2m0 1.5v1.2m0 0.6v1.2m0 1.8v1.2m0 0.5v1.2m0 2.1v1.2m0 -1v1.2m0 1.1v2.1m0 -1.4v1.2m0 0.2v1.2m0 0.5v1.2m0 4.2v2.1m0 -1v2.1m0 0v1.2m0 -0.4v1.2m0 0.2v1.2m0 1.4v2.1m0 0.2v2.1m0 -1.6v2.1m0 3.5v1.2m0 0.3v1.2m0 5.6v1.2m0 0.9v2.1m0 -0.7v1.2m0 -0.7v2.1m0 -1.4v2.1m0 4.2v1.2m0 -1v1.2m0 -0.7v2.1m0 0.1v1.2m0 0.9v1.2m0 4.8v2.1m0 -1v1.2m0 -0.2v1.2m0 2.7v1.2m0 -0.5v1.2m0 -0.1v1.2m0 0.4v2.1m0 -1v2.1m0 -1.5v2.1m0 4.1v1.2m0 0.7v1.2m0 -0.5v2.1m0 1.7v1.2m0 -1.1v1.2m0 -0.3v2.1m0 -1v1.2M536 18.6v1.2m0 -0.4v1.2m0 -0.9v1.2m0 0.8v1.2m0 1.8v1.2m0 4.2v2.1m0 -0.9v2.1m0 -1.1v2.1m0 -0.8v2.1m0 -0.1v2.1m0 0.3v1.2m0 0.8v1.2m0 -0.5v1.2m0 4.6v1.2m0 13.6v1.2m0 3v1.2m0 5.2v1.2m0 1.9v1.2m0 11.1v1.2m0 -0.4v1.2m0 6.5v1.2m0 -1.1v1.2m0 1.2v1.2m0 1.8v1.2m0 3.5v1.2m0 2v1.2m0 5.7v1.2m0 -1v1.2m0 -0.7v2.1m0 -0.9v1.2m0 -0.9v1.2m0 -1.2v1.2m0 4.7v1.2m0 0.2v1.2m0 -1v2.1m0 -2.1v1.2m0 -0.6v1.2m0 3.5v1.2m0 0.3v1.2m0 2.8v1.2m0 3.1v1.2m0 -0.5v1.2m0 -0.6v1.2m0 4.2v1.2m0 0.8v1.2m0 -0.4v1.2m0 0.3v1.2m0 1.5v1.2m0 3.8v1.2m0 0.3v1.2m0 -0.7v2.1m0 0.1v2.1m0 -1.1v1.2m0 2.4v2.1m0 1v2.1m0 1.1v1.2M537 16v1.2m0 3.7v1.2m0 -1v2.1m0 -1.4v1.2m0 0.2v1.2m0 0.8v1.2m0 6.3v2.1m0 -1.6v2.1m0 0.1v2.1m0 5.1v1.2m0 0.1v2.1m0 -1.3v1.2m0 -1.1v2.1m0 -2v1.2m0 -1v2.1m0 -2v1.2m0 -0.3v1.2m0 2v1.2m0 0.6v2.1m0 -2v1.2m0 4.7v1.2m0 1.1v1.2m0 2.7v1.2m0 -1.2v2.1m0 0.4v1.2m0 3.2v1.2m0 0.9v1.2m0 1.5v1.2m0 0.5v1.2m0 1.6v1.2m0 -1.1v1.2m0 3v1.2m0 -1.2v2.1m0 -1.9v2.1m0 2.7v1.2m0 2.5v1.2m0 -1.1v1.2m0 -0.3v1.2m0 1.5v1.2m0 -0.7v1.2m0 0.2v1.2m0 -0.9v2.1m0 -2.1v1.2m0 -0.3v1.2m0 0.5v2.1m0 -1.9v1.2m0 4.9v1.2m0 -0.1v1.2m0 -1.2v1.2m0 -0.7v1.2m0 2.2v2.1m0 -1.6v1.2m0 -0.7v1.2m0 -1.2v1.2m0 4.5v1.2m0 2.5v1.2m0 3.2v1.2m0 5.4v1.2m0 3.2v1.2m0 0.5v2.1m0 0.8v2.1m0 3.5v1.2m0 0.8v1.2m0 0.3v1.2m0 -1.1v1.2m0 -1v1.2m0 3.7v1.2m0 2.3v2.1m0 -1.8v2.1m0 -1.3v1.2m0 -0.8v1.2m0 -0.2v1.2m0 -0.6v2.1m0 7.1v1.2M538 19.1v1.2m0 0.9v2.1m0 2.6v1.2m0 -0.8v1.2m0 -0v1.2m0 -0.9v1.2m0 3.6v2.1m0 -2v1.2m0 1v1.2m0 0.4v2.1m0 0.7v1.2m0 4.4v1.2m0 3.3v1.2m0 1.6v1.2m0 6.6v1.2m0 -0.7v1.2m0 -0.5v1.2m0 1v1.2m0 0.7v2.1m0 4.2v1.2m0 1.1v2.1m0 -0.8v1.2m0 0.4v1.2m0 -0.2v1.2m0 0.1v2.1m0 5.8v1.2m0 0v1.2m0 -0.9v1.2m0 0.1v1.2m0 -0.3v1.2m0 0.6v1.2m0 6.4v2.1m0 -1.5v2.1m0 0.4v1.2m0 -0.3v1.2m0 -0v1.2m0 6.5v2.1m0 2.8v2.1m0 3.9v1.2m0 0.1v1.2m0 1.5v1.2m0 11.5v2.1m0 0.8v2.1m0 -2v2.1m0 -0.5v1.2m0 -0.3v1.2m0 0.9v1.2m0 5v1.2m0 0.5v2.1m0 -2v2.1m0 -1.1v1.2m0 2.6v2.1m0 -0.1v1.2m0 -0.6v1.2m0 1v1.2m0 5.2v1.2m0 0.8v2.1m0 -1.8v1.2m0 -0.5v2.1m0 -1.3v1.2m0 -0.3v2.1m0 -1.1v1.2M539 19.3v2.1m0 -1.6v1.2m0 0.2v1.2m0 1.1v1.2m0 -0v1.2m0 0.4v2.1m0 0.6v1.2m0 3.7v1.2m0 -0.8v2.1m0 -0.4v1.2m0 0.3v1.2m0 0.3v2.1m0 -1.4v1.2m0 2.5v2.1m0 -2v1.2m0 2.3v2.1m0 -1.2v2.1m0 -1.2v1.2m0 1.6v1.2m0 3.2v1.2m0 0.6v1.2m0 1.1v2.1m0 -0.8v1.2m0 0.5v2.1m0 -0.2v1.2m0 -0.5v1.2m0 5.8v1.2m0 1.5v1.2m0 -0.8v2.1m0 5.3v2.1m0 -2.1v1.2m0 1.9v1.2m0 3.2v1.2m0 -1v1.2m0 -1.1v1.2m0 1.3v1.2m0 0.6v1.2m0 -1v1.2m0 -0.8v1.2m0 1.3v1.2m0 0.2v1.2m0 10.6v1.2m0 5.5v2.1m0 -0.5v1.2m0 -0.9v1.2m0 0.5v1.2m0 0.9v1.2m0 5v1.2m0 10.6v2.1m0 3v1.2m0 -1v1.2m0 0.5v1.2m0 2.5v1.2m0 -0.6v1.2m0 5.1v1.2m0 1.5v1.2m0 2.3v1.2m0 0.7v1.2m0 -0.4v1.2m0 -0.6v2.1m0 -0.3v1.2m0 1.6v2.1M540 15.9v1.2m0 0.6v1.2m0 0.8v1.2m0 3.6v1.2m0 -1v1.2m0 2.3v2.1m0 -1.3v1.2m0 0.6v1.2m0 -0.9v1.2m0 -0.6v1.2m0 -0.3v1.2m0 0.1v1.2m0 -0.5v2.1m0 0.5v1.2m0 -0.1v1.2m0 0.1v2.1m0 -0.3v1.2m0 -0.2v2.1m0 -0.6v2.1m0 -0v2.1m0 -1.3v2.1m0 -2.1v1.2m0 1.8v2.1m0 3.5v2.1m0 0.5v1.2m0 1.4v2.1m0 -0.7v1.2m0 -0.9v1.2m0 0.5v2.1m0 -0.4v1.2m0 -0.9v2.1m0 -0.1v2.1m0 -2v1.2m0 0.5v2.1m0 -1.7v2.1m0 -0.2v2.1m0 0.1v1.2m0 0.8v2.1m0 -1.5v1.2m0 0v1.2m0 -0.2v1.2m0 -1.2v1.2m0 6.3v1.2m0 0.6v2.1m0 -0.2v1.2m0 -1.1v2.1m0 -0.2v1.2m0 0v1.2m0 0.5v1.2m0 -0.6v2.1m0 2.9v1.2m0 4.2v2.1m0 -0.5v2.1m0 -2.1v1.2m0 4.2v1.2m0 5.5v1.2m0 -0.3v1.2m0 0.5v1.2m0 -0.3v1.2m0 2.8v2.1m0 -1.6v1.2m0 -1.1v2.1m0 -0.1v2.1m0 -1.8v1.2m0 -0.9v1.2m0 0.8v1.2m0 -0.2v1.2m0 -0.1v2.1m0 0v1.2m0 -0.4v1.2m0 -0.9v1.2m0 -1.2v2.1m0 -1.6v1.2m0 -0.6v1.2m0 -0.6v1.2m0 -1v1.2m0 1.3v1.2m0 -1.2v2.1m0 -1.8v2.1m0 -1.3v2.1m0 0.5v1.2m0 0.3v1.2m0 3.9v1.2m0 -1v1.2m0 -1.2v2.1m0 3.7v2.1m0 2.5v2.1m0 1.5v2.1m0 -1.6v1.2m0 -0.8v1.2m0 -0.5v1.2m0 1.2v2.1m0 -1.9v1.2m0 -0.9v2.1m0 -0.7v1.2m0 0.4v1.2M541 15.9v1.2m0 -0.1v1.2m0 3.2v1.2m0 -0.8v1.2m0 0.1v1.2m0 -0.8v1.2m0 4.2v1.2m0 1v2.1m0 3v1.2m0 2.4v1.2m0 -1v2.1m0 1.4v1.2m0 -1.1v1.2m0 -0.8v1.2m0 1.1v1.2m0 1.3v1.2m0 0v1.2m0 -0.6v1.2m0 0.6v1.2m0 2.2v2.1m0 -1.4v1.2m0 0.3v1.2m0 -0.2v1.2m0 -0.2v1.2m0 -1v1.2m0 2.2v1.2m0 -0.7v1.2m0 -0.6v1.2m0 -1v1.2m0 -1v1.2m0 -0.3v1.2m0 2.5v1.2m0 -0.1v1.2m0 0.1v1.2m0 -0v2.1m0 -1.6v1.2m0 -1v1.2m0 -0.8v1.2m0 3.8v1.2m0 -1v2.1m0 0.2v1.2m0 -1v1.2m0 1.2v1.2m0 0.8v1.2m0 3v1.2m0 0.5v1.2m0 -1.1v2.1m0 0v2.1m0 6.2v1.2m0 1.6v2.1m0 0v1.2m0 -0.4v1.2m0 -0.9v1.2m0 0.5v2.1m0 -2v1.2m0 -1v2.1m0 9.8v1.2m0 2.5v1.2m0 0v1.2m0 -0.7v2.1m0 -2v1.2m0 2.1v1.2m0 -1.1v1.2m0 1.9v1.2m0 0.6v1.2m0 -0.7v2.1m0 -0.3v1.2m0 6.3v2.1m0 2.6v1.2m0 2.5v2.1m0 1.6v1.2m0 3.5v1.2m0 -0.7v1.2m0 1.2v1.2m0 0.5v2.1m0 -0v1.2m0 1.3v2.1m0 -0.2v2.1m0 -1v1.2m0 -0.4v2.1M542 19.8v1.2m0 2.9v2.1m0 -1.3v1.2m0 -0.8v1.2m0 -0.5v2.1m0 -0.6v1.2m0 4.6v2.1m0 -0.2v2.1m0 1.1v1.2m0 4.2v1.2m0 0.4v1.2m0 -0v1.2m0 1.2v2.1m0 -0.5v1.2m0 2.1v1.2m0 3.1v2.1m0 -1.2v1.2m0 -0.1v1.2m0 1.9v1.2m0 15.8v1.2m0 0v1.2m0 -1.1v1.2m0 -1v2.1m0 -0.7v2.1m0 4.5v2.1m0 -1.2v1.2m0 1.9v2.1m0 2.4v1.2m0 1.5v1.2m0 4v2.1m0 1.2v1.2m0 -0.1v1.2m0 0.6v1.2m0 0v1.2m0 -0.2v1.2m0 1.8v1.2m0 3.5v2.1m0 4.4v1.2m0 4.6v1.2m0 1v1.2m0 1.6v1.2m0 -1v2.1m0 0.5v1.2m0 2.5v1.2m0 0.6v1.2m0 3.2v2.1m0 -1.3v1.2m0 -0.8v2.1m0 -1.5v1.2m0 7.8v1.2m0 -0.6v1.2m0 7.6v1.2m0 3.6v1.2M543 20v2.1m0 -1.7v2.1m0 -1.7v1.2m0 0.5v1.2m0 -0.4v2.1m0 1.1v1.2m0 0.3v1.2m0 -0.6v1.2m0 1.8v1.2m0 4v1.2m0 3.6v2.1m0 -0.4v2.1m0 -0.7v2.1m0 -0.7v1.2m0 4.2v1.2m0 3.3v1.2m0 2.1v1.2m0 5.4v1.2m0 3.7v1.2m0 10.9v1.2m0 5.3v2.1m0 10.1v2.1m0 -0.3v1.2m0 1.3v1.2m0 -1v1.2m0 3v1.2m0 0.7v1.2m0 0.9v1.2m0 2.5v1.2m0 5.7v1.2m0 12v1.2m0 5.2v1.2m0 3.8v1.2m0 1.7v2.1m0 1.4v1.2m0 12v1.2m0 4.3v1.2m0 -0.9v1.2M544 18.9v1.2m0 6.2v1.2m0 -0.2v1.2m0 -0.6v1.2m0 0.1v1.2m0 -1.2v1.2m0 -0.4v1.2m0 0.1v1.2m0 2v1.2m0 2.4v2.1m0 -0.1v1.2m0 -0.5v1.2m0 -0.6v1.2m0 0.4v2.1m0 -1.4v1.2m0 2.2v2.1m0 -1.2v1.2m0 -0.8v1.2m0 -0.1v1.2m0 1.4v1.2m0 2v1.2m0 -0.4v1.2m0 -0.7v1.2m0 0.6v1.2m0 3.6v1.2m0 -0.3v1.2m0 -0.9v1.2m0 2.3v1.2m0 -0.7v1.2m0 3.7v1.2m0 1.6v1.2m0 6.3v1.2m0 -0.4v2.1m0 -1.8v1.2m0 11.1v1.2m0 1.1v2.1m0 0.5v1.2m0 1.8v1.2m0 -1v2.1m0 -0.2v1.2m0 5.2v2.1m0 -1.8v2.1m0 4.2v1.2m0 1.8v1.2m0 4.9v1.2m0 -0.1v1.2m0 -0.3v2.1m0 3.5v2.1m0 -1.1v1.2m0 -1v1.2m0 13.1v1.2m0 -0.4v1.2m0 0.2v1.2m0 -1v1.2m0 -0.9v1.2m0 -0.2v1.2m0 -0.1v1.2m0 -0.8v1.2m0 4.6v1.2m0 0.3v1.2m0 8.9v1.2m0 -0.6v2.1M545 15.5v2.1m0 -1.5v1.2m0 -0.8v2.1m0 6.4v1.2m0 0.7v1.2m0 -0.1v2.1m0 3.5v1.2m0 3.2v1.2m0 -0.5v1.2m0 -1.1v1.2m0 -0.3v1.2m0 -0.6v1.2m0 1.2v1.2m0 0.1v1.2m0 1v1.2m0 4.1v1.2m0 0.8v1.2m0 -1v1.2m0 -1.1v1.2m0 1.8v2.1m0 0.6v2.1m0 -0.5v1.2m0 0.1v2.1m0 -1.6v1.2m0 0.4v2.1m0 -0.9v2.1m0 -1.6v2.1m0 1.8v1.2m0 4.4v2.1m0 -2.1v1.2m0 -1.1v2.1m0 0.3v1.2m0 4.6v2.1m0 0.3v1.2m0 4.3v2.1m0 -1.5v2.1m0 -1.5v1.2m0 -0.5v1.2m0 -0.8v2.1m0 -1.8v1.2m0 -0.6v1.2m0 -0.3v1.2m0 1.2v1.2m0 -0.9v1.2m0 1.4v2.1m0 -1.1v2.1m0 -2v2.1m0 -1.4v1.2m0 2.8v2.1m0 1.1v1.2m0 -1v1.2m0 1.4v1.2m0 3.3v1.2m0 0.8v2.1m0 0.6v1.2m0 1v1.2m0 -1.1v2.1m0 -0.9v1.2m0 -0.6v2.1m0 1.8v1.2m0 -0.6v1.2m0 -0.5v1.2m0 1.3v1.2m0 -1.2v1.2m0 0v2.1m0 -1.4v1.2m0 -0.8v1.2m0 0.1v1.2m0 3.2v2.1m0 1.2v1.2m0 5.8v1.2m0 2.5v1.2m0 -0.7v2.1m0 -2v1.2m0 0.3v2.1m0 -1.3v2.1m0 -1.3v2.1m0 -2.1v1.2m0 0.5v1.2m0 7.9v1.2m0 -0.9v1.2m0 1v1.2m0 -1.1v2.1m0 0.2v1.2m0 -0.8v2.1M546 17.1v1.2m0 0.6v1.2m0 3.2v2.1m0 3.9v2.1m0 0.6v2.1m0 -0.5v1.2m0 6.6v1.2m0 1.3v1.2m0 1.2v1.2m0 -0.8v1.2m0 2.3v1.2m0 -1.2v1.2m0 5.6v2.1m0 6.7v2.1m0 -2v1.2m0 2v1.2m0 1v1.2m0 4.4v1.2m0 10.2v1.2m0 8.8v1.2m0 2.6v1.2m0 0.7v1.2m0 0.8v1.2m0 0.3v2.1m0 -1.3v2.1m0 0.1v1.2m0 -0.2v2.1m0 -1.2v1.2m0 -0.2v1.2m0 1.4v1.2m0 3.6v2.1m0 4.6v1.2m0 2.6v1.2m0 4.9v2.1m0 0.3v1.2m0 4v1.2m0 5v2.1m0 -1.8v1.2m0 -0.9v2.1m0 -1.1v2.1m0 0.7v1.2m0 1v2.1m0 -0.3v1.2m0 4.5v1.2m0 -0.5v2.1m0 0.5v1.2m0 -1.1v1.2m0 3v2.1M547 19v1.2m0 1.1v1.2m0 -1.2v2.1m0 0.6v1.2m0 -0.2v1.2m0 1.2v1.2m0 0.3v2.1m0 -0.1v1.2m0 4v2.1m0 -0v1.2m0 4.2v2.1m0 -0.7v1.2m0 -0.8v2.1m0 -1.4v1.2m0 -0.7v1.2m0 -0.6v1.2m0 0.7v1.2m0 -1v1.2m0 2.8v1.2m0 3.9v1.2m0 3.9v1.2m0 0.7v1.2m0 4.8v1.2m0 -1.2v1.2m0 4.3v1.2m0 2.9v1.2m0 0.6v2.1m0 -1v1.2m0 1.8v2.1m0 -1v1.2m0 -0.7v1.2m0 -0.9v2.1m0 -1.8v1.2m0 0.7v2.1m0 0.3v1.2m0 -0.4v2.1m0 0.2v1.2m0 -0.2v1.2m0 0.3v2.1m0 -0.6v1.2m0 -0.6v1.2m0 0.5v2.1m0 -1.4v1.2m0 -1v1.2m0 -0.1v1.2m0 -1v1.2m0 4.9v1.2m0 1v1.2m0 4.8v2.1m0 -1.7v1.2m0 0.9v2.1m0 -0.1v2.1m0 -1.9v1.2m0 -0.7v1.2m0 -0.3v1.2m0 -0.9v1.2m0 2.6v2.1m0 -0.2v1.2m0 -0.5v1.2m0 -1v1.2m0 0.7v1.2m0 1.8v1.2m0 1.3v2.1m0 -1.9v1.2m0 3.6v1.2m0 3.9v2.1m0 2.9v2.1m0 -1.1v2.1m0 -0.9v1.2m0 -1.1v2.1m0 -1.3v2.1m0 5.9v1.2m0 -0v2.1m0 0.6v2.1m0 3v1.2m0 -0.1v1.2m0 0.9v2.1M548 18.4v1.2m0 0.9v1.2m0 -1v1.2m0 3.9v1.2m0 -0v1.2m0 1v1.2m0 -0.3v1.2m0 2.9v2.1m0 -1.4v1.2m0 -0.3v2.1m0 -1.8v2.1m0 -0.3v1.2m0 0.6v1.2m0 0.4v1.2m0 1.1v1.2m0 -0.2v1.2m0 -1v2.1m0 -1.8v2.1m0 -1.4v1.2m0 5.2v1.2m0 7.8v1.2m0 0.2v1.2m0 -1.1v1.2m0 12.7v2.1m0 5.8v1.2m0 4.2v1.2m0 0.6v1.2m0 -0.4v2.1m0 -1.7v1.2m0 -0.4v1.2m0 1.8v1.2m0 0.4v2.1m0 3.2v2.1m0 -0.6v1.2m0 0.5v1.2m0 1.3v1.2m0 7.6v1.2m0 1.1v1.2m0 -0.5v1.2m0 1.7v2.1m0 6v1.2m0 3.6v1.2m0 1v2.1m0 2.8v2.1m0 -2v1.2m0 2.3v1.2m0 -0.7v2.1m0 -0v1.2m0 10.4v2.1m0 -0.1v2.1m0 1.2v1.2m0 1v1.2m0 -0.3v1.2m0 -0.8v1.2m0 -0.5v2.1m0 2.7v1.2m0 -0.9v1.2m0 -0.9v1.2m0 -0.7v1.2M549 26.2v1.2m0 1.2v1.2m0 1.7v1.2m0 2.9v1.2m0 0.2v2.1m0 5.7v1.2m0 6.8v1.2m0 13.2v2.1m0 0.3v1.2m0 5.4v2.1m0 -0.5v1.2m0 -0.2v2.1m0 0.5v1.2m0 4.6v2.1m0 -0.6v1.2m0 3.5v1.2m0 -0.2v1.2m0 -1.1v1.2m0 2.2v1.2m0 -0.8v1.2m0 0.2v1.2m0 5v2.1m0 1.3v1.2m0 0.5v2.1m0 -1.6v1.2m0 -0.8v2.1m0 -2.1v1.2m0 -0.9v1.2m0 0.7v1.2m0 2.4v2.1m0 -0.9v1.2m0 3v1.2m0 -0.8v1.2m0 1v2.1m0 -0.6v1.2m0 0.8v1.2m0 -1.2v1.2m0 2.2v1.2m0 1.1v1.2m0 0.9v1.2m0 1.9v1.2m0 1.2v1.2m0 4.8v1.2m0 0.7v1.2m0 -0v1.2m0 2.4v1.2m0 -1.1v1.2m0 -0.7v1.2m0 3.4v2.1m0 -1.6v1.2m0 0.5v2.1m0 -1.9v1.2m0 2.2v2.1m0 -1.8v1.2m0 -1.1v1.2m0 -0.5v2.1m0 2v1.2m0 1.1v1.2M550 19.9v1.2m0 -0.1v1.2m0 0.2v1.2m0 1v1.2m0 -0.8v1.2m0 -0.7v1.2m0 -0.7v1.2m0 1.2v1.2m0 -0.7v1.2m0 -0.9v1.2m0 -0.2v2.1m0 3.1v1.2m0 -0.6v1.2m0 1.3v1.2m0 1v2.1m0 -2v1.2m0 1.7v2.1m0 -1.5v1.2m0 1.8v2.1m0 -1.6v1.2m0 2.5v1.2m0 -0.6v1.2m0 -1v1.2m0 -0.3v1.2m0 -0.5v1.2m0 -0.2v1.2m0 -1v1.2m0 1v1.2m0 1v1.2m0 0.5v1.2m0 1.8v1.2m0 3.7v2.1m0 1.4v1.2m0 -1.1v1.2m0 -1.1v1.2m0 2.8v2.1m0 -0.8v2.1m0 2v1.2m0 3.4v1.2m0 -0.8v1.2m0 -0.2v2.1m0 -1v1.2m0 0.7v1.2m0 5.1v1.2m0 -0.9v2.1m0 -1.7v2.1m0 -2.1v1.2m0 -0.8v1.2m0 -1v2.1m0 -1.3v1.2m0 -0.9v1.2m0 -0.3v1.2m0 4.6v1.2m0 0.4v1.2m0 -0.8v1.2m0 -0.5v1.2m0 3.8v1.2m0 -0.4v1.2m0 4v1.2m0 1.6v2.1m0 -1.7v1.2m0 -0.1v1.2m0 -0.5v1.2m0 -0.2v1.2m0 1.3v1.2m0 3.8v1.2m0 0.9v2.1m0 3.3v1.2m0 -0.4v1.2m0 0.8v1.2m0 -0.2v1.2m0 -0.9v1.2m0 3.6v1.2m0 1.1v1.2m0 -1v1.2m0 -0.8v2.1m0 -0.8v1.2m0 1.2v2.1m0 -0.6v2.1m0 -0.7v1.2m0 -1.2v2.1m0 2.8v2.1m0 0.9v1.2m0 1v1.2M551 19.2v1.2m0 -1.1v1.2m0 -0.7v1.2m0 4.2v1.2m0 -1v2.1m0 1.4v1.2m0 0.1v1.2m0 -0.5v1.2m0 -0.7v1.2m0 -0.5v2.1m0 2.8v1.2m0 0.6v1.2m0 -0.8v1.2m0 4.3v1.2m0 0.9v1.2m0 0.4v2.1m0 0.2v1.2m0 1.7v1.2m0 0.3v1.2m0 -0.7v1.2m0 1.7v2.1m0 2.6v1.2m0 1.5v1.2m0 2.4v1.2m0 3.4v1.2m0 -1.1v2.1m0 -2v1.2m0 -0.7v1.2m0 0.4v2.1m0 -1.4v2.1m0 -2v1.2m0 0.2v1.2m0 -1.1v2.1m0 -0.9v2.1m0 -0.9v2.1m0 -0.5v1.2m0 2.4v1.2m0 -0.3v2.1m0 5.1v1.2m0 -0.5v1.2m0 0.2v2.1m0 -1.2v2.1m0 0.7v2.1m0 0.3v1.2m0 -0.8v1.2m0 3.1v2.1m0 -0.8v1.2m0 0.4v1.2m0 -0.9v1.2m0 3.5v2.1m0 -1.2v2.1m0 1.5v1.2m0 0.7v1.2m0 -0.2v1.2m0 -0.6v2.1m0 -1.8v1.2m0 -1v1.2m0 0.9v1.2m0 0.8v2.1m0 -0.8v2.1m0 -1.2v1.2m0 -0.9v1.2m0 -1.1v1.2m0 1.5v2.1m0 -1.4v1.2m0 0.4v1.2m0 5.2v1.2m0 -0.8v1.2m0 -0.8v1.2m0 5.1v1.2m0 0.4v1.2m0 1.2v1.2m0 0.1v1.2m0 0.6v1.2m0 2.6v1.2m0 2.1v1.2m0 3.8v1.2m0 -1.1v1.2m0 -0.1v1.2m0 -0.3v1.2m0 -1.1v1.2m0 -0.7v2.1m0 -1.3v1.2m0 -0.9v2.1m0 -1.3v1.2m0 0.7v2.1m0 -2.1v1.2m0 -0.4v1.2M552 18.4v1.2m0 -0.5v1.2m0 -0.1v2.1m0 -2v1.2m0 0.4v1.2m0 0.4v1.2m0 -0.1v2.1m0 -1.3v1.2m0 3.7v2.1m0 -1.8v2.1m0 -0.8v1.2m0 -1.1v1.2m0 -0.6v1.2m0 1v1.2m0 0v1.2m0 -1.1v1.2m0 3.7v2.1m0 2.5v1.2m0 0.3v1.2m0 0.5v1.2m0 0.5v1.2m0 -0.7v2.1m0 1.3v1.2m0 -0.1v1.2m0 -0.4v1.2m0 -1.1v2.1m0 -1v2.1m0 -0.5v1.2m0 0.4v1.2m0 2.2v1.2m0 -0v1.2m0 7.6v2.1m0 3.2v2.1m0 -1.1v1.2m0 0.2v1.2m0 2.3v2.1m0 -0v2.1m0 2.1v1.2m0 1.5v1.2m0 0.8v1.2m0 -1.1v2.1m0 1.1v1.2m0 -1.1v1.2m0 2.7v1.2m0 10.3v1.2m0 0.6v1.2m0 -1v1.2m0 0.1v1.2m0 -0.6v1.2m0 10.7v1.2m0 -1.1v1.2m0 1v1.2m0 -0.7v2.1m0 5.9v1.2m0 1.4v1.2m0 0.2v1.2m0 1.8v1.2m0 3.2v1.2m0 3.5v1.2m0 -1.1v1.2m0 1.2v1.2m0 4.1v1.2m0 -0.2v1.2m0 3.1v1.2M553 15.4v1.2m0 2.4v2.1m0 -0.4v2.1m0 0.3v1.2m0 0.6v1.2m0 0v1.2m0 2.7v2.1m0 0.4v1.2m0 0.1v1.2m0 -1.1v1.2m0 2.5v1.2m0 0.4v1.2m0 0.3v2.1m0 -0.3v1.2m0 -1.1v2.1m0 6.4v1.2m0 -1.1v2.1m0 -1.2v1.2m0 -0.6v2.1m0 -1v2.1m0 -1.8v2.1m0 -2v1.2m0 -1.1v2.1m0 2.3v1.2m0 2v2.1m0 2.2v1.2m0 -1.1v1.2m0 -0.7v2.1m0 3.7v1.2m0 3.5v2.1m0 2.1v1.2m0 -0.9v1.2m0 3.2v1.2m0 9.5v1.2m0 2.6v1.2m0 -0.1v1.2m0 -0.8v2.1m0 -2v1.2m0 -0.2v1.2m0 1.8v1.2m0 1v1.2m0 0.5v1.2m0 1.1v1.2m0 2.3v1.2m0 -0.8v1.2m0 6.2v1.2m0 0.5v1.2m0 -0.8v1.2m0 5.4v1.2m0 -0.3v2.1m0 -0.9v1.2m0 3.1v1.2m0 0.6v2.1m0 -1.8v1.2m0 -0.1v2.1m0 1.1v2.1m0 -1.6v1.2m0 0.5v1.2m0 -0.5v2.1m0 -1.8v1.2m0 3.9v1.2m0 4.2v2.1m0 1.9v2.1m0 -1.2v1.2m0 7.2v2.1m0 0.4v1.2m0 0.8v1.2M554 17.3v1.2m0 1.1v2.1m0 -1.5v1.2m0 -0.9v1.2m0 1.6v2.1m0 -0.4v1.2m0 0.4v2.1m0 -1.5v1.2m0 -0.9v1.2m0 0.2v1.2m0 -0.1v2.1m0 -1v1.2m0 -0.9v1.2m0 0.6v2.1m0 -1.6v1.2m0 4.5v2.1m0 1.6v1.2m0 -0.9v1.2m0 2.3v1.2m0 -0.7v2.1m0 1.9v1.2m0 1.7v1.2m0 -0.8v2.1m0 -0.8v1.2m0 -0.7v1.2m0 -1.1v2.1m0 -2v1.2m0 -0v1.2m0 2.2v1.2m0 1.2v2.1m0 -2v2.1m0 -0.2v1.2m0 -0.1v1.2m0 0.4v1.2m0 -0.3v1.2m0 0.1v1.2m0 0.1v1.2m0 -0.8v2.1m0 -2v1.2m0 -0.5v2.1m0 -2v1.2m0 -0.7v1.2m0 0.2v1.2m0 0.4v1.2m0 1.2v1.2m0 1.3v1.2m0 -0.9v2.1m0 -1.6v2.1m0 -2v1.2m0 -1v1.2m0 3.2v1.2m0 -1v1.2m0 -1v1.2m0 4.7v2.1m0 -0.9v1.2m0 -0.9v1.2m0 -1.1v1.2m0 -0.9v1.2m0 -1.2v2.1m0 -0.7v1.2m0 1v1.2m0 -0.3v2.1m0 0.3v1.2m0 0.5v1.2m0 0.6v1.2m0 -0v2.1m0 -1.9v1.2m0 -1v1.2m0 0.3v1.2m0 0.5v1.2m0 1.6v2.1m0 -1.7v1.2m0 -1v1.2m0 -0.6v2.1m0 -2.1v2.1m0 -2v1.2m0 0.2v2.1m0 -1.9v1.2m0 -0.2v2.1m0 1.5v1.2m0 -0.3v2.1m0 -1.9v1.2m0 -0.9v1.2m0 5.2v1.2m0 -0.1v1.2m0 -0.5v1.2m0 0.9v2.1m0 -0.6v2.1m0 -1.2v1.2m0 1.3v1.2m0 1.1v1.2m0 3v1.2m0 -0.2v1.2m0 0.2v1.2m0 1.7v1.2m0 -0.3v1.2m0 -0.7v1.2m0 -0.3v1.2m0 0.2v1.2m0 0.8v1.2m0 -1.1v1.2m0 0.4v1.2m0 0.1v1.2m0 -0.9v2.1m0 -1.8v1.2m0 0.1v1.2m0 -0.8v1.2m0 5.9v1.2m0 3.3v1.2m0 0.7v2.1m0 -0.3v1.2M555 15.5v1.2m0 -0.6v1.2m0 1.5v1.2m0 0.8v1.2m0 0.8v1.2m0 3.3v1.2m0 -0.7v1.2m0 1.1v1.2m0 2.9v1.2m0 1.7v1.2m0 0.3v2.1m0 -1.9v1.2m0 -0.3v2.1m0 -0.5v1.2m0 -0.6v1.2m0 2.5v1.2m0 -0.5v2.1m0 -1.2v1.2m0 1.1v1.2m0 1.3v1.2m0 -1.1v2.1m0 -0.7v1.2m0 0v1.2m0 0.1v1.2m0 2.1v2.1m0 -1.6v2.1m0 -0.6v1.2m0 0.3v1.2m0 1.2v2.1m0 -1.9v1.2m0 0.6v2.1m0 -1.8v1.2m0 -0.9v1.2m0 1.2v1.2m0 0.1v1.2m0 0.2v1.2m0 -0.6v1.2m0 0.2v1.2m0 -0.8v1.2m0 0.2v1.2m0 2.3v2.1m0 -1.7v2.1m0 -2.1v1.2m0 2.2v1.2m0 2v1.2m0 -0.8v2.1m0 -0.1v1.2m0 -0.2v1.2m0 -1v1.2m0 -0.6v1.2m0 0.9v2.1m0 -2.1v1.2m0 -0.8v1.2m0 -0.6v2.1m0 1v1.2m0 0.2v1.2m0 -0.7v2.1m0 -1.2v1.2m0 -1v1.2m0 0.5v1.2m0 2.8v2.1m0 -1.5v2.1m0 -1.5v1.2m0 -1v2.1m0 -1.8v1.2m0 2v2.1m0 -1.2v1.2m0 3.6v1.2m0 -1v1.2m0 0.2v1.2m0 -1.1v1.2m0 -0.4v2.1m0 -1.7v1.2m0 2.5v1.2m0 0.4v2.1m0 -1.6v1.2m0 0.3v1.2m0 4v1.2m0 -0.1v2.1m0 -1.1v1.2m0 -1.2v2.1m0 -0.9v1.2m0 -0.9v2.1m0 -0.6v1.2m0 -0.4v1.2m0 0.2v1.2m0 -1v1.2m0 -1.1v1.2m0 -0.9v1.2m0 2v1.2m0 -0.7v1.2m0 0v1.2m0 1.1v1.2m0 0.9v1.2m0 -1.1v1.2m0 0.4v2.1m0 -2.1v1.2m0 1.5v1.2m0 -1v2.1m0 -1.9v1.2m0 -0.9v1.2m0 0.6v1.2m0 8.3v1.2m0 -0.3v1.2m0 3.3v1.2m0 -0.6v1.2m0 -0.6v2.1m0 -0.5v2.1m0 -1.2v1.2m0 0.5v1.2m0 -1v1.2M556 16.6v1.2m0 1.7v1.2m0 4.5v2.1m0 -0.2v1.2m0 1.9v1.2m0 1.1v1.2m0 -0.9v2.1m0 -0.2v1.2m0 3.1v1.2m0 0.2v1.2m0 -0.9v1.2m0 -1v2.1m0 1.9v1.2m0 1.3v1.2m0 10.8v1.2m0 10.4v2.1m0 4.1v1.2m0 3.9v1.2m0 6.6v1.2m0 2.2v1.2m0 -0.9v2.1m0 -0.5v2.1m0 -1.1v2.1m0 -1v2.1m0 8.9v1.2m0 7.6v1.2m0 3.8v1.2m0 4.1v1.2m0 0.9v1.2m0 2.9v1.2m0 1.1v1.2m0 0.3v2.1m0 0.4v1.2m0 4.3v1.2m0 0.3v1.2m0 0.6v1.2m0 -0.3v1.2m0 1.9v2.1m0 0.9v1.2m0 2.1v1.2m0 4.5v1.2m0 0.5v2.1m0 -0.5v1.2m0 -1v2.1m0 4.4v1.2m0 1.4v2.1m0 -1.7v1.2M557 16.4v1.2m0 0.7v1.2m0 1v2.1m0 -1.6v2.1m0 0.6v1.2m0 5v1.2m0 -0v1.2m0 0.8v1.2m0 0.3v1.2m0 -1v1.2m0 -0.3v1.2m0 -0.9v1.2m0 -1v1.2m0 5.6v1.2m0 2.1v1.2m0 -1.2v1.2m0 2.4v1.2m0 1.2v1.2m0 -0.1v2.1m0 -0.9v1.2m0 3.1v1.2m0 0.3v1.2m0 -1.1v1.2m0 2v2.1m0 -1.2v1.2m0 1.5v2.1m0 2.6v1.2m0 11.3v1.2m0 0.4v2.1m0 -1.9v1.2m0 6.4v1.2m0 1.9v1.2m0 -0.5v2.1m0 -0.2v1.2m0 -1v2.1m0 -1.2v1.2m0 3v2.1m0 -0.6v1.2m0 2v2.1m0 1.5v1.2m0 2.8v1.2m0 3.1v1.2m0 2.5v1.2m0 -0.3v1.2m0 2v1.2m0 3v1.2m0 -1v2.1m0 0.3v1.2m0 1.1v1.2m0 -0.3v2.1m0 1.9v1.2m0 -0.7v1.2m0 -1v2.1m0 7.8v1.2m0 -0.2v1.2m0 4.6v1.2m0 0.7v1.2m0 1.1v1.2m0 2.8v1.2m0 1v2.1m0 0v2.1m0 -0.4v1.2m0 0.2v1.2M558 16.7v1.2m0 5.1v2.1m0 -2.1v1.2m0 1.7v1.2m0 10.7v1.2m0 -1.2v1.2m0 4v1.2m0 -1.2v1.2m0 3.8v1.2m0 3.8v1.2m0 3.7v1.2m0 -0.4v1.2m0 -0.5v1.2m0 4.1v1.2m0 6.5v2.1m0 -1.7v2.1m0 1v1.2m0 0.8v2.1m0 1.1v1.2m0 13.9v2.1m0 2.9v2.1m0 -0.6v1.2m0 0.9v2.1m0 0.3v1.2m0 -1.1v2.1m0 2.2v1.2m0 2.4v2.1m0 14.5v1.2m0 -0.8v1.2m0 0.9v1.2m0 3v1.2m0 -0.5v1.2m0 0.5v1.2m0 -0.5v1.2m0 6.1v1.2m0 2.5v2.1m0 2v1.2m0 4.5v1.2m0 0.3v1.2M559 17.2v2.1m0 -1.5v1.2m0 -0.1v1.2m0 1.3v1.2m0 7.9v1.2m0 3.2v1.2m0 5.6v1.2m0 0.8v2.1m0 -0.5v1.2m0 0.5v2.1m0 4.8v2.1m0 0.9v1.2m0 3.8v1.2m0 3.5v1.2m0 1.8v1.2m0 -0.9v1.2m0 0.7v1.2m0 0.1v2.1m0 -1.2v2.1m0 -0.7v1.2m0 3.4v2.1m0 -2v1.2m0 0.8v1.2m0 -0.8v1.2m0 0.9v1.2m0 3.2v1.2m0 1.9v1.2m0 1.4v1.2m0 0.4v2.1m0 -1.5v2.1m0 0.9v1.2m0 -1.1v1.2m0 2v2.1m0 -1.4v1.2m0 -1v2.1m0 0.9v2.1m0 0.5v1.2m0 0.3v1.2m0 -1v1.2m0 1.9v1.2m0 -1v2.1m0 0.8v2.1m0 -0.2v1.2m0 4.1v1.2m0 0.8v1.2m0 0.9v1.2m0 0.8v1.2m0 7.8v2.1m0 -0.7v1.2m0 -0.8v1.2m0 2.2v1.2m0 3.6v1.2m0 4.9v1.2m0 0.6v2.1m0 4v1.2m0 -0.8v2.1m0 1v1.2m0 0.9v1.2m0 0.5v1.2m0 3.5v1.2m0 -0.1v1.2M560 19.4v2.1m0 13.6v1.2m0 1.7v2.1m0 -1.1v1.2m0 2.9v1.2m0 6.8v1.2m0 -1v2.1m0 -2.1v1.2m0 -1.1v1.2m0 2v2.1m0 1.4v1.2m0 -0.9v1.2m0 0.9v2.1m0 -1.6v1.2m0 2.9v2.1m0 -0.8v1.2m0 -0.2v2.1m0 -0.4v1.2m0 6.1v1.2m0 2.9v1.2m0 1.7v1.2m0 -0.5v1.2m0 -1.1v1.2m0 1.4v2.1m0 -1.3v1.2m0 -1.1v1.2m0 -0.6v1.2m0 -0.5v1.2m0 -0.4v1.2m0 0.7v1.2m0 2.7v1.2m0 -0.5v1.2m0 -0.6v1.2m0 -0.5v1.2m0 -0.9v1.2m0 -0.5v1.2m0 4.3v1.2m0 7.5v1.2m0 1.2v1.2m0 -0.5v2.1m0 -0.9v1.2m0 1.2v1.2m0 -1v1.2m0 0.3v1.2m0 1.7v1.2m0 -0.4v1.2m0 2v1.2m0 0.4v1.2m0 5.5v1.2m0 2.4v1.2m0 0.9v1.2m0 1.9v2.1m0 -0.1v1.2m0 -1.2v1.2m0 0.3v2.1m0 -0.9v1.2m0 -1v1.2m0 2.9v1.2m0 1.1v1.2m0 2.6v2.1m0 -1.9v1.2m0 -0.5v1.2m0 -0.2v2.1m0 1.2v2.1m0 -0.7v2.1m0 -1.5v1.2m0 1.4v2.1m0 -0.8v1.2m0 -0.2v2.1M561 17.9v1.2m0 2.4v1.2m0 1.7v1.2m0 -0.5v1.2m0 -0.8v1.2m0 1.5v1.2m0 0.7v1.2m0 7.6v2.1m0 -1.3v2.1m0 2v1.2m0 -0.4v1.2m0 6.2v1.2m0 1.1v1.2m0 -0.6v1.2m0 2.1v1.2m0 -0.8v2.1m0 7.9v1.2m0 2.8v2.1m0 -1.5v1.2m0 3.5v1.2m0 3.2v2.1m0 2.8v2.1m0 -1.7v1.2m0 11.3v1.2m0 2.9v2.1m0 2.5v1.2m0 -0.7v1.2m0 -0.1v2.1m0 6.8v1.2m0 -0.9v1.2m0 2.9v2.1m0 9.9v1.2m0 1.6v1.2m0 3.4v1.2m0 -0.2v1.2m0 4.1v1.2m0 3.2v2.1m0 2.3v1.2m0 -0.3v1.2m0 -0.2v1.2m0 1.6v1.2m0 -0.1v2.1m0 -0.7v1.2m0 -1.1v1.2m0 0.6v1.2m0 -1.2v2.1m0 -0.9v1.2m0 -0.7v2.1m0 -0.9v1.2m0 6.3v1.2M562 21.5v1.2m0 2.3v1.2m0 1.5v2.1m0 5.5v1.2m0 7.6v1.2m0 0.1v1.2m0 3.3v1.2m0 0.4v1.2m0 6.2v1.2m0 4.3v1.2m0 -1v2.1m0 6.4v1.2m0 1.1v1.2m0 -0.7v2.1m0 1.4v1.2m0 4.7v2.1m0 1.7v1.2m0 -0.2v1.2m0 3.3v1.2m0 2.3v1.2m0 1v1.2m0 6.9v1.2m0 0.2v1.2m0 5.9v2.1m0 3.2v1.2m0 0.9v1.2m0 0.5v1.2m0 4.1v2.1m0 2.6v1.2m0 -0.5v2.1m0 11.8v1.2m0 12.7v2.1m0 -1.7v1.2m0 -0.8v1.2m0 2v1.2m0 4.7v1.2m0 -0.7v1.2M563 16v1.2m0 0.2v1.2m0 1v2.1m0 -1.7v1.2m0 0.3v2.1m0 -1.5v2.1m0 -1.8v2.1m0 3.5v1.2m0 1.2v2.1m0 0.4v2.1m0 0.1v1.2m0 -0.5v1.2m0 -0.2v1.2m0 1.3v1.2m0 -0.6v2.1m0 -2.1v2.1m0 0.1v2.1m0 0.8v1.2m0 0.5v1.2m0 -0.7v1.2m0 3.5v2.1m0 -1.3v1.2m0 6.8v1.2m0 0.3v1.2m0 -1.1v1.2m0 1.4v1.2m0 -0.7v1.2m0 1.4v1.2m0 -0.8v2.1m0 -1.8v1.2m0 -0.9v1.2m0 -0.2v1.2m0 1.8v1.2m0 1.3v2.1m0 -0.9v2.1m0 -1.3v2.1m0 -0.6v1.2m0 0.3v1.2m0 1.4v2.1m0 0.2v2.1m0 1v1.2m0 4.7v2.1m0 0.5v1.2m0 0.9v1.2m0 6.4v1.2m0 -0.8v1.2m0 0.4v2.1m0 -2.1v1.2m0 0.4v1.2m0 -0.9v2.1m0 -2.1v1.2m0 1v2.1m0 -0.6v1.2m0 4.1v2.1m0 -2.1v2.1m0 -0.4v1.2m0 -0.2v1.2m0 -0.1v1.2m0 2.4v1.2m0 0.8v1.2m0 3.9v1.2m0 -0.9v2.1m0 1.7v2.1m0 2.2v1.2m0 1.7v1.2m0 1.1v2.1m0 -0.9v1.2m0 0.4v1.2m0 0.3v1.2m0 1.4v1.2m0 -0.2v2.1m0 -0.4v2.1m0 -1.4v1.2m0 2.2v1.2m0 0.7v2.1m0 -1.2v2.1m0 -1.7v2.1m0 -2.1v2.1m0 -1.6v1.2m0 0.1v1.2m0 2.6v1.2m0 1.2v1.2m0 -0.1v1.2m0 -0.4v1.2m0 -0.6v1.2m0 1.3v1.2M564 16.8v1.2m0 7v1.2m0 1.4v2.1m0 3.8v1.2m0 0.2v1.2m0 -0.6v1.2m0 2.5v2.1m0 -0.8v1.2m0 10.3v1.2m0 0.9v1.2m0 15.1v1.2m0 2.1v1.2m0 0.3v2.1m0 5.6v2.1m0 -0.5v1.2m0 -0v1.2m0 2.1v1.2m0 3.7v2.1m0 5v2.1m0 3.9v1.2m0 1.9v1.2m0 -1v2.1m0 0.8v1.2m0 4.4v2.1m0 -1.9v1.2m0 11.3v1.2m0 0.2v1.2m0 2.1v1.2m0 0.9v1.2m0 2.7v1.2m0 3.1v1.2m0 11.2v1.2m0 1.9v1.2m0 7.6v2.1M565 15.9v1.2m0 -1v1.2m0 -0.9v2.1m0 -0.1v1.2m0 -0.8v1.2m0 -0.5v1.2m0 1.2v1.2m0 0.6v1.2m0 -0.6v2.1m0 -1.6v1.2m0 -0.3v1.2m0 -0.2v1.2m0 -0.7v1.2m0 5.2v1.2m0 1.3v2.1m0 -0.7v1.2m0 4.1v1.2m0 -0.8v1.2m0 1.5v1.2m0 1.6v2.1m0 -2v1.2m0 1.6v1.2m0 -0.2v1.2m0 -0.9v1.2m0 3v2.1m0 0.5v2.1m0 0.6v1.2m0 3.4v2.1m0 0.5v1.2m0 6.1v2.1m0 -0.3v2.1m0 -0.8v1.2m0 -1v1.2m0 -1.1v1.2m0 4.5v1.2m0 0.6v2.1m0 -0.3v1.2m0 -0v2.1m0 0.6v1.2m0 3v1.2m0 7.8v1.2m0 -0.7v1.2m0 5v2.1m0 -2v2.1m0 -2.1v1.2m0 3.5v1.2m0 -0v1.2m0 0.5v2.1m0 -1.3v1.2m0 -0.5v1.2m0 3.4v2.1m0 1.1v1.2m0 0.6v2.1m0 2.3v1.2m0 -1.2v2.1m0 0.1v1.2m0 0v1.2m0 0.8v1.2m0 10.3v1.2m0 -0.9v1.2m0 -0.7v1.2m0 3.8v1.2m0 0.7v1.2m0 2.3v1.2m0 -1.2v1.2m0 1.3v1.2m0 -1.2v1.2m0 1.8v1.2m0 0.7v1.2m0 2.3v1.2M566 17.5v2.1m0 2v1.2m0 5.5v2.1m0 2v1.2m0 -1v1.2m0 2v1.2m0 1.4v1.2m0 4.1v1.2m0 1.3v1.2m0 0.9v1.2m0 0.5v1.2m0 3.2v1.2m0 1.3v1.2m0 6.3v1.2m0 -0.1v2.1m0 6.7v2.1m0 -0.7v1.2m0 0.8v1.2m0 4v1.2m0 2.2v2.1m0 5.6v1.2m0 1.3v1.2m0 4.3v1.2m0 -0.7v2.1m0 7.3v1.2m0 6.7v1.2m0 3.5v1.2m0 0.2v1.2m0 3.9v1.2m0 -1v1.2m0 -0.9v1.2m0 0.5v2.1m0 -1.1v1.2m0 -1.2v1.2m0 2.4v1.2m0 1.7v1.2m0 -1v1.2m0 11.2v1.2m0 1.4v1.2m0 0.6v1.2m0 0.9v2.1m0 -0.1v1.2m0 -0.9v1.2m0 0.1v1.2m0 3.2v1.2m0 5.9v1.2m0 -0.9v2.1M567 24.5v1.2m0 -0.4v2.1m0 0.6v1.2m0 3v2.1m0 1.1v2.1m0 1.9v1.2m0 0.9v1.2m0 11.6v1.2m0 13.8v1.2m0 3.4v1.2m0 8.6v1.2m0 7.6v1.2m0 10.2v2.1m0 -1.1v2.1m0 -0v1.2m0 1v1.2m0 5.8v1.2m0 0.8v2.1m0 0.7v2.1m0 3.5v2.1m0 4.1v1.2m0 1v1.2m0 -1.2v1.2m0 3.3v1.2m0 3.1v1.2m0 1.4v1.2m0 3.7v1.2m0 -1v2.1m0 0.5v1.2m0 2v1.2M568 22.3v1.2m0 1v2.1m0 4.7v1.2m0 -0.9v1.2m0 11.2v1.2m0 -0.9v2.1m0 0.3v1.2m0 0.6v2.1m0 -1.9v2.1m0 7.6v1.2m0 0.6v1.2m0 7.7v1.2m0 3.3v1.2m0 1.3v1.2m0 0.7v2.1m0 -0.4v1.2m0 7v1.2m0 3.2v2.1m0 17.1v1.2m0 1.1v1.2m0 0.2v1.2m0 11.5v1.2m0 1.3v2.1m0 2.6v1.2m0 6.4v1.2m0 24.7v1.2m0 1.5v1.2m0 2.6v2.1m0 -2.1v2.1m0 -0v1.2M569 22.1v2.1m0 -1.4v1.2m0 -0.3v2.1m0 17.4v1.2m0 -0v1.2m0 0.7v2.1m0 0.1v1.2m0 -0.3v1.2m0 11.8v1.2m0 8.4v1.2m0 16.5v2.1m0 2.8v1.2m0 0.5v1.2m0 2.6v1.2m0 -0.5v1.2m0 0.4v1.2m0 1.3v2.1m0 4v2.1m0 0.9v1.2m0 0.6v1.2m0 2.2v1.2m0 8.9v1.2m0 1.5v1.2m0 -0.8v2.1m0 4.4v1.2m0 8.6v1.2m0 3.4v1.2m0 6.9v1.2m0 7.9v1.2m0 -0.6v1.2m0 4v1.2M570 22.5v2.1m0 1.7v2.1m0 -1.6v1.2m0 -0.8v1.2m0 3.6v2.1m0 9.3v1.2m0 1.7v1.2m0 4v2.1m0 7.2v2.1m0 3.9v1.2m0 -0.3v1.2m0 -1.2v1.2m0 3.7v1.2m0 -0.5v1.2m0 3.9v1.2m0 0.8v1.2m0 13.3v1.2m0 -1.2v1.2m0 -1.2v1.2m0 0.7v1.2m0 1.1v1.2m0 2.9v2.1m0 1v1.2m0 0.7v1.2m0 3.9v1.2m0 3v1.2m0 -0.4v1.2m0 -0.7v1.2m0 3.8v2.1m0 -0.7v1.2m0 -0.9v1.2m0 4.7v1.2m0 0.8v1.2m0 0.3v1.2m0 5.5v2.1m0 0.3v1.2m0 5.1v2.1m0 0.7v1.2m0 3v1.2m0 0.5v2.1m0 -0.7v1.2m0 1.9v2.1m0 4.9v1.2m0 4.7v1.2M571 18.9v1.2m0 -0.1v1.2m0 0.1v1.2m0 -0.2v1.2m0 -1.1v1.2m0 0.4v1.2m0 5v2.1m0 -1.9v1.2m0 -1.1v2.1m0 2.6v1.2m0 3.7v1.2m0 0.4v1.2m0 3.4v1.2m0 2.8v2.1m0 6.1v2.1m0 1.5v1.2m0 3.5v1.2m0 3.1v1.2m0 6.1v2.1m0 -2v2.1m0 2.1v1.2m0 0.6v1.2m0 0.2v2.1m0 0.1v1.2m0 0.8v2.1m0 -1.2v1.2m0 2.5v1.2m0 1.6v1.2m0 0v1.2m0 0.9v1.2m0 4.7v2.1m0 -2v1.2m0 5.3v2.1m0 -0.4v2.1m0 -2.1v2.1m0 -2v2.1m0 -2v1.2m0 0.6v2.1m0 -1.6v2.1m0 0.7v1.2m0 4.1v1.2m0 -0.8v2.1m0 -1.4v1.2m0 -1v1.2m0 1.5v1.2m0 1.4v1.2m0 -0.5v2.1m0 -1.5v1.2m0 -0.2v2.1m0 -0.6v2.1m0 -1.3v2.1m0 -1.2v1.2m0 1.6v2.1m0 3.7v1.2m0 -1v1.2m0 9.4v2.1m0 -1.8v1.2m0 -0.8v1.2m0 3.1v1.2m0 0.2v1.2m0 3.3v2.1m0 -0.9v1.2m0 5.6v1.2m0 -0.1v1.2M572 19v1.2m0 4.9v1.2m0 2v1.2m0 1.4v1.2m0 -0.9v1.2m0 1.1v1.2m0 -1.1v1.2m0 3.9v1.2m0 5.8v1.2m0 0.4v1.2m0 -1.2v1.2m0 0.2v1.2m0 -1v1.2m0 5.8v1.2m0 1.8v1.2m0 0.5v1.2m0 2.3v1.2m0 -1.1v1.2m0 2.7v2.1m0 0.4v1.2m0 0.4v1.2m0 1.6v1.2m0 3.8v1.2m0 3.1v1.2m0 7.8v1.2m0 7.9v1.2m0 1.1v2.1m0 -1.4v1.2m0 0.8v2.1m0 -2.1v1.2m0 0.3v2.1m0 -0.6v1.2m0 5.3v1.2m0 13.6v1.2m0 3.7v1.2m0 0.2v1.2m0 2.5v1.2m0 -0.1v1.2m0 1v1.2m0 -0.7v1.2m0 4.4v2.1m0 -0.6v1.2m0 0v1.2m0 6.1v1.2m0 2.3v1.2m0 1.3v1.2m0 0v1.2m0 -0v2.1m0 2.5v1.2m0 2.6v1.2M573 16v2.1m0 8.9v2.1m0 -0.2v1.2m0 6v1.2m0 0.8v1.2m0 -0.3v1.2m0 -0.1v1.2m0 16.5v1.2m0 -1v2.1m0 1.7v2.1m0 -0.4v1.2m0 1.3v1.2m0 1.6v1.2m0 3.5v2.1m0 -1.6v2.1m0 -1.6v1.2m0 2.6v1.2m0 4.7v2.1m0 -1.9v1.2m0 0.5v1.2m0 0.1v1.2m0 -0.7v1.2m0 -0.4v1.2m0 0v2.1m0 0.1v1.2m0 2.3v2.1m0 4.7v1.2m0 7.6v1.2m0 0.1v1.2m0 -0.2v1.2m0 -0.1v1.2m0 -1.2v2.1m0 2.9v1.2m0 -0.6v2.1m0 5.2v1.2m0 -0.7v2.1m0 0.6v2.1m0 2.9v2.1m0 -1.6v1.2m0 0.6v1.2m0 -0.2v1.2m0 3.2v2.1m0 -1.1v2.1m0 1.1v2.1m0 -1v1.2m0 0.1v1.2m0 -1.2v2.1m0 -0.1v1.2m0 -0.5v1.2m0 0.5v1.2m0 -0.8v1.2m0 -0.9v2.1m0 -1.6v1.2m0 4.5v1.2m0 -0.5v1.2m0 4.9v2.1m0 -0.9v2.1m0 1v1.2m0 -0.4v1.2m0 -1.1v2.1m0 -1.2v1.2m0 -1.1v1.2m0 1.6v2.1M574 25.6v1.2m0 4v1.2m0 6.1v2.1m0 -1.7v2.1m0 4.4v1.2m0 0.1v1.2m0 1.4v1.2m0 1.9v1.2m0 -1v1.2m0 30.6v1.2m0 2.1v1.2m0 12.6v1.2m0 2.3v1.2m0 -1v2.1m0 0.1v2.1m0 6.4v1.2m0 -0.2v2.1m0 6.1v1.2m0 0.7v1.2m0 3.5v1.2m0 -1v1.2m0 0.4v1.2m0 6.1v1.2m0 1.7v2.1m0 -1.8v1.2m0 -0.9v1.2m0 -0.3v1.2m0 -0.6v1.2m0 3.2v1.2m0 -0.5v1.2m0 1.2v2.1m0 10.9v1.2m0 10.4v1.2m0 -0.9v2.1M575 17.8v1.2m0 0.3v1.2m0 0.9v1.2m0 8.8v2.1m0 2v1.2m0 -0.8v1.2m0 4v1.2m0 -0.1v1.2m0 5.8v1.2m0 2.5v2.1m0 12v2.1m0 -0.8v1.2m0 -1v2.1m0 -0.7v2.1m0 1.8v1.2m0 5.7v1.2m0 1.8v1.2m0 5.6v1.2m0 8.8v2.1m0 0.8v1.2m0 -0.2v2.1m0 10.7v2.1m0 3.9v2.1m0 -0.5v1.2m0 2v1.2m0 0.1v1.2m0 6v1.2m0 -1v1.2m0 -0.8v2.1m0 -2v2.1m0 5.2v1.2m0 4v1.2m0 3v1.2m0 4.6v1.2m0 0.4v1.2m0 -0.9v1.2m0 -0.5v1.2m0 5.1v1.2m0 0.7v1.2m0 -1v2.1m0 4.6v1.2M576 16.5v1.2m0 1.5v1.2m0 2.8v1.2m0 9v2.1m0 0.5v2.1m0 0.5v2.1m0 4.3v2.1m0 -1.4v1.2m0 0.6v1.2m0 -0.3v1.2m0 0.3v1.2m0 -1.1v2.1m0 6.3v1.2m0 2.1v1.2m0 2.3v2.1m0 6v1.2m0 2.5v1.2m0 2.4v1.2m0 0.2v2.1m0 15.9v1.2m0 3.8v1.2m0 1.6v2.1m0 0.3v1.2m0 2.5v2.1m0 -0.5v1.2m0 13v1.2m0 0v1.2m0 5.2v1.2m0 -0.8v1.2m0 3.7v1.2m0 -0.2v1.2m0 -0.3v1.2m0 5.3v1.2m0 -0.2v1.2m0 5v2.1m0 1.9v1.2m0 2.3v2.1m0 0.4v1.2M577 16.8v1.2m0 0.1v1.2m0 9.4v2.1m0 -0.9v1.2m0 1v1.2m0 1.9v1.2m0 4.6v1.2m0 0.7v2.1m0 1.3v1.2m0 7.3v1.2m0 8v1.2m0 11.9v1.2m0 1.2v1.2m0 0.6v2.1m0 7.2v1.2m0 1.9v2.1m0 0.6v2.1m0 -2v1.2m0 0v1.2m0 4.1v2.1m0 -0.2v1.2m0 -0.8v1.2m0 -0.1v2.1m0 -2v1.2m0 -0.5v1.2m0 3.2v1.2m0 15.3v1.2m0 -0.3v2.1m0 4.3v2.1m0 0.8v1.2m0 9.3v1.2m0 -0.3v1.2m0 1.9v1.2m0 1.2v1.2M578 15.4v2.1m0 -1.5v1.2m0 -1.1v1.2m0 2.6v2.1m0 -1.4v1.2m0 0.1v1.2m0 0.4v1.2m0 2.9v2.1m0 -1.6v2.1m0 14v1.2m0 0.3v2.1m0 13.5v1.2m0 -1.1v2.1m0 -2v1.2m0 15.5v1.2m0 -0v2.1m0 0.1v1.2m0 -1v1.2m0 -0.3v1.2m0 5.7v1.2m0 3.2v1.2m0 4.4v2.1m0 2.3v1.2m0 0.8v1.2m0 -0.1v2.1m0 0.9v1.2m0 1.9v1.2m0 -0.3v1.2m0 0.8v1.2m0 2.2v2.1m0 1.2v1.2m0 31.2v1.2m0 12.6v1.2M579 16.6v1.2m0 3.6v1.2m0 1.9v1.2m0 0.2v1.2m0 -0.2v2.1m0 1.1v1.2m0 4.7v1.2m0 3.5v1.2m0 0.8v1.2m0 4.5v1.2m0 0.5v1.2m0 -0.5v1.2m0 -0.9v1.2m0 6.9v1.2m0 6v1.2m0 5.7v1.2m0 6.1v1.2m0 3.4v1.2m0 1.1v1.2m0 12.8v1.2m0 3.7v1.2m0 9.8v1.2m0 2.4v1.2m0 1.6v1.2m0 0.3v2.1m0 1.4v1.2m0 3.3v2.1m0 3.3v1.2m0 2.7v1.2m0 2.3v1.2m0 13v2.1m0 -1.3v1.2m0 2.3v1.2M580 16.6v1.2m0 2.1v1.2m0 0.2v1.2m0 6.9v2.1m0 8.4v2.1m0 -2v2.1m0 2.1v1.2m0 14.8v1.2m0 3.1v1.2m0 3.4v1.2m0 -0.7v1.2m0 1.2v1.2m0 -1.2v1.2m0 -1.2v2.1m0 -1.7v2.1m0 3.7v1.2m0 6.8v1.2m0 9.7v1.2m0 3.5v2.1m0 7.4v2.1m0 -1.8v2.1m0 5.8v1.2m0 -1v1.2m0 -0.7v1.2m0 -0.7v1.2m0 0.2v1.2m0 0.3v1.2m0 1v1.2m0 7.8v2.1m0 -0.4v1.2m0 4.5v2.1m0 1.6v2.1m0 3.8v1.2m0 -0.5v1.2m0 5.7v1.2m0 2.4v1.2m0 8.3v1.2M581 17.6v1.2m0 9.3v1.2m0 1.2v2.1m0 -0.3v2.1m0 8.7v1.2m0 2v2.1m0 0.7v2.1m0 -1.9v2.1m0 2v1.2m0 3.9v1.2m0 12.9v1.2m0 -0.5v1.2m0 -0.7v2.1m0 -1.2v1.2m0 1v1.2m0 8.3v1.2m0 0.9v1.2m0 -0.5v2.1m0 0.4v1.2m0 8v2.1m0 8.7v1.2m0 0.9v1.2m0 -0v1.2m0 0.5v1.2m0 8.1v1.2m0 -0.2v2.1m0 7.7v1.2m0 -0.4v1.2m0 9.6v1.2m0 0.6v2.1m0 -0.8v2.1m0 -0.3v1.2m0 -0.5v2.1m0 5.4v1.2m0 6.8v2.1m0 -0.4v2.1M582 18.8v1.2m0 4.4v1.2m0 0.7v1.2m0 1.7v2.1m0 0.2v1.2m0 13.5v1.2m0 2.6v1.2m0 0v1.2m0 3.1v1.2m0 7.8v1.2m0 1v1.2m0 6.2v2.1m0 -1.7v1.2m0 0.4v1.2m0 4.5v1.2m0 13.7v2.1m0 -0.3v1.2m0 11.9v1.2m0 2.5v2.1m0 1.5v1.2m0 4.4v1.2m0 4.1v1.2m0 -1v1.2m0 1.4v1.2m0 5.3v2.1m0 -0.4v1.2m0 4.8v1.2m0 -0.7v1.2m0 9.4v1.2m0 2.8v1.2m0 -1.2v1.2m0 -0.9v1.2m0 5.8v2.1m0 1v1.2m0 2.8v2.1M583 15.4v1.2m0 4.3v1.2m0 14.2v2.1m0 4.8v2.1m0 -0.4v1.2m0 -0.8v2.1m0 -0v1.2m0 2v1.2m0 -1.1v2.1m0 4v1.2m0 0.9v1.2m0 1.1v2.1m0 -1.8v1.2m0 2.5v1.2m0 1.9v1.2m0 10.2v2.1m0 -1.5v1.2m0 2.5v1.2m0 5.5v2.1m0 -0v2.1m0 -0.2v2.1m0 0.7v1.2m0 -0v1.2m0 -0.3v1.2m0 4.9v2.1m0 -1.1v1.2m0 5.8v2.1m0 11.3v1.2m0 -1.1v1.2m0 5.2v2.1m0 5.2v2.1m0 6.9v1.2m0 3.9v1.2m0 7.9v1.2m0 2.6v1.2m0 0.2v1.2m0 1.7v1.2m0 3.6v1.2M584 16.6v1.2m0 1.9v2.1m0 2.3v2.1m0 9.6v2.1m0 3.9v2.1m0 2.7v2.1m0 17.9v2.1m0 -1.8v1.2m0 11v1.2m0 4.2v1.2m0 9v2.1m0 2.1v1.2m0 0.6v1.2m0 0.4v1.2m0 0.1v1.2m0 -0.3v1.2m0 1.9v2.1m0 -1.3v1.2m0 4.2v1.2m0 3.1v1.2m0 17.5v1.2m0 -0.1v1.2m0 2.1v2.1m0 8.3v1.2m0 -0.9v1.2m0 3.7v1.2m0 2.2v2.1m0 -1.6v2.1m0 0.6v1.2m0 -0.3v2.1m0 3.6v2.1m0 0v1.2m0 2v1.2M585 16.8v2.1m0 1.5v1.2m0 4.3v1.2m0 3.9v1.2m0 3.7v1.2m0 0.1v1.2m0 3.5v1.2m0 17v1.2m0 13.6v2.1m0 -1.6v1.2m0 2.1v1.2m0 4.8v1.2m0 4.3v2.1m0 -1.7v1.2m0 2.6v1.2m0 -1v2.1m0 1.2v2.1m0 10.7v1.2m0 -0.7v1.2m0 2.9v1.2m0 8.1v2.1m0 -1.8v1.2m0 16.6v1.2m0 12.1v1.2m0 3v1.2m0 15.7v2.1M586 23.1v1.2m0 0.2v1.2m0 1.3v1.2m0 0.4v1.2m0 1.1v1.2m0 1.3v1.2m0 7.5v1.2m0 -0v2.1m0 2.5v2.1m0 -0.8v1.2m0 -0.2v1.2m0 0.4v1.2m0 0.9v1.2m0 0.3v2.1m0 8.1v1.2m0 3.7v1.2m0 10.1v1.2m0 0.1v1.2m0 10.5v1.2m0 9.8v1.2m0 0.6v1.2m0 1.2v1.2m0 3.8v1.2m0 7.4v1.2m0 2v2.1m0 0.9v1.2m0 -1.1v2.1m0 2.6v2.1m0 6.9v2.1m0 -0.6v1.2m0 24.7v1.2m0 1.1v1.2m0 2.8v1.2M587 23.1v2.1m0 7.5v1.2m0 13v1.2m0 3.2v2.1m0 1.4v1.2m0 12.9v1.2m0 -0.2v1.2m0 -0.9v2.1m0 9.5v1.2m0 0.4v1.2m0 7.8v1.2m0 0.5v1.2m0 3.7v2.1m0 0.7v1.2m0 10v2.1m0 -1.6v1.2m0 1.5v1.2m0 -0.4v2.1m0 2.6v1.2m0 3.9v2.1m0 -0.3v1.2m0 3v2.1m0 -1.7v1.2m0 -0.7v2.1m0 0.8v1.2m0 18v1.2m0 0.6v1.2m0 1.7v1.2m0 -1.2v1.2m0 3.4v1.2m0 5.3v2.1m0 0.7v2.1m0 -2v2.1M588 27.7v1.2m0 -0.5v2.1m0 -1.1v2.1m0 -0.7v1.2m0 -0.2v1.2m0 2v2.1m0 3.3v1.2m0 7.4v1.2m0 -0.9v1.2m0 1.1v1.2m0 22v2.1m0 8.7v1.2m0 -0v1.2m0 2.4v1.2m0 -0.8v2.1m0 -1.3v1.2m0 1.5v1.2m0 -0.5v1.2m0 2.7v1.2m0 -0.6v1.2m0 3.2v1.2m0 5.2v1.2m0 -0.9v2.1m0 1v2.1m0 -1.3v1.2m0 -1.1v1.2m0 0.5v1.2m0 5.5v2.1m0 -1.2v1.2m0 5.9v1.2m0 -0.9v1.2m0 3.9v2.1m0 -0.3v1.2m0 15v1.2m0 -0.1v1.2m0 1.4v2.1m0 0.8v1.2m0 -1.1v1.2m0 0.5v1.2m0 5.4v1.2m0 -0.3v1.2m0 5.3v2.1M589 21.7v1.2m0 7.9v2.1m0 -1.4v1.2m0 0.5v1.2m0 12.7v1.2m0 1.4v1.2m0 6.1v2.1m0 1.2v1.2m0 9v1.2m0 0.6v2.1m0 -2v1.2m0 0v2.1m0 3.8v1.2m0 2.4v1.2m0 12.6v1.2m0 0.4v1.2m0 12.7v1.2m0 1.2v1.2m0 7v1.2m0 -1v2.1m0 -1.1v1.2m0 15.6v1.2m0 3.7v1.2m0 7.1v1.2m0 9.2v2.1m0 0.6v2.1m0 0.5v1.2m0 1.3v1.2m0 1.5v1.2M590 18.9v1.2m0 -1v1.2m0 7.8v1.2m0 2.4v1.2m0 0.2v2.1m0 -1.1v1.2m0 5v1.2m0 0.3v2.1m0 -1.9v1.2m0 -0.3v1.2m0 5.5v1.2m0 1.7v2.1m0 2.1v1.2m0 3.3v1.2m0 19.5v2.1m0 4.4v2.1m0 -1.9v1.2m0 3.1v2.1m0 -0.9v1.2m0 -0.3v1.2m0 -0.1v2.1m0 2.1v1.2m0 2.2v1.2m0 0.5v1.2m0 1.1v1.2m0 1.9v1.2m0 -0.8v1.2m0 1.6v1.2m0 19.7v1.2m0 0.9v1.2m0 2.8v2.1m0 0.1v1.2m0 -1v2.1m0 8.7v1.2m0 1.9v1.2m0 2.5v1.2m0 1.9v2.1m0 0.2v1.2m0 3.1v1.2M591 21.6v1.2m0 8.7v1.2m0 8.3v1.2m0 6.6v1.2m0 -0.9v1.2m0 -1v1.2m0 -1.1v2.1m0 -0.9v1.2m0 0.3v1.2m0 1.1v1.2m0 13.9v1.2m0 1.1v1.2m0 3.7v2.1m0 -1.7v1.2m0 -0.7v1.2m0 0.4v1.2m0 4.7v1.2m0 3.5v1.2m0 -0.9v1.2m0 4.3v1.2m0 -0.1v1.2m0 0.6v1.2m0 2v1.2m0 1.5v1.2m0 21.1v2.1m0 3v1.2m0 2v1.2m0 3.8v2.1m0 4.7v1.2m0 0.4v1.2m0 1.5v1.2m0 3.2v1.2m0 12.1v1.2m0 -1.2v1.2M592 18.2v1.2m0 2.3v1.2m0 3.7v2.1m0 -1.8v1.2m0 10v1.2m0 -0.3v1.2m0 0.5v2.1m0 -1.1v1.2m0 7.9v2.1m0 -1.8v1.2m0 4.6v2.1m0 -0.6v1.2m0 0.8v1.2m0 0.2v1.2m0 1.7v1.2m0 2.1v1.2m0 0.2v1.2m0 1v2.1m0 6.3v2.1m0 10.5v1.2m0 10.3v1.2m0 5v1.2m0 6v1.2m0 1.5v1.2m0 5.5v1.2m0 0.2v2.1m0 -0.7v1.2m0 7.7v2.1m0 0.6v1.2m0 1.2v1.2m0 3.1v2.1m0 9.9v2.1m0 3.6v2.1m0 -0.9v1.2m0 3.2v1.2M593 23.8v1.2m0 2.2v1.2m0 18.5v1.2m0 3.5v2.1m0 8v2.1m0 1v1.2m0 0.7v2.1m0 -2.1v1.2m0 0.2v1.2m0 -0.3v2.1m0 -2.1v1.2m0 11.1v2.1m0 4.1v2.1m0 14.6v1.2m0 2.4v1.2m0 6.3v1.2m0 2.4v2.1m0 -0.3v1.2m0 0.8v1.2m0 5.2v1.2m0 3v1.2m0 2v1.2m0 8.1v1.2m0 -0.9v1.2m0 5.4v1.2m0 -0.6v1.2m0 -1.1v2.1m0 -0.1v2.1m0 5.5v2.1m0 2.9v1.2m0 5v2.1M594 15.9v2.1m0 -0.3v1.2m0 7.6v1.2m0 9.5v1.2m0 3.2v1.2m0 -0.6v2.1m0 -1.6v1.2m0 7.9v1.2m0 9.8v1.2m0 6.4v1.2m0 3.7v1.2m0 0.1v1.2m0 3.1v2.1m0 3.4v1.2m0 22.5v2.1m0 -0.1v1.2m0 1v1.2m0 1v1.2m0 0.4v1.2m0 0.1v1.2m0 -0.1v1.2m0 0.4v2.1m0 13.3v2.1m0 -2v1.2m0 1.8v1.2m0 6.5v1.2m0 16.7v2.1m0 0.2v1.2m0 3.4v2.1m0 -1.8v1.2m0 2.3v1.2M595 21.2v1.2m0 0.2v1.2m0 0.5v1.2m0 16.3v1.2m0 7v1.2m0 3.3v1.2m0 7.3v2.1m0 9.2v1.2m0 7.1v1.2m0 10v1.2m0 -0.8v1.2m0 7v1.2m0 10.4v1.2m0 6.4v1.2m0 4v1.2m0 9.4v1.2m0 0.6v2.1m0 0.5v1.2m0 11.9v1.2m0 4.1v1.2m0 1.9v2.1m0 -0.9v1.2m0 1.5v2.1m0 2v2.1m0 -1.8v1.2M596 20.4v2.1m0 -1.5v1.2m0 14.3v2.1m0 -1.2v1.2m0 -0.1v2.1m0 9.7v1.2m0 7.6v2.1m0 0.4v1.2m0 0.4v1.2m0 2.9v1.2m0 -0.7v2.1m0 -1v2.1m0 -1.3v1.2m0 6.9v2.1m0 -1.5v1.2m0 0.1v1.2m0 0.1v1.2m0 2.3v1.2m0 1.2v1.2m0 3.8v1.2m0 1.7v1.2m0 0.9v1.2m0 1.1v1.2m0 -0.8v1.2m0 1.4v1.2m0 -1v1.2m0 1.2v2.1m0 -1.4v1.2m0 16.5v1.2m0 1.9v1.2m0 0.9v1.2m0 4v2.1m0 -2.1v1.2m0 5.2v1.2m0 0.9v2.1m0 -1.8v1.2m0 -0.4v2.1m0 2.1v2.1m0 -1.4v1.2m0 -0.5v2.1m0 1.7v2.1m0 -1.8v1.2m0 11.3v2.1M597 18v1.2m0 2.8v1.2m0 3.9v1.2m0 4.6v1.2m0 -0.2v1.2m0 3.4v2.1m0 3.5v1.2m0 3.6v1.2m0 0.9v2.1m0 9.6v1.2m0 0.3v1.2m0 -0.2v1.2m0 -1.2v1.2m0 1.3v1.2m0 5.3v1.2m0 1.4v1.2m0 10.8v1.2m0 2.2v1.2m0 4.3v1.2m0 2.4v2.1m0 -1.6v1.2m0 2.8v1.2m0 3.1v1.2m0 0.2v2.1m0 0.8v1.2m0 -0.3v2.1m0 10.4v1.2m0 11.8v1.2m0 1.8v1.2m0 10.4v2.1m0 -1.2v1.2m0 2.9v1.2m0 5.7v2.1m0 6.3v1.2M598 19.3v1.2m0 19.2v2.1m0 6.8v1.2m0 11.2v1.2m0 6.2v2.1m0 -0.6v2.1m0 2.7v1.2m0 -0.7v2.1m0 0.8v2.1m0 -1.3v2.1m0 5v1.2m0 0.7v1.2m0 5.2v1.2m0 5.5v2.1m0 -0.8v1.2m0 3.1v1.2m0 22.7v1.2m0 14v2.1m0 4.8v2.1m0 -2.1v1.2m0 -0v1.2m0 -0.1v1.2m0 2.1v1.2m0 6.7v2.1m0 3.9v2.1M599 19.4v1.2m0 5.9v2.1m0 3.2v2.1m0 1.1v1.2m0 2.7v1.2m0 3.3v1.2m0 2v1.2m0 0.1v1.2m0 3.1v2.1m0 -1.5v1.2m0 5.2v2.1m0 -2.1v1.2m0 13.1v1.2m0 -0.1v1.2m0 -0.8v2.1m0 7.1v1.2m0 18.5v2.1m0 0.5v1.2m0 12.1v2.1m0 8.7v2.1m0 11v1.2m0 -1.2v1.2m0 5.6v1.2m0 1.2v1.2M600 19.6v1.2m0 0v2.1m0 7.6v1.2m0 -1.2v1.2m0 7.1v1.2m0 19.9v1.2m0 12.4v1.2m0 -1v1.2m0 4.9v1.2m0 4.5v1.2m0 -1.1v1.2m0 6.3v1.2m0 0.2v2.1m0 2v1.2m0 15.5v2.1m0 3v2.1m0 7.7v1.2m0 14.2v1.2m0 0.7v2.1m0 1.8v2.1m0 3.1v2.1m0 0.2v1.2m0 10.1v2.1m0 0.3v1.2m0 0v2.1m0 0.8v2.1M601 24v1.2m0 4v1.2m0 2v1.2m0 2.9v1.2m0 -0.9v2.1m0 -0.6v1.2m0 2.9v1.2m0 0.8v1.2m0 13.1v1.2m0 10.8v1.2m0 12.6v1.2m0 3.9v1.2m0 9.1v1.2m0 3.3v2.1m0 1v1.2m0 -0.8v1.2m0 2.3v1.2m0 12.2v1.2m0 1.2v1.2m0 0.3v1.2m0 8v1.2m0 3v1.2m0 -1.1v2.1m0 4.1v1.2m0 7.7v1.2m0 1.4v1.2m0 -0.6v1.2m0 2.6v1.2M602 27.6v1.2m0 -0.5v1.2m0 -1.1v1.2m0 6.1v1.2m0 4.2v1.2m0 2.2v1.2m0 10.3v1.2m0 4.7v1.2m0 1.8v2.1m0 8.6v2.1m0 3v2.1m0 9.6v1.2m0 13.6v1.2m0 8.7v1.2m0 1.1v1.2m0 3.9v2.1m0 1.8v1.2m0 1.8v1.2m0 4.9v1.2m0 1.5v1.2m0 4.8v1.2m0 -1.1v1.2m0 -0.3v2.1m0 -1.6v2.1m0 5.3v1.2m0 0.7v1.2m0 0.1v2.1m0 1.9v2.1m0 8.7v1.2m0 1.5v1.2m0 0.7v1.2M603 17.4v1.2m0 4.2v2.1m0 -0.6v1.2m0 -0.3v1.2m0 3.6v2.1m0 2.7v1.2m0 5.1v2.1m0 0.7v1.2m0 -0.2v2.1m0 1.2v2.1m0 5.5v1.2m0 2.2v2.1m0 3.1v2.1m0 1.3v1.2m0 -1.1v2.1m0 -1.4v1.2m0 5.4v1.2m0 2.3v1.2m0 -0.1v2.1m0 0.5v1.2m0 0.5v1.2m0 3.2v1.2m0 1.2v1.2m0 6.4v1.2m0 23.7v1.2m0 -0.2v1.2m0 5v2.1m0 9.2v1.2m0 3.3v1.2m0 1.1v1.2m0 23.9v2.1M604 19.6v1.2m0 2.9v2.1m0 1.7v2.1m0 1.1v1.2m0 16.6v1.2m0 1.6v1.2m0 6.7v2.1m0 3.6v1.2m0 1.8v2.1m0 6v2.1m0 5.6v2.1m0 -0.8v1.2m0 0.6v2.1m0 -1.3v1.2m0 4.9v1.2m0 1.6v1.2m0 4.7v1.2m0 -0.9v1.2m0 1.1v2.1m0 4v2.1m0 3.8v1.2m0 1.4v1.2m0 0.6v1.2m0 4.1v1.2m0 -0.1v1.2m0 8.8v1.2m0 -0.4v1.2m0 1.2v2.1m0 -0.9v1.2m0 -0.9v2.1m0 4.8v1.2m0 5.8v1.2m0 -0.2v2.1m0 2.4v1.2m0 1.9v2.1m0 8.6v1.2m0 -0.8v1.2m0 0.1v1.2M605 18.7v1.2m0 4.1v1.2m0 21.9v1.2m0 3.9v1.2m0 0.1v1.2m0 4.5v1.2m0 3.5v1.2m0 12.6v1.2m0 0.8v2.1m0 1.2v1.2m0 2.2v2.1m0 27.2v1.2m0 7.8v1.2m0 12.3v1.2m0 6.8v2.1m0 1.7v1.2m0 4v2.1m0 0.7v1.2m0 2.8v1.2m0 1.9v1.2M606 24.5v1.2m0 7v1.2m0 8.8v1.2m0 2v2.1m0 15.1v1.2m0 25v1.2m0 1v1.2m0 1.6v2.1m0 20.9v1.2m0 4.4v1.2m0 -0.1v1.2m0 0v1.2m0 31.5v1.2m0 3.2v2.1m0 0.9v1.2m0 2.4v1.2m0 1.5v2.1M607 32.3v1.2m0 0.2v2.1m0 -0.6v2.1m0 -1v1.2m0 -0.1v1.2m0 1.4v1.2m0 0.5v1.2m0 25.9v1.2m0 3.1v1.2m0 -0.8v1.2m0 -0.4v2.1m0 -1.6v1.2m0 9.2v2.1m0 -1.7v1.2m0 -0.8v1.2m0 -0.1v1.2m0 1.5v1.2m0 0.8v2.1m0 -1.9v2.1m0 1.9v2.1m0 3.6v1.2m0 -0.9v2.1m0 -1.1v1.2m0 -0.7v2.1m0 -1v2.1m0 3.5v2.1m0 1.5v1.2m0 16v1.2m0 -0.8v1.2m0 -0.7v1.2m0 5.8v1.2m0 2.5v1.2m0 -0.1v1.2m0 7.2v1.2m0 3v1.2m0 -1.1v1.2m0 -1.1v1.2m0 7.6v1.2m0 -0.4v1.2m0 5.7v2.1m0 -0.1v1.2m0 -0.8v2.1M608 15.3v2.1m0 -1.3v1.2m0 4v1.2m0 14.4v1.2m0 9.9v2.1m0 17.4v1.2m0 2.2v1.2m0 2.7v1.2m0 5.7v1.2m0 -0.7v1.2m0 2.4v2.1m0 -0.3v1.2m0 4.5v1.2m0 3.7v1.2m0 5.2v1.2m0 0.1v2.1m0 3.2v1.2m0 10.6v2.1m0 1.3v1.2m0 -0.2v1.2m0 9.5v1.2m0 12v2.1m0 5.5v1.2m0 4.3v2.1m0 -1.1v2.1m0 4.7v1.2M609 16.1v2.1m0 0.4v1.2m0 9.4v1.2m0 1v1.2m0 -0.3v1.2m0 2v1.2m0 -0.9v1.2m0 7.4v2.1m0 3.8v1.2m0 0.2v1.2m0 2.8v1.2m0 9.8v2.1m0 -1v1.2m0 -1.1v1.2m0 6.2v1.2m0 -0.7v2.1m0 0.2v1.2m0 -0.4v1.2m0 1.9v1.2m0 7.9v1.2m0 17.4v1.2m0 -0.2v1.2m0 1.8v1.2m0 0.8v1.2m0 3.2v1.2m0 1.1v2.1m0 1v1.2m0 5.8v1.2m0 1v1.2m0 -0.6v1.2m0 -0.1v1.2m0 2.1v2.1m0 1.5v1.2m0 20.8v2.1m0 -0.8v1.2m0 0.2v2.1M610 21.2v1.2m0 0.2v1.2m0 1.2v1.2m0 6.2v1.2m0 0.9v2.1m0 4.2v1.2m0 7.2v1.2m0 2v2.1m0 0.3v1.2m0 1v1.2m0 -1v1.2m0 1.2v1.2m0 2.5v1.2m0 1.5v2.1m0 -2v1.2m0 0.8v2.1m0 10.7v2.1m0 0.2v2.1m0 1.4v1.2m0 0.4v1.2m0 1.9v2.1m0 8.9v1.2m0 -1v1.2m0 -1.1v2.1m0 9.9v1.2m0 21.5v2.1m0 -0.9v1.2m0 5.8v2.1m0 -0.9v1.2m0 12.1v1.2m0 1.5v1.2m0 3.6v2.1m0 -0.8v2.1M611 43.1v1.2m0 0.1v1.2m0 0.4v1.2m0 0.4v1.2m0 23.8v2.1m0 1.4v2.1m0 -0.1v1.2m0 30.8v1.2m0 4.3v2.1m0 7.7v2.1m0 5.6v1.2m0 -0.7v2.1m0 22.8v1.2m0 10.8v2.1m0 -0.4v2.1m0 -2v1.2M612 17.5v1.2m0 1.7v1.2m0 -1v1.2m0 5.7v2.1m0 7.6v1.2m0 18.3v1.2m0 -0.5v1.2m0 7.9v2.1m0 -1.8v2.1m0 -1.2v1.2m0 0.1v1.2m0 2.5v1.2m0 11.7v1.2m0 22.9v1.2m0 5v1.2m0 0.3v2.1m0 0v2.1m0 1.5v1.2m0 0.4v1.2m0 1.4v1.2m0 4.8v1.2m0 9.4v2.1m0 -0.4v2.1m0 8.1v1.2m0 -0.1v1.2m0 2.1v1.2m0 0.9v1.2m0 3.9v2.1M613 19.4v1.2m0 4.3v1.2m0 0.3v1.2m0 0.1v2.1m0 2.2v2.1m0 2.5v1.2m0 -0.1v2.1m0 1.1v1.2m0 -1.2v1.2m0 2.8v1.2m0 1v2.1m0 -1.6v2.1m0 -0.7v2.1m0 2.1v1.2m0 5.8v1.2m0 2.7v1.2m0 0.2v2.1m0 0v1.2m0 0.7v1.2m0 8.1v1.2m0 9.3v1.2m0 4v2.1m0 10.5v2.1m0 -2.1v2.1m0 5.2v1.2m0 -0v2.1m0 3.9v1.2m0 2.3v1.2m0 3v2.1m0 -0.9v2.1m0 11.5v1.2m0 26.9v2.1m0 -1.2v1.2m0 1.7v1.2m0 -1.2v2.1m0 -1.9v1.2M614 21.5v1.2m0 0.7v1.2m0 -0.6v2.1m0 5.1v1.2m0 -0.2v1.2m0 11v1.2m0 3.3v2.1m0 12v1.2m0 -0.3v2.1m0 -0.4v2.1m0 14.5v1.2m0 -1v1.2m0 -1v1.2m0 3.5v2.1m0 0.4v1.2m0 -0.9v2.1m0 -0.1v1.2m0 0.4v1.2m0 18.5v2.1m0 -1.7v1.2m0 2.1v1.2m0 -1.1v1.2m0 4.3v1.2m0 3.1v1.2m0 5.9v1.2m0 24.8v1.2m0 0.1v1.2m0 2.8v2.1m0 -1.9v1.2m0 -0.5v1.2m0 1v1.2m0 1.5v1.2M615 17.8v2.1m0 1.7v1.2m0 12.2v1.2m0 0.1v1.2m0 3.2v1.2m0 -0.9v2.1m0 -1.6v1.2m0 0.4v1.2m0 -0.8v2.1m0 0.2v1.2m0 4.6v1.2m0 13.2v2.1m0 2.8v2.1m0 4.7v1.2m0 2.2v1.2m0 -0.1v1.2m0 4v1.2m0 6.7v1.2m0 1.7v1.2m0 -0.2v1.2m0 -0.9v1.2m0 3.9v2.1m0 -0.4v1.2m0 2.2v1.2m0 3.2v1.2m0 -0.2v1.2m0 5.4v1.2m0 1.8v2.1m0 -1.5v1.2m0 7.8v1.2m0 18.3v1.2m0 2.9v1.2m0 -1.1v2.1m0 0v1.2m0 0.4v1.2m0 0.8v1.2m0 -0.2v1.2m0 0.5v2.1m0 1.8v2.1m0 -1.9v1.2M616 21.4v1.2m0 2.4v1.2m0 3.9v1.2m0 1.8v1.2m0 22.3v2.1m0 9.6v2.1m0 1.4v1.2m0 -0.5v1.2m0 7.7v1.2m0 7.9v2.1m0 5.3v1.2m0 12.9v1.2m0 6.3v1.2m0 0.1v1.2m0 -0.9v2.1m0 -1.3v1.2m0 9.2v1.2m0 28.7v2.1m0 2v1.2m0 2.5v1.2m0 1.4v2.1M617 36.1v1.2m0 5.1v1.2m0 6.5v2.1m0 -1.5v2.1m0 1.2v1.2m0 6.1v2.1m0 0.3v1.2m0 7.2v1.2m0 4.9v2.1m0 0.5v2.1m0 -0.8v1.2m0 17.9v1.2m0 8.8v2.1m0 13.2v2.1m0 -1.3v1.2m0 20.3v1.2m0 3.2v1.2m0 -0.2v2.1m0 -1.3v1.2M618 21.8v1.2m0 0.8v1.2m0 8.6v1.2m0 4.7v2.1m0 1.3v1.2m0 1.1v1.2m0 -0.9v1.2m0 9.6v1.2m0 10.2v2.1m0 -1.9v1.2m0 12.3v2.1m0 1.8v1.2m0 14.7v1.2m0 11.6v1.2m0 1.5v1.2m0 -0.9v1.2m0 2.4v1.2m0 7v1.2m0 18.3v2.1m0 6.7v1.2m0 13.1v1.2m0 -0.6v2.1M619 20.4v1.2m0 -0.5v2.1m0 -0.5v2.1m0 -1.3v1.2m0 9.4v1.2m0 3v1.2m0 -1.1v1.2m0 3.6v2.1m0 1.2v2.1m0 -0v1.2m0 2.5v1.2m0 3.2v2.1m0 7.3v1.2m0 2v1.2m0 7.1v1.2m0 5.9v2.1m0 6.6v1.2m0 3.6v1.2m0 1.3v1.2m0 12.2v1.2m0 9.3v2.1m0 -1.8v1.2m0 0.1v1.2m0 1.7v2.1m0 6.3v2.1m0 -0.6v1.2M620 20.7v1.2m0 -0.9v1.2m0 0v1.2m0 0.7v1.2m0 1.3v1.2m0 -0.8v1.2m0 7.2v1.2m0 1.2v1.2m0 -0.6v1.2m0 11.3v1.2m0 -0.3v2.1m0 2.4v1.2m0 2.3v1.2m0 5.4v2.1m0 1.7v2.1m0 -0.2v2.1m0 1.3v1.2m0 4.6v2.1m0 6.1v2.1m0 -2.1v2.1m0 0.9v2.1m0 -1.2v1.2m0 -0.1v1.2m0 9.9v1.2m0 -0v1.2m0 1.4v1.2m0 4.4v1.2m0 8.2v1.2m0 -0.3v2.1m0 -0.7v1.2m0 15.7v1.2m0 0.9v1.2m0 0.6v2.1m0 2.3v1.2m0 6.9v2.1m0 3v1.2m0 -0.3v2.1m0 -0.2v1.2m0 8.1v2.1M621 24v1.2m0 18.1v1.2m0 -0.6v1.2m0 2.5v2.1m0 26.2v2.1m0 0.1v1.2m0 3.4v1.2m0 2.3v1.2m0 2.7v2.1m0 -1.2v1.2m0 5.7v2.1m0 9.7v1.2m0 -1v2.1m0 1.1v1.2m0 -0.9v1.2m0 12.5v1.2m0 1.4v1.2m0 12v1.2m0 -0.6v1.2m0 8.6v2.1m0 2.5v1.2m0 6.7v1.2m0 7v1.2M622 20.9v1.2m0 3.6v2.1m0 -1.4v1.2m0 3.4v1.2m0 7v1.2m0 1.3v1.2m0 2.1v1.2m0 8.4v1.2m0 8.8v1.2m0 8.3v2.1m0 24.3v1.2m0 17.8v2.1m0 0.5v1.2m0 4.9v2.1m0 14.4v1.2m0 -0.9v1.2m0 3.6v2.1m0 -2.1v2.1m0 6.3v1.2M623 20.4v2.1m0 2.8v1.2m0 17.6v1.2m0 -1.1v1.2m0 0.6v1.2m0 -0.3v1.2m0 1.2v1.2m0 21.5v2.1m0 4.2v1.2m0 3.1v2.1m0 1v2.1m0 -2.1v2.1m0 -2v1.2m0 -0.1v2.1m0 -0.3v1.2m0 15.5v1.2m0 11.1v2.1m0 12.1v2.1m0 0.6v1.2m0 -0v2.1m0 -1.8v2.1m0 4.7v2.1m0 2v1.2m0 0.3v2.1m0 3.2v1.2m0 5.7v1.2m0 6.7v1.2m0 1.4v2.1m0 3.6v1.2M624 23.3v1.2m0 8.8v1.2m0 29.4v2.1m0 -1.4v1.2m0 7.8v2.1m0 -1.1v1.2m0 6.8v2.1m0 0.2v1.2m0 1.2v1.2m0 -0.7v1.2m0 9.1v1.2m0 15.2v1.2m0 6.2v1.2m0 1.2v1.2m0 3.5v1.2m0 4.4v1.2m0 0.1v1.2m0 0.6v1.2m0 1.3v2.1m0 1.7v1.2m0 0.6v1.2m0 -0.6v1.2m0 17.8v1.2m0 3.3v1.2m0 -0.1v1.2M625 25.7v2.1m0 1.3v1.2m0 2.5v1.2m0 2.3v2.1m0 12.3v1.2m0 0.2v2.1m0 6.8v1.2m0 4.7v1.2m0 1.9v2.1m0 11.5v1.2m0 10.4v2.1m0 -0.1v1.2m0 6.6v1.2m0 6.3v1.2m0 13.3v1.2m0 5.7v1.2m0 23.1v1.2m0 11.1v2.1m0 1.3v1.2m0 1v1.2M626 41.1v1.2m0 0.6v2.1m0 1.5v2.1m0 1.5v1.2m0 -1.2v2.1m0 -0.9v2.1m0 5.5v2.1m0 -1.5v1.2m0 -0.1v1.2m0 -1.2v1.2m0 7.6v1.2m0 2.9v1.2m0 -0.7v2.1m0 12.7v1.2m0 9.2v1.2m0 -0.9v2.1m0 3.2v1.2m0 0.7v2.1m0 5.9v1.2m0 5.2v1.2m0 11.2v2.1m0 1.2v2.1m0 -0.2v1.2m0 3v2.1m0 16.2v2.1m0 0.4v1.2m0 10.2v2.1M627 33.4v1.2m0 2.7v1.2m0 7.2v2.1m0 -1.1v1.2m0 21.7v1.2m0 4.3v1.2m0 0.8v1.2m0 2.1v1.2m0 3.1v2.1m0 1.9v1.2m0 7.1v1.2m0 7.7v1.2m0 16v1.2m0 21.7v1.2m0 14.2v1.2m0 0.8v1.2m0 -1v1.2m0 0.3v1.2m0 4.9v2.1M628 20.9v1.2m0 3.4v1.2m0 13.4v1.2m0 4.8v2.1m0 2.4v1.2m0 18.2v1.2m0 0.5v1.2m0 0.9v2.1m0 12v2.1m0 0.7v1.2m0 6.5v1.2m0 -0.6v2.1m0 10v2.1m0 5.2v1.2m0 -1.1v1.2m0 -1.2v1.2m0 0.1v1.2m0 4.7v1.2m0 4.7v1.2m0 1.5v2.1m0 0.2v2.1m0 0.8v2.1m0 2.6v1.2m0 -0.2v1.2m0 -0v2.1m0 -0v1.2m0 8.5v1.2m0 -0.8v1.2m0 1.7v1.2m0 -0.6v1.2m0 0.2v1.2m0 -1.1v2.1m0 0.5v1.2m0 0v2.1m0 8.2v1.2M629 18.2v1.2m0 0.5v2.1m0 4v2.1m0 -0.8v1.2m0 -0.1v2.1m0 -1.9v1.2m0 1.1v1.2m0 4.4v2.1m0 1.3v1.2m0 8.7v1.2m0 -0.9v2.1m0 11.2v1.2m0 5.4v2.1m0 1.3v1.2m0 16.1v1.2m0 2v1.2m0 13.6v1.2m0 9.2v1.2m0 12v1.2m0 -0.7v1.2m0 -0.7v1.2m0 3.4v2.1m0 1.1v1.2m0 2.5v1.2m0 9.2v1.2m0 9.7v1.2m0 4.6v1.2m0 -0.6v2.1m0 2.2v2.1m0 -1.4v2.1M630 17.9v2.1m0 9.4v1.2m0 4.1v1.2m0 8v1.2m0 1.9v2.1m0 8v1.2m0 5.9v1.2m0 3.5v2.1m0 -0v1.2m0 8v2.1m0 -0.3v1.2m0 4.4v2.1m0 1.2v1.2m0 9.8v2.1m0 0.6v1.2m0 -0.7v1.2m0 4.1v1.2m0 8.5v1.2m0 0.3v1.2m0 1.3v1.2m0 4.4v1.2m0 15.2v2.1m0 2.5v1.2m0 0.9v1.2m0 8.5v2.1m0 -1.3v2.1M631 21.4v2.1m0 1.3v1.2m0 -0.8v1.2m0 1v1.2m0 10.3v2.1m0 16.6v1.2m0 3v1.2m0 -0.7v1.2m0 0.4v1.2m0 -1.2v1.2m0 7.8v1.2m0 10.6v1.2m0 4.9v2.1m0 8v1.2m0 3v2.1m0 4.7v1.2m0 0.8v2.1m0 2.1v2.1m0 2.4v1.2m0 6.9v2.1m0 6.1v1.2m0 1.3v1.2m0 7.8v1.2m0 2.7v2.1m0 -1.4v1.2m0 2.2v1.2m0 0.3v1.2m0 5.1v2.1m0 3.1v1.2m0 3.4v1.2M632 21.8v2.1m0 0.6v1.2m0 8.4v1.2m0 6.2v1.2m0 5.6v2.1m0 -1.1v1.2m0 9.3v1.2m0 -1.2v1.2m0 -1v1.2m0 -1.1v2.1m0 14v2.1m0 -0.8v1.2m0 1.2v1.2m0 11.3v1.2m0 1.9v1.2m0 0.8v1.2m0 -1.1v1.2m0 1.9v1.2m0 20.7v1.2m0 1.2v1.2m0 1.8v2.1m0 -1.6v1.2m0 -0.8v1.2m0 -0.6v1.2m0 -0.9v1.2m0 1.9v1.2m0 5.3v1.2m0 2.4v1.2m0 0.4v2.1m0 -1.7v2.1m0 -0.8v1.2m0 0.7v1.2m0 12.5v1.2m0 1.2v2.1m0 -1v1.2m0 10.3v2.1M633 16.6v2.1m0 0.6v1.2m0 2.6v1.2m0 -0.6v1.2m0 4.4v1.2m0 -0.9v1.2m0 19.5v1.2m0 11.5v1.2m0 2.1v1.2m0 9.1v1.2m0 21.8v2.1m0 3.9v1.2m0 12v1.2m0 6.2v2.1m0 -1.3v1.2m0 11.2v1.2m0 -0.4v1.2m0 11.4v1.2m0 0.9v1.2m0 1.8v2.1m0 16.6v2.1m0 -1.5v2.1M634 17.7v2.1m0 9.8v1.2m0 -0.3v2.1m0 -0.9v2.1m0 26.2v1.2m0 2.8v1.2m0 5.4v1.2m0 2.7v1.2m0 -0.5v2.1m0 7.2v1.2m0 5.4v1.2m0 0.4v1.2m0 4.9v1.2m0 8v1.2m0 6.6v1.2m0 0v1.2m0 3.8v2.1m0 18.7v1.2m0 5.3v1.2m0 12.2v1.2m0 6.8v1.2m0 -0.8v1.2M635 24.8v1.2m0 8.1v1.2m0 0.8v2.1m0 -1.3v1.2m0 -0.2v1.2m0 0.6v1.2m0 31.6v1.2m0 24.8v1.2m0 9.4v1.2m0 2v1.2m0 11.6v1.2m0 0.1v1.2m0 -1.1v1.2m0 14v1.2m0 -0.2v2.1m0 1.9v2.1m0 13.9v1.2m0 13.5v1.2M636 25.9v2.1m0 3.1v1.2m0 -0.8v1.2m0 -0.7v2.1m0 5.1v1.2m0 0.4v1.2m0 5v1.2m0 11.8v2.1m0 2.7v2.1m0 -0.6v1.2m0 23.5v1.2m0 3.1v2.1m0 4.2v1.2m0 -0.2v1.2m0 1.9v2.1m0 -0.6v2.1m0 2v2.1m0 2.2v1.2m0 9.7v1.2m0 1.8v2.1m0 7.1v2.1m0 -0.5v1.2m0 5.6v1.2m0 4.9v2.1m0 12.9v2.1m0 -1.3v1.2m0 1.8v2.1M637 18.4v1.2m0 -1v1.2m0 2.5v2.1m0 -2.1v1.2m0 11.2v2.1m0 -0.9v1.2m0 11.8v2.1m0 -0.5v1.2m0 4.8v2.1m0 1.3v1.2m0 25v1.2m0 14.3v1.2m0 4.4v2.1m0 -0.8v2.1m0 9.4v1.2m0 5.3v1.2m0 3.8v2.1m0 -0.9v2.1m0 1.2v2.1m0 -2.1v2.1m0 6v1.2m0 5v1.2m0 2.3v2.1m0 -2v1.2m0 2.5v1.2m0 3v1.2m0 -0.2v1.2m0 8.6v2.1m0 0v1.2m0 -0.6v1.2M638 18.2v1.2m0 2.7v2.1m0 7.8v1.2m0 -1v1.2m0 -0.9v1.2m0 21.3v1.2m0 9.8v1.2m0 13.8v2.1m0 1.1v2.1m0 2.3v1.2m0 1v2.1m0 -1.8v1.2m0 4.1v1.2m0 2.4v2.1m0 -1.4v1.2m0 17.4v2.1m0 15.6v2.1m0 7v1.2m0 7.3v1.2m0 2.4v2.1m0 8.2v1.2m0 3.3v2.1M639 23.5v1.2m0 2.2v1.2m0 1.3v1.2m0 1.2v2.1m0 8.9v1.2m0 0.3v1.2m0 -0.7v2.1m0 0.6v2.1m0 9.4v1.2m0 10.6v1.2m0 6.2v1.2m0 -0.5v1.2m0 1v1.2m0 5.8v2.1m0 2.2v1.2m0 6.1v2.1m0 0.3v2.1m0 7.6v1.2m0 0.2v2.1m0 2.4v1.2m0 0.1v1.2m0 -0.9v1.2m0 3.9v1.2m0 0.6v1.2m0 33.3v1.2m0 2.6v1.2m0 -1.1v1.2M640 19.5v2.1m0 20.1v1.2m0 1.4v1.2m0 -0.2v1.2m0 -0.2v2.1m0 -1.3v1.2m0 22v1.2m0 19v1.2m0 23v1.2m0 11.3v2.1m0 0.2v1.2m0 4.1v1.2m0 10.6v2.1m0 3.6v2.1m0 12.2v1.2m0 6.1v1.2M641 17.8v1.2m0 12v1.2m0 -0.3v1.2m0 2v1.2m0 1.1v1.2m0 6.8v1.2m0 -0.5v1.2m0 2.2v1.2m0 1.6v2.1m0 6.8v2.1m0 -1.8v2.1m0 -1.6v1.2m0 5.2v1.2m0 17v1.2m0 3.6v1.2m0 -1.2v1.2m0 1.6v1.2m0 12.6v1.2m0 2.3v1.2m0 5.2v2.1m0 -0.6v1.2m0 1.8v1.2m0 -0.7v1.2m0 2.3v1.2m0 4.7v1.2m0 4.7v1.2m0 12.2v1.2m0 2.2v2.1m0 1.1v1.2m0 0.2v1.2m0 1.3v1.2m0 4.8v2.1m0 7.7v2.1M642 19.7v1.2m0 3.2v1.2m0 3.5v2.1m0 0.1v2.1m0 4.4v1.2m0 6.9v1.2m0 0.7v1.2m0 7.4v2.1m0 -0v1.2m0 8.7v1.2m0 6.8v1.2m0 3.1v1.2m0 2.9v1.2m0 10.1v2.1m0 2.7v1.2m0 1.1v1.2m0 1v2.1m0 -1.2v2.1m0 1.2v1.2m0 1.1v2.1m0 0.3v1.2m0 4.5v1.2m0 7.7v1.2m0 19.2v1.2m0 -0.4v1.2" stroke="#0a0a0a" stroke-width="1.35" fill="none" transform="translate(0.5,0)"/>
<rect x="295.5" y="15.3" width="19.5" height="163.7" fill="#0f240f"/>
<path d="M295 106.4h1.5M295 88.8h2M295 46.2h2M295 92.7h2M295 144.3h1M295 88h1M295 30.1h1M295 112.2h1.5M295 172.3h2M295 121.1h2M295 17.7h2M295 25.6h1M295 46.2h1M295 112.9h1.5M295 68.4h2M295 152.4h2M295 53.3h1M295 96.6h1M295 89.7h1M295 81.5h2M295 177.3h1M295 130.5h1M295 138.6h2M295 62.3h1M295 106.9h1M295 80.4h1M295 78.2h1M295 153.2h1M295 50h1M295 91.8h1.5M295 83.6h2M295 117.7h1M295 70.1h1M295 69.4h1.5M295 138.6h1M295 37.2h1M295 17.1h1.5M295 145h1M295 126.3h1M295 88.1h1M296 140.5h1.5M296 120h1M296 79.5h1M296 15.4h2M296 64.8h1M296 49.6h1.5M296 177.3h2M296 119.7h1M296 22.2h1M296 50h1M296 16.9h2M296 68.8h1M296 78.1h1M296 30h2M296 118.9h1M296 113.1h1M296 116.5h1M296 171.4h1.5M296 150.7h1M296 156.3h1M296 117.4h1M296 163.1h2M296 55.9h1M296 41.1h2M296 47.3h1.5M296 158.8h2M296 28.1h1M296 32.2h1M296 98.7h1M296 54.1h1.5M296 57.1h2M296 95.2h2M296 43.8h1M296 35.9h1.5M296 106.3h2M296 115.2h1M296 49.9h1M296 137.2h1M296 59.1h1.5M296 55.8h1M297 75.3h2M297 173.6h1M297 74.2h1.5M297 174.8h2M297 110.4h1M297 111.3h1M297 92.5h1M297 129.3h1M297 18.8h1M297 93.8h1M297 67.2h1M297 27.5h2M297 75.1h1M297 161.8h1M297 144.4h1M297 72.5h1.5M297 161.9h1.5M297 168.9h1M297 155.8h2M297 17.7h1.5M297 77h1M297 114.4h1M297 30h1M297 176.9h1.5M297 133.8h1.5M297 167.3h2M297 89.8h1.5M297 151.7h1M297 99.7h2M297 20.1h2M297 29.6h1M297 52.8h1M298 115.3h1.5M298 56.9h1M298 75.2h1M298 125.6h1M298 99.6h1M298 122.7h1.5M298 96.4h1M298 68.5h1M298 47.6h1.5M298 146.1h1M298 158.5h1.5M298 51h1M298 49.4h1M298 96.1h1M298 131h1M298 149h1M298 88.6h1M298 165.9h1.5M298 77.5h2M298 95.7h1M298 131.8h2M298 88.9h1M298 150.1h1M298 157.3h1M298 125.7h1M298 108.1h1M298 120.9h2M298 18.4h1M298 81.2h1M298 19.3h1M298 53.9h1M298 144.9h1M298 87.9h2M298 121.9h1M298 171.2h1M299 92.6h1M299 131.5h1.5M299 102.3h1M299 44.4h1M299 142h2M299 128.8h2M299 96.7h1M299 79.3h1M299 29.5h1.5M299 36.4h1.5M299 47.3h1M299 76.6h2M299 121.5h2M299 144.9h1M299 90.7h1M299 31.4h1M299 50h1.5M299 174.8h1M299 102.7h1M299 57.9h1M299 72h1M299 21.3h1M299 104.8h1M299 94.6h1M299 50.8h1M299 85.1h1M299 43.4h1M299 127h1M299 91.9h2M299 161.8h2M299 152h1.5M299 169.2h1.5M300 127.4h1M300 86.8h2M300 62.5h2M300 119.2h2M300 99h2M300 57h1.5M300 170.6h2M300 49.2h1M300 172.9h2M300 59.7h1.5M300 48h2M300 33.9h1M300 113.8h1M300 102.9h1M300 99.3h1.5M300 103.8h2M300 35.1h1M300 127.7h1M300 166.7h1.5M300 82.6h1.5M300 59.1h1.5M300 95.5h1M300 85.9h1.5M300 100.7h1M300 46.4h2M300 20.1h1M300 36.4h1M300 21.1h1M300 52.3h1M300 67.7h1M300 55.1h1.5M300 32.4h2M300 35.3h2M300 116.7h1M300 129.4h1.5M300 19.1h1.5M301 115.5h2M301 48.5h2M301 119.2h2M301 50.5h2M301 114.8h1M301 53.2h1M301 162.2h1M301 113.4h1M301 50.8h1M301 159.7h1M301 159.9h1M301 133.5h1M301 78.4h1.5M301 150.7h1.5M301 103.7h1M301 47.9h1M301 30.9h2M301 126.3h1M301 34.1h2M301 118.6h1M301 97.1h1M301 145.9h1.5M301 32.6h1M301 139.3h2M301 99.1h2M301 93.6h1M301 45.3h1M301 43.4h1M301 176.4h1M301 109.6h1M301 170.1h1.5M301 27.9h1M301 68.5h1.5M301 84.7h1M301 85.3h2M301 76h1M301 152.7h1M301 81.7h1M301 135.6h1.5M302 113.7h1M302 98.7h1M302 68h1M302 145.7h1.5M302 108h1M302 97.3h1M302 146.2h1M302 60.8h1M302 136.4h1M302 147.8h1.5M302 37h1M302 158.5h1M302 140.1h1M302 81.3h1M302 26.8h1M302 64.4h1M302 17h1M302 176.5h2M302 23.4h1M302 169h1M302 70.3h1.5M302 108h2M302 27.8h2M302 178h1M302 129.4h1.5M302 174.8h1M302 34h1M302 135.5h1M302 87.5h2M302 23.5h1M302 120.7h1M302 31.3h1M302 60.2h1M302 104.8h2M302 82.9h2M302 107.7h1M302 119.1h1M302 104.7h1M302 78.2h1M302 78.1h1M302 154.5h2M303 24.8h1.5M303 83.7h2M303 80.1h1M303 74.8h1M303 93.9h1M303 106.5h1M303 123.3h1M303 19.7h1M303 110.6h1M303 81.8h1.5M303 23.9h1M303 137.1h1M303 110h1M303 27.3h1M303 85.2h1.5M303 56.1h1M303 22.7h1M303 167.8h1.5M303 38.8h1M303 113.5h1M303 23.5h1.5M303 89.4h1M303 155.4h1M303 101.2h1M303 74.4h1M303 124h1.5M303 113.1h2M303 126.3h1M303 141.9h2M303 147.9h1M303 170.3h1M303 54.1h1M303 97.1h1M303 142.9h2M303 153h1M303 59.5h2M303 129h1M304 137.9h1M304 170.2h2M304 174.7h1M304 158.3h1M304 117.5h1M304 59.4h1.5M304 19.7h1M304 32h2M304 60.6h1M304 163.8h1M304 104.9h1M304 94h1M304 49.6h1M304 95.7h1M304 151.7h1M304 145.8h1.5M304 147h2M304 151.6h1M304 87.6h1M304 78.8h1M304 75.3h2M304 68.2h2M304 138.8h1M304 84.9h1M304 109.8h1.5M304 157.7h1M304 103.7h1.5M304 107.1h1.5M304 147.9h1.5M304 63.9h1M304 27.7h1M304 163.5h2M304 28.6h1M304 95.8h1M304 61.3h1M304 50.9h1M304 74.9h1M305 87h2M305 164.7h1M305 86.6h1M305 89.9h1M305 80.3h2M305 55.7h1M305 150.1h1M305 74.4h1.5M305 110.4h1M305 135.5h1M305 145h2M305 40.5h2M305 106.9h1M305 29.9h1.5M305 158.6h1M305 147.4h1M305 99.2h2M305 41.1h1M305 172.5h1.5M305 25.7h2M305 65h2M305 29h1M305 59.8h1M305 161.6h1M305 19.5h1M305 31.2h1.5M305 55.2h1M305 94.9h2M305 70.3h1.5M305 79.5h1M305 146.6h1M305 124.7h1.5M305 94.7h1M306 164.2h1.5M306 138.5h1M306 154.2h1.5M306 151h1.5M306 171.1h1M306 100.5h1M306 145.8h1.5M306 165.6h1M306 55.3h1M306 176.5h1.5M306 126.6h1M306 48.6h1.5M306 101.4h1M306 173.1h1M306 92h1M306 64.7h1M306 141.5h1M306 163.7h1.5M306 18.1h1.5M306 163.2h1M306 66.2h1M306 45.3h1M306 111h2M306 132h2M306 98.1h1.5M306 45.4h1M306 80.8h1M306 117.3h2M306 93.3h1M306 94.2h1.5M306 164h1M306 122.7h1M306 93.8h1M306 80.3h1M306 169.5h1.5M306 174.1h2M306 141.3h1M306 122.3h1M307 157.5h1M307 88.5h1M307 131.4h2M307 157.6h1.5M307 40.8h1M307 38.8h2M307 36.6h2M307 58.7h2M307 23.9h2M307 140.6h1M307 48.5h1M307 149.1h1M307 72.5h2M307 131.9h1M307 160h1.5M307 28.8h2M307 103.7h2M307 64.7h1M307 83.1h1M307 142.4h1.5M307 49.2h2M307 82.5h1.5M307 40.9h1M307 66.7h1.5M307 27.7h1M307 177.6h1M307 73.8h1M307 32.5h1.5M307 125.3h1M307 121.7h1M307 155.8h1.5M307 53.9h2M307 33.7h1M307 154.6h1M307 162h1M307 62.5h1.5M307 167.8h1M307 170.5h1.5M307 105.7h1M307 57h1M308 33.1h1M308 169.1h2M308 91.7h1M308 88h1.5M308 30.3h1M308 116.5h1M308 125.6h1M308 44.6h1.5M308 21.2h1.5M308 111.7h1M308 31.6h1M308 40.9h1M308 85.9h1M308 70.9h1.5M308 166.1h1M308 120.6h1M308 148.9h1.5M308 93.8h1.5M308 116.7h1.5M308 115.1h1M308 175.1h1M308 122.7h2M308 101.5h1M308 69.2h1M308 65.2h1.5M308 32.6h1.5M308 48.6h1M308 143.6h1M308 114.8h1M308 56.6h2M308 162.2h2M308 53.4h2M308 96.7h1M308 108.7h1M309 99.3h1M309 107.6h1M309 117.3h1M309 141.7h1M309 55.1h2M309 83.2h1M309 68.9h1M309 58.6h1M309 88.9h1M309 54.1h2M309 103.7h2M309 25.6h1M309 42.7h1M309 113.2h1M309 167.3h1M309 62.3h1M309 54.5h2M309 74.4h1M309 45.5h2M309 147.3h1.5M309 20.5h1M309 142.6h1M309 65.4h1.5M309 115.4h1M309 41.1h1.5M309 91.4h1M309 101.2h1M309 108h1M309 70h1M309 58.2h2M309 166.9h1M309 119.7h1M309 132.7h1M309 80.9h1.5M309 112.9h1.5M309 71.5h2M309 163.9h2M309 138.6h1M309 94.3h1.5M309 151.7h1.5M309 149.5h1M310 162.6h2M310 69.1h2M310 85.6h1M310 67.5h1M310 63.5h2M310 161.8h1.5M310 112.5h1M310 158.9h1M310 55.1h1.5M310 54.7h1.5M310 173.5h1.5M310 128.4h2M310 163.3h2M310 65.1h1.5M310 168.3h1M310 177.9h1M310 156.3h1.5M310 107.1h1M310 51.4h1.5M310 107.5h1M310 31.3h1M310 35.4h2M310 109h1.5M310 15.4h1M310 133.8h1M310 68.1h1M310 87h1.5M310 148h1.5M310 38.3h2M310 52.9h1M310 20.4h1M310 65.4h1.5M310 38.6h1.5M310 158.3h1M310 63.4h1M310 47.1h1M311 17.9h2M311 48.2h1M311 46.5h1M311 121.1h1M311 133.4h1M311 171.7h1M311 156.8h1M311 69.8h1.5M311 82.8h1M311 51.6h1M311 34.9h1M311 59.1h1M311 96.9h1M311 143.9h1M311 146.1h2M311 159.2h2M311 99.2h1M311 161h1M311 123.8h1M311 36.9h1M311 90.6h1M311 86.9h2M311 27.3h1M311 16.4h2M311 61.6h1M311 84.2h2M311 29.5h1M311 176.1h1M311 55.3h1M311 134.8h1M311 45.6h1M311 176h1M311 116.5h2M311 77.9h1.5M311 25.1h1M311 105.8h1M311 67.5h1.5M311 142.7h2M311 62.7h2M311 136.4h2M312 142.1h1M312 33.5h1.5M312 53.6h1.5M312 104.4h1M312 143.3h1M312 57.5h2M313 109.7h1.5M313 57.8h1M313 112.4h1M313 108.5h1M313 68.2h2M313 18.2h1.5M314 97.3h1M314 154.7h1M314 27.1h1M314 107.9h2M314 109.6h1M314 116.7h1" stroke="#8fcc9a" stroke-width="1" fill="none" opacity="0.58"/>
<path d="M295.7 66.7h5.9M298.1 115.9h5.6M295.9 110.7h8.9M296.8 44.5h5M299.7 126.9h8.7M297.6 27h6.2M300.4 51.6h4.3M299.3 95h9.9M297.8 40.2h8.5M296.7 23.5h9.3" stroke="#b4e6bb" stroke-width="1.1" fill="none" opacity="0.6"/>
<rect x="495" y="15.3" width="19.2" height="163.7" fill="#0f240f"/>
<path d="M495 122.3h1M495 38.5h1M495 177.5h1.5M495 59.9h1.5M495 127.7h2M495 52.3h1M495 122.9h1M495 174.4h1M495 41.7h1M495 24.9h1M495 27.4h1M495 126.2h1M495 18.3h1M495 148.7h2M495 51.6h1.5M495 169.3h1M495 122.8h1M495 103.1h2M495 106.1h1M495 105.6h2M495 148h1.5M495 114.1h2M495 91.7h2M495 77.9h1M495 119.5h1M495 172.7h1M495 73.3h1M495 156.2h1.5M495 124.9h1M495 56.4h1M495 74.4h2M495 108.6h2M495 44.5h1.5M495 149.1h1.5M495 20.6h1M495 51.4h1.5M495 22.4h1M495 140.9h1M495 137.9h1M495 44.3h1M496 60.3h1M496 113.3h1M496 98.9h1M496 49.3h1M496 89.4h1.5M496 54.3h1M496 90.9h2M496 74.6h1M496 140h1M496 163.7h1M496 169.5h1M496 44.5h1M496 96.9h1M496 116h1M496 177.8h2M496 40.5h1M496 158.8h1M496 119.3h1M496 142.9h2M496 93h1M496 58h1.5M496 160.8h1M496 88.3h2M496 157.4h1M496 69h2M496 119.5h1.5M496 130h1M496 134.7h2M496 56.8h1M496 128.2h1M496 106.1h1M496 83.7h1M496 47.9h1.5M496 174.7h2M496 108.1h1M496 139h1.5M496 85.5h1M496 161.9h1M496 109.7h1M496 174.7h1.5M497 18.1h1M497 162.3h1M497 161.3h1.5M497 102.3h1.5M497 144.2h1M497 46h1M497 167.3h2M497 95.3h2M497 35.6h2M497 112.8h1.5M497 109.8h1M497 81.5h1M497 28.7h1M497 38.4h1M497 132.6h1M497 128.5h1.5M497 74.8h1M497 49.3h2M497 87.5h1M497 24.5h2M497 70.8h1M497 159.2h1M497 168.9h1M497 172.1h1M497 60.8h1M497 127.3h1M497 51.2h1M497 96.8h1M497 41.7h1.5M497 78.6h2M497 152.4h1M497 90.2h1M497 150.6h1M497 81.6h1.5M497 100.1h1.5M497 123.2h1M498 126.1h1M498 139.3h1M498 67.7h1.5M498 161h1M498 43h1.5M498 52h2M498 37.2h1.5M498 22.8h1M498 61.8h2M498 61.3h2M498 67.5h1M498 57.5h1M498 152.4h2M498 144.8h1.5M498 82.4h2M498 122.4h1M498 81.5h1.5M498 95.4h1.5M498 147.9h1M498 42.9h1M498 151.3h1M498 173.3h2M498 159.7h1M498 174.8h1M498 140.7h1M498 150.8h1M498 137.2h1M498 105.7h1M498 17.4h1M498 47.1h1M498 131.8h1M498 166.1h1M498 141.1h2M498 155.6h2M498 163.5h1M498 126.7h2M499 31.3h1M499 121.3h1.5M499 97.5h1M499 91.3h1.5M499 154.1h2M499 19.9h1M499 18.6h1M499 95.3h1M499 127.6h1.5M499 104.6h2M499 76.3h1M499 151.8h1M499 72h1M499 32.9h1M499 146.4h1M499 167.1h1M499 33.7h2M499 115.5h1M499 111.8h2M499 166h1.5M499 117.7h1.5M499 138.4h1.5M499 121h1M499 145.5h1.5M499 29.5h2M499 70.2h1M499 175.8h1M499 38.4h1M499 165.6h2M499 37.5h1M499 17.3h1M499 35.3h1.5M500 149.7h1M500 70.6h1.5M500 139.8h1.5M500 71h2M500 118.7h2M500 74.1h1M500 70.8h1M500 114.9h1M500 151.7h1.5M500 136.5h1M500 71.2h1M500 34.7h2M500 118.1h1M500 74.3h1M500 112.2h2M500 60.2h1M500 65.7h1M500 162.8h1M500 168.8h2M500 90.1h1M500 116.9h1M500 168.3h2M500 75h1M500 155h1M500 63.6h1M500 176.7h1.5M500 22.3h1M500 120.7h1M500 151.1h2M500 31.8h1M500 41.9h1.5M500 176.3h1M500 43.2h1.5M500 52.5h1M500 152.2h1M500 45.8h1M500 119.1h1M500 111.3h1.5M501 65.8h1M501 167.8h1.5M501 87.1h1.5M501 73.8h1M501 54.2h2M501 142.9h1.5M501 96.9h2M501 153.5h1M501 73.1h1M501 37.5h1M501 160.2h1M501 78.8h1M501 162.1h1M501 127.6h2M501 83.8h1M501 44.5h1.5M501 82.6h1M501 38.4h1.5M501 34.3h1M501 55.3h1M501 35.1h2M501 77.1h1.5M501 65.3h1M501 167.1h1M501 151.8h1.5M501 155.3h1M501 166.9h2M501 148.8h1M501 35.8h1M501 139.8h2M501 32.9h1M501 57.7h2M501 104.2h1.5M501 33h2M501 99.9h2M501 151.8h1M501 86.2h1M501 176.5h1.5M502 80.4h1M502 104.2h2M502 89.3h2M502 80.3h1M502 153.1h1M502 82.8h1M502 19.3h1M502 101.2h2M502 60.4h1M502 51.1h1.5M502 60.8h2M502 136.8h2M502 28.4h1M502 156.7h1M502 128h1M502 28.7h1M502 149.6h1M502 174h1M502 25.7h1M502 37.1h2M502 102h1M502 104.5h1M502 174.4h1M502 150.7h1M502 122.8h1M502 89.8h1.5M502 129.4h1M502 149.4h1M502 61.7h1.5M502 48.8h1M502 166.9h1M502 73.5h1M502 115h1M502 82.8h1M503 64.5h2M503 116.5h2M503 162.5h1M503 116.8h2M503 66.6h1M503 164.7h1M503 166.9h1M503 159.2h1M503 171.4h1M503 114.5h1.5M503 177h1M503 177.7h1M503 86.4h1M503 66.8h1M503 118h1M503 122.7h1.5M503 162h1M503 116.3h1M503 124.1h1.5M503 161.1h1M503 99h1.5M503 102.2h1.5M503 130.2h1M503 152.9h1M503 111.4h1M503 101.6h1.5M503 175.7h1M503 48.1h1.5M503 50h1M503 116.9h1M504 165.5h1.5M504 99.4h1.5M504 121.9h1M504 42.8h2M504 121.1h2M504 38.7h2M504 129.4h1M504 117.2h1M504 22.4h1.5M504 134.1h1.5M504 135.9h1M504 41.2h1M504 154.8h1.5M504 114.3h2M504 105.8h1M504 166.4h1.5M504 144.4h1M504 160.7h2M504 104.6h1M504 100.7h1M504 56h1.5M504 41.8h1M504 164.3h2M504 158.2h1M504 84.7h1M504 88.6h2M504 35.8h1M504 117.8h2M504 45.1h1M504 124.7h1M504 16.7h2M504 38.2h1M504 106.1h1M504 86.7h2M504 148h2M505 63.4h1M505 164.3h1M505 152.3h1M505 39.9h1M505 16.9h1M505 58.1h1M505 34.6h2M505 42.8h2M505 145h1M505 158.3h1.5M505 149.3h1.5M505 75.8h1M505 164h1M505 32.5h1M505 52.8h1M505 159.4h1M505 141.8h1.5M505 92.9h1M505 34.8h1.5M505 16.5h1M505 86.6h1.5M505 125.8h1.5M505 159.3h1.5M505 127.9h1M505 160.2h1M505 114.2h1M505 127.2h1.5M505 66.1h1M505 171.9h1M505 23h1M505 66.6h1.5M505 106.5h1M506 146h1.5M506 36.6h2M506 68.8h1.5M506 16.3h1.5M506 60.2h1M506 65.7h1M506 18.7h1M506 84.3h1M506 47h1.5M506 37.2h2M506 147.7h1M506 62.5h1M506 175.4h1M506 18.8h1M506 102.4h1M506 75.1h1M506 172.7h2M506 34.4h1M506 165.3h2M506 72.6h1.5M506 45.4h1M506 132.5h1M506 84.8h1M506 135.5h1M506 87.7h1M506 164.6h1M506 92.3h1M506 98.9h1M506 140.2h1M506 170.1h1M506 104.2h1.5M506 155.8h1M506 155.2h1M506 94.5h1M506 175.5h1M506 92.1h1.5M506 141.9h2M506 65.7h2M506 93.7h1.5M506 109.4h2M506 92.8h1M507 110.7h1.5M507 141.1h1M507 43.2h1M507 147.2h1M507 100.9h1M507 49h1M507 150h1M507 43h2M507 147.4h1.5M507 157.2h2M507 128.7h1.5M507 41.9h1M507 162.5h2M507 96.1h1M507 165.7h1M507 18.8h2M507 32.1h1M507 143.6h1M507 171.4h1.5M507 106.9h1.5M507 70h1.5M507 85.9h1M507 128.4h1M507 35.2h2M507 156.3h2M507 96.7h1M507 38.9h1M507 102h1M507 19.6h1M507 85.6h1.5M507 116.6h1M507 115h1.5M507 22.3h1M507 25h1.5M507 32.3h2M507 60.8h2M507 45.9h1.5M508 55.1h1M508 49.1h1.5M508 113.4h1M508 139.6h1M508 103.3h1M508 141.3h1M508 85.8h1.5M508 75.6h2M508 77.7h2M508 96.1h1.5M508 24.5h1M508 38.8h1.5M508 88.1h1M508 61.8h1M508 54.3h2M508 83.6h2M508 147.8h1M508 21.4h1.5M508 154.5h2M508 166.9h1M508 65.2h1M508 22.4h2M508 171.7h1.5M508 138.4h2M508 92.9h1M508 31.5h1M508 43.8h2M508 145.6h2M508 95.1h1M508 148h1M508 177.1h2M508 145.5h1M509 74.2h1.5M509 51.6h2M509 83.5h1M509 34.4h1M509 92.2h1.5M509 149.4h1M509 25.9h1M509 26.1h1M509 136.7h2M509 83.5h1M509 153.9h1M509 128.4h1M509 59h1.5M509 105.2h1M509 120.4h1M509 172h1M509 161.1h1.5M509 43.6h1M509 153.9h2M509 135.2h1M509 58.4h1M509 161.7h1.5M509 57.1h1M509 59.2h2M509 47.5h1M509 47.4h2M509 68.1h1M509 109.1h2M509 97.4h1M509 90.1h1M509 76h2M509 112.7h1M509 64.9h1M509 148.2h1.5M509 132.9h1.5M509 82.7h2M509 75.2h1M509 90.4h1M509 121.8h2M509 71.9h2M510 168.4h2M510 120.5h1.5M510 19.7h2M510 98.7h1M510 83.2h2M510 142.7h1M510 145.9h1M510 172.8h2M510 135.4h1M510 97.9h1.5M510 51h1M510 131.9h1M510 98h1M510 29.4h1M510 148.4h1.5M510 126h1.5M510 57h1M510 49.9h1.5M510 93.2h1.5M510 73h1M510 99.5h2M510 112.5h1M510 106.5h1M510 87.9h1M510 85.2h2M510 20.5h2M510 37.1h1.5M510 156.5h2M510 119.2h1M510 153.8h1M511 91h2M511 133.6h1.5M511 134.1h1M511 108.7h2M511 170.7h1M511 171.1h1.5M512 117.1h1M512 28.3h1M512 29.8h2M512 162.5h1M512 162.7h1M512 21.7h1.5M513 146.6h2M513 151.2h2M513 19h1M513 148.8h1M513 108h2M513 17h2" stroke="#8fcc9a" stroke-width="1" fill="none" opacity="0.58"/>
<path d="M495.2 159.7h8.8M498.9 168.7h6.5M498 95.5h10M499.4 86.1h5.5M495.2 41.3h6.6M496.9 103.7h9.2M497 97.5h8.1M499.1 38h7.3M498.2 116.4h7.1M498 38h6.2" stroke="#b4e6bb" stroke-width="1.1" fill="none" opacity="0.6"/>
<line x1="82.1" y1="15" x2="82.1" y2="179.8" stroke="#000" stroke-width="1.9"/>
<line x1="82.1" y1="15.6" x2="86" y2="15.6" stroke="#000" stroke-width="1.3"/>
<text x="73.6" y="19.2" font-size="11" text-anchor="end" fill="#000" textLength="28" lengthAdjust="spacingAndGlyphs">4000</text>
<line x1="82.1" y1="56.5" x2="86" y2="56.5" stroke="#000" stroke-width="1.3"/>
<text x="73.6" y="60.1" font-size="11" text-anchor="end" fill="#000" textLength="28" lengthAdjust="spacingAndGlyphs">3000</text>
<line x1="82.1" y1="97.4" x2="86" y2="97.4" stroke="#000" stroke-width="1.3"/>
<text x="73.6" y="101" font-size="11" text-anchor="end" fill="#000" textLength="28" lengthAdjust="spacingAndGlyphs">2000</text>
<line x1="82.1" y1="138.3" x2="86" y2="138.3" stroke="#000" stroke-width="1.3"/>
<text x="73.6" y="141.9" font-size="11" text-anchor="end" fill="#000" textLength="28" lengthAdjust="spacingAndGlyphs">1000</text>
<line x1="82.1" y1="179.2" x2="86" y2="179.2" stroke="#000" stroke-width="1.3"/>
<text x="73.6" y="182.8" font-size="11" text-anchor="end" fill="#000" textLength="7" lengthAdjust="spacingAndGlyphs">0</text>
<text x="0" y="0" font-size="11.5" text-anchor="middle" fill="#000" textLength="41.8" lengthAdjust="spacingAndGlyphs" transform="translate(32.6,97.3) rotate(-90)">Neuron</text>
<line x1="418.7" y1="202.5" x2="643.4" y2="202.5" stroke="#000" stroke-width="1.5"/>
<text x="619.8" y="231.8" font-size="18.5" text-anchor="start" fill="#111" textLength="16.6" lengthAdjust="spacingAndGlyphs">1s</text>
<rect x="296.1" y="241.1" width="17.8" height="163.7" fill="#eef7ef"/>
<rect x="496" y="241.3" width="17.6" height="163.6" fill="#eef7ef"/>
<line x1="82.1" y1="240.9" x2="82.1" y2="405" stroke="#000" stroke-width="1.5"/>
<line x1="82.1" y1="249" x2="85.7" y2="249" stroke="#000" stroke-width="1.3"/>
<text x="73.3" y="253.2" font-size="11.4" text-anchor="end" fill="#000" textLength="25.4" lengthAdjust="spacingAndGlyphs">10.0</text>
<line x1="82.1" y1="287.8" x2="85.7" y2="287.8" stroke="#000" stroke-width="1.3"/>
<text x="73.3" y="292" font-size="11.4" text-anchor="end" fill="#000" textLength="18.1" lengthAdjust="spacingAndGlyphs">7.5</text>
<line x1="82.1" y1="326.7" x2="85.7" y2="326.7" stroke="#000" stroke-width="1.3"/>
<text x="73.3" y="330.9" font-size="11.4" text-anchor="end" fill="#000" textLength="18.1" lengthAdjust="spacingAndGlyphs">5.0</text>
<line x1="82.1" y1="365.5" x2="85.7" y2="365.5" stroke="#000" stroke-width="1.3"/>
<text x="73.3" y="369.7" font-size="11.4" text-anchor="end" fill="#000" textLength="18.1" lengthAdjust="spacingAndGlyphs">2.5</text>
<line x1="82.1" y1="404.3" x2="85.7" y2="404.3" stroke="#000" stroke-width="1.3"/>
<text x="73.3" y="408.5" font-size="11.4" text-anchor="end" fill="#000" textLength="18.1" lengthAdjust="spacingAndGlyphs">0.0</text>
<text x="81.7" y="419.6" font-size="11" text-anchor="middle" fill="#000" textLength="7" lengthAdjust="spacingAndGlyphs">0</text>
<text x="0" y="0" font-size="11.5" text-anchor="middle" fill="#000" textLength="85.8" lengthAdjust="spacingAndGlyphs" transform="translate(36.4,323.3) rotate(-90)">Firing rate (Hz)</text>
<text x="362.9" y="436.7" font-size="11.3" text-anchor="middle" fill="#000" textLength="57" lengthAdjust="spacingAndGlyphs">Time (ms)</text>
<path d="M88,371.9 89.5,376.6 91,375.6 92.5,371.6 94,373 95.5,372.3 97,373.3 98.5,374 100,368.6 101.5,368.1 103,373.9 104.5,371 106,373.3 107.5,367.8 109,371 110.5,373 112,369.4 113.5,374.5 115,374.2 116.5,367.9 118,367.8 119.5,371.5 121,374.4 122.5,370.4 124,369.1 125.5,370.6 127,367.8 128.5,369.1 130,370.7 131.5,371.1 133,369.1 134.5,369.1 136,369 137.5,370.7 139,369.5 140.5,367.5 142,373.4 143.5,371.3 145,371.9 146.5,368.6 148,374.4 149.5,373.4 151,368.1 152.5,369.6 154,372.4 155.5,372.3 157,373.9 158.5,370.2 160,373.1 161.5,371.9 163,369.3 164.5,371.3 166,373.4 167.5,373.1 169,370.6 170.5,371.2 172,367.2 173.5,368.7 175,372.7 176.5,369.9 178,368.1 179.5,370.8 181,371.9 182.5,371.7 184,369.5 185.5,369.9 187,370.4 188.5,372.4 190,370.5 191.5,369.5 193,370.2 194.5,366.9 196,367 197.5,371.7 199,373.7 200.5,370.9 202,369.4 203.5,367.8 205,370.2 206.5,373.6 208,372.1 209.5,370.4 211,372.7 212.5,368.2 214,370.2 215.5,373.3 217,370.6 218.5,369.7 220,368.4 221.5,370.4 223,373.3 224.5,366.4 226,372 227.5,372.3 229,372.7 230.5,371.7 232,372.2 233.5,370 235,370.3 236.5,369.4 238,366.7 239.5,372.5 241,370.4 242.5,367.7 244,369.9 245.5,369.7 247,368.8 248.5,368.7 250,370 251.5,370.6 253,370.6 254.5,369.4 256,366.3 257.5,367.8 259,367.4 260.5,370.3 262,372.3 263.5,371.8 265,371.8 266.5,371.9 268,367.9 269.5,372.1 271,369.2 272.5,362.5 274,360.9 275.5,363.3 277,371.1 278.5,366.8 280,364.5 281.5,367.1 283,368 284.5,369.7 286,371.3 287.5,370.8 289,365.1 290.5,362.7 292,365.8 293.5,365 295,365.6 295.3,366 296.5,332 296.7,327 298,326 298.9,324.9 299.5,319.9 300.7,311.5 301,317.2 302.2,342 302.5,338.2 304,315.9 304.3,310.1 305.5,304.8 307,298.4 308,295 308.5,289 310,274.6 311.2,262.4 311.5,263.7 313,270.7 314.5,256.5 315.2,249.1 316,266.7 317.4,297.9 317.5,300.3 319,326.3 320.5,353.1 321.5,370.3 322,363.8 323.5,341.8 325,321.1 325.1,320.7 326.5,314.9 328,307.8 328.2,307.9 329.5,283.5 330.5,266.4 331,267.4 332.5,270.8 333.3,272.6 334,267.2 334.7,263.6 335.5,281.6 337,319.2 337.8,338.7 338.5,341.3 340,347.4 341.4,354.9 341.5,354.6 343,346.5 343.2,345.2 344.5,326.8 345.9,307.1 346,306.7 347.5,304.9 348.6,302.7 349,305.8 350.5,318.8 352,332.9 352.2,334.1 353.5,333.1 354,332.3 355,335.2 356.5,338.1 358,339.7 358.6,341.1 359.5,338.6 361,335.2 362.2,331.3 362.5,331.6 364,337 365.5,343.7 367,350 368.5,349.9 370,342.8 371.5,340.6 373,341.4 374.5,346.4 376,354.5 377.5,357 379,365 380.5,366.2 382,362.9 383.5,362.6 385,356 386.5,354.8 388,357.2 389.5,361.8 391,360.4 392.5,359.5 394,358.5 395.5,361.3 397,360.9 398.5,365 400,366.1 401.5,363.2 403,368.7 404.5,367.9 406,366.6 407.5,363.7 409,366.2 410.5,362.5 412,363.2 413.5,361.3 415,364.9 416.5,368.2 418,367.8 419.5,371.7 421,371.6 422.5,369.7 424,370.2 425.5,373.9 427,370.7 428.5,372.5 430,368.3 431.5,366.2 433,369.1 434.5,368.7 436,362.1 437.5,366.1 439,363.7 440.5,365.9 442,373.5 443.5,367.4 445,366.6 446.5,369.8 448,363.5 449.5,362.4 451,364.2 452.5,366.1 454,371.1 455.5,367.8 457,375 458.5,371.3 460,374.7 461.5,373.3 463,368 464.5,366.7 466,367.4 467.5,363.8 469,366.9 470.5,362.4 472,362.2 473.5,369.2 475,364.2 476.5,366.4 478,365.4 479.5,365.3 481,364.4 482.5,371.3 484,372.6 485.5,373.5 487,368.2 488.5,369.7 490,372.2 491.5,374.4 493,370.8 494.5,370.4 495.7,331 496,329.4 497.5,325.4 498.1,323.3 499,315.5 499.9,307.5 500.5,316.3 501.7,334.3 502,330.5 503.5,316.3 504.4,307.5 505,304 506.5,293 507.1,288.9 508,284.1 509.5,276.1 509.8,275.4 511,270.6 511.6,267.2 512.5,255.4 513.1,247.8 514,264.1 514.7,276.8 515.5,285.6 517,302.9 518.5,340.4 518.9,350 520,355.4 521.5,360.9 521.9,362.6 523,335.4 524.5,296.5 524.8,289.7 526,284.3 527,280.8 527.5,282.6 528.8,291 529,293.3 530.5,306.3 531.5,317 532,314.3 533.5,310.7 533.9,309.9 535,316.3 536.5,324.5 536.9,326.6 538,323.7 539.5,319.5 541,313.7 541.4,313.3 542.5,318 544,327.3 545.1,331.9 545.5,333 547,336.4 548.5,338.8 550,341.4 550.5,342.1 551.5,345.4 553,350.3 553.2,350.2 554.5,343.1 556,334 556.8,330.2 557.5,334.8 559,344.1 560.5,353.7 561.3,360.4 562,358.1 563.5,353.3 565,348.8 566.5,345.8 568,347.2 569.5,352 571,356.8 572.5,359.7 574,355.1 575.5,354.2 577,351.2 578.5,356.1 580,358 581.5,362.6 583,361.2 584.5,360.7 586,360.4 587.5,358.9 589,353.9 590.5,357.6 592,363 593.5,369.3 595,368.2 596.5,366.4 598,362.2 599.5,361.8 601,362.3 602.5,365.7 604,371.3 605.5,372.2 607,369.7 608.5,366 610,361.3 611.5,363.7 613,367.8 614.5,369.9 616,366.1 617.5,364.7 619,368.6 620.5,368.2 622,367.1 623.5,366.5 625,367.7 626.5,367.2 628,372.5 629.5,372.7 631,365.5 632.5,373.1 634,367.7 635.5,365 637,372.3 638.5,370.2 640,367.3 641.5,361.8" fill="none" stroke="#3b78c2" stroke-width="1.9" stroke-linejoin="round" stroke-linecap="round"/>
<path d="M88,392.7 89.5,392.5 91,387 92.5,386.9 94,391.3 95.5,390.5 97,389.9 98.5,387.5 100,389.1 101.5,389.1 103,388.9 104.5,386.4 106,388 107.5,387.7 109,389.7 110.5,391.3 112,391 113.5,388.5 115,387.9 116.5,386.8 118,385.4 119.5,385.3 121,387.9 122.5,387 124,387.3 125.5,390.3 127,388.1 128.5,388.3 130,386.3 131.5,385 133,386.8 134.5,385.6 136,387.8 137.5,390.7 139,388.8 140.5,385.8 142,390 143.5,389.4 145,389 146.5,390 148,389.1 149.5,389.2 151,386.6 152.5,390.3 154,390.2 155.5,385.4 157,388.9 158.5,388.6 160,387.1 161.5,387.5 163,387.2 164.5,389.8 166,387.2 167.5,389.1 169,386.2 170.5,389.4 172,389.5 173.5,386.8 175,387.4 176.5,389.5 178,388.3 179.5,386.8 181,385.2 182.5,385.8 184,388 185.5,384.8 187,389.2 188.5,385.3 190,389.2 191.5,385.5 193,389.4 194.5,387.8 196,386.6 197.5,386.7 199,387.4 200.5,387 202,385.3 203.5,384.7 205,386.5 206.5,389 208,387.1 209.5,383.7 211,388.2 212.5,387.6 214,388.6 215.5,384.3 217,387.6 218.5,383.5 220,387 221.5,384.7 223,384.4 224.5,388.2 226,383.6 227.5,386 229,388 230.5,384.3 232,384.1 233.5,388.1 235,385.3 236.5,387 238,382.9 239.5,384.8 241,383.7 242.5,386.6 244,383.1 245.5,388.3 247,382.6 248.5,386.8 250,382.6 251.5,383.9 253,387.2 254.5,383.3 256,383.4 257.5,386.4 259,384.5 260.5,382.5 262,388.1 263.5,383 265,382.3 266.5,384.1 268,385.7 269.5,386.5 271,381.6 272.5,381.2 274,378.8 275.5,383.6 277,387.8 278.5,386.7 280,386.3 281.5,386.1 283,389.7 284.5,391.7 286,391 287.5,387.1 289,387.2 290.5,382.6 292,380.2 293.5,381.8 295,381.7 296.2,379.9 296.5,381.3 298,384.5 298.9,386.8 299.5,382.6 301,374.9 301.6,370.2 302.5,359.9 304,341.5 304.3,337.2 305.5,331.6 307,322.9 308,317.4 308.5,311.7 310,294.8 310.7,286.8 311.5,283.6 312.5,278.4 313,273.3 314.5,255.5 314.8,252.1 316,270.9 317.4,294.5 317.5,297 319,339 320.5,380.6 320.6,383.7 322,365.3 323.5,344.9 324.2,336.1 325,330.5 326.5,319 327.5,312 328,312.1 329.5,310.4 329.6,311.3 331,273.9 331.4,263.3 332.5,266.5 333.3,268.9 334,264.1 334.5,261.2 335.5,295.4 336.9,343.1 337,344.4 338.5,355.1 340,367.7 340.1,368.5 341.5,361.9 342.3,357.8 343,348.1 344.5,327.1 345.9,306.6 346,307 347.5,304.7 348.1,303.2 349,312.8 350.5,330.1 352,345.6 352.2,348 353.5,343.4 354,340.9 355,343.8 356.5,350.1 358,354.3 359.5,358.9 361,348.9 362.2,339.2 362.5,341.7 364,353.7 365.5,365 367,370 368.5,364.1 370,356.4 371.5,351.9 373,357.1 374.5,364.6 376,369 377.5,375.9 379,382.4 380.5,382.8 382,376.1 383.5,374.9 385,369.3 386.5,371.4 388,375.2 389.5,376.7 391,377.4 392.5,375.7 394,374.3 395.5,373 397,375 398.5,381.9 400,382.9 401.5,387.1 403,387.7 404.5,385.2 406,386.1 407.5,383.8 409,380.4 410.5,376.1 412,376.2 413.5,379.2 415,383.6 416.5,382.8 418,386.7 419.5,388.8 421,393.8 422.5,392 424,391.9 425.5,390.5 427,386.4 428.5,384.9 430,385.3 431.5,382.8 433,382.7 434.5,383.1 436,383.4 437.5,380.3 439,384 440.5,382.2 442,386.3 443.5,390.9 445,384.4 446.5,384.7 448,381.2 449.5,380 451,383.5 452.5,384.9 454,385.3 455.5,384.5 457,387.9 458.5,388 460,389.6 461.5,388.7 463,386.2 464.5,385.6 466,382.1 467.5,383.7 469,385.1 470.5,384.3 472,380.8 473.5,383.9 475,385.6 476.5,383.3 478,387.6 479.5,385.5 481,387.7 482.5,386.6 484,390.8 485.5,390.2 487,389.6 488.5,387.7 490,388.7 491.5,384.5 493,386.3 494.5,384.7 496,379.6 497.1,377.1 497.5,377.4 498.1,377.6 499,374.5 500.5,368.9 500.8,367.3 502,355.7 503.5,342.3 505,328.5 506.5,316.4 507.1,311.2 508,305.9 509.5,297 510.7,288.8 511,284.9 512.5,262 513.1,253.4 514,270.1 515.5,296.7 515.8,301.1 517,335.3 518,363.6 518.5,365.3 520,369.1 521.5,373.6 521.9,373.4 523,342 524.5,296.7 524.8,287.6 526,283.6 527,279.9 527.5,281.4 528.8,289.7 529,292.7 530.5,314.9 531.5,331.2 532,326.8 533.5,313.7 533.9,311.4 535,324.5 536,338.2 536.5,337.6 538,336.3 538.7,336.3 539.5,330.5 541,319.5 541.4,317.9 542.5,323.2 544,332.3 545.1,339.8 545.5,341.6 547,346.1 548.5,350.9 550,355.3 551.4,360 551.5,359 553,352.3 554.5,346 555.9,339 556,339.8 557.5,350.4 559,359 560.5,369.5 561.3,374.7 562,372 563.5,368 565,363.7 566.5,360.1 568,360.6 569.5,365.7 571,371.6 572.5,375.3 574,371.6 575.5,367.6 577,367.8 578.5,372.9 580,374.4 581.5,377.9 583,377.1 584.5,377.2 586,378 587.5,371.9 589,371.8 590.5,373.9 592,377.9 593.5,387.5 595,383.1 596.5,381.9 598,376.1 599.5,377 601,378.9 602.5,382.2 604,386.8 605.5,389.7 607,383.5 608.5,382 610,377.6 611.5,380.5 613,384.4 614.5,385.6 616,384.2 617.5,382.3 619,381.6 620.5,382.7 622,382.2 623.5,382.6 625,386 626.5,384.9 628,389.4 629.5,386.8 631,384.4 632.5,384.6 634,385.3 635.5,388.1 637,385 638.5,381.5 640,378 641.5,377.1" fill="none" stroke="#e0222b" stroke-width="1.9" stroke-linejoin="round" stroke-linecap="round"/>
<circle cx="104.6" cy="238.7" r="8" fill="#86609d"/>
<line x1="106.5" y1="259.4" x2="144.5" y2="259.4" stroke="#3b78c2" stroke-width="4.3" stroke-linecap="round"/>
<line x1="106.5" y1="271.7" x2="144.5" y2="271.7" stroke="#e0222b" stroke-width="4.3" stroke-linecap="round"/>
<text x="149.6" y="263.6" font-size="11.2" text-anchor="start" fill="#000" textLength="54.6" lengthAdjust="spacingAndGlyphs">Inhibitory</text>
<text x="149.6" y="275.9" font-size="11.1" text-anchor="start" fill="#000" textLength="57.3" lengthAdjust="spacingAndGlyphs">Excitatory</text>
<line x1="47.8" y1="456" x2="47.8" y2="646.6" stroke="#000" stroke-width="1.5"/>
<line x1="47.8" y1="646.1" x2="127.7" y2="646.1" stroke="#000" stroke-width="1.5"/>
<line x1="47.8" y1="456.8" x2="51.5" y2="456.8" stroke="#000" stroke-width="1.3"/>
<text x="44.3" y="460.8" font-size="11.1" text-anchor="end" fill="#000" textLength="17.7" lengthAdjust="spacingAndGlyphs">1.0</text>
<line x1="47.8" y1="494.7" x2="51.5" y2="494.7" stroke="#000" stroke-width="1.3"/>
<text x="44.3" y="498.7" font-size="11.1" text-anchor="end" fill="#000" textLength="17.7" lengthAdjust="spacingAndGlyphs">0.8</text>
<line x1="47.8" y1="532.5" x2="51.5" y2="532.5" stroke="#000" stroke-width="1.3"/>
<text x="44.3" y="536.5" font-size="11.1" text-anchor="end" fill="#000" textLength="17.7" lengthAdjust="spacingAndGlyphs">0.6</text>
<line x1="47.8" y1="570.4" x2="51.5" y2="570.4" stroke="#000" stroke-width="1.3"/>
<text x="44.3" y="574.4" font-size="11.1" text-anchor="end" fill="#000" textLength="17.7" lengthAdjust="spacingAndGlyphs">0.4</text>
<line x1="47.8" y1="608.2" x2="51.5" y2="608.2" stroke="#000" stroke-width="1.3"/>
<text x="44.3" y="612.2" font-size="11.1" text-anchor="end" fill="#000" textLength="17.7" lengthAdjust="spacingAndGlyphs">0.2</text>
<line x1="47.8" y1="646.1" x2="51.5" y2="646.1" stroke="#000" stroke-width="1.3"/>
<text x="44.3" y="650.1" font-size="11.1" text-anchor="end" fill="#000" textLength="17.7" lengthAdjust="spacingAndGlyphs">0.0</text>
<line x1="87.9" y1="646.1" x2="87.9" y2="642.4" stroke="#000" stroke-width="1.3"/>
<text x="87.3" y="659.2" font-size="11.1" text-anchor="middle" fill="#000" textLength="24.7" lengthAdjust="spacingAndGlyphs">0.24</text>
<path d="M89.5,485.5 90,476.5 86.4,476.5 86.9,485.5ZM88.4,486.8 97.4,485.9 96.8,482.3 88,484.2ZM88.4,484.2 79.6,482.3 79,485.9 88,486.8ZM87.1,486.2 91.7,494 94.7,492 89.3,484.8ZM87.1,484.8 81.7,492 84.7,494 89.3,486.2Z" fill="#f0a034"/>
<circle cx="88.2" cy="485.5" r="2" fill="#f0a034"/>
<line x1="80" y1="575.7" x2="96" y2="575.7" stroke="#35b88e" stroke-width="2.2"/>
<line x1="88" y1="567.7" x2="88" y2="583.7" stroke="#35b88e" stroke-width="2.2"/>
<circle cx="88" cy="601.3" r="6.8" fill="#86609d"/>
<text transform="translate(22.2,567) rotate(-90)" font-size="18.6" fill="#111">f<tspan font-size="12.6" dy="5.5">IE</tspan></text>
<text x="78.6" y="676.1" font-size="18.8" fill="#111">d<tspan font-size="12.4" dy="2.6">IE</tspan></text>
<rect x="230.3" y="459.3" width="17.4" height="189.5" fill="#eef7ef"/>
<line x1="170.6" y1="458.6" x2="170.6" y2="644.2" stroke="#000" stroke-width="1.5"/>
<line x1="170.6" y1="458.6" x2="174.3" y2="458.6" stroke="#000" stroke-width="1.3"/>
<text x="157" y="463.1" font-size="12.6" text-anchor="end" fill="#000" textLength="16" lengthAdjust="spacingAndGlyphs">10</text>
<line x1="170.6" y1="495.6" x2="174.3" y2="495.6" stroke="#000" stroke-width="1.3"/>
<text x="157" y="500.1" font-size="12.6" text-anchor="end" fill="#000" textLength="8" lengthAdjust="spacingAndGlyphs">8</text>
<line x1="170.6" y1="532.7" x2="174.3" y2="532.7" stroke="#000" stroke-width="1.3"/>
<text x="157" y="537.2" font-size="12.6" text-anchor="end" fill="#000" textLength="8" lengthAdjust="spacingAndGlyphs">6</text>
<line x1="170.6" y1="569.7" x2="174.3" y2="569.7" stroke="#000" stroke-width="1.3"/>
<text x="157" y="574.2" font-size="12.6" text-anchor="end" fill="#000" textLength="8" lengthAdjust="spacingAndGlyphs">4</text>
<line x1="170.6" y1="606.8" x2="174.3" y2="606.8" stroke="#000" stroke-width="1.3"/>
<text x="157" y="611.3" font-size="12.6" text-anchor="end" fill="#000" textLength="8" lengthAdjust="spacingAndGlyphs">2</text>
<line x1="164.6" y1="643.8" x2="170.6" y2="643.8" stroke="#000" stroke-width="1.3"/>
<text x="157" y="648.3" font-size="12.6" text-anchor="end" fill="#000" textLength="8" lengthAdjust="spacingAndGlyphs">0</text>
<text x="0" y="0" font-size="10.9" text-anchor="middle" fill="#000" textLength="81.3" lengthAdjust="spacingAndGlyphs" transform="translate(129.8,550.5) rotate(-90)">Firing rate (Hz)</text>
<line x1="188.2" y1="470.6" x2="203.4" y2="470.6" stroke="#35b88e" stroke-width="2.2"/>
<line x1="195.8" y1="463" x2="195.8" y2="478.2" stroke="#35b88e" stroke-width="2.2"/>
<path d="M170.1,601.5 171.7,600.7 173.3,597.6 174.9,596.5 176.5,598.7 178.1,598.2 179.7,598.1 181.3,601.6 182.9,598.2 184.5,597.4 186.1,601.9 187.7,602.1 189.3,606.1 190.9,603.8 192.5,604.1 194.1,601.1 195.7,602 197.3,601.6 198.9,598.2 200.5,601.1 202.1,604.6 203.7,605.3 205.3,605.1 206.9,599.5 208.5,599.3 210.1,601.9 211.7,607.4 213.3,604.1 214.9,604 216.5,603.4 218.1,602.8 219.7,605.1 221.3,601.9 222.9,601.1 224.5,597.5 226.1,601.1 227.4,591.5 227.7,594.4 228.5,602.3 229.3,561.2 229.6,545.8 230.8,551.2 230.9,551 232.1,548.1 232.5,546.4 233.6,541.9 234.1,554.5 235.2,582.2 235.7,575 236.7,560.5 237.3,559.3 238.3,557.4 238.9,548.7 239.8,535.7 240.5,533.4 241.7,529.5 242.1,528.3 243.2,524.9 243.7,517.7 244.5,506.3 245.3,507.2 246,507.9 246.9,501.6 247.9,494.7 248.5,496.6 249.1,498.6 250.1,523 251,545 251.7,559.5 252.5,576 253.3,593.8 254.1,611.6 254.9,607.8 256.4,600.7 256.5,600.5 258.1,598.5 259.7,590.7 261.3,588.6 262.9,587.4 264.5,587.6 266.1,583 267.7,588.2 269.3,585.4 270.9,585.3 272.5,584.7 274.1,584.6 275.7,585.7 277.3,586 278.9,588.2 280.5,587 282.1,586.6 283.7,585.4 285.3,590.1 286.9,592.5 288.5,589.4 290.1,592.1 291.7,592.2 293.3,591.7 294.9,589.8 296.5,593.3 298.1,596.9 299.7,605.3 301.3,609.4 302.9,604.1 304.5,598.5 306.1,600.5 307.7,599.1 309.3,595.7 310.9,601.1 312.5,601 314.1,600.2 315.7,600 317.3,601.4 318.9,599.3 320.5,591.9 322.1,596 323.7,597.7 325.3,605.6 326.9,605.9 328.5,605.7 330.1,603.3 331.7,598 333.3,599.5 334.9,597.6 336.5,598.1 338.1,601.8 339.7,597.9 341.3,597.7 342.9,597.7 344.5,601.4 346.1,602.4 347.7,603.3 349.3,601.3 350.9,596.9 352.5,603.1 354.1,605.8 355.7,606.2 357.3,606 358.9,604.2 360.5,602.7 362.1,602 363.7,604.1 365.3,606.7 366.9,610.6 368.5,606.5 370.1,600.9 371.7,600.2 373.3,600.6 374.9,603.8 376.5,607.6 378.1,604.1 379.7,603.1 381.3,599.3 382.9,600.7 384.5,601 386.1,597.7 387.7,601.4 389.3,603.6 390.9,602.8 392.5,607.7 394.1,601.6" fill="none" stroke="#3b78c2" stroke-width="1.9" stroke-linejoin="round" stroke-linecap="round"/>
<path d="M170.1,620.1 171.7,617.9 173.3,617.3 174.9,614.6 176.5,615.7 178.1,618.6 179.7,620.8 181.3,619.9 182.9,619.4 184.5,616.8 186.1,619 187.7,620.2 189.3,619.6 190.9,619.1 192.5,619.3 194.1,621.9 195.7,621.3 197.3,621 198.9,620.7 200.5,617.9 202.1,617.9 203.7,618.7 205.3,618.6 206.9,618.6 208.5,618.9 210.1,620.6 211.7,624.5 213.3,623.5 214.9,621.5 216.5,621.1 218.1,623.8 219.7,623.9 221.3,626.6 222.9,622.7 224.5,617.9 226.1,613.3 227.7,616.9 228.5,618.5 229.3,620.3 230.9,623.9 231.6,625.5 232.5,625.5 233.9,625.5 234.1,624.3 235.5,616.2 235.7,613.7 237,597.6 237.3,593.5 238.6,576 238.9,575.2 240.5,570.9 240.9,569.8 242.1,568.2 243.2,566.7 243.7,558.4 244.5,545 245.3,545.9 246,546.6 246.9,536.7 247.9,525.7 248.5,530.9 249.4,538.8 250.1,552.4 251,569.8 251.7,586.8 253.3,625.5 254.8,616.2 254.9,616 256.5,612.1 258.1,610 259.7,606.4 261.3,606.4 262.9,605 264.5,602.9 266.1,602.8 267.7,606.7 269.3,604.6 270.9,602.6 272.5,603.6 274.1,606.1 275.7,603.5 277.3,604.1 278.9,606.9 280.5,606.8 282.1,610.7 283.7,613.3 285.3,613.6 286.9,615.3 288.5,611.1 290.1,611.1 291.7,609.6 293.3,610.8 294.9,608.8 296.5,611 298.1,617.4 299.7,622.3 301.3,630.2 302.9,628 304.5,620.5 306.1,616.1 307.7,617.2 309.3,620.4 310.9,620.9 312.5,619 314.1,618.1 315.7,616.2 317.3,616 318.9,613.1 320.5,615 322.1,619.2 323.7,622.9 325.3,625.5 326.9,627.9 328.5,621.4 330.1,619.8 331.7,619.8 333.3,617.9 334.9,617.5 336.5,620.6 338.1,620.3 339.7,622.1 341.3,619.7 342.9,619 344.5,619.7 346.1,621.5 347.7,624.5 349.3,621.1 350.9,617 352.5,618.3 354.1,620.9 355.7,624 357.3,626.3 358.9,623.2 360.5,621.5 362.1,619.4 363.7,624.3 365.3,623.9 366.9,624.9 368.5,622.4 370.1,617.6 371.7,616.4 373.3,622 374.9,623.4 376.5,623.5 378.1,624.2 379.7,622.1 381.3,623.9 382.9,620 384.5,621.3 386.1,622 387.7,621 389.3,624.4 390.9,623.4 392.5,622.6 394.1,620.7" fill="none" stroke="#e0222b" stroke-width="1.9" stroke-linejoin="round" stroke-linecap="round"/>
<path d="M185.8 619.2v4.8M202.2 619.6v3.9M187.6 622.2v5.2M208.3 617.8v4M197.7 620.7v2.9M180.1 620v3.5M200.5 620.1v2.3M207.8 618v2.9M188.1 622.1v2.2M214.9 622.5v5M210.6 624.9v4.5M181.2 619.7v3.3M197.4 620.7v2.5M213.3 623.8v3.5" stroke="#e0222b" stroke-width="1.1" fill="none" opacity="0.8"/>
<path d="M213.2 605.3v2.6M173 599.6v6M179.9 601.5v2.5M200 599.7v3.4M210.3 605.7v2.9" stroke="#3b78c2" stroke-width="1.1" fill="none" opacity="0.8"/>
<rect x="524.4" y="459.7" width="17.6" height="184.2" fill="#eef7ef"/>
<line x1="458.6" y1="646" x2="683.2" y2="646" stroke="#000" stroke-width="1.6"/>
<text x="633.6" y="673.6" font-size="18.5" text-anchor="start" fill="#111" textLength="16.6" lengthAdjust="spacingAndGlyphs">1s</text>
<path d="M476,469.5 476.5,460.5 472.9,460.5 473.4,469.5ZM474.9,470.8 483.9,469.9 483.3,466.3 474.5,468.2ZM474.9,468.2 466.1,466.3 465.5,469.9 474.5,470.8ZM473.6,470.2 478.2,478 481.2,476 475.8,468.8ZM473.6,468.8 468.2,476 471.2,478 475.8,470.2Z" fill="#f0a034"/>
<circle cx="474.7" cy="469.5" r="2" fill="#f0a034"/>
<line x1="585.5" y1="477.2" x2="601" y2="477.2" stroke="#3b78c2" stroke-width="4.3" stroke-linecap="round"/>
<line x1="585.5" y1="490.4" x2="601" y2="490.4" stroke="#e0222b" stroke-width="4.3" stroke-linecap="round"/>
<text x="606.2" y="481.9" font-size="12.8" text-anchor="start" fill="#000" textLength="62.6" lengthAdjust="spacingAndGlyphs">Inhibitory</text>
<text x="606.2" y="495.1" font-size="12.8" text-anchor="start" fill="#000" textLength="66.8" lengthAdjust="spacingAndGlyphs">Excitatory</text>
<path d="M457.6,602.6 459.2,603.7 460.8,604.3 462.4,605.1 464,602.7 465.6,602.7 467.2,598.1 468.8,601.6 470.4,605.3 472,602.5 473.6,602.4 475.2,596 476.8,597.8 478.4,597.6 480,600.4 481.6,601.2 483.2,596.5 484.8,596.3 486.4,595.4 488,601 489.6,602.1 491.2,606.6 492.8,609.1 494.4,597.1 496,598.9 497.6,596.8 499.2,600 500.8,608 502.4,601.1 504,598.3 505.6,602.3 507.2,603.8 508.8,602.5 510.4,606 512,601.5 513.6,600.5 515.2,601.4 516.8,610 518.4,610.7 520,606.2 521.6,604.3 522.4,601.5 523.2,604.3 523.3,604.6 524.1,542.7 524.8,547.7 525.1,549.9 525.8,542.2 526.4,540.8 526.9,539.6 528,532.7 528.2,531.4 528.9,533.4 529.6,564.3 530,581.9 531,576.8 531.2,577 532,577.8 532.8,575.2 533.6,572.6 534.4,570.1 535.6,566.4 536,563.8 536.7,559.2 537.6,557.8 538.7,556.1 539.2,552.9 540.3,545.8 540.8,545.2 542,543.7 542.4,544.5 543.1,545.8 544,563 544.4,570.6 545.6,593.8 546,601.5 547.2,612.1 548,619.1 548.8,616.3 550.1,611.8 550.4,611.2 552,608.1 552.2,607.7 553.6,597.2 553.7,596.4 555,597.5 555.2,597.6 556.8,597 558.4,599.9 560,601.4 561.6,597.5 563.2,592.6 564.8,592.5 566.4,601.1 568,597.5 569.6,601.9 571.2,598.1 572.8,598.5 574.4,603.6 576,600.8 577.6,599.4 579.2,600.9 580.8,602.9 582.4,597.2 584,605.3 585.6,597 587.2,603.4 588.8,604.3 590.4,597 592,603.8 593.6,600.1 595.2,602 596.8,597 598.4,597.4 600,598.6 601.6,605.5 603.2,598.8 604.8,603.7 606.4,605.3 608,605.4 609.6,600.2 611.2,600.3 612.8,601.9 614.4,604.1 616,598.2 617.6,603.9 619.2,604.4 620.8,604.9 622.4,597.7 624,605.7 625.6,598.3 627.2,600.5 628.8,602.9 630.4,605.6 632,600.5 633.6,605.7 635.2,602.4 636.8,600.4 638.4,600.5 640,599.3 641.6,598.4 643.2,599.1 644.8,603.8 646.4,606.6 648,599.2 649.6,598.3 651.2,606.6 652.8,602.6 654.4,601.5 656,600 657.6,603.2 659.2,605.3 660.8,602 662.4,601.8 664,598.6 665.6,606.2 667.2,598.4 668.8,602.5 670.4,605.6 672,599.4 673.6,604.7 675.2,606.6 676.8,603.9 678.4,605.3 680,599.3 681.6,602.2" fill="none" stroke="#3b78c2" stroke-width="1.9" stroke-linejoin="round" stroke-linecap="round"/>
<path d="M457.6,626 459.2,625.4 460.8,623.2 462.4,621.6 464,619.9 465.6,623.9 467.2,624.2 468.8,626.5 470.4,623.8 472,624.3 473.6,620.8 475.2,622.6 476.8,622.5 478.4,621.3 480,622 481.6,622.8 483.2,620.8 484.8,622.6 486.4,623.9 488,621.7 489.6,624.2 491.2,623.1 492.8,623 494.4,620 496,618.1 497.6,621 499.2,621.8 500.8,621 502.4,620.3 504,621.5 505.6,622.8 507.2,620.6 508.8,622.8 510.4,620.5 512,618.2 513.6,622 515.2,622.5 516.8,626.8 518.4,627.9 520,624.6 521.6,623.5 523.2,619.7 524.2,617.7 524.8,619.5 526.4,624.3 526.8,625.5 528,630.5 529.6,637.3 530.3,640.2 531.2,640.2 532.8,640.3 534.4,640.4 535.6,640.4 536,640.3 537.6,640.1 539.2,639.8 540.8,639.6 542.4,640.1 544,640.7 544.3,640.8 545.6,639.1 547.2,637 547.9,636.1 548.8,632.9 550.4,627.3 551.4,623.8 552,622.4 553.6,618.6 554,617.7 555.2,618 556.8,619.5 558.4,623.1 560,629 561.6,622.1 563.2,622.5 564.8,623 566.4,623.1 568,626.8 569.6,624.3 571.2,627.9 572.8,624.6 574.4,621 576,623.9 577.6,621.8 579.2,621.1 580.8,622.9 582.4,620.9 584,621.3 585.6,625.3 587.2,624.3 588.8,620.2 590.4,624.8 592,620.3 593.6,622.2 595.2,625.7 596.8,624 598.4,622.1 600,622.6 601.6,622.7 603.2,621.1 604.8,626.4 606.4,620.7 608,623 609.6,625 611.2,622.9 612.8,626.4 614.4,622 616,626.5 617.6,626 619.2,624.7 620.8,626 622.4,623.4 624,625.7 625.6,625.5 627.2,623.9 628.8,623.6 630.4,625.1 632,623.3 633.6,621.4 635.2,625.4 636.8,622.5 638.4,623.9 640,625.7 641.6,622 643.2,621.2 644.8,621.8 646.4,624.6 648,623.3 649.6,622.7 651.2,623.9 652.8,626.8 654.4,622.8 656,623.7 657.6,626.6 659.2,625 660.8,622.9 662.4,624.2 664,624.3 665.6,622.3 667.2,623.7 668.8,623.3 670.4,626.3 672,623.5 673.6,625.5 675.2,627.4 676.8,627.1 678.4,623.9 680,625.3 681.6,623.6" fill="none" stroke="#e0222b" stroke-width="1.9" stroke-linejoin="round" stroke-linecap="round"/>
<path d="M506.1 623v5.8M504.4 623.8v2.3M488.8 623.8v3.7M485.6 623.4v2.5M468 625.8v3.8M469.5 626.1v3.8M459.3 625v2.3M494.9 621.4v3.7M484.7 623.3v4.9M476.7 622.5v2.2M498.7 621.2v4.4M492.2 622.8v4.5" stroke="#e0222b" stroke-width="1.1" fill="none" opacity="0.8"/>
<path d="M484.4 599.4v5.4M464.8 601.7v6M465.2 601.3v4.7M461.4 603.7v5M463.6 602.6v4.8M484.8 599v5.1M474.3 600.2v5.5M494.6 600.2v2.5M477.1 599.2v5.8" stroke="#3b78c2" stroke-width="1.1" fill="none" opacity="0.8"/>
<line x1="55.8" y1="696.5" x2="55.8" y2="934.5" stroke="#555" stroke-width="1"/>
<line x1="55.3" y1="934" x2="356" y2="934" stroke="#555" stroke-width="1"/>
<line x1="105.5" y1="934" x2="105.5" y2="931" stroke="#555" stroke-width="1"/>
<line x1="155.4" y1="934" x2="155.4" y2="931" stroke="#555" stroke-width="1"/>
<line x1="205.3" y1="934" x2="205.3" y2="931" stroke="#555" stroke-width="1"/>
<line x1="255.2" y1="934" x2="255.2" y2="931" stroke="#555" stroke-width="1"/>
<line x1="305.1" y1="934" x2="305.1" y2="931" stroke="#555" stroke-width="1"/>
<line x1="55.8" y1="815.6" x2="58.8" y2="815.6" stroke="#555" stroke-width="1"/>
<text x="55" y="952.6" font-size="13.9" text-anchor="middle" fill="#222">5</text>
<text x="104.9" y="952.6" font-size="13.9" text-anchor="middle" fill="#222">10</text>
<text x="154.8" y="952.6" font-size="13.9" text-anchor="middle" fill="#222">15</text>
<text x="204.7" y="952.6" font-size="13.9" text-anchor="middle" fill="#222">20</text>
<text x="254.6" y="952.6" font-size="13.9" text-anchor="middle" fill="#222">25</text>
<text x="304.5" y="952.6" font-size="13.9" text-anchor="middle" fill="#222">30</text>
<text x="354.4" y="952.6" font-size="13.9" text-anchor="middle" fill="#222">35</text>
<text x="44.4" y="938.7" font-size="14.2" text-anchor="middle" fill="#222">0</text>
<text x="40.8" y="821.2" font-size="14.2" text-anchor="middle" fill="#222">0.5</text>
<text x="42.8" y="705.4" font-size="14.2" text-anchor="middle" fill="#222">1</text>
<text x="213.4" y="966.2" font-size="13.8" text-anchor="middle" fill="#222">Frequency (Hz)</text>
<text x="0" y="0" font-size="16.4" text-anchor="middle" fill="#222" transform="translate(22.5,815) rotate(-90)">Power</text>
<path d="M55.8,696.8C56.7,704 59.2,725.3 61,740C62.8,754.7 65.4,775.8 66.8,785C68.2,794.2 68.2,789.4 69.5,795.5C70.8,801.6 72.5,812.6 74.7,821.8C76.9,831 79.5,840.3 82.6,850.8C85.7,861.3 89.7,875.1 93.2,885C96.7,894.9 100.6,905.2 103.7,910C106.8,914.8 108.5,914 111.6,914C114.7,914 117.3,913.1 122.1,910C126.9,906.9 135.2,899.3 140.5,895.5C145.8,891.7 148.9,888.2 153.7,887C158.5,885.8 165.1,887 169.5,888.2C173.9,889.4 175.8,890.2 180,894.2C184.2,898.2 189.3,908.9 195,912.1C200.7,915.4 208.8,913.7 214.2,913.7C219.5,913.7 222.8,912.6 227.1,912.1C231.4,911.6 235.1,910.6 239.9,910.5C244.7,910.4 251.2,910.4 256,911.2C260.8,912 264,913.3 268.8,915.3C273.6,917.3 279.5,921.8 284.9,923.4C290.3,925 295.6,924.5 301,925C306.4,925.5 311.1,925.8 317,926.6C322.9,927.4 329.9,928.8 336.3,929.8C342.7,930.8 352.3,932 355.5,932.4" fill="none" stroke="#f0a034" stroke-width="2.6" stroke-linejoin="round"/>
<path d="M55.8,704.7C57.2,703.8 61.6,700.8 64.5,699.5C67.4,698.2 70.4,695.9 73.4,696.8C76.4,697.7 78.9,698 82.6,704.7C86.3,711.4 91.4,724.6 95.8,737C100.2,749.4 105,766 109,779C113,792 116,803.8 119.5,815C123,826.2 126.5,837.8 130,846C133.5,854.2 137,858.8 140.5,864C144,869.2 147.1,871.3 151,877C154.9,882.7 160.1,893.2 164.2,898.2C168.3,903.2 172.2,905.5 175.7,907.3C179.2,909.1 181.6,908.6 185.3,908.9C189.1,909.2 193.4,908.4 198.2,908.9C203,909.4 208.8,911.3 214.2,912.1C219.5,912.9 225.5,912.9 230.3,913.7C235.1,914.5 237.8,915.5 243.1,916.9C248.4,918.2 256.5,920.4 262.4,921.8C268.3,923.1 271.5,923.9 278.5,925C285.5,926.1 295.6,927.1 304.2,928.2C312.8,929.3 321.3,930.7 329.9,931.4C338.4,932.1 351.2,932.2 355.5,932.4" fill="none" stroke="#35b88e" stroke-width="2.6" stroke-linejoin="round"/>
<path d="M55.8,849.5C57.2,840.5 61.5,812 64.2,795.5C66.9,779 69.5,764.4 72.1,750.8C74.7,737.2 77.8,722.3 80,713.9C82.2,705.5 83.5,703.4 85.5,700.5C87.5,697.6 88.8,696.1 91.8,696.8C94.8,697.5 100,699.7 103.7,704.7C107.4,709.8 110.7,718.1 114.2,727.1C117.7,736.1 121.2,747.3 124.7,758.7C128.2,770.1 131.8,783.2 135.3,795.5C138.8,807.8 142.3,821 145.8,832.4C149.3,843.8 152.8,855.9 156.3,864C159.8,872.1 162.9,876.8 166.8,881C170.8,885.2 174.2,885.7 180,889C185.8,892.3 195.7,898.4 201.4,900.9C207.1,903.4 209.4,902.5 214.2,904.1C219,905.7 224.4,908.4 230.3,910.5C236.2,912.6 242.7,915.4 249.6,916.9C256.6,918.4 266.1,918.4 272,919.5C277.9,920.6 278.6,922.1 284.9,923.4C291.2,924.6 298.2,925.6 310,927C321.8,928.4 347.9,931.2 355.5,932" fill="none" stroke="#86609d" stroke-width="2.6" stroke-linejoin="round"/>
<path d="M55.8,696.8C56.7,704 59.2,725.3 61,740C62.8,754.7 65,772.2 66.8,785C68.6,797.8 70.3,805.2 72.1,816.6C73.9,828 75.7,842.4 77.4,853.4C79.2,864.4 80.4,873.6 82.6,882.4C84.8,891.2 87.4,900.3 90.5,906C93.6,911.7 97.7,914.5 101,916.6C104.3,918.7 107.2,919.1 110.3,918.7C113.4,918.3 115.3,916.8 119.5,914C123.7,911.2 130.3,905.3 135.3,902C140.3,898.7 146.2,895.1 149.7,894.2C153.2,893.3 153.5,895 156.3,896.8C159.2,898.5 162.9,901.8 166.8,904.7C170.8,907.6 176.4,911.5 180,914C183.6,916.5 184.9,918.5 188.5,919.5C192.1,920.5 197.1,919.8 201.4,920.2C205.7,920.6 210.4,922.3 214.2,921.8C217.9,921.2 220.7,918.8 223.9,916.9C227.1,915 230.8,911.3 233.5,910.5C236.2,909.7 236.7,910.5 239.9,912.1C243.1,913.7 248,918.3 252.8,920.2C257.6,922.1 261.9,922.3 268.8,923.4C275.8,924.5 286.5,925.8 294.5,926.6C302.5,927.4 310,927.7 317,928.2C324,928.7 329.9,929.3 336.3,929.8C342.7,930.3 352.3,931.1 355.5,931.4" fill="none" stroke="#000" stroke-width="2.6" stroke-linejoin="round"/>
<line x1="450.9" y1="713.6" x2="450.9" y2="928.2" stroke="#000" stroke-width="1.5"/>
<line x1="450.9" y1="927.4" x2="684" y2="927.4" stroke="#000" stroke-width="1.5"/>
<line x1="450.9" y1="724.6" x2="454.5" y2="724.6" stroke="#000" stroke-width="1.3"/>
<text x="447.2" y="729.1" font-size="12.6" text-anchor="end" fill="#000" textLength="28.1" lengthAdjust="spacingAndGlyphs">1.00</text>
<line x1="450.9" y1="775.3" x2="454.5" y2="775.3" stroke="#000" stroke-width="1.3"/>
<text x="447.2" y="779.8" font-size="12.6" text-anchor="end" fill="#000" textLength="28.1" lengthAdjust="spacingAndGlyphs">0.75</text>
<line x1="450.9" y1="826" x2="454.5" y2="826" stroke="#000" stroke-width="1.3"/>
<text x="447.2" y="830.5" font-size="12.6" text-anchor="end" fill="#000" textLength="28.1" lengthAdjust="spacingAndGlyphs">0.50</text>
<line x1="450.9" y1="876.7" x2="454.5" y2="876.7" stroke="#000" stroke-width="1.3"/>
<text x="447.2" y="881.2" font-size="12.6" text-anchor="end" fill="#000" textLength="28.1" lengthAdjust="spacingAndGlyphs">0.25</text>
<line x1="450.9" y1="927.4" x2="454.5" y2="927.4" stroke="#000" stroke-width="1.3"/>
<text x="447.2" y="931.9" font-size="12.6" text-anchor="end" fill="#000" textLength="28.1" lengthAdjust="spacingAndGlyphs">0.00</text>
<line x1="457.4" y1="927.4" x2="457.4" y2="923.8" stroke="#000" stroke-width="1.3"/>
<text x="457.4" y="942.8" font-size="12.6" text-anchor="middle" fill="#000" textLength="15.9" lengthAdjust="spacingAndGlyphs">EE</text>
<line x1="567.2" y1="927.4" x2="567.2" y2="923.8" stroke="#000" stroke-width="1.3"/>
<text x="567.2" y="942.8" font-size="12.6" text-anchor="middle" fill="#000" textLength="67.2" lengthAdjust="spacingAndGlyphs">Composite</text>
<line x1="677.3" y1="927.4" x2="677.3" y2="923.8" stroke="#000" stroke-width="1.3"/>
<text x="677.3" y="942.8" font-size="12.6" text-anchor="middle" fill="#000" textLength="7.4" lengthAdjust="spacingAndGlyphs">II</text>
<text x="0" y="0" font-size="12.7" text-anchor="middle" fill="#000" textLength="70" lengthAdjust="spacingAndGlyphs" transform="translate(412.6,821.2) rotate(-90)">Correlation</text>
<path d="M457.4,725.4 567.2,858.8 677.3,727.7" fill="none" stroke="#888" stroke-width="3" stroke-linejoin="round" stroke-linecap="round"/>
<path d="M457.4,887.2 567.2,915.3 677.3,888.8" fill="none" stroke="#000" stroke-width="3.8" stroke-linejoin="round" stroke-linecap="round"/>
<circle cx="457.4" cy="725.4" r="5.3" fill="#888"/>
<circle cx="567.2" cy="858.8" r="5.3" fill="#888"/>
<circle cx="677.3" cy="727.7" r="5.3" fill="#888"/>
<circle cx="457.4" cy="887.2" r="5.6" fill="#000"/>
<circle cx="567.2" cy="915.3" r="5.6" fill="#000"/>
<circle cx="677.3" cy="888.8" r="5.6" fill="#000"/>
<circle cx="533.1" cy="735.3" r="5.6" fill="#000"/>
<circle cx="533.1" cy="749.4" r="5.6" fill="#888"/>
<text x="543.3" y="740" font-size="12.6" text-anchor="start" fill="#000" textLength="65.6" lengthAdjust="spacingAndGlyphs">Non-event</text>
<text x="543.3" y="754.2" font-size="12.5" text-anchor="start" fill="#000" textLength="35.8" lengthAdjust="spacingAndGlyphs">Event</text>
</svg>
</body></html>
